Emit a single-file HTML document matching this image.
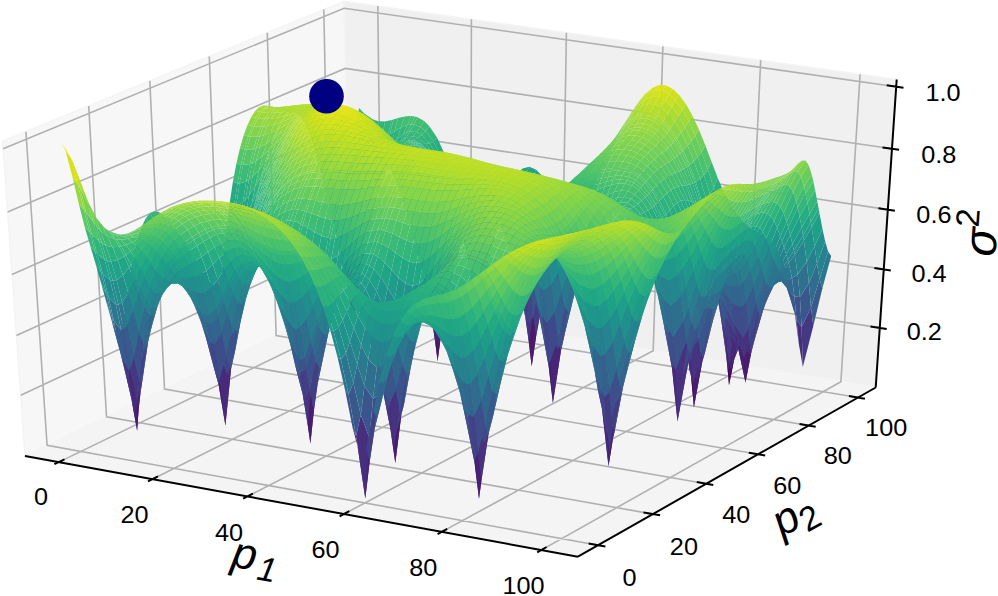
<!DOCTYPE html>
<html><head><meta charset="utf-8"><style>html,body{margin:0;padding:0;background:#fff;overflow:hidden}svg{display:block}</style></head>
<body><svg width="998" height="596" viewBox="0 0 998 596" font-family="'Liberation Sans', sans-serif">
<rect width="998" height="596" fill="#fff"/>
<path d="M25,455.9L349.2,300.5L344,1.3L2.5,141.3Z" fill="#f7f7f7" stroke="#f4f4f4" stroke-width="1.5"/>
<path d="M349.2,300.5L875.7,387.5L896.7,79.5L344,1.3Z" fill="#f0f0f0" stroke="#f4f4f4" stroke-width="1.5"/>
<path d="M25,455.9L577.9,556.7L875.7,387.5L349.2,300.5Z" fill="#f4f4f4" stroke="#f4f4f4" stroke-width="1.5"/>
<path d="M58.8,462.1L381.5,305.8L377.8,6M598.2,545.2L47.1,445.4L25.9,131.8M152.3,479.2L470.7,320.6L471.4,19.3M653,514.1L106.5,416.9L88.7,106M247.3,496.5L561.3,335.5L566.4,32.7M706.3,483.8L164.5,389.1L149.8,80.9M343.8,514.1L653.2,350.7L662.9,46.4M758.2,454.3L221,362L209.3,56.5M441.7,531.9L746.3,366.1L760.7,60.3M808.7,425.5L276.1,335.5L267.3,32.7M541.2,550.1L840.9,381.7L860.1,74.3M858,397.5L329.9,309.7L323.8,9.6M20.7,395.2L348.2,242.5L879.8,327.9M16.4,335.4L347.2,185.5L883.8,269.3M12,274.4L346.2,127.5L887.8,209.6M7.6,212.1L345.2,68.4L892,148.8M3.1,148.7L344.1,8.2L896.3,86.7" fill="none" stroke="#b0b0b0" stroke-width="1.6"/>
<path d="M25,455.9L577.9,556.7M577.9,556.7L875.7,387.5M875.7,387.5L896.7,79.5M54.4,464.2L64.5,459.3M605.4,546.5L588.6,543.4M148,481.3L158,476.3M660.1,515.3L643.5,512.4M243.1,498.6L252.9,493.6M713.3,485L696.8,482.1M339.6,516.3L349.3,511.1M765.2,455.5L748.8,452.7M437.6,534.1L447.2,528.9M815.7,426.7L799.5,424M537.2,552.3L546.6,547M864.9,398.7L848.9,396M886.7,329L870.5,326.4M890.8,270.4L874.4,267.9M894.9,210.7L878.4,208.2M899.1,149.8L882.5,147.4M903.5,87.7L886.7,85.3" fill="none" stroke="#000" stroke-width="2" stroke-linecap="butt"/>
<text transform="translate(41,505.25) scale(1.08,1)" text-anchor="middle" font-size="23.4">0</text>
<text transform="translate(134.6,522.85) scale(1.08,1)" text-anchor="middle" font-size="23.4">20</text>
<text transform="translate(229,540.75) scale(1.08,1)" text-anchor="middle" font-size="23.4">40</text>
<text transform="translate(325.5,557.95) scale(1.08,1)" text-anchor="middle" font-size="23.4">60</text>
<text transform="translate(423.2,576.05) scale(1.08,1)" text-anchor="middle" font-size="23.4">80</text>
<text transform="translate(523.6,594.25) scale(1.08,1)" text-anchor="middle" font-size="23.4">100</text>
<text transform="translate(629.4,585.85) scale(1.08,1)" text-anchor="middle" font-size="23.4">0</text>
<text transform="translate(683.9,554.65) scale(1.08,1)" text-anchor="middle" font-size="23.4">20</text>
<text transform="translate(736.2,523.35) scale(1.08,1)" text-anchor="middle" font-size="23.4">40</text>
<text transform="translate(787.2,493.75) scale(1.08,1)" text-anchor="middle" font-size="23.4">60</text>
<text transform="translate(837.7,464.15) scale(1.08,1)" text-anchor="middle" font-size="23.4">80</text>
<text transform="translate(886.2,436.25) scale(1.08,1)" text-anchor="middle" font-size="23.4">100</text>
<text transform="translate(943.1,101.15) scale(1.08,1)" text-anchor="middle" font-size="23.4">1.0</text>
<text transform="translate(938.8,162.85) scale(1.08,1)" text-anchor="middle" font-size="23.4">0.8</text>
<text transform="translate(933.9,222.75) scale(1.08,1)" text-anchor="middle" font-size="23.4">0.6</text>
<text transform="translate(929,281.95) scale(1.08,1)" text-anchor="middle" font-size="23.4">0.4</text>
<text transform="translate(924.2,340.25) scale(1.08,1)" text-anchor="middle" font-size="23.4">0.2</text>
<text transform="translate(253,570.5) rotate(10.35)" text-anchor="middle" font-size="44" font-style="italic">p<tspan font-size="34" dx="3" dy="8">1</tspan></text>
<text transform="translate(801,527) rotate(-29.1)" text-anchor="middle" font-size="44" font-style="italic">p<tspan font-size="34" font-style="normal" dy="8">2</tspan></text>
<text transform="translate(997,234) rotate(-85.9)" text-anchor="middle" font-size="47" font-style="italic">σ<tspan font-size="33" font-style="normal" dy="-19">2</tspan></text>
<g>
<path fill="#471063" d="M350.5 306l2.9 21.3 2-34.4-2.6-5.9z"/>
<path fill="#470d60" d="M348.2 294.5l2.7 7.2 2.5 25.6-2.9-21.3z"/>
<path fill="#481467" d="M353.4 327.3l3.1-28 2.4-15.4-3.5 9z"/>
<path fill="#471164" d="M350.9 301.7l3.4-11.1 2.2 8.7-3.1 28z"/>
<path fill="#463480" d="M352.8 287l2.6 5.9 2.4-33.8-2.6-2.9z"/>
<path fill="#46337f" d="M343.1 257.9l7.4 48.1 2.3-19-7.2-36.2z"/>
<path fill="#46307e" d="M341 255.2l7.2 39.3 2.3 11.5-7.4-48.1z"/>
<path fill="#453581" d="M355.4 292.9l3.5-9 2.4-28.4-3.5 3.6z"/>
<path fill="#481d6f" d="M472.5 279.7l3.1 5.2 3.5 43.6-3-21.5zM475.6 284.9l3.3-4.5 3.6 26-3.4 22.1z"/>
<path fill="#46327e" d="M343.7 258.1l2.6 2.8 4.6 40.8-2.7-7.2z"/>
<path fill="#453882" d="M356.5 299.3l5.7-42.4 2.5-6.3-5.8 33.3z"/>
<path fill="#453781" d="M354.3 290.6l5.7-36.1 2.2 2.4-5.7 42.4z"/>
<path fill="#463480" d="M346.3 260.9l3.6-3.5 4.4 33.2-3.4 11.1z"/>
<path fill="#404688" d="M345.6 250.8l7.2 36.2 2.4-30.8-6.9-22.9z"/>
<path fill="#3c508b" d="M355.2 256.2l2.6 2.9 1.6-20.2-2.6-2.3z"/>
<path fill="#3e4989" d="M358.9 283.9l5.8-33.3 2.7-16-6.1 20.9z"/>
<path fill="#3c508b" d="M357.8 259.1l3.5-3.6 1.7-18.8-3.6 2.2zM340.9 245.1l2.2 12.8 2.5-7.1-2.2-11.6z"/>
<path fill="#404688" d="M336.8 236.4l6.9 21.7 4.5 36.4-7.2-39.3z"/>
<path fill="#443a83" d="M466.1 252.1l6.4 27.6 3.6 27.3-6.3-45.1z"/>
<path fill="#3c4f8a" d="M338.8 243.1l2.2 12.1 2.1 2.7-2.2-12.8z"/>
<path fill="#375b8d" d="M348.3 233.3l6.9 22.9 1.6-19.6-6.8-17.4zM343.4 239.2l2.2 11.6 2.7-17.5-2.2-8.9z"/>
<path fill="#355f8d" d="M356.8 236.6l2.6 2.3 1.1-11.5-2.6-2z"/>
<path fill="#443b84" d="M478.9 280.4l6.6-25 3.6 9.1-6.6 41.9z"/>
<path fill="#3e4989" d="M349.9 257.4l6-19.9 4.1 17-5.7 36.1z"/>
<path fill="#355f8d" d="M359.4 238.9l3.6-2.2 1-10.9-3.5 1.6z"/>
<path fill="#365c8d" d="M361.3 255.5l6.1-20.9 1.8-13.1-6.2 15.2z"/>
<path fill="#31678e" d="M350 219.2l6.8 17.4 1.1-11.2-6.9-15zM346.1 224.4l2.2 8.9 1.7-14.1-2.1-7.3z"/>
<path fill="#33628d" d="M336 218.9l4.9 26.2 2.5-5.9-4.8-24.5z"/>
<path fill="#375b8d" d="M334.6 227.8l2.2 8.6 4.2 18.8-2.2-12.1z"/>
<path fill="#33628d" d="M333.9 218l4.9 25.1 2.1 2-4.9-26.2z"/>
<path fill="#30698e" d="M338.6 214.7l4.8 24.5 2.7-14.8-4.7-20.3z"/>
<path fill="#3f4889" d="M468.8 247.6l3.2 2.7 3.6 34.6-3.1-5.2z"/>
<path fill="#31678e" d="M363 236.7l6.2-15.2 1.1-8.3-6.3 12.6z"/>
<path fill="#440154" d="M549.1 346l3.3-11.7 1.1 3.4-3.4 16.9z"/>
<path fill="#3f4889" d="M472 250.3l3.3-1.4 3.6 31.5-3.3 4.5z"/>
<path fill="#2d718e" d="M347.9 211.9l2.1 7.3 1-8.8-2.1-6.4z"/>
<path fill="#355f8d" d="M362.2 256.9l5.9-34 2.6-3.8-6 31.5z"/>
<path fill="#2c738e" d="M341.4 204.1l4.7 20.3 1.8-12.5-4.7-17.2z"/>
<path fill="#2b748e" d="M357.9 225.4l2.6 2 3.9-38.2-2.6-1.4z"/>
<path fill="#375b8d" d="M339.3 225.2l2.6 1.8 4.4 33.9-2.6-2.8z"/>
<path fill="#355e8d" d="M360 254.5l6-32.4 2.1.8-5.9 34z"/>
<path fill="#31668e" d="M364.7 250.6l6-31.5 2.8-9.6-6.1 25.1z"/>
<path fill="#2b748e" d="M360.5 227.4l3.5-1.6 4-36.9-3.6.3z"/>
<path fill="#365c8d" d="M341.9 227l3.6-1.4 4.4 31.8-3.6 3.5z"/>
<path fill="#470e61" d="M543.7 314.6l5.4 31.4 1 8.6-5.2-38.7z"/>
<path fill="#3a548c" d="M462.4 231.8l6.4 15.8 3.7 32.1-6.4-27.6z"/>
<path fill="#306a8e" d="M329.8 208l4.8 19.8 4.2 15.3-4.9-25.1z"/>
<path fill="#297a8e" d="M351 210.4l6.9 15 3.9-37.6-6.8-9.5z"/>
<path fill="#355e8d" d="M459.6 221.3l6.5 30.8 3.7 9.8-6.4-37z"/>
<path fill="#3a538b" d="M485.5 255.4l1.9-8.2 3.7 6.8-2 10.5z"/>
<path fill="#297a8e" d="M343.2 194.7l4.7 17.2 1-7.9-4.6-15.6z"/>
<path fill="#32648e" d="M332.4 212l6.9 13.2 4.4 32.9-6.9-21.7z"/>
<path fill="#481769" d="M550.1 354.6l3.4-16.9 4.8-34.3-3.2 3.1z"/>
<path fill="#2d708e" d="M367.4 234.6l6.1-25.1 1.8-8.6-6.1 20.6z"/>
<path fill="#3a548c" d="M475.3 248.9l6.6-12.7 3.6 19.2-6.6 25z"/>
<path fill="#26818e" d="M348.9 204l2.1 6.4 4-32.1-2-4.1z"/>
<path fill="#29798e" d="M364 225.8l6.3-12.6 4.1-30.4-6.4 6.1z"/>
<path fill="#471365" d="M547.5 325l3.2-4.6 1.7 13.9-3.3 11.7z"/>
<path fill="#440256" d="M435.7 345.8l1.9 15.3 1.2-17.3-1.9-6z"/>
<path fill="#482071" d="M544.9 315.9l5.2 38.7 5-48.1-5.6-14.9z"/>
<path fill="#31668e" d="M355.9 237.5l6.1-24.5 4 9.1-6 32.4z"/>
<path fill="#2a778e" d="M369.2 221.5l6.1-20.6 1.1-5.8-6.1 18.1z"/>
<path fill="#32658e" d="M345.5 225.6l6.2-10.9 4.2 22.8-6 19.9z"/>
<path fill="#481c6e" d="M542 306.3l5.5 18.7 1.6 21-5.4-31.4z"/>
<path fill="#23888e" d="M344.3 188.4l4.6 15.6 4.1-29.8-4.6-10.6z"/>
<path fill="#2e6f8e" d="M330.3 206.2l2.1 5.8 4.4 24.4-2.2-8.6z"/>
<path fill="#481c6e" d="M552.4 334.3l4.5-24.1 1.1.7-4.5 26.8z"/>
<path fill="#2c728e" d="M368.1 222.9l1.7-8.5 2.6-3.4-1.7 8.1z"/>
<path fill="#2a778e" d="M370.7 219.1l1.7-8.1 2.8-8.4-1.7 6.9z"/>
<path fill="#33628d" d="M487.4 247.2l4.7-18.7 3.7 2.9-4.7 22.6z"/>
<path fill="#460b5e" d="M433.1 327.4l1.9 3.5 2.6 30.2-1.9-15.3z"/>
<path fill="#2f6b8e" d="M455.9 210l6.5 21.8 3.7 20.3-6.5-30.8z"/>
<path fill="#471063" d="M437.6 361.1l4.5-34.2 1.3-3.9-4.6 20.8z"/>
<path fill="#218f8d" d="M361.8 187.8l2.6 1.4 3.5-26.9-2.7-1.3z"/>
<path fill="#2c728e" d="M366 222.1l1.7-8.3 2.1.6-1.7 8.5z"/>
<path fill="#34618d" d="M481.9 236.2l1.9-5.1 3.6 16.1-1.9 8.2z"/>
<path fill="#472a7a" d="M553.5 337.7l4.5-26.8 4.6-20.6-4.3 13.1z"/>
<path fill="#218f8d" d="M364.4 189.2l3.6-.3 3.5-26.3-3.6-.3z"/>
<path fill="#20928c" d="M355 178.3l6.8 9.5 3.4-26.8-6.7-7z"/>
<path fill="#25848e" d="M370.3 213.2l6.1-18.1 4.3-22.9-6.3 10.6z"/>
<path fill="#277e8e" d="M373.5 209.5l1.7-6.9 1.9-7.6-1.8 5.9z"/>
<path fill="#29798e" d="M325.6 191.9l4.7 14.3 4.3 21.6-4.8-19.8z"/>
<path fill="#482576" d="M550.7 320.4l4.4-16.2 1.8 6-4.5 24.1z"/>
<path fill="#1f978b" d="M353 174.2l2 4.1 3.5-24.3-2-3z"/>
<path fill="#26828e" d="M375.3 200.9l1.8-5.9 1.1-5.2-1.8 5.3z"/>
<path fill="#31688e" d="M465.1 221.7l3.2 2 3.7 26.6-3.2-2.7z"/>
<path fill="#20928c" d="M368 188.9l6.4-6.1 3.5-23.3-6.4 3.1z"/>
<path fill="#297a8e" d="M453.1 194.2l6.5 27.1 3.8 3.6-6.5-30z"/>
<path fill="#481769" d="M435 330.9l4.6-13.7 2.5 9.7-4.5 34.2z"/>
<path fill="#31678e" d="M468.3 223.7l3.4-.3 3.6 25.5-3.3 1.4z"/>
<path fill="#1e9c89" d="M348.4 163.6l4.6 10.6 3.5-23.2-4.6-7.8z"/>
<path fill="#2a778e" d="M362 213l1.7-6.8 4 7.6-1.7 8.3z"/>
<path fill="#472c7a" d="M545.1 302.3l3.2-1.4 2.4 19.5-3.2 4.6z"/>
<path fill="#2e6e8e" d="M458.6 211.6l6.5 10.1 3.7 25.9-6.4-15.8z"/>
<path fill="#26828e" d="M372.4 211l4.3-17.6 2.9-6.3-4.4 15.5z"/>
<path fill="#277f8e" d="M369.8 214.4l4.3-18.4 2.6-2.6-4.3 17.6z"/>
<path fill="#482576" d="M436.9 337.8l1.9 6 3.7-45.1-1.9-1.8z"/>
<path fill="#2a768e" d="M351.7 214.7l6.2-16.5 4.1 14.8-6.1 24.5z"/>
<path fill="#443b84" d="M537.7 275.3l6 39.3 1.2 1.3-6-40.9z"/>
<path fill="#46327e" d="M539.4 291.3l5.7 11 2.4 22.7-5.5-18.7z"/>
<path fill="#218e8d" d="M376.4 195.1l1.8-5.3 4.3-20.9-1.8 3.3z"/>
<path fill="#482677" d="M429 298.2l6.7 47.6 1.2-8-6.6-41.8z"/>
<path fill="#2f6c8e" d="M483.8 231.1l4.7-12.7 3.6 10.1-4.7 18.7z"/>
<path fill="#24878e" d="M375.2 202.6l4.4-15.5 1.9-5.7-4.4 13.6z"/>
<path fill="#414287" d="M555.1 306.5l3.2-3.1 4.2-36-3.2.8z"/>
<path fill="#297a8e" d="M334.5 195.7l2.6 1.3 4.8 30-2.6-1.8z"/>
<path fill="#277e8e" d="M367.7 213.8l4.3-18 2.1.2-4.3 18.4z"/>
<path fill="#414487" d="M538.9 275l6 40.9 4.6-24.3-6.1-29.9z"/>
<path fill="#2e6d8e" d="M471.7 223.4l6.5-6.4 3.7 19.2-6.6 12.7z"/>
<path fill="#228b8d" d="M377.1 195l4.4-13.6 1.2-4-4.5 12.4z"/>
<path fill="#297a8e" d="M337.1 197l3.7-.3 4.7 28.9-3.6 1.4z"/>
<path fill="#3f4788" d="M549.5 291.6l5.6 14.9 4.2-38.3-5.7-8.4z"/>
<path fill="#20a386" d="M365.2 161l2.7 1.3 3.5-22.8-2.6-1.2z"/>
<path fill="#48186a" d="M528.8 341.7l2.9 24.5 4.5-46.1-3.1-4.6z"/>
<path fill="#1f988b" d="M374.4 182.8l6.3-10.6 3.6-19-6.4 6.3z"/>
<path fill="#21a685" d="M358.5 154l6.7 7 3.6-22.7-6.7-5.5z"/>
<path fill="#1fa287" d="M367.9 162.3l3.6.3 3.6-22.4-3.7-.7z"/>
<path fill="#277f8e" d="M327.7 187l6.8 8.7 4.8 29.5-6.9-13.2z"/>
<path fill="#423f85" d="M535.9 273.4l6.1 32.9 1.7 8.3-6-39.3z"/>
<path fill="#472c7a" d="M438.8 343.8l4.6-20.8 3.7-30.5-4.6 6.2z"/>
<path fill="#23a983" d="M356.5 151l2 3 3.6-21.2-2.1-2.3z"/>
<path fill="#26818e" d="M449.4 188.5l6.5 21.5 3.7 11.3-6.5-27.1z"/>
<path fill="#453581" d="M548.3 300.9l4.2-8.5 2.6 11.8-4.4 16.2z"/>
<path fill="#472c7a" d="M426.5 293.2l6.6 34.2 2.6 18.4-6.7-47.6z"/>
<path fill="#481b6d" d="M531.7 366.2l4.5-30.5 4.2-22.4-4.2 6.8z"/>
<path fill="#26ad81" d="M351.9 143.2l4.6 7.8 3.5-20.5-4.5-6z"/>
<path fill="#20a486" d="M371.5 162.6l6.4-3.1 3.6-20.4-6.4 1.1z"/>
<path fill="#48186a" d="M525.7 318.8l3.1 5.9 2.9 41.5-2.9-24.5z"/>
<path fill="#297b8e" d="M452.1 196.5l6.5 15.1 3.8 20.2-6.5-21.8z"/>
<path fill="#1f948c" d="M378.2 189.8l4.5-12.4 4.3-16.7-4.5 8.2z"/>
<path fill="#3e4a89" d="M558.3 303.4l4.3-13.1 4.2-29.2-4.3 6.3z"/>
<path fill="#25858e" d="M325.6 183.1l2.1 3.9 4.7 25-2.1-5.8z"/>
<path fill="#2a778e" d="M492.1 228.5l6.7-22.2 3.7-.3-6.7 25.4z"/>
<path fill="#26828e" d="M363.7 206.2l4.4-15.4 3.9 5-4.3 18z"/>
<path fill="#277f8e" d="M340.8 196.7l6.3-5.9 4.6 23.9-6.2 10.9z"/>
<path fill="#472a7a" d="M431.2 308.1l1.9 2.1 1.9 20.7-1.9-3.5z"/>
<path fill="#1f9e89" d="M380.7 172.2l1.8-3.3 3.6-17.8-1.8 2.1z"/>
<path fill="#2c738e" d="M478.2 217l1.9-2.9 3.7 17-1.9 5.1z"/>
<path fill="#443983" d="M430.3 296l6.6 41.8 3.7-40.9-6.6-21.1z"/>
<path fill="#481b6d" d="M528.8 324.7l4.2-8.4 3.2 19.4-4.5 30.5z"/>
<path fill="#424186" d="M556.9 310.2l7.2-34.4 1.1-.5-7.2 35.6z"/>
<path fill="#26828e" d="M357.9 198.2l1.8-5 4 13-1.7 6.8z"/>
<path fill="#21908d" d="M446.6 172.1l6.5 22.1 3.8.7-6.5-23.9z"/>
<path fill="#228c8d" d="M321 173.1l4.6 10 4.7 23.1-4.7-14.3z"/>
<path fill="#22a884" d="M377.9 159.5l6.4-6.3 3.6-17.5-6.4 3.4z"/>
<path fill="#3f4889" d="M558 310.9l7.2-35.6 4.5-12.2-7.1 27.2z"/>
<path fill="#2fb47c" d="M368.8 138.3l2.6 1.2 3.6-19.2-2.6-1.2z"/>
<path fill="#32b67a" d="M362.1 132.8l6.7 5.5 3.6-19.2-6.7-4.6z"/>
<path fill="#375a8c" d="M543.4 261.7l6.1 29.9 4.1-31.8-6.3-19.1z"/>
<path fill="#3e4989" d="M533.1 267.5l6.3 23.8 2.6 15-6.1-32.9z"/>
<path fill="#472f7d" d="M433.1 310.2l4.6-7.7 1.9 14.7-4.6 13.7z"/>
<path fill="#37b878" d="M360 130.5l2.1 2.3 3.6-18.3-2.1-1.8z"/>
<path fill="#2eb37c" d="M371.4 139.5l3.7.7 3.6-18.9-3.7-1z"/>
<path fill="#424086" d="M542.7 290.5l3.2-.1 2.4 10.5-3.2 1.4z"/>
<path fill="#1fa287" d="M382.5 168.9l4.5-8.2 3.7-14.9-4.6 5.3z"/>
<path fill="#414487" d="M555.1 304.2l7.1-29.4 1.9 1-7.2 34.4z"/>
<path fill="#3aba76" d="M355.5 124.5l4.5 6 3.6-17.8-4.5-4.7z"/>
<path fill="#20928c" d="M376.7 193.4l6.3-19.9 2.9-4.3-6.3 17.9z"/>
<path fill="#1f958b" d="M379.6 187.1l6.3-17.9 1.9-4-6.3 16.2z"/>
<path fill="#414487" d="M537 281.8l5.7 8.7 2.4 11.8-5.7-11z"/>
<path fill="#1f988b" d="M381.5 181.4l6.3-16.2 1.2-2.8-6.3 15z"/>
<path fill="#21908d" d="M374.1 196l6.2-20.6 2.7-1.9-6.3 19.9z"/>
<path fill="#2fb47c" d="M375.1 140.2l6.4-1.1 3.6-17.7-6.4-.1z"/>
<path fill="#287d8e" d="M488.5 218.4l6.6-16.5 3.7 4.4-6.7 22.2z"/>
<path fill="#297a8e" d="M480.1 214.1l4.7-7.8 3.7 12.1-4.7 12.7z"/>
<path fill="#25ac82" d="M384.3 153.2l1.8-2.1 3.7-16.6-1.9 1.2z"/>
<path fill="#443983" d="M442.1 326.9l6.4-40 1.3-1.6-6.4 37.7z"/>
<path fill="#46327e" d="M523.4 303l5.4 38.7 4.3-26.2-5.6-21.7z"/>
<path fill="#238a8d" d="M445.6 180.3l6.5 16.2 3.8 13.5-6.5-21.5z"/>
<path fill="#1fa088" d="M382.7 177.4l6.3-15 4.4-12.1-6.4 10.4z"/>
<path fill="#21908d" d="M372 195.8l6.2-20.3 2.1-.1-6.2 20.6z"/>
<path fill="#20928c" d="M442.8 169.8l6.6 18.7 3.7 5.7-6.5-22.1z"/>
<path fill="#404588" d="M545.9 290.4l4.2-5.3 2.4 7.3-4.2 8.5z"/>
<path fill="#443b84" d="M424.6 283.6l6.6 24.5 1.9 19.3-6.6-34.2z"/>
<path fill="#277f8e" d="M460.8 199.5l3.1 1.7 4.4 22.5-3.2-2z"/>
<path fill="#443983" d="M533.1 315.5l3.1 4.6 4-24.9-3.2-1.8z"/>
<path fill="#23898e" d="M347.1 190.8l6.3-10.3 4.5 17.7-6.2 16.5z"/>
<path fill="#277f8e" d="M463.9 201.2l3.4.5 4.4 21.7-3.4.3z"/>
<path fill="#228c8d" d="M359.7 193.2l4.4-11.9 4 9.5-4.4 15.4z"/>
<path fill="#32b67a" d="M381.5 139.1l6.4-3.4 3.7-15.7-6.5 1.4z"/>
<path fill="#28ae80" d="M386.1 151.1l4.6-5.3 3.7-14.4-4.6 3.1z"/>
<path fill="#26828e" d="M454.2 192.5l6.6 7 4.3 22.2-6.5-10.1z"/>
<path fill="#433d84" d="M439.6 317.2l6.4-33.6 2.5 3.3-6.4 40z"/>
<path fill="#32648e" d="M559.3 268.2l3.2-.8 4.2-31.6-3.2 0z"/>
<path fill="#31678e" d="M553.6 259.8l5.7 8.4 4.2-32.4-5.8-5.6z"/>
<path fill="#375b8d" d="M562.6 290.3l7.1-27.2 4-19.2-6.9 17.2z"/>
<path fill="#3e4c8a" d="M552.5 292.4l7-21.3 2.7 3.7-7.1 29.4z"/>
<path fill="#443b84" d="M536.2 320.1l4.2-6.8 4-21.8-4.2 3.7z"/>
<path fill="#24aa83" d="M387 160.7l6.4-10.4 3.7-11.4-6.4 6.9z"/>
<path fill="#46337f" d="M520.1 293.3l5.6 25.5 3.1 22.9-5.4-38.7z"/>
<path fill="#3e4989" d="M540.8 286.9l3.1.6 2 2.9-3.2.1z"/>
<path fill="#3e4a89" d="M425.5 276.8l3.5 21.4 1.3-2.2-3.5-20.7z"/>
<path fill="#3c508b" d="M440.6 296.9l1.9 1.8 3.7-36.1-1.9-1.1z"/>
<path fill="#34608d" d="M531.5 243.9l6.2 31.4 1.2-.3-6.2-32z"/>
<path fill="#35b779" d="M387.9 135.7l1.9-1.2 3.7-15.1-1.9.6z"/>
<path fill="#404688" d="M443.4 323l6.4-37.7 3.8-15-6.5 22.2z"/>
<path fill="#32648e" d="M532.7 243l6.2 32 4.5-13.3-6.3-27.9z"/>
<path fill="#1fa188" d="M440.1 154.7l6.5 17.4 3.8-1.1-6.6-18.7z"/>
<path fill="#3d4d8a" d="M535 278.3l5.8 8.6 1.9 3.6-5.7-8.7z"/>
<path fill="#3a538b" d="M530.6 262.6l6.4 19.2 2.4 9.5-6.3-23.8z"/>
<path fill="#26818e" d="M467.3 201.7l6.6-2.4 4.3 17.7-6.5 6.4z"/>
<path fill="#20928c" d="M368.1 190.8l6.2-18.2 3.9 2.9-6.2 20.3z"/>
<path fill="#414487" d="M527.5 293.8l5.6 21.7 3.9-22.1-5.7-11.9z"/>
<path fill="#31678e" d="M562.5 267.4l4.3-6.3 4.1-28.5-4.2 3.2z"/>
<path fill="#228b8d" d="M447.7 182.3l6.5 10.2 4.4 19.1-6.5-15.1z"/>
<path fill="#20928c" d="M330.5 174.8l2.6 1.1 4 21.1-2.6-1.3z"/>
<path fill="#3f4889" d="M537 293.4l3.2 1.8 3.7-7.7-3.1-.6z"/>
<path fill="#34608d" d="M529.6 244l6.3 29.4 1.8 1.9-6.2-31.4z"/>
<path fill="#3b528b" d="M442.5 298.7l4.6-6.2 3.7-32.1-4.6 2.2z"/>
<path fill="#38b977" d="M389.8 134.5l4.6-3.1 3.7-13.4-4.6 1.4z"/>
<path fill="#238a8d" d="M498.8 206.3l6.7-16.4 3.7-2.3-6.7 18.4z"/>
<path fill="#3e4c8a" d="M543.9 287.5l4.3-4 1.9 1.6-4.2 5.3z"/>
<path fill="#424186" d="M429.2 289.3l1.9 1.6 2 19.3-1.9-2.1z"/>
<path fill="#3a538b" d="M426.8 275.3l3.5 20.7 3.7-20.2-3.4-14.9z"/>
<path fill="#3d4d8a" d="M423 273.7l3.5 19.5 2.5 5-3.5-21.4z"/>
<path fill="#1f958b" d="M323.7 168.2l6.8 6.6 4 20.9-6.8-8.7z"/>
<path fill="#2eb37c" d="M390.7 145.8l6.4-6.9 3.7-11.4-6.4 3.9z"/>
<path fill="#20928c" d="M333.1 175.9l3.7.2 4 20.6-3.7.3z"/>
<path fill="#2d718e" d="M547.3 240.7l6.3 19.1 4.1-29.6-6.4-12.5z"/>
<path fill="#1f998a" d="M439 165.5l6.6 14.8 3.8 8.2-6.6-18.7z"/>
<path fill="#3d4e8a" d="M531.3 281.5l5.7 11.9 3.8-6.5-5.8-8.6z"/>
<path fill="#38598c" d="M434 275.8l6.6 21.1 3.7-35.4-6.6-12.1z"/>
<path fill="#25858e" d="M484.8 206.3l6.6-11 3.7 6.6-6.6 16.5z"/>
<path fill="#20928c" d="M353.4 180.5l1.8-3.3 4.5 16-1.8 5z"/>
<path fill="#2d708e" d="M537.1 233.8l6.3 27.9 3.9-21-6.3-21z"/>
<path fill="#3e4a89" d="M540.2 295.2l4.2-3.7 3.8-8-4.3 4z"/>
<path fill="#25848e" d="M473.9 199.3l1.9-1.4 4.3 16.2-1.9 2.9z"/>
<path fill="#443b84" d="M536.2 335.7l7.1-41.1 4.1-7.6-7 26.3z"/>
<path fill="#1f998a" d="M321.6 165.3l2.1 2.9 4 18.8-2.1-3.9z"/>
<path fill="#1fa287" d="M436.3 154.7l6.5 15.1 3.8 2.3-6.5-17.4z"/>
<path fill="#21a585" d="M387.8 165.2l6.4-12.1 1.1-2-6.3 11.3z"/>
<path fill="#20a386" d="M385.9 169.2l6.3-13.3 2-2.8-6.4 12.1z"/>
<path fill="#404588" d="M431.1 290.9l4.6-4.6 2 16.2-4.6 7.7z"/>
<path fill="#24aa83" d="M389 162.4l6.3-11.3 4.5-8.7-6.4 7.9z"/>
<path fill="#1fa187" d="M383 173.5l6.3-14.6 2.9-3-6.3 13.3z"/>
<path fill="#3dbc74" d="M394.4 131.4l6.4-3.9 3.8-11.1-6.5 1.6z"/>
<path fill="#3a538b" d="M550.1 285.1l6.9-16.5 2.5 2.5-7 21.3z"/>
<path fill="#32648e" d="M526.8 242.5l6.3 25 2.8 5.9-6.3-29.4z"/>
<path fill="#1f948c" d="M336.8 176.1l6.4-3.4 3.9 18.1-6.3 5.9z"/>
<path fill="#375a8c" d="M528.7 260.5l6.3 17.8 2 3.5-6.4-19.2z"/>
<path fill="#2ab07f" d="M393.4 150.3l6.4-7.9 3.7-8.5-6.4 5z"/>
<path fill="#3f4788" d="M437.7 302.5l6.4-25.8 1.9 6.9-6.4 33.6z"/>
<path fill="#1f9e89" d="M317 157.7l4.6 7.6 4 17.8-4.6-10z"/>
<path fill="#1fa088" d="M380.3 175.4l6.3-15.1 2.7-1.4-6.3 14.6z"/>
<path fill="#1f968b" d="M441.1 170.8l6.6 11.5 4.4 14.2-6.5-16.2z"/>
<path fill="#228c8d" d="M495.1 201.9l6.7-12.7 3.7.7-6.7 16.4z"/>
<path fill="#27ad81" d="M433.5 141.6l6.6 13.1 3.7-2.4-6.5-14.2z"/>
<path fill="#3d4d8a" d="M422.6 271.2l6.6 18.1 2 18.8-6.6-24.5z"/>
<path fill="#23888e" d="M475.8 197.9l4.6-3.9 4.4 12.3-4.7 7.8z"/>
<path fill="#440154" d="M727.8 371.3l1.2 13.9 1.8-15.5-1.6-5.6z"/>
<path fill="#228c8d" d="M459.6 195l3.1 1.6 1.2 4.6-3.1-1.7z"/>
<path fill="#35b779" d="M397.1 138.9l6.4-5 3.8-9-6.5 2.6z"/>
<path fill="#433d84" d="M533 316.3l7-29.7 3.3 8-7.1 41.1z"/>
<path fill="#1f998a" d="M364.1 181.3l6.3-14.7 3.9 6-6.2 18.2z"/>
<path fill="#228b8d" d="M462.7 196.6l3.4.7 1.2 4.4-3.4-.5z"/>
<path fill="#218f8d" d="M453 188.5l6.6 6.5 1.2 4.5-6.6-7z"/>
<path fill="#3a548c" d="M421.1 267l3.5 16.6 1.9 9.6-3.5-19.5z"/>
<path fill="#1fa188" d="M378.2 175.5l6.3-15 2.1-.2-6.3 15.1z"/>
<path fill="#3e4a89" d="M540.4 313.3l7-26.3 3.8-11.9-6.8 16.4z"/>
<path fill="#2d718e" d="M566.8 261.1l6.9-17.2 4-22-6.8 10.7z"/>
<path fill="#1f988b" d="M355.2 177.2l4.5-8.3 4.4 12.4-4.4 11.9z"/>
<path fill="#42be71" d="M400.8 127.5l6.5-2.6 3.8-9-6.5.5z"/>
<path fill="#365c8d" d="M524.9 261.4l6.4 20.1 3.7-3.2-6.3-17.8z"/>
<path fill="#21a585" d="M432.4 153.2l6.6 12.3 3.8 4.3-6.5-15.1z"/>
<path fill="#355e8d" d="M422.3 258.9l3.2 17.9 1.3-1.5-3.2-17.5z"/>
<path fill="#27ad81" d="M429.7 143.5l6.6 11.2 3.8 0-6.6-13.1z"/>
<path fill="#31668e" d="M430.6 260.9l3.4 14.9 3.7-26.4-3.4-9.6z"/>
<path fill="#355e8d" d="M447.1 292.5l6.5-22.2 3.8-21.6-6.6 11.7z"/>
<path fill="#38588c" d="M548.2 283.5l6.8-14.8 2-.1-6.9 16.5z"/>
<path fill="#277e8e" d="M541 219.7l6.3 21 4-23-6.4-14.8z"/>
<path fill="#228d8d" d="M466.1 197.3l6.6-1.7 1.2 3.7-6.6 2.4z"/>
<path fill="#1f958b" d="M446.5 179.1l6.5 9.4 1.2 4-6.5-10.2z"/>
<path fill="#31b57b" d="M399.8 142.4l3.7-3.1 3.7-7.1-3.7 1.7z"/>
<path fill="#2ab07f" d="M395.3 151.1l3.7-4.6 4.5-7.2-3.7 3.1z"/>
<path fill="#38588c" d="M521.2 266.3l6.3 27.5 3.8-12.3-6.4-20.1z"/>
<path fill="#33638d" d="M423.6 257.8l3.2 17.5 3.8-14.4-3.2-13.9z"/>
<path fill="#3aba76" d="M403.5 133.9l3.7-1.7 3.8-7.8-3.7.5z"/>
<path fill="#26ad81" d="M394.2 153.1l3.6-5 1.2-1.6-3.7 4.6z"/>
<path fill="#3b528b" d="M517.2 268.9l6.2 34.1 4.1-9.2-6.3-27.5z"/>
<path fill="#31688e" d="M524.3 240.8l6.3 21.8 2.5 4.9-6.3-25z"/>
<path fill="#34b679" d="M425.6 131.1l7.9 10.5 3.8-3.5-7.9-11.9z"/>
<path fill="#424186" d="M522.3 285.1l3.2 2.5 3.3 37.1-3.1-5.9z"/>
<path fill="#450559" d="M726.6 358.3l1.6 4.2.8 22.7-1.2-13.9z"/>
<path fill="#277f8e" d="M557.7 230.2l5.8 5.6 4.1-27.7-5.8-4z"/>
<path fill="#33638d" d="M564.1 275.8l7.1-29 1.2-1-7.2 29.5z"/>
<path fill="#31678e" d="M565.2 275.3l7.2-29.5 4.4-8.9-7.1 26.2z"/>
<path fill="#25ac82" d="M392.2 155.9l3.7-5.6 1.9-2.2-3.6 5z"/>
<path fill="#44bf70" d="M407.3 124.9l3.7-.5 3.8-8-3.7-.5z"/>
<path fill="#39558c" d="M544.4 291.5l6.8-16.4 3.8-6.4-6.8 14.8z"/>
<path fill="#277e8e" d="M563.5 235.8l3.2 0 4.1-27.4-3.2-.3z"/>
<path fill="#46085c" d="M729 385.2l5.2-25.9 1.3-4.4-4.7 14.8z"/>
<path fill="#1fa188" d="M434.5 159.8l6.6 11 4.5 9.5-6.6-14.8z"/>
<path fill="#1e9b8a" d="M343.2 172.7l6.3-6.6 3.9 14.4-6.3 10.3z"/>
<path fill="#355f8d" d="M419.8 256.8l3.2 16.9 2.5 3.1-3.2-17.9z"/>
<path fill="#20928c" d="M457.6 188.8l3.2 1.7 1.9 6.1-3.1-1.6z"/>
<path fill="#3bbb75" d="M407.2 132.2l2.8-.7 3.8-6.9-2.8-.2z"/>
<path fill="#44bf70" d="M411 124.4l2.8.2 3.8-7.4-2.8-.8z"/>
<path fill="#1fa287" d="M374.3 172.6l6.3-13.7 3.9 1.6-6.3 15z"/>
<path fill="#25ab82" d="M389.3 158.9l3.6-6.2 3-2.4-3.7 5.6z"/>
<path fill="#34b679" d="M403.5 139.3l2.7-1.6 3.8-6.2-2.8.7z"/>
<path fill="#1f988b" d="M505.5 189.9l6.6-10.6 3.8-4.1-6.7 12.4z"/>
<path fill="#1f948c" d="M451.1 182.9l6.5 5.9 2 6.2-6.6-6.5z"/>
<path fill="#21918c" d="M460.8 190.5l3.4.9 1.9 5.9-3.4-.7z"/>
<path fill="#33638d" d="M562.2 274.8l7.1-27.3 1.9-.7-7.1 29z"/>
<path fill="#218f8d" d="M472.7 195.6l1.9-1 1.2 3.3-1.9 1.4z"/>
<path fill="#21918c" d="M491.4 195.3l6.6-8.7 3.8 2.6-6.7 12.7z"/>
<path fill="#414487" d="M525.5 287.6l4.2-3.4 3.3 32.1-4.2 8.4z"/>
<path fill="#297b8e" d="M526.4 218.6l6.3 24.4 4.4-9.2-6.3-22.2z"/>
<path fill="#471365" d="M221.1 384l1.3-16 2.3-27.6-1.9 2.5z"/>
<path fill="#3fbc73" d="M420.4 126.9l5.2 4.2 3.8-4.9-5.3-5.1z"/>
<path fill="#42be71" d="M413.8 124.6l6.6 2.3 3.7-5.8-6.5-3.9z"/>
<path fill="#32b67a" d="M421.8 134.9l7.9 8.6 3.8-1.9-7.9-10.5z"/>
<path fill="#25848e" d="M551.3 217.7l6.4 12.5 4.1-26.1-6.5-8.5z"/>
<path fill="#2eb37c" d="M399 146.5l2.8-2.7 4.4-6.1-2.7 1.6z"/>
<path fill="#277f8e" d="M566.7 235.8l4.2-3.2 4.1-25.8-4.2 1.6z"/>
<path fill="#21908d" d="M480.4 194l6.6-6 4.4 7.3-6.6 11z"/>
<path fill="#2a788e" d="M525.2 219.6l6.3 24.3 1.2-.9-6.3-24.4z"/>
<path fill="#3bbb75" d="M410 131.5l6.6.6 3.8-5.2-6.6-2.3z"/>
<path fill="#28ae80" d="M425.9 144.1l6.5 9.1 3.9 1.5-6.6-11.2z"/>
<path fill="#1f9e89" d="M439.9 168.5l6.6 10.6 1.2 3.2-6.6-11.5z"/>
<path fill="#2e6d8e" d="M444.3 261.5l1.9 1.1 3.8-28.2-2-.9z"/>
<path fill="#26828e" d="M530.8 211.6l6.3 22.2 3.9-14.1-6.4-17.9z"/>
<path fill="#2ab07f" d="M397.8 148.1l2.8-3 1.2-1.3-2.8 2.7z"/>
<path fill="#2c718e" d="M569.7 263.1l7.1-26.2 3.9-13.2-7 20.2z"/>
<path fill="#24aa83" d="M386.6 160.3l3.7-6.4 2.6-1.2-3.6 6.2z"/>
<path fill="#470d60" d="M728.2 362.5l4.5-7.7 1.5 4.5-5.2 25.9z"/>
<path fill="#3aba76" d="M416.6 132.1l5.2 2.8 3.8-3.8-5.2-4.2z"/>
<path fill="#1f9a8a" d="M444.5 174.5l6.6 8.4 1.9 5.6-6.5-9.4z"/>
<path fill="#20928c" d="M464.2 191.4l6.6-.7 1.9 4.9-6.6 1.7z"/>
<path fill="#37b878" d="M406.2 137.7l6.6-1.4 3.8-4.2-6.6-.6z"/>
<path fill="#2a788e" d="M523.3 220.6l6.3 23.4 1.9-.1-6.3-24.3z"/>
<path fill="#2f6b8e" d="M522.3 240l6.4 20.5 1.9 2.1-6.3-21.8z"/>
<path fill="#29af7f" d="M395.9 150.3l2.7-3.3 2-1.9-2.8 3z"/>
<path fill="#3a548c" d="M435.7 286.3l6.5-19.2 1.9 9.6-6.4 25.8z"/>
<path fill="#2e6e8e" d="M446.2 262.6l4.6-2.2 3.8-26.5-4.6.5z"/>
<path fill="#20928c" d="M474.6 194.6l4.7-3.2 1.1 2.6-4.6 3.9z"/>
<path fill="#2c718e" d="M437.7 249.4l6.6 12.1 3.7-28-6.5-7.8z"/>
<path fill="#2d708e" d="M427.4 247l3.2 13.9 3.7-21.1-3.2-9.8z"/>
<path fill="#39558c" d="M513.8 263.7l6.3 29.6 3.3 9.7-6.2-34.1z"/>
<path fill="#1f978b" d="M501.8 189.2l6.6-8 3.7-1.9-6.6 10.6z"/>
<path fill="#355f8d" d="M419.1 257.7l3.5 13.5 2 12.4-3.5-16.6z"/>
<path fill="#24aa83" d="M427.9 150.6l6.6 9.2 4.5 5.7-6.6-12.3z"/>
<path fill="#32658e" d="M559.5 271.1l7-23.7 2.8.1-7.1 27.3z"/>
<path fill="#31b57b" d="M418 137.8l7.9 6.3 3.8-.6-7.9-8.6z"/>
<path fill="#481b6d" d="M215.3 348l5.8 36 1.7-41.1-4.9-12.8z"/>
<path fill="#3d4e8a" d="M516.6 271.6l5.7 13.5 3.4 33.7-5.6-25.5z"/>
<path fill="#28ae80" d="M392.9 152.7l2.8-3.7 2.9-2-2.7 3.3z"/>
<path fill="#32b67a" d="M401.8 143.8l6.5-3.6 4.5-3.9-6.6 1.4z"/>
<path fill="#37b878" d="M412.8 136.3l5.2 1.5 3.8-2.9-5.2-2.8z"/>
<path fill="#24aa83" d="M384.5 160.5l3.7-6.4 2.1-.2-3.7 6.4z"/>
<path fill="#1fa188" d="M349.5 166.1l1.9-2.3 3.8 13.4-1.8 3.3z"/>
<path fill="#20928c" d="M470.8 190.7l1.9-.7 1.9 4.6-1.9 1z"/>
<path fill="#32648e" d="M417.9 251.8l3.2 15.2 1.9 6.7-3.2-16.9z"/>
<path fill="#20a486" d="M326.2 156.3l2.6 1 4.3 18.6-2.6-1.1z"/>
<path fill="#22a785" d="M319.4 151.1l6.8 5.2 4.3 18.5-6.8-6.6z"/>
<path fill="#218e8d" d="M544.9 202.9l6.4 14.8 4-22.1-6.5-10.2z"/>
<path fill="#228c8d" d="M534.6 201.8l6.4 17.9 3.9-16.8-6.4-13.4z"/>
<path fill="#1fa188" d="M438 165.2l6.5 9.3 2 4.6-6.6-10.6z"/>
<path fill="#1fa287" d="M359.7 168.9l6.4-10.7 4.3 8.4-6.3 14.7z"/>
<path fill="#29798e" d="M520.4 221.1l6.4 21.4 2.8 1.5-6.3-23.4z"/>
<path fill="#21a685" d="M433.3 158.3l6.6 10.2 1.2 2.3-6.6-11z"/>
<path fill="#20a486" d="M328.8 157.3l3.7.4 4.3 18.4-3.7-.2z"/>
<path fill="#2fb47c" d="M400.6 145.1l6.5-4 1.2-.9-6.5 3.6z"/>
<path fill="#355f8d" d="M448.5 286.9l6.6-30.8 1.3-.8-6.6 30z"/>
<path fill="#24aa83" d="M317.3 149l2.1 2.1 4.3 17.1-2.1-2.9z"/>
<path fill="#1f9f88" d="M512.1 179.3l2.4-2.4 3.8-4.7-2.4 3z"/>
<path fill="#2e6d8e" d="M518.6 240.3l6.3 21.1 3.8-.9-6.4-20.5z"/>
<path fill="#28ae80" d="M390.3 153.9l2.7-3.9 2.7-1-2.8 3.7z"/>
<path fill="#1f978b" d="M454.7 182.2l3.2 1.8 2.9 6.5-3.2-1.7z"/>
<path fill="#25848e" d="M570.9 232.6l6.8-10.7 4.1-21.8-6.8 6.7z"/>
<path fill="#22a785" d="M370.4 166.6l6.3-11.5 3.9 3.8-6.3 13.7z"/>
<path fill="#33638d" d="M449.8 285.3l6.6-30 3.8-8.1-6.6 23.1z"/>
<path fill="#2a788e" d="M434.3 239.8l3.4 9.6 3.8-23.7-3.5-6.4z"/>
<path fill="#2fb47c" d="M398.6 147l6.5-4.8 2-1.1-6.5 4z"/>
<path fill="#2cb17e" d="M421.4 143.9l6.5 6.7 4.5 2.6-6.5-9.1z"/>
<path fill="#1f9a8a" d="M448.2 176.7l6.5 5.5 2.9 6.6-6.5-5.9z"/>
<path fill="#1f978b" d="M457.9 184l3.4 1.2 2.9 6.2-3.4-.9z"/>
<path fill="#34b679" d="M408.3 140.2l5.2-.1 4.5-2.3-5.2-1.5z"/>
<path fill="#1f948c" d="M472.7 190l4.6-2.1 2 3.5-4.7 3.2z"/>
<path fill="#27ad81" d="M312.7 143.2l4.6 5.8 4.3 16.3-4.6-7.6z"/>
<path fill="#481b6d" d="M214.3 333.4l1.9-.8 6.2 35.4-1.3 16z"/>
<path fill="#32b67a" d="M413.5 140.1l7.9 3.8 4.5.2-7.9-6.3z"/>
<path fill="#1f968b" d="M479.3 191.4l6.6-5 1.1 1.6-6.6 6z"/>
<path fill="#31688e" d="M557 268.6l7-21.1 2.5-.1-7 23.7z"/>
<path fill="#25ac82" d="M380.6 158.9l3.7-6 3.9 1.2-3.7 6.4z"/>
<path fill="#1f998a" d="M498 186.6l6.7-5 3.7-.4-6.6 8z"/>
<path fill="#2c728e" d="M450.8 260.4l6.6-11.7 3.8-20.8-6.6 6z"/>
<path fill="#277f8e" d="M573.7 243.9l7-20.2 4-16.3-7 14.5z"/>
<path fill="#1f978b" d="M487 188l6.7-4.7 4.3 3.3-6.6 8.7z"/>
<path fill="#21a685" d="M332.5 157.7l6.4-1.6 4.3 16.6-6.4 3.4z"/>
<path fill="#1fa088" d="M441.6 169.4l6.6 7.3 2.9 6.2-6.6-8.4z"/>
<path fill="#34608d" d="M446 283.6l6.6-29.2 2.5 1.7-6.6 30.8z"/>
<path fill="#355e8d" d="M425.2 256.7l1.9 1.1 4 33.1-1.9-1.6z"/>
<path fill="#1f978b" d="M461.3 185.2l6.6.6 2.9 4.9-6.6.7z"/>
<path fill="#2eb37c" d="M395.7 149l6.5-5.6 2.9-1.2-6.5 4.8z"/>
<path fill="#22a884" d="M431.4 156.2l6.6 9 1.9 3.3-6.6-10.2z"/>
<path fill="#27ad81" d="M426.8 149.8l6.5 8.5 1.2 1.5-6.6-9.2z"/>
<path fill="#21a585" d="M351.4 163.8l4.5-5.7 3.8 10.8-4.5 8.3z"/>
<path fill="#1e9d89" d="M508.4 181.2l2.3-1.6 3.8-2.7-2.4 2.4z"/>
<path fill="#28ae80" d="M388.2 154.1l2.7-3.9 2.1-.2-2.7 3.9z"/>
<path fill="#297b8e" d="M517.9 221l6.4 19.8 2.5 1.7-6.4-21.4z"/>
<path fill="#34b679" d="M407.1 141.1l5.2-.6 1.2-.4-5.2.1z"/>
<path fill="#1fa187" d="M514.5 176.9l4.3-2.6 3.8-5.9-4.3 3.8z"/>
<path fill="#2e6d8e" d="M514.8 242.3l6.4 24 3.7-4.9-6.3-21.1z"/>
<path fill="#21908d" d="M524.4 195.6l6.4 16 3.8-9.8-6.4-13.2z"/>
<path fill="#1f978b" d="M538.5 189.5l6.4 13.4 3.9-17.5-6.5-9.3z"/>
<path fill="#482475" d="M723.1 323.8l4.7 47.5 1.4-7.2-4.9-42.2z"/>
<path fill="#2a778e" d="M416.9 226.2l6.7 31.6 3.8-10.8-6.7-27.1z"/>
<path fill="#2c738e" d="M415.6 226.8l6.7 32.1 1.3-1.1-6.7-31.6z"/>
<path fill="#228b8d" d="M520 201l6.4 17.6 4.4-7-6.4-16z"/>
<path fill="#482677" d="M729.2 364.1l1.6 5.6 6.4-51.7-1.8-1.8z"/>
<path fill="#355f8d" d="M427.1 257.8l4.7-1.6 3.9 30.1-4.6 4.6z"/>
<path fill="#277f8e" d="M431.1 230l3.2 9.8 3.7-20.5-3.1-6.8z"/>
<path fill="#1f988b" d="M467.9 185.8l1.9-.3 2.9 4.5-1.9.7z"/>
<path fill="#34b679" d="M405.1 142.2l5.2-1.1 2-.6-5.2.6z"/>
<path fill="#2eb37c" d="M420.2 143.8l6.6 6 1.1.8-6.5-6.7z"/>
<path fill="#21a585" d="M435 161.3l6.6 8.1 2.9 5.1-6.5-9.3z"/>
<path fill="#32b67a" d="M412.3 140.5l7.9 3.3 1.2.1-7.9-3.8z"/>
<path fill="#1f978b" d="M528.2 188.6l6.4 13.2 3.9-12.3-6.5-9.7z"/>
<path fill="#2e6f8e" d="M453.6 270.3l6.6-23.1 3.8-13.4-6.6 14.9z"/>
<path fill="#482374" d="M209.4 323.4l4.9 10 6.8 50.6-5.8-36z"/>
<path fill="#306a8e" d="M555 268.7l7-20.2 2-1-7 21.1z"/>
<path fill="#2eb37c" d="M393 150l6.5-6 2.7-.6-6.5 5.6z"/>
<path fill="#1fa088" d="M510.7 179.6l4.3-1.2 3.8-4.1-4.3 2.6z"/>
<path fill="#23898e" d="M518.8 202l6.4 17.6 1.2-1-6.4-17.6z"/>
<path fill="#2f6c8e" d="M415.9 244.6l3.2 13.1 2 9.3-3.2-15.2z"/>
<path fill="#29af7f" d="M424.8 148.7l6.6 7.5 1.9 2.1-6.5-8.5z"/>
<path fill="#1f988b" d="M477.3 187.9l6.7-3.6 1.9 2.1-6.6 5z"/>
<path fill="#3a538b" d="M529.7 284.2l6.8-16.8 3.5 19.2-7 29.7z"/>
<path fill="#32658e" d="M418.6 245.5l6.6 11.2 4 32.6-6.6-18.1z"/>
<path fill="#26818e" d="M448 233.5l2 .9 3.5-19.9-2-.8z"/>
<path fill="#277f8e" d="M420.7 219.9l6.7 27.1 3.7-17-6.6-20.8z"/>
<path fill="#287c8e" d="M515.9 221.1l6.4 18.9 2 .8-6.4-19.8z"/>
<path fill="#1e9d89" d="M504.7 181.6l2.3-.7 3.7-1.3-2.3 1.6z"/>
<path fill="#1f998a" d="M469.8 185.5l4.7-1 2.8 3.4-4.6 2.1z"/>
<path fill="#25838e" d="M441.5 225.7l6.5 7.8 3.5-19.8-6.5-5.6z"/>
<path fill="#2ab07f" d="M384.3 152.9l2.8-3.6 3.8.9-2.7 3.9z"/>
<path fill="#23898e" d="M516.9 203.2l6.4 17.4 1.9-1-6.4-17.6z"/>
<path fill="#2b758e" d="M413 225.6l6.8 31.2 2.5 2.1-6.7-32.1z"/>
<path fill="#34b679" d="M410.3 141.1l7.9 2.4 2 .3-7.9-3.3z"/>
<path fill="#20a486" d="M518.8 174.3l6.6.2 3.8-7.8-6.6 1.7z"/>
<path fill="#1e9d89" d="M452.1 178.9l3.2 1.9 2.6 3.2-3.2-1.8z"/>
<path fill="#2f6c8e" d="M510.8 242.9l6.4 26 4-2.6-6.4-24z"/>
<path fill="#472a7a" d="M730.8 369.7l4.7-14.8 5.8-38.6-4.1 1.7z"/>
<path fill="#31688e" d="M551.2 275.1l7-22.3 3.8-4.3-7 20.2z"/>
<path fill="#482677" d="M721.4 321l5.2 37.3 1.2 13-4.7-47.5z"/>
<path fill="#26818e" d="M450 234.4l4.6-.5 3.5-19.2-4.6-.2z"/>
<path fill="#2fb47c" d="M418.2 143.5l6.6 5.2 2 1.1-6.6-6z"/>
<path fill="#34b679" d="M402.2 143.4l5.2-1.7 2.9-.6-5.2 1.1z"/>
<path fill="#1fa088" d="M445.6 173.4l6.5 5.5 2.6 3.3-6.5-5.5z"/>
<path fill="#33638d" d="M547.4 287l7-28.3 3.8-5.9-7 22.3z"/>
<path fill="#1e9c89" d="M455.3 180.8l3.4 1.6 2.6 2.8-3.4-1.2z"/>
<path fill="#1f9f88" d="M532 179.8l6.5 9.7 3.8-13.4-6.5-6.6z"/>
<path fill="#24aa83" d="M338.9 156.1l6.5-4 4.1 14-6.3 6.6z"/>
<path fill="#25ac82" d="M428.4 153.6l6.6 7.7 3 3.9-6.6-9z"/>
<path fill="#355e8d" d="M543.3 294.6l7.1-33.2 4-2.7-7 28.3z"/>
<path fill="#32658e" d="M444.1 276.7l6.6-26 1.9 3.7-6.6 29.2z"/>
<path fill="#1fa188" d="M515 178.4l6.6 2.4 3.8-6.3-6.6-.2z"/>
<path fill="#1e9b8a" d="M485.9 186.4l6.6-3.8 1.2.7-6.7 4.7z"/>
<path fill="#2fb47c" d="M390.9 150.2l6.5-6.1 2.1-.1-6.5 6z"/>
<path fill="#1f9e89" d="M521.6 180.8l6.6 7.8 3.8-8.8-6.6-5.3z"/>
<path fill="#1e9c89" d="M493.7 183.3l6.6-2 4.4.3-6.7 5z"/>
<path fill="#1f9f88" d="M507 180.9l4.3.2 3.7-2.7-4.3 1.2z"/>
<path fill="#29af7f" d="M376.7 155.1l3.7-5 3.9 2.8-3.7 6z"/>
<path fill="#23888e" d="M438 219.3l3.5 6.4 3.5-17.6-3.5-4.6z"/>
<path fill="#482576" d="M734.2 359.3l8.1-20.5 1.3-5.3-8.1 21.4z"/>
<path fill="#1f998a" d="M517.9 185.6l6.5 10 3.8-7-6.6-7.8z"/>
<path fill="#20a486" d="M439 166.5l6.6 6.9 2.6 3.3-6.6-7.3z"/>
<path fill="#1e9c89" d="M458.7 182.4l6.6 1.4 2.6 2-6.6-.6z"/>
<path fill="#20a386" d="M525.4 174.5l6.6 5.3 3.8-10.3-6.6-2.8z"/>
<path fill="#482374" d="M732.7 354.8l7.6-9.9 2-6.1-8.1 20.5z"/>
<path fill="#23898e" d="M514 204.4l6.4 16.7 2.9-.5-6.4-17.4z"/>
<path fill="#27ad81" d="M366.1 158.2l6.4-8.7 4.2 5.6-6.3 11.5z"/>
<path fill="#33638d" d="M510.1 251.4l6.5 20.2 3.5 21.7-6.3-29.6z"/>
<path fill="#482576" d="M725.1 332.2l1.7 3.3 1.4 27-1.6-4.2z"/>
<path fill="#2cb17e" d="M421.8 147.2l6.6 6.4 3 2.6-6.6-7.5z"/>
<path fill="#1f9e89" d="M511.3 181.1l6.6 4.5 3.7-4.8-6.6-2.4z"/>
<path fill="#35b779" d="M407.4 141.7l7.9 1.3 2.9.5-7.9-2.4z"/>
<path fill="#218f8d" d="M577.7 221.9l7-14.5 4-17.6-6.9 10.3z"/>
<path fill="#1e9c89" d="M465.3 183.8l1.9 0 2.6 1.7-1.9.3z"/>
<path fill="#277e8e" d="M512.1 221.9l6.5 18.4 3.7-.3-6.4-18.9z"/>
<path fill="#35b779" d="M399.5 144l5.2-2.1 2.7-.2-5.2 1.7z"/>
<path fill="#26ad81" d="M355.9 158.1l6.4-7.7 3.8 7.8-6.4 10.7z"/>
<path fill="#1e9c89" d="M474.5 184.5l6.6-1.9 2.9 1.7-6.7 3.6z"/>
<path fill="#1f968b" d="M513.4 189.4l6.6 11.6 4.4-5.4-6.5-10z"/>
<path fill="#481c6e" d="M737.6 345.8l7.9 36.6 4-28.1-9.2-9.4z"/>
<path fill="#482576" d="M726.8 335.5l3.9 2.7 2 16.6-4.5 7.7z"/>
<path fill="#24aa83" d="M432.4 159l6.6 7.5 2.6 2.9-6.6-8.1z"/>
<path fill="#1e9d89" d="M484 184.3l6.6-2.6 1.9.9-6.6 3.8z"/>
<path fill="#32b67a" d="M415.3 143l6.5 4.2 3 1.5-6.6-5.2z"/>
<path fill="#228c8d" d="M434.9 212.5l3.1 6.8 3.5-15.8-3.1-4.9z"/>
<path fill="#238a8d" d="M424.5 209.2l6.6 20.8 3.8-17.5-6.7-15.3z"/>
<path fill="#25838e" d="M454.6 233.9l6.6-6 3.5-16.1-6.6 2.9z"/>
<path fill="#1fa088" d="M450 177.9l3.2 2.2 2.1.7-3.2-1.9z"/>
<path fill="#472f7d" d="M222.4 368l4.9-45.1 2.9-11.7-5.5 29.2z"/>
<path fill="#1f9f88" d="M500.3 181.3l2.3.1 4.4-.5-2.3.7zM453.2 180.1l3.4 1.8 2.1.5-3.4-1.6z"/>
<path fill="#2a788e" d="M411.1 222.7l6.8 29.1 1.9 5-6.8-31.2z"/>
<path fill="#27ad81" d="M345.4 152.1l1.8-1.4 4.2 13.1-1.9 2.3z"/>
<path fill="#1fa287" d="M443.5 172.2l6.5 5.7 2.1 1-6.5-5.5z"/>
<path fill="#287d8e" d="M457.4 248.7l6.6-14.9 3.8-14.5-6.6 8.6z"/>
<path fill="#1e9d89" d="M467.2 183.8l4.7-.3 2.6 1-4.7 1z"/>
<path fill="#31b57b" d="M387.1 149.3l6.4-5.7 3.9.5-6.5 6.1z"/>
<path fill="#277f8e" d="M572.4 245.8l7.1-25 4.4-7.2-7.1 23.3z"/>
<path fill="#1f958b" d="M512.3 190.1l6.5 11.9 1.2-1-6.6-11.6z"/>
<path fill="#2d708e" d="M415.1 236.4l3.5 9.1 4 25.7-3.5-13.5z"/>
<path fill="#238a8d" d="M511.4 205.2l6.5 15.8 2.5.1-6.4-16.7z"/>
<path fill="#1f9e89" d="M456.6 181.9l6.6 2 2.1-.1-6.6-1.4z"/>
<path fill="#287c8e" d="M571.2 246.8l7.1-24.9 1.2-1.1-7.1 25z"/>
<path fill="#1f9f88" d="M492.5 182.6l6.6-1.4 1.2.1-6.6 2zM502.6 181.4l4.3 1.7 4.4-2-4.3-.2z"/>
<path fill="#2e6f8e" d="M507.4 240l6.4 23.7 3.4 5.2-6.4-26z"/>
<path fill="#2eb37c" d="M380.4 150.1l2.7-3.1 4 2.3-2.8 3.6z"/>
<path fill="#31688e" d="M431.8 256.2l6.5-10.5 3.9 21.4-6.5 19.2z"/>
<path fill="#29af7f" d="M425.8 152l6.6 7 2.6 2.3-6.6-7.7z"/>
<path fill="#1e9d89" d="M506.9 183.1l6.5 6.3 4.5-3.8-6.6-4.5z"/>
<path fill="#25858e" d="M576.8 236.9l7.1-23.3 3.9-9.8-7.1 19.9z"/>
<path fill="#218f8d" d="M451.5 213.7l2 .8 4-16.5-1.9-.6z"/>
<path fill="#21918c" d="M445 208.1l6.5 5.6 4.1-16.3-6.6-4.1z"/>
<path fill="#34618d" d="M540 286.6l7.1-29.6 3.3 4.4-7.1 33.2z"/>
<path fill="#22a785" d="M436.9 165.3l6.6 6.9 2.1 1.2-6.6-6.9z"/>
<path fill="#35b779" d="M397.4 144.1l5.2-2.2 2.1 0-5.2 2.1z"/>
<path fill="#481d6f" d="M745.5 382.4l5.8-30.2 3.2-12.1-5 14.2z"/>
<path fill="#37b878" d="M404.7 141.9l7.9.7 2.7.4-7.9-1.3z"/>
<path fill="#1f958b" d="M510.3 191.2l6.6 12 1.9-1.2-6.5-11.9z"/>
<path fill="#1f9e89" d="M463.2 183.9l1.9.2 2.1-.3-1.9 0z"/>
<path fill="#20938c" d="M441.5 203.5l3.5 4.6 4-14.8-3.4-3.2z"/>
<path fill="#287c8e" d="M569.3 247.5l7.1-24.2 1.9-1.4-7.1 24.9z"/>
<path fill="#32b67a" d="M315.1 137.4l6.8 4.1 4.3 14.8-6.8-5.2z"/>
<path fill="#443a83" d="M724.3 321.9l4.9 42.2 6.2-47.9-6-18.9z"/>
<path fill="#218f8d" d="M453.5 214.5l4.6.2 4.1-16.1-4.7-.6z"/>
<path fill="#2fb47c" d="M321.9 141.5l2.7.9 4.2 14.9-2.6-1z"/>
<path fill="#35b779" d="M313.1 135.7l2 1.7 4.3 13.7-2.1-2.1z"/>
<path fill="#482878" d="M730.7 338.2l6.9 7.6 2.7-.9-7.6 9.9z"/>
<path fill="#277e8e" d="M508.4 223.3l6.4 19 3.8-2-6.5-18.4z"/>
<path fill="#2fb47c" d="M419.2 146.3l6.6 5.7 2.6 1.6-6.6-6.4z"/>
<path fill="#472e7c" d="M796.6 320.1l5 6.9 1.2 40-4.1-24.1z"/>
<path fill="#2f6c8e" d="M442.2 267.1l6.5-22 2 5.6-6.6 26z"/>
<path fill="#1f9f88" d="M449.4 182.6l3.4 2.4 3.8-3.1-3.4-1.8z"/>
<path fill="#1fa188" d="M446.2 179.9l3.2 2.7 3.8-2.5-3.2-2.2z"/>
<path fill="#1f9f88" d="M481.1 182.6l6.6-1.3 2.9.4-6.6 2.6z"/>
<path fill="#481f70" d="M735.6 336.6l8.7 21.9 1.2 23.9-7.9-36.6z"/>
<path fill="#35b779" d="M412.6 142.6l6.6 3.7 2.6.9-6.5-4.2z"/>
<path fill="#25ac82" d="M430.3 158l6.6 7.3 2.1 1.2-6.6-7.5z"/>
<path fill="#1f9f88" d="M471.9 183.5l6.6-.9 2.6 0-6.6 1.9z"/>
<path fill="#1fa088" d="M490.6 181.7l6.6-.4 1.9-.1-6.6 1.4z"/>
<path fill="#2fb47c" d="M324.6 142.4l3.6.6 4.3 14.7-3.7-.4z"/>
<path fill="#1f978b" d="M438.4 198.6l3.1 4.9 4.1-13.4-3.2-3.5z"/>
<path fill="#1fa088" d="M499.1 181.2l2.3.4 1.2-.2-2.3-.1z"/>
<path fill="#1f948c" d="M428.2 197.2l6.7 15.3 3.5-13.9-6.6-11.5z"/>
<path fill="#3aba76" d="M308.5 131.3l4.6 4.4 4.2 13.3-4.6-5.8z"/>
<path fill="#433e85" d="M222.8 342.9l1.9-2.5 2.5-41.7-2 .7z"/>
<path fill="#1f9e89" d="M465.1 184.1l4.7.1 2.1-.7-4.7.3zM452.8 185l6.6 3 3.8-4.1-6.6-2z"/>
<path fill="#228b8d" d="M509.4 205.9l6.5 15.2 2-.1-6.5-15.8z"/>
<path fill="#2cb17e" d="M347.2 150.7l4.6-3.7 4.1 11.1-4.5 5.7z"/>
<path fill="#20a386" d="M439.6 173.2l6.6 6.7 3.8-2-6.5-5.7z"/>
<path fill="#1e9c89" d="M505.7 183.5l6.6 6.6 1.1-.7-6.5-6.3z"/>
<path fill="#481c6e" d="M744.3 358.5l5.1-15.6 1.9 9.3-5.8 30.2z"/>
<path fill="#1f9f88" d="M501.4 181.6l4.3 1.9 1.2-.4-4.3-1.7z"/>
<path fill="#1e9c89" d="M445.6 190.1l3.4 3.2 3.8-8.3-3.4-2.4z"/>
<path fill="#1f958b" d="M507.5 192.5l6.5 11.9 2.9-1.2-6.6-12z"/>
<path fill="#1f9a8a" d="M449 193.3l6.6 4.1 3.8-9.4-6.6-3z"/>
<path fill="#1e9d89" d="M459.4 188l1.9.5 3.8-4.4-1.9-.2z"/>
<path fill="#2fb47c" d="M372.5 149.5l3.6-3.8 4.3 4.4-3.7 5z"/>
<path fill="#414287" d="M217.9 330.1l4.9 12.8 2.4-43.5-4.6-5.9z"/>
<path fill="#472c7a" d="M740.3 344.9l9.2 9.4 2.6-18.3-9.8 2.8z"/>
<path fill="#287c8e" d="M566.5 247.4l7.1-22.7 2.8-1.4-7.1 24.2z"/>
<path fill="#1f9e89" d="M442.4 186.6l3.2 3.5 3.8-7.5-3.2-2.7z"/>
<path fill="#38b977" d="M402.6 141.9l7.9.5 2.1.2-7.9-.7z"/>
<path fill="#1f988b" d="M455.6 197.4l1.9.6 3.8-9.5-1.9-.5z"/>
<path fill="#21908d" d="M580.7 223.7l7.1-19.9 3.9-12.3-7 15.9z"/>
<path fill="#2cb17e" d="M423.7 151.2l6.6 6.8 2.1 1-6.6-7z"/>
<path fill="#1e9c89" d="M503.8 184.1l6.5 7.1 2-1.1-6.6-6.6z"/>
<path fill="#22a884" d="M433 165.6l6.6 7.6 3.9-1-6.6-6.9z"/>
<path fill="#1fa188" d="M497.2 181.3l2.3.6 1.9-.3-2.3-.4z"/>
<path fill="#21918c" d="M458.1 214.7l6.6-2.9 4.1-14.3-6.6 1.1z"/>
<path fill="#38b977" d="M393.5 143.6l5.2-2.1 3.9.4-5.2 2.2z"/>
<path fill="#46337f" d="M216.2 332.6l5.9-18.7 5.2 9-4.9 45.1z"/>
<path fill="#287d8e" d="M409.1 218.3l6.8 26.3 2 7.2-6.8-29.1z"/>
<path fill="#1e9d89" d="M461.3 188.5l4.7.5 3.8-4.8-4.7-.1z"/>
<path fill="#31b57b" d="M328.2 143l6.5-.6 4.2 13.7-6.4 1.6z"/>
<path fill="#1f988b" d="M457.5 198l4.7.6 3.8-9.6-4.7-.5z"/>
<path fill="#443983" d="M735.5 354.9l8.1-21.4 5.4-27.5-7.7 10.3z"/>
<path fill="#35b779" d="M383.1 147l6.5-4.7 3.9 1.3-6.4 5.7z"/>
<path fill="#1fa088" d="M499.5 181.9l4.3 2.2 1.9-.6-4.3-1.9z"/>
<path fill="#23898e" d="M461.2 227.9l6.6-8.6 3.5-12.2-6.6 4.7z"/>
<path fill="#1e9c89" d="M431.8 187.1l6.6 11.5 4-12-6.6-8.5z"/>
<path fill="#1f9f88" d="M469.8 184.2l6.6-.5 2.1-1.1-6.6.9z"/>
<path fill="#1fa187" d="M435.8 178.1l6.6 8.5 3.8-6.7-6.6-6.7z"/>
<path fill="#32b67a" d="M417.1 145.8l6.6 5.4 2.1.8-6.6-5.7z"/>
<path fill="#32648e" d="M518.9 256.6l3.2 1.4 3.4 29.6-3.2-2.5z"/>
<path fill="#37b878" d="M410.5 142.4l6.6 3.4 2.1.5-6.6-3.7z"/>
<path fill="#1fa188" d="M487.7 181.3l6.6.5 2.9-.5-6.6.4z"/>
<path fill="#29798e" d="M411.9 227l3.2 9.4 4 21.3-3.2-13.1z"/>
<path fill="#228b8d" d="M505.6 207.4l6.5 14.5 3.8-.8-6.5-15.2z"/>
<path fill="#20928c" d="M414 196.7l6.7 23.2 3.8-10.7-6.7-19.2z"/>
<path fill="#1fa188" d="M478.5 182.6l6.6-.6 2.6-.7-6.6 1.3z"/>
<path fill="#31b57b" d="M362.3 150.4l6.5-6.4 3.7 5.5-6.4 8.7z"/>
<path fill="#277f8e" d="M504.3 224l6.5 18.9 4-.6-6.4-19z"/>
<path fill="#29798e" d="M456.4 255.3l6.6-22.2 3.8-4.3-6.6 18.4z"/>
<path fill="#1f958b" d="M504.9 193.8l6.5 11.4 2.6-.8-6.5-11.9z"/>
<path fill="#218e8d" d="M410.1 200.4l6.8 25.8 3.8-6.3-6.7-23.2z"/>
<path fill="#27ad81" d="M426.4 157.9l6.6 7.7 3.9-.3-6.6-7.3z"/>
<path fill="#277f8e" d="M460.2 247.2l6.6-18.4 3.8-7.9-6.6 12.9z"/>
<path fill="#1e9d89" d="M500.9 185.3l6.6 7.2 2.8-1.3-6.5-7.1z"/>
<path fill="#453882" d="M719.3 308.2l5.8 24 1.5 26.1-5.2-37.3z"/>
<path fill="#287d8e" d="M564 247.5l7-21.6 2.6-1.2-7.1 22.7z"/>
<path fill="#1f9e89" d="M466 189l6.6-.4 3.8-4.9-6.6.5z"/>
<path fill="#1f988b" d="M417.8 190l6.7 19.2 3.7-12-6.6-15.1z"/>
<path fill="#2a778e" d="M455.1 256.1l6.6-22.7 1.3-.3-6.6 22.2z"/>
<path fill="#32658e" d="M522.1 258l4.2-1.8 3.4 28-4.2 3.4z"/>
<path fill="#1fa188" d="M494.3 181.8l2.3.8 2.9-.7-2.3-.6z"/>
<path fill="#35b779" d="M376.1 145.7l2.8-2.3 4.2 3.6-2.7 3.1z"/>
<path fill="#1f998a" d="M462.2 198.6l6.6-1.1 3.8-8.9-6.6.4z"/>
<path fill="#306a8e" d="M513.1 249l5.8 7.6 3.4 28.5-5.7-13.5z"/>
<path fill="#1fa088" d="M496.6 182.6l4.3 2.7 2.9-1.2-4.3-2.2z"/>
<path fill="#22a884" d="M429.2 168.9l6.6 9.2 3.8-4.9-6.6-7.6z"/>
<path fill="#3aba76" d="M398.7 141.5l7.9.6 3.9.3-7.9-.5z"/>
<path fill="#228c8d" d="M408.8 200.7l6.8 26.1 1.3-.6-6.8-25.8z"/>
<path fill="#453581" d="M742.3 338.8l9.8-2.8 1.6-9.8-10.1 7.3z"/>
<path fill="#2eb37c" d="M419.8 151l6.6 6.9 3.9.1-6.6-6.8z"/>
<path fill="#1fa188" d="M476.4 183.7l6.6-.3 2.1-1.4-6.6.6z"/>
<path fill="#1f9f88" d="M421.6 182.1l6.6 15.1 3.6-10.1-6.7-11.9z"/>
<path fill="#1f958b" d="M502.8 194.8l6.6 11.1 2-.7-6.5-11.4z"/>
<path fill="#32b67a" d="M351.8 147l6.5-5 4 8.4-6.4 7.7z"/>
<path fill="#1fa187" d="M485.1 182l6.6.9 2.6-1.1-6.6-.5z"/>
<path fill="#20a486" d="M425.1 175.2l6.7 11.9 4-9-6.6-9.2z"/>
<path fill="#35b779" d="M334.7 142.4l6.5-2.2 4.2 11.9-6.5 4z"/>
<path fill="#20938c" d="M464.7 211.8l6.6-4.7 4.1-11.5-6.6 1.9z"/>
<path fill="#1e9b8a" d="M584.7 207.4l7-15.9 4-14.1-7 12.4z"/>
<path fill="#24878e" d="M464 233.8l6.6-12.9 3.8-9.4-6.6 7.8z"/>
<path fill="#2a768e" d="M503.7 233.1l6.4 18.3 3.7 12.3-6.4-23.7z"/>
<path fill="#287d8e" d="M562 248.5l7-21.4 2-1.2-7 21.6z"/>
<path fill="#34b679" d="M413.2 145.5l6.6 5.5 3.9.2-6.6-5.4z"/>
<path fill="#46327e" d="M749.5 354.3l5-14.2 2.5-13.5-4.9 9.4z"/>
<path fill="#1e9d89" d="M498.3 186.6l6.6 7.2 2.6-1.3-6.6-7.2z"/>
<path fill="#38b977" d="M406.6 142.1l6.6 3.4 3.9.3-6.6-3.4z"/>
<path fill="#3bbb75" d="M389.6 142.3l5.3-1.5 3.8.7-5.2 2.1z"/>
<path fill="#453882" d="M801.6 327l9.4-19.6 2.3 18.7-10.5 40.9z"/>
<path fill="#228b8d" d="M501.8 209.3l6.6 14 3.7-1.4-6.5-14.5z"/>
<path fill="#29798e" d="M452.6 254.4l6.6-22.3 2.5 1.3-6.6 22.7z"/>
<path fill="#1fa187" d="M491.7 182.9l2.3 1 2.6-1.3-2.3-.8z"/>
<path fill="#1f9f88" d="M472.6 188.6l6.6-.6 3.8-4.6-6.6.3z"/>
<path fill="#27ad81" d="M422.6 160l6.6 8.9 3.8-3.3-6.6-7.7z"/>
<path fill="#228d8d" d="M406.3 199.9l6.7 25.7 2.6 1.2-6.8-26.1z"/>
<path fill="#1fa088" d="M494 183.9l4.3 2.7 2.6-1.3-4.3-2.7z"/>
<path fill="#1e9b8a" d="M468.8 197.5l6.6-1.9 3.8-7.6-6.6.6z"/>
<path fill="#1fa187" d="M483 183.4l6.6 1 2.1-1.5-6.6-.9z"/>
<path fill="#1f958b" d="M499 197.3l6.6 10.1 3.8-1.5-6.6-11.1z"/>
<path fill="#26818e" d="M500.9 222.9l6.5 17.1 3.4 2.9-6.5-18.9z"/>
<path fill="#3bbb75" d="M378.9 143.4l6.5-3.2 4.2 2.1-6.5 4.7z"/>
<path fill="#38b977" d="M368.8 144l3.7-2.6 3.6 4.3-3.6 3.8z"/>
<path fill="#287c8e" d="M558.2 252.8l7.1-22.7 3.7-3-7 21.4z"/>
<path fill="#1e9c89" d="M496.2 187.9l6.6 6.9 2.1-1-6.6-7.2z"/>
<path fill="#21908d" d="M467.8 219.3l6.6-7.8 3.5-8.5-6.6 4.1z"/>
<path fill="#453581" d="M729 322.9l6.6 13.7 2 9.2-6.9-7.6z"/>
<path fill="#38b977" d="M341.2 140.2l1.9-.8 4.1 11.3-1.8 1.4z"/>
<path fill="#2f6c8e" d="M536.5 267.4l7-21.3 3.6 10.9-7.1 29.6z"/>
<path fill="#3e4c8a" d="M224.7 340.4l5.5-29.2 3.1-27.4-6.1 14.9z"/>
<path fill="#1fa188" d="M489.6 184.4l2.4.9 2-1.4-2.3-1z"/>
<path fill="#1fa088" d="M492 185.3l4.2 2.6 2.1-1.3-4.3-2.7z"/>
<path fill="#2fb47c" d="M416 152.1l6.6 7.9 3.8-2.1-6.6-6.9z"/>
<path fill="#25ac82" d="M418.5 164.1l6.6 11.1 4.1-6.3-6.6-8.9z"/>
<path fill="#3dbc74" d="M394.9 140.8l7.9 1.3 3.8 0-7.9-.6z"/>
<path fill="#1fa088" d="M479.2 188l6.6.5 3.8-4.1-6.6-1z"/>
<path fill="#1f978b" d="M471.3 207.1l6.6-4.1 4.1-8.5-6.6 1.1z"/>
<path fill="#2b748e" d="M506.5 236.3l6.6 12.7 3.5 22.6-6.5-20.2z"/>
<path fill="#404588" d="M790.8 300.3l5.8 19.8 2.1 22.8-4.8-36.1z"/>
<path fill="#297a8e" d="M554.4 258.7l7.1-25.4 3.8-3.2-7.1 22.7z"/>
<path fill="#228c8d" d="M497.8 211.2l6.5 12.8 4.1-.7-6.6-14z"/>
<path fill="#2a788e" d="M438.3 245.7l6.6-14.6 3.8 14-6.5 22z"/>
<path fill="#23a983" d="M414.9 168.6l6.7 13.5 3.5-6.9-6.6-11.1z"/>
<path fill="#37b878" d="M409.4 146l6.6 6.1 3.8-1.1-6.6-5.5z"/>
<path fill="#4cc26c" d="M308.8 125.6l2.1 1.4 4.2 10.4-2-1.7z"/>
<path fill="#1e9c89" d="M492.4 191.2l6.6 6.1 3.8-2.5-6.6-6.9z"/>
<path fill="#1e9d89" d="M475.4 195.6l6.6-1.1 3.8-6-6.6-.5z"/>
<path fill="#287c8e" d="M450.7 250.7l6.6-20.9 1.9 2.3-6.6 22.3z"/>
<path fill="#48c16e" d="M310.9 127l6.8 3.3 4.2 11.2-6.8-4.1z"/>
<path fill="#21908d" d="M404.3 198l6.8 24.7 1.9 2.9-6.7-25.7z"/>
<path fill="#1fa088" d="M485.8 188.5l2.4.6 3.8-3.8-2.4-.9z"/>
<path fill="#3bbb75" d="M402.8 142.1l6.6 3.9 3.8-.5-6.6-3.4z"/>
<path fill="#50c46a" d="M304.3 122.1l4.5 3.5 4.3 10.1-4.6-4.4z"/>
<path fill="#297a8e" d="M421.2 229.7l1.9 1 4 27.1-1.9-1.1z"/>
<path fill="#3a538b" d="M735.4 316.2l1.8 1.8 5-35.2-1.8-1.5z"/>
<path fill="#433d84" d="M725.2 316.7l3.8 6.2 1.7 15.3-3.9-2.7z"/>
<path fill="#1f9f88" d="M488.2 189.1l4.2 2.1 3.8-3.3-4.2-2.6z"/>
<path fill="#3dbc74" d="M372.5 141.4l2.8-1.6 3.6 3.6-2.8 2.3z"/>
<path fill="#2e6d8e" d="M526.3 256.2l6.8-9.6 3.4 20.8-6.8 16.8z"/>
<path fill="#1f948c" d="M495.3 200.3l6.5 9 3.8-1.9-6.6-10.1z"/>
<path fill="#3bbb75" d="M343.1 139.4l4.6-2.1 4.1 9.7-4.6 3.7z"/>
<path fill="#21a585" d="M411.1 173.5l6.7 16.5 3.8-7.9-6.7-13.5z"/>
<path fill="#46c06f" d="M317.7 130.3l2.6.7 4.3 11.4-2.7-.9z"/>
<path fill="#24878e" d="M405.1 206.5l6.8 20.5 4 17.6-6.8-26.3z"/>
<path fill="#3dbc74" d="M358.3 142l6.5-4 4 6-6.5 6.4z"/>
<path fill="#23888e" d="M466.8 228.8l2.3-5.1 3.8-6.4-2.3 3.6z"/>
<path fill="#471063" d="M220.3 387.2l2.5 15.7 1.7-39.5-1.9-2.3z"/>
<path fill="#3a538b" d="M737.2 318l4.1-1.7 5-32.8-4.1-.7z"/>
<path fill="#218e8d" d="M470.6 220.9l2.3-3.6 3.8-7.9-2.3 2.1z"/>
<path fill="#40bd72" d="M385.4 140.2l5.3-.6 4.2 1.2-5.3 1.5z"/>
<path fill="#44bf70" d="M320.3 131l3.7.7 4.2 11.3-3.6-.6z"/>
<path fill="#423f85" d="M752.1 336l4.9-9.4 1.4-8.1-4.7 7.7z"/>
<path fill="#1fa187" d="M407.3 177.6l6.7 19.1 3.8-6.7-6.7-16.5z"/>
<path fill="#297b8e" d="M423.1 230.7l4.7-.1 4 25.6-4.7 1.6z"/>
<path fill="#424086" d="M723.5 313.2l1.7 3.5 1.6 18.8-1.7-3.3z"/>
<path fill="#1e9d89" d="M482 194.5l2.4.1 3.8-5.5-2.4-.6z"/>
<path fill="#2eb37c" d="M411.8 154.6l6.7 9.5 4.1-4.1-6.6-7.9z"/>
<path fill="#277f8e" d="M414.6 221.7l6.6 8 4 27-6.6-11.2z"/>
<path fill="#463480" d="M734.2 325l9.2 12.8.9 20.7-8.7-21.9z"/>
<path fill="#20938c" d="M474.4 211.5l2.3-2.1 3.6-7.3-2.4.9z"/>
<path fill="#3b518b" d="M718 284.7l5.1 39.1 1.2-1.9-5.2-38.2z"/>
<path fill="#25858e" d="M463 233.1l2.3-6.1 3.8-3.3-2.3 5.1z"/>
<path fill="#1f998a" d="M477.9 203l2.4-.9 4.1-7.5-2.4-.1z"/>
<path fill="#3f4889" d="M743.6 333.5l10.1-7.3 5.5-29.9-10.2 9.7z"/>
<path fill="#1f988b" d="M583.9 213.6l7.2-20.7 3.8-7.7-7.1 18.6z"/>
<path fill="#1e9d89" d="M484.4 194.6l4.3 1.1 3.7-4.5-4.2-2.1z"/>
<path fill="#29798e" d="M550.4 261.4l7.1-26.9 4-1.2-7.1 25.4z"/>
<path fill="#1f9a8a" d="M488.7 195.7l6.6 4.6 3.7-3-6.6-6.1z"/>
<path fill="#20938c" d="M579.5 220.8l7.1-21.7 4.5-6.2-7.2 20.7z"/>
<path fill="#46337f" d="M743.4 337.8l4.8-9.4 1.2 14.5-5.1 15.6z"/>
<path fill="#46c06f" d="M324 131.7l6.6-.1 4.1 10.8-6.5.6z"/>
<path fill="#3d4d8a" d="M227.3 322.9l2.1-14.7 3-10-2.2 13z"/>
<path fill="#1fa088" d="M403.4 179.7l6.7 20.7 3.9-3.7-6.7-19.1z"/>
<path fill="#1f998a" d="M480.3 202.1l4.3-.6 4.1-5.8-4.3-1.1z"/>
<path fill="#20928c" d="M578.3 221.9l7.1-21.6 1.2-1.2-7.1 21.7z"/>
<path fill="#40bd72" d="M390.7 139.6l7.9 2.6 4.2-.1-7.9-1.3z"/>
<path fill="#1f948c" d="M491.2 203.9l6.6 7.3 4-1.9-6.5-9z"/>
<path fill="#42be71" d="M375.3 139.8l6.5-1.8 3.6 2.2-6.5 3.2z"/>
<path fill="#37b878" d="M405.2 147.2l6.6 7.4 4.2-2.5-6.6-6.1z"/>
<path fill="#1fa088" d="M587.8 203.8l7.1-18.6 3.9-9.7-7.1 16z"/>
<path fill="#375b8d" d="M729.4 297.3l6 18.9 5-34.9-6.3-11.2z"/>
<path fill="#228d8d" d="M494.3 211.9l6.6 11 3.4 1.1-6.5-12.8z"/>
<path fill="#25858e" d="M497.1 219.5l6.6 13.6 3.7 6.9-6.5-17.1z"/>
<path fill="#25848e" d="M461.7 233.4l2.3-6.3 1.3-.1-2.3 6.1z"/>
<path fill="#3b528b" d="M716.2 283.9l5.2 37.1 1.7 2.8-5.1-39.1z"/>
<path fill="#2cb17e" d="M408.3 157.3l6.6 11.3 3.6-4.5-6.7-9.5z"/>
<path fill="#1f958b" d="M476.7 209.4l4.3-2.5 3.6-5.4-4.3.6z"/>
<path fill="#20928c" d="M402.3 195.1l6.8 23.2 2 4.4-6.8-24.7z"/>
<path fill="#3f4788" d="M208.9 302.8l2.1.9 5.2 28.9-1.9.8z"/>
<path fill="#21918c" d="M472.9 217.3l4.3-4.9 3.8-5.5-4.3 2.5z"/>
<path fill="#3dbc74" d="M398.6 142.2l6.6 5 4.2-1.2-6.6-3.9z"/>
<path fill="#1f988b" d="M484.6 201.5l6.6 2.4 4.1-3.6-6.6-4.6z"/>
<path fill="#21918c" d="M576.4 223.3l7.1-21.3 1.9-1.7-7.1 21.6z"/>
<path fill="#27808e" d="M448.7 245.1l6.6-18.9 2 3.6-6.6 20.9z"/>
<path fill="#42be71" d="M347.7 137.3l6.5-2.9 4.1 7.6-6.5 5z"/>
<path fill="#375a8c" d="M719.1 283.7l5.2 38.2 5.1-24.6-5.6-26.8z"/>
<path fill="#44bf70" d="M364.8 138l3.7-1.5 4 4.9-3.7 2.6z"/>
<path fill="#25858e" d="M411.1 215.3l3.5 6.4 4 23.8-3.5-9.1z"/>
<path fill="#218e8d" d="M469.1 223.7l4.3-7.3 3.8-4-4.3 4.9z"/>
<path fill="#1fa088" d="M402.1 179.8l6.7 20.9 1.3-.3-6.7-20.7z"/>
<path fill="#38588c" d="M741.3 316.3l7.7-10.3 4.7-25.9-7.4 3.4z"/>
<path fill="#3e4a89" d="M204.2 295.6l4.7 7.2 5.4 30.6-4.9-10z"/>
<path fill="#2ab07f" d="M404.4 160.1l6.7 13.4 3.8-4.9-6.6-11.3z"/>
<path fill="#1f968b" d="M481 206.9l6.7-.1 3.5-2.9-6.6-2.4z"/>
<path fill="#22a884" d="M591.7 191.5l7.1-16 3.9-11.3-7 13.2z"/>
<path fill="#4ac16d" d="M330.6 131.6l6.5-1.1 4.1 9.7-6.5 2.2z"/>
<path fill="#27808e" d="M427.8 230.6l6.6-5.6 3.9 20.7-6.5 10.5z"/>
<path fill="#21918c" d="M573.6 224.7l7.1-20.7 2.8-2-7.1 21.3z"/>
<path fill="#3d4d8a" d="M222.1 313.9l2.3-9.6 5 3.9-2.1 14.7z"/>
<path fill="#24868e" d="M459.2 232.1l2.3-6.2 2.5 1.2-2.3 6.3z"/>
<path fill="#26828e" d="M500 223.7l6.5 12.6 3.6 15.1-6.4-18.3z"/>
<path fill="#46c06f" d="M381.8 138l5.2.4 3.7 1.2-5.3.6z"/>
<path fill="#423f85" d="M751.3 352.2l8.7-37.5 2.8-3.5-8.3 28.9z"/>
<path fill="#20938c" d="M487.7 206.8l6.6 5.1 3.5-.7-6.6-7.3z"/>
<path fill="#5ac864" d="M307.4 122.9l2.1 1.3 1.4 2.8-2.1-1.4z"/>
<path fill="#5cc863" d="M302.9 119.6l4.5 3.3 1.4 2.7-4.5-3.5z"/>
<path fill="#481b6d" d="M222.8 402.9l3.2-35.2 2.7-16.7-4.2 12.4z"/>
<path fill="#37b878" d="M401.6 148.4l6.7 8.9 3.5-2.7-6.6-7.4z"/>
<path fill="#56c667" d="M309.5 124.2l6.8 3 1.4 3.1-6.8-3.3z"/>
<path fill="#48c16e" d="M368.5 136.5l2.8-.8 4 4.1-2.8 1.6z"/>
<path fill="#297b8e" d="M547.1 257l7-25 3.4 2.5-7.1 26.9z"/>
<path fill="#3d4d8a" d="M717.5 294.4l6 18.8 1.6 19-5.8-24z"/>
<path fill="#228c8d" d="M465.3 227l4.3-9 3.8-1.6-4.3 7.3z"/>
<path fill="#54c568" d="M316.3 127.2l2.6.7 1.4 3.1-2.6-.7z"/>
<path fill="#1fa188" d="M399.5 179l6.8 20.9 2.5.8-6.7-20.9z"/>
<path fill="#414487" d="M727.6 311.4l6.6 13.6 1.4 11.6-6.6-13.7z"/>
<path fill="#1f948c" d="M477.2 212.4l6.7-3.3 3.8-2.3-6.7.1z"/>
<path fill="#44bf70" d="M387 138.4l8 3.9 3.6-.1-7.9-2.6z"/>
<path fill="#28ae80" d="M400.6 162.3l6.7 15.3 3.8-4.1-6.7-13.4z"/>
<path fill="#482173" d="M548.7 366.6l4.2 36.5 4.9-53.7-4.6-10z"/>
<path fill="#3fbc73" d="M395 142.3l6.6 6.1 3.6-1.2-6.6-5z"/>
<path fill="#228c8d" d="M407.9 208.5l3.2 6.8 4 21.1-3.2-9.4z"/>
<path fill="#54c568" d="M318.9 127.9l3.7.6 1.4 3.2-3.7-.7z"/>
<path fill="#471063" d="M691 375.7l2.9 31.6 2.7-25.2-3.5-14.9z"/>
<path fill="#4cc26c" d="M337.1 130.5l1.9-.4 4.1 9.3-1.9.8z"/>
<path fill="#21918c" d="M571 225.9l7.1-20.3 2.6-1.6-7.1 20.7z"/>
<path fill="#31668e" d="M220.6 293.5l4.6 5.9 2.8-36.8-4.6-3.6z"/>
<path fill="#21908d" d="M490.5 211.4l6.6 8.1 3.8 3.4-6.6-11z"/>
<path fill="#32658e" d="M225.2 299.4l2-.7 2.8-36.3-2 .2z"/>
<path fill="#3f4788" d="M754.5 340.1l8.3-28.9 2-5.8-7.8 21.2z"/>
<path fill="#3b518b" d="M753.7 326.2l4.7-7.7 5.4-26-4.6 3.8z"/>
<path fill="#4ac16d" d="M354.2 134.4l6.5-2.1 4.1 5.7-6.5 4z"/>
<path fill="#481b6d" d="M213.9 348.7l1.9 2.1 7 52.1-2.5-15.7z"/>
<path fill="#481c6e" d="M545.6 349.6l4.6 12.3 2.7 41.2-4.2-36.5z"/>
<path fill="#424086" d="M749.4 342.9l8.4-32.4 2.2 4.2-8.7 37.5z"/>
<path fill="#3d4e8a" d="M211 303.7l6.4-5.3 4.7 15.5-5.9 18.7z"/>
<path fill="#4ac16d" d="M371.3 135.7l6.5-.3 4 2.6-6.5 1.8z"/>
<path fill="#228c8d" d="M464 227.1l4.3-9.3 1.3.2-4.3 9z"/>
<path fill="#37b878" d="M397.7 149.7l6.7 10.4 3.9-2.8-6.7-8.9z"/>
<path fill="#365d8d" d="M230.2 311.2l2.2-13 3.2-23.1-2.3 8.7z"/>
<path fill="#23888e" d="M457.3 229.8l2.3-6.1 1.9 2.2-2.3 6.2z"/>
<path fill="#1f948c" d="M483.9 209.1l6.6 2.3 3.8.5-6.6-5.1z"/>
<path fill="#38598c" d="M713.8 277.9l5.5 30.3 2.1 12.8-5.2-37.1z"/>
<path fill="#471063" d="M689.4 369.4l3.6 14.5.9 23.4-2.9-31.6z"/>
<path fill="#54c568" d="M322.6 128.5l6.6 0 1.4 3.1-6.6.1z"/>
<path fill="#50c46a" d="M339 130.1l4.6-1.1 4.1 8.3-4.6 2.1z"/>
<path fill="#21908d" d="M569 227.1l7.1-20.2 2-1.3-7.1 20.3z"/>
<path fill="#20928c" d="M473.4 216.4l6.7-6.4 3.8-.9-6.7 3.3z"/>
<path fill="#65cb5e" d="M300.1 115.7l4.6 2.9 2.7 4.3-4.5-3.3z"/>
<path fill="#63cb5f" d="M304.7 118.6l2 1.1 2.8 4.5-2.1-1.3z"/>
<path fill="#3c508b" d="M794.4 296.4l5.5.5 1.7 30.1-5-6.9z"/>
<path fill="#1fa287" d="M397.6 177.7l6.7 20.3 2 1.9-6.8-20.9z"/>
<path fill="#27ad81" d="M396.7 163.2l6.7 16.5 3.9-2.1-6.7-15.3z"/>
<path fill="#1f9a8a" d="M398.4 187.1l6.7 19.4 4 11.8-6.8-23.2z"/>
<path fill="#60ca60" d="M306.7 119.7l6.8 2.5 2.8 5-6.8-3z"/>
<path fill="#3d4e8a" d="M757 326.6l7.8-21.2 1.3-4-7.7 17.1z"/>
<path fill="#4cc26c" d="M377.8 135.4l5.3 1.5 3.9 1.5-5.2-.4z"/>
<path fill="#3d4e8a" d="M723.8 304.4l3.8 7 1.4 11.5-3.8-6.2z"/>
<path fill="#228c8d" d="M493.4 214.3l6.6 9.4 3.7 9.4-6.6-13.6z"/>
<path fill="#287d8e" d="M515.4 233.8l3.2.8 3.5 23.4-3.2-1.4z"/>
<path fill="#40bd72" d="M391.1 142.3l6.6 7.4 3.9-1.3-6.6-6.1z"/>
<path fill="#5ec962" d="M313.5 122.2l2.7.6 2.7 5.1-2.6-.7z"/>
<path fill="#287c8e" d="M533.1 246.6l6.9-14.1 3.5 13.6-7 21.3z"/>
<path fill="#2f6c8e" d="M723.8 270.5l5.6 26.8 4.7-27.2-6-17.4z"/>
<path fill="#355e8d" d="M784.9 281.9l5.9 18.4 3.1 6.5-5.4-27.1z"/>
<path fill="#228d8d" d="M461.5 225.9l4.3-9.5 2.5 1.4-4.3 9.3z"/>
<path fill="#27808e" d="M509.5 229.3l5.9 4.5 3.5 22.8-5.8-7.6z"/>
<path fill="#50c46a" d="M360.7 132.3l3.8-.6 4 4.8-3.7 1.5z"/>
<path fill="#23888e" d="M444.9 231.1l6.6-14.2 3.8 9.3-6.6 18.9z"/>
<path fill="#48c16e" d="M383.1 136.9l8 5.4 3.9 0-8-3.9z"/>
<path fill="#34608d" d="M749 306l10.2-9.7 4.5-20.3-10 4.1z"/>
<path fill="#21908d" d="M565.3 230.1l7-20.7 3.8-2.5-7.1 20.2z"/>
<path fill="#58c765" d="M329.2 128.5l6.5-.9 1.4 2.9-6.5 1.1z"/>
<path fill="#5ec962" d="M316.2 122.8l3.7.5 2.7 5.2-3.7-.6z"/>
<path fill="#472c7a" d="M212 341.1l8.3 46.1 2.3-26.1-7.6-27.6z"/>
<path fill="#37b878" d="M393.9 150.5l6.7 11.8 3.8-2.2-6.7-10.4z"/>
<path fill="#277e8e" d="M518.6 234.6l4.2-.9 3.5 22.5-4.2 1.8z"/>
<path fill="#38588c" d="M788 289.3l6.4 7.1 2.2 23.7-5.8-19.8z"/>
<path fill="#54c568" d="M343.6 129l6.6-1.4 4 6.8-6.5 2.9z"/>
<path fill="#3b528b" d="M722.1 300.8l1.7 3.6 1.4 12.3-1.7-3.5z"/>
<path fill="#228c8d" d="M455.3 226.2l2.4-5.6 1.9 3.1-2.3 6.1z"/>
<path fill="#28ae80" d="M395.3 163.1l6.8 16.7 1.3-.1-6.7-16.5z"/>
<path fill="#365d8d" d="M229.4 308.2l3-18.1 3-8.9-3 17z"/>
<path fill="#2f6b8e" d="M227.2 298.7l6.1-14.9 3.1-29.7-6.4 8.3z"/>
<path fill="#52c569" d="M364.5 131.7l2.8-.1 4 4.1-2.8.8z"/>
<path fill="#20938c" d="M469.6 218l6.7-8.7 3.8.7-6.7 6.4z"/>
<path fill="#1f968b" d="M401.1 193l6.8 15.5 4 18.5-6.8-20.5z"/>
<path fill="#482374" d="M215.8 350.8l4.4-6.7 5.8 23.6-3.2 35.2z"/>
<path fill="#482979" d="M552.9 403.1l8-52 4.5-20.2-7.6 18.5z"/>
<path fill="#1f958b" d="M480.1 210l6.6-.5 3.8 1.9-6.6-2.3z"/>
<path fill="#21a585" d="M395.6 175.7l6.7 19.4 2 2.9-6.7-20.3z"/>
<path fill="#20938c" d="M486.7 209.5l6.7 4.8 3.7 5.2-6.6-8.1z"/>
<path fill="#23898e" d="M434.4 225l6.6-9 3.9 15.1-6.6 14.6z"/>
<path fill="#24868e" d="M502.9 221.6l6.6 7.7 3.6 19.7-6.6-12.7z"/>
<path fill="#5ec962" d="M319.9 123.3l6.5 0 2.8 5.2-6.6 0z"/>
<path fill="#26828e" d="M543.5 246.1l7-20.2 3.6 6.1-7 25z"/>
<path fill="#2d708e" d="M740.4 281.3l1.8 1.5 4.8-29.1-1.7-1.3z"/>
<path fill="#5ac864" d="M335.7 127.6l1.9-.3 1.4 2.8-1.9.4z"/>
<path fill="#6ece58" d="M298.1 113.6l4.6 2.6 2 2.4-4.6-2.9z"/>
<path fill="#6ccd5a" d="M302.7 116.2l2 .9 2 2.6-2-1.1z"/>
<path fill="#2d708e" d="M742.2 282.8l4.1.7 4.8-28-4.1-1.8z"/>
<path fill="#482576" d="M550.2 361.9l7.6-22.1 3.1 11.3-8 52z"/>
<path fill="#218f8d" d="M561.5 233.3l7.1-21.7 3.7-2.2-7 20.7z"/>
<path fill="#481c6e" d="M693.9 407.3l9.1-49.6 2-5.4-8.4 29.8z"/>
<path fill="#21908d" d="M459.6 223.7l4.3-9.2 1.9 1.9-4.3 9.5z"/>
<path fill="#54c568" d="M367.3 131.6l6.6 1.1 3.9 2.7-6.5.3z"/>
<path fill="#24aa83" d="M591.1 192.9l7.2-18.7 3.8-6.5-7.2 17.5z"/>
<path fill="#375b8d" d="M224.4 304.3l3.2-13 4.8-1.2-3 18.1z"/>
<path fill="#69cd5b" d="M304.7 117.1l6.8 2.2 2 2.9-6.8-2.5z"/>
<path fill="#463480" d="M222.6 361.1l1.9 2.3 2-29.9-1.9-.6z"/>
<path fill="#28ae80" d="M594.9 185.2l7.2-17.5 3.9-8-7.2 15.8z"/>
<path fill="#29af7f" d="M392.8 162.4l6.7 16.6 2.6.8-6.8-16.7z"/>
<path fill="#42be71" d="M387.2 141.9l6.7 8.6 3.8-.8-6.6-7.4z"/>
<path fill="#375a8c" d="M758.4 318.5l7.7-17.1 4.8-14.7-7.1 5.8z"/>
<path fill="#2b748e" d="M734.1 270.1l6.3 11.2 4.9-28.9-6.5-7.6z"/>
<path fill="#5cc863" d="M337.6 127.3l4.6-.8 1.4 2.5-4.6 1.1z"/>
<path fill="#21a585" d="M586.6 199.1l7.3-19.2 4.4-5.7-7.2 18.7z"/>
<path fill="#67cc5c" d="M311.5 119.3l2.6.5 2.1 3-2.7-.6z"/>
<path fill="#37b878" d="M389.9 150.5l6.8 12.7 3.9-.9-6.7-11.8z"/>
<path fill="#38598c" d="M217.4 298.4l2.5-4.3 4.5 10.2-2.3 9.6z"/>
<path fill="#1f948c" d="M468.3 217.8l6.7-9.3 1.3.8-6.7 8.7z"/>
<path fill="#481c6e" d="M693 383.9l8.3-28.5 1.7 2.3-9.1 49.6z"/>
<path fill="#5ac864" d="M350.2 127.6l6.5-.6 4 5.3-6.5 2.1z"/>
<path fill="#38588c" d="M799.9 296.9l9-13.5 2.1 24-9.4 19.6z"/>
<path fill="#31b57b" d="M598.8 175.5l7.2-15.8 3.9-9.2-7.2 13.7z"/>
<path fill="#54c568" d="M373.9 132.7l5.3 2.5 3.9 1.7-5.3-1.5z"/>
<path fill="#2d708e" d="M746.3 283.5l7.4-3.4 4.6-23.7-7.2-.9z"/>
<path fill="#3e4a89" d="M748.2 328.4l8-25.2 1.6 7.3-8.4 32.4z"/>
<path fill="#60ca60" d="M326.4 123.3l6.6-.5 2.7 4.8-6.5.9z"/>
<path fill="#4ec36b" d="M379.2 135.2l8 6.7 3.9.4-8-5.4z"/>
<path fill="#375b8d" d="M811 307.4l8.5-28.2 2.9 9-9.1 37.9z"/>
<path fill="#482576" d="M689.6 362.8l1.4 12.9 2.1-8.5-1.5-10.6z"/>
<path fill="#3d4d8a" d="M731.7 303l9.6 4.6 2.1 30.2-9.2-12.8z"/>
<path fill="#67cc5c" d="M314.1 119.8l3.8.3 2 3.2-3.7-.5z"/>
<path fill="#20a386" d="M585.4 200.3l7.3-19.1 1.2-1.3-7.3 19.2z"/>
<path fill="#32658e" d="M759.2 296.3l4.6-3.8 4.3-17-4.4.5z"/>
<path fill="#26828e" d="M522.8 233.7l6.8-5.6 3.5 18.5-6.8 9.6z"/>
<path fill="#218e8d" d="M496.2 213.7l6.7 7.9 3.6 14.7-6.5-12.6z"/>
<path fill="#365c8d" d="M716 284.3l6.1 16.5 1.4 12.4-6-18.8z"/>
<path fill="#75d054" d="M296 112l4.6 2.4 2.1 1.8-4.6-2.6z"/>
<path fill="#482979" d="M693.1 367.2l3.5 14.9 3.4-29.1-3.8-7.5z"/>
<path fill="#73d056" d="M300.6 114.4l2 .8 2.1 1.9-2-.9z"/>
<path fill="#306a8e" d="M232.4 298.2l3-17 3.4-18.9-3.2 12.8z"/>
<path fill="#20a386" d="M583.5 202l7.3-19 1.9-1.8-7.3 19.1z"/>
<path fill="#33638d" d="M781.5 281.6l6.5 7.7 2.8 11-5.9-18.4z"/>
<path fill="#218f8d" d="M557.5 234.5l7.1-21.9 4-1-7.1 21.7z"/>
<path fill="#20928c" d="M417.2 207.6l1.9 1 4 22.1-1.9-1z"/>
<path fill="#2cb17e" d="M390.8 161.3l6.8 16.4 1.9 1.3-6.7-16.6z"/>
<path fill="#32648e" d="M711.7 270l5.8 24.4 1.8 13.8-5.5-30.3z"/>
<path fill="#1f988b" d="M476.3 209.3l6.6-3.1 3.8 3.3-6.6.5z"/>
<path fill="#63cb5f" d="M333 122.8l1.9-.2 2.7 4.7-1.9.3z"/>
<path fill="#20928c" d="M457.7 220.6l4.3-8.7 1.9 2.6-4.3 9.2z"/>
<path fill="#60ca60" d="M342.2 126.5l6.6-1 1.4 2.1-6.6 1.4z"/>
<path fill="#482576" d="M688 359l1.4 10.4 1.6 6.3-1.4-12.9z"/>
<path fill="#70cf57" d="M302.6 115.2l6.8 1.8 2.1 2.3-6.8-2.2z"/>
<path fill="#5cc863" d="M356.7 127l3.8.2 4 4.5-3.8.6z"/>
<path fill="#69cd5b" d="M317.9 120.1l6.5 0 2 3.2-6.5 0z"/>
<path fill="#38b977" d="M388.6 150.2l6.7 12.9 1.4.1-6.8-12.7z"/>
<path fill="#443983" d="M224.5 363.4l4.2-12.4 2.1-24.7-4.3 7.2z"/>
<path fill="#1f948c" d="M410.5 201.3l6.7 6.3 4 22.1-6.6-8z"/>
<path fill="#1f968b" d="M465.8 216.4l6.7-9.8 2.5 1.9-6.7 9.3z"/>
<path fill="#20928c" d="M419.1 208.6l4.7.8 4 21.2-4.7.1z"/>
<path fill="#3d4e8a" d="M741.3 307.6l4.6-5.4 2.3 26.2-4.8 9.4z"/>
<path fill="#24aa83" d="M391.6 170l6.8 17.1 3.9 8-6.7-19.4z"/>
<path fill="#2c718e" d="M712.5 252.4l5.5 32.3 1.1-1-5.5-32z"/>
<path fill="#2b758e" d="M713.6 251.7l5.5 32 4.7-13.2-5.7-26.2z"/>
<path fill="#1fa287" d="M580.7 204l7.2-18.7 2.9-2.3-7.3 19z"/>
<path fill="#463480" d="M206.4 325.5l7.5 23.2 6.4 38.5-8.3-46.1z"/>
<path fill="#46c06f" d="M383.2 141l6.7 9.5 4 0-6.7-8.6z"/>
<path fill="#20928c" d="M451.5 216.9l2.3-4.5 3.9 8.2-2.4 5.6z"/>
<path fill="#6ece58" d="M309.4 117l2.7.3 2 2.5-2.6-.5z"/>
<path fill="#39558c" d="M724.9 292.9l6.8 10.1 2.5 22-6.6-13.6z"/>
<path fill="#1f948c" d="M489.6 208l6.6 5.7 3.8 10-6.6-9.4z"/>
<path fill="#5ec962" d="M360.5 127.2l2.8.4 4 4-2.8.1z"/>
<path fill="#65cb5e" d="M334.9 122.6l4.6-.5 2.7 4.4-4.6.8z"/>
<path fill="#277e8e" d="M728.1 252.7l6 17.4 4.7-25.3-6.4-11.4z"/>
<path fill="#424086" d="M215 333.5l7.6 27.6 2-28.2-7-14.1z"/>
<path fill="#2e6f8e" d="M778.7 269.1l6.2 12.8 3.6-2.2-5.9-18.9z"/>
<path fill="#2c728e" d="M753.7 280.1l10-4.1 4.3-17.4-9.7-2.2z"/>
<path fill="#2c738e" d="M233.3 283.8l2.3-8.7 3.2-26.6-2.4 5.6z"/>
<path fill="#31688e" d="M763.8 292.5l7.1-5.8 4-9.8-6.8-1.4z"/>
<path fill="#1f988b" d="M482.9 206.2l6.7 1.8 3.8 6.3-6.7-4.8z"/>
<path fill="#1f998a" d="M407.1 196.5l3.4 4.8 4.1 20.4-3.5-6.4z"/>
<path fill="#70cf57" d="M312.1 117.3l3.7.2 2.1 2.6-3.8-.3z"/>
<path fill="#20a486" d="M394.4 177.3l6.7 15.7 4 13.5-6.7-19.4z"/>
<path fill="#5cc863" d="M363.3 127.6l6.6 2.3 4 2.8-6.6-1.1z"/>
<path fill="#2c728e" d="M710.7 252.2l5.5 31.7 1.8.8-5.5-32.3z"/>
<path fill="#3bbb75" d="M386 149.3l6.8 13.1 2.5.7-6.7-12.9z"/>
<path fill="#2eb37c" d="M388.8 159.8l6.8 15.9 2 2-6.8-16.4z"/>
<path fill="#6ccd5a" d="M324.4 120.1l6.6-.4 2 3.1-6.6.5z"/>
<path fill="#63cb5f" d="M348.8 125.5l6.5-.2 1.4 1.7-6.5.6z"/>
<path fill="#1fa187" d="M578.1 205.6l7.2-18.4 2.6-1.9-7.2 18.7z"/>
<path fill="#54c568" d="M375.2 133.2l8 7.8 4 .9-8-6.7z"/>
<path fill="#7ad151" d="M291.9 110.4l4.6 2 4.1 2-4.6-2.4z"/>
<path fill="#2e6d8e" d="M774.9 276.9l6.6 4.7 3.4.3-6.2-12.8z"/>
<path fill="#277e8e" d="M718.1 244.3l5.7 26.2 4.3-17.8-6-19.4z"/>
<path fill="#5ac864" d="M369.9 129.9l5.3 3.3 4 2-5.3-2.5z"/>
<path fill="#77d153" d="M296.5 112.4l2.1.6 4 2.2-2-.8z"/>
<path fill="#34618d" d="M219.9 294.1l3.4-6.5 4.3 3.7-3.2 13z"/>
<path fill="#1e9b8a" d="M475 208.5l6.6-3.7 1.3 1.4-6.6 3.1z"/>
<path fill="#20938c" d="M423.8 209.4l6.7-2.4 3.9 18-6.6 5.6z"/>
<path fill="#228d8d" d="M508.2 223.4l5.9 3.8 1.3 6.6-5.9-4.5z"/>
<path fill="#463480" d="M691.6 356.6l1.5 10.6 3.1-21.7-1.6-6.5z"/>
<path fill="#67cc5c" d="M339.5 122.1l6.6-.2 2.7 3.6-6.6 1z"/>
<path fill="#1f988b" d="M463.9 214.5l6.7-9.9 1.9 2-6.7 9.8z"/>
<path fill="#21918c" d="M554.1 232l7.1-20.4 3.4 1-7.1 21.9z"/>
<path fill="#70cf57" d="M315.8 117.5l6.5-.2 2.1 2.8-6.5 0z"/>
<path fill="#228b8d" d="M514.1 227.2l3.2.7 1.3 6.7-3.2-.8z"/>
<path fill="#33628d" d="M203.9 281.5l2.1 2.2 5 20-2.1-.9z"/>
<path fill="#26828e" d="M223.4 259l4.6 3.6 2.9-31-4.5-2.6z"/>
<path fill="#2c738e" d="M763.7 276l4.4-.5 4.1-14.1-4.2-2.8z"/>
<path fill="#1f9e89" d="M403.8 191.4l3.3 5.1 4 18.8-3.2-6.8z"/>
<path fill="#4ac16d" d="M381.9 140.5l6.7 9.7 1.3.3-6.7-9.5z"/>
<path fill="#6ece58" d="M331 119.7l1.8-.1 2.1 3-1.9.2z"/>
<path fill="#26818e" d="M228 262.6l2-.2 3-30.9-2.1.1z"/>
<path fill="#77d153" d="M298.6 113l6.7 1 4.1 3-6.8-1.8z"/>
<path fill="#1f948c" d="M441 216l6.6-9.7 3.9 10.6-6.6 14.2z"/>
<path fill="#2c718e" d="M768.1 275.5l6.8 1.4 3.8-7.8-6.5-7.7z"/>
<path fill="#21918c" d="M501.6 216.9l6.6 6.5 1.3 5.9-6.6-7.7z"/>
<path fill="#355e8d" d="M721.1 286.3l3.8 6.6 2.7 18.5-3.8-7z"/>
<path fill="#46307e" d="M696.6 382.1l8.4-29.8 2.9-15.1-7.9 15.8z"/>
<path fill="#65cb5e" d="M355.3 125.3l3.8.4 1.4 1.5-3.8-.2z"/>
<path fill="#1fa187" d="M576.1 206.9l7.2-18.3 2-1.4-7.2 18.4z"/>
<path fill="#306a8e" d="M770.9 286.7l7.1-4.4 3.5-.7-6.6-4.7z"/>
<path fill="#31668e" d="M199.2 274.2l4.7 7.3 5 21.3-4.7-7.2z"/>
<path fill="#228c8d" d="M540 232.5l6.9-14.8 3.6 8.2-7 20.2zM517.3 227.9l4.3-.7 1.2 6.5-4.2.9z"/>
<path fill="#3f4889" d="M224.6 332.9l1.9.6.7-8.8-1.9-.2z"/>
<path fill="#34618d" d="M764.8 305.4l7.9-19 1.1-.9-7.7 15.9z"/>
<path fill="#33638d" d="M206 283.7l6.8 3.1 4.6 11.6-6.4 5.3z"/>
<path fill="#32658e" d="M766.1 301.4l7.7-15.9 4.2-3.2-7.1 4.4z"/>
<path fill="#355f8d" d="M762.8 311.2l8-23.9 1.9-.9-7.9 19z"/>
<path fill="#3dbc74" d="M384.1 148.3l6.7 13 2 1.1-6.8-13.1z"/>
<path fill="#65cb5e" d="M359.1 125.7l2.8.6 1.4 1.3-2.8-.4z"/>
<path fill="#77d153" d="M305.3 114l2.7 0 4.1 3.3-2.7-.3z"/>
<path fill="#6ece58" d="M332.8 119.6l4.7-.3 2 2.8-4.6.5z"/>
<path fill="#1f988b" d="M453.8 212.4l4.3-7.2 3.9 6.7-4.3 8.7z"/>
<path fill="#1f968b" d="M495 210.3l6.6 6.6 1.3 4.7-6.7-7.9z"/>
<path fill="#6ccd5a" d="M346.1 121.9l6.6.4 2.6 3-6.5.2z"/>
<path fill="#3f4788" d="M541.3 314.4l7.4 52.2 4.5-27.2-7.6-36.5z"/>
<path fill="#58c765" d="M373.9 132.4l8 8.1 1.3.5-8-7.8z"/>
<path fill="#33638d" d="M719.3 283.1l1.8 3.2 2.7 18.1-1.7-3.6z"/>
<path fill="#29798e" d="M772.2 261.4l6.5 7.7 3.9-8.3-6.2-12.4z"/>
<path fill="#73d056" d="M322.3 117.3l6.6-.4 2.1 2.8-6.6.4z"/>
<path fill="#25858e" d="M745.3 252.4l1.7 1.3 4.7-24.5-1.8-1.3z"/>
<path fill="#228c8d" d="M529.6 228.1l6.8-8.8 3.6 13.2-6.9 14.1z"/>
<path fill="#306a8e" d="M778 282.3l7-2.1 3 9.1-6.5-7.7z"/>
<path fill="#65cb5e" d="M361.9 126.3l6.7 2.6 1.3 1-6.6-2.3z"/>
<path fill="#1e9c89" d="M481.6 204.8l6.7 1 1.3 2.2-6.7-1.8z"/>
<path fill="#4cc26c" d="M379.3 139.4l6.7 9.9 2.6.9-6.7-9.7z"/>
<path fill="#25848e" d="M747 253.7l4.1 1.8 4.6-23.8-4-2.5z"/>
<path fill="#2b758e" d="M708.1 249.4l5.7 28.5 2.4 6-5.5-31.7z"/>
<path fill="#1e9d89" d="M472.5 206.6l6.6-4.7 2.5 2.9-6.6 3.7z"/>
<path fill="#1fa187" d="M572.3 209.4l7.2-18.4 3.8-2.4-7.2 18.3z"/>
<path fill="#77d153" d="M308 114l3.7-.1 4.1 3.6-3.7-.2z"/>
<path fill="#355e8d" d="M760 314.7l8.2-28.1 2.6.7-8 23.9z"/>
<path fill="#60ca60" d="M368.6 128.9l5.3 3.5 1.3.8-5.3-3.3z"/>
<path fill="#1e9b8a" d="M462 211.9l6.6-9.7 2 2.4-6.7 9.9z"/>
<path fill="#472e7c" d="M686.8 343.8l3.9 6.1 2.3 34-3.6-14.5z"/>
<path fill="#1f9a8a" d="M488.3 205.8l6.7 4.5 1.2 3.4-6.6-5.7z"/>
<path fill="#423f85" d="M226 367.7l5-40.5 3-8.6-5.3 32.4z"/>
<path fill="#23888e" d="M738.8 244.8l6.5 7.6 4.6-24.5-6.6-5.9z"/>
<path fill="#3e4c8a" d="M553.2 339.4l4.6 10 4.4-40.6-4.7-4.8z"/>
<path fill="#25838e" d="M751.1 255.5l7.2.9 4.5-20.8-7.1-3.9z"/>
<path fill="#3d4e8a" d="M217.6 318.8l7 14.1.7-8.4-6.9-10.9z"/>
<path fill="#31688e" d="M785 280.2l7-1.9 2.4 18.1-6.4-7.1z"/>
<path fill="#238a8d" d="M722.1 233.3l6 19.4 4.3-19.3-6.2-13.7z"/>
<path fill="#34b679" d="M384.8 155.6l6.8 14.4 4 5.7-6.8-15.9z"/>
<path fill="#81d34d" d="M287.9 110.2l4.6 1.7 4 .5-4.6-2z"/>
<path fill="#433e85" d="M696.2 345.5l3.8 7.5 1.8-13.2-3.9-5.8z"/>
<path fill="#21a585" d="M397.1 179.4l6.7 12 4.1 17.1-6.8-15.5z"/>
<path fill="#2e6e8e" d="M710 263.4l6 20.9 1.5 10.1-5.8-24.4z"/>
<path fill="#6ccd5a" d="M352.7 122.3l3.7.8 2.7 2.6-3.8-.4z"/>
<path fill="#3fbc73" d="M602.1 167.7l7-15.4 3.8-7-6.9 14.4z"/>
<path fill="#70cf57" d="M337.5 119.3l6.6.1 2 2.5-6.6.2z"/>
<path fill="#287c8e" d="M235.6 275.1l3.2-12.8 3.4-22.7-3.4 8.9z"/>
<path fill="#25848e" d="M230 262.4l6.4-8.3 3.1-27.5-6.5 4.9z"/>
<path fill="#75d054" d="M328.9 116.9l1.9-.1 2 2.8-1.8.1z"/>
<path fill="#32658e" d="M212.8 286.8l2.7-.1 4.4 7.4-2.5 4.3z"/>
<path fill="#404588" d="M538 308.9l7.6 40.7 3.1 17-7.4-52.2z"/>
<path fill="#48c16e" d="M606 159.7l6.9-14.4 3.9-7.8-6.9 13z"/>
<path fill="#37b878" d="M598.3 174.2l7-16 3.8-5.9-7 15.4z"/>
<path fill="#7fd34e" d="M292.5 111.9l2 .4 4.1.7-2.1-.6z"/>
<path fill="#40bd72" d="M382.1 147l6.7 12.8 2 1.5-6.7-13z"/>
<path fill="#26828e" d="M758.3 256.4l9.7 2.2 4.2-15.6-9.4-7.4z"/>
<path fill="#277f8e" d="M768 258.6l4.2 2.8 4.2-13-4.2-5.4z"/>
<path fill="#3e4c8a" d="M226.5 333.5l4.3-7.2.8-8.1-4.4 6.5z"/>
<path fill="#6ccd5a" d="M356.4 123.1l2.9.8 2.6 2.4-2.8-.6z"/>
<path fill="#7ad151" d="M311.7 113.9l6.5-.7 4.1 4.1-6.5.2z"/>
<path fill="#2c718e" d="M232.4 290.1l5.5-26.5 3.1-8.6-5.6 26.2z"/>
<path fill="#5ac864" d="M371.3 130.9l8 8.5 2.6 1.1-8-8.1z"/>
<path fill="#218f8d" d="M521.6 227.2l6.7-4.6 1.3 5.5-6.8 5.6z"/>
<path fill="#1f998a" d="M430.5 207l6.6-5 3.9 14-6.6 9z"/>
<path fill="#2db27d" d="M387.6 162.9l6.8 14.4 4 9.8-6.8-17.1z"/>
<path fill="#218f8d" d="M732.4 233.4l6.4 11.4 4.5-22.8-6.5-7.9z"/>
<path fill="#77d153" d="M330.8 116.8l4.6-.1 2.1 2.6-4.7.3z"/>
<path fill="#30698e" d="M792 278.3l5.7-3.9 2.2 22.5-5.5-.5z"/>
<path fill="#2e6e8e" d="M227.6 291.3l5.7-20.3 4.6-7.4-5.5 26.5z"/>
<path fill="#69cd5b" d="M359.3 123.9l6.6 3.2 2.7 1.8-6.7-2.6z"/>
<path fill="#50c46a" d="M377.3 138.4l6.8 9.9 1.9 1-6.7-9.9z"/>
<path fill="#31b57b" d="M593.9 179.9l7-16 4.4-5.7-7 16z"/>
<path fill="#7fd34e" d="M294.5 112.3l6.8.3 4 1.4-6.7-1z"/>
<path fill="#1f948c" d="M550.5 225.9l7-17.3 3.7 3-7.1 20.4z"/>
<path fill="#1fa188" d="M568.6 211.6l7.2-18.4 3.7-2.2-7.2 18.4z"/>
<path fill="#65cb5e" d="M365.9 127.1l5.4 3.8 2.6 1.5-5.3-3.5z"/>
<path fill="#306a8e" d="M713.1 269.4l6.2 13.7 2.8 17.7-6.1-16.5z"/>
<path fill="#1fa088" d="M479.1 201.9l6.7-.5 2.5 4.4-6.7-1z"/>
<path fill="#73d056" d="M344.1 119.4l6.6.8 2 2.1-6.6-.4z"/>
<path fill="#414487" d="M694.6 339l1.6 6.5 1.7-11.5-1.7-5.2z"/>
<path fill="#1fa088" d="M470.6 204.6l6.7-5.1 1.8 2.4-6.6 4.7z"/>
<path fill="#1f948c" d="M505.8 213.3l5.9 2.7 2.4 11.2-5.9-3.8z"/>
<path fill="#1e9c89" d="M447.6 206.3l2.4-3.2 3.8 9.3-2.3 4.5z"/>
<path fill="#365c8d" d="M745.9 302.2l7.6-16 2.7 17-8 25.2z"/>
<path fill="#1f978b" d="M499.2 208.7l6.6 4.6 2.4 10.1-6.6-6.5z"/>
<path fill="#2eb37c" d="M592.7 181.2l7-16 1.2-1.3-7 16z"/>
<path fill="#34618d" d="M757.8 310.5l8.2-27.7 2.2 3.8-8.2 28.1z"/>
<path fill="#31688e" d="M215.5 286.7l3.6-.9 4.2 1.8-3.4 6.5z"/>
<path fill="#20938c" d="M511.7 216l3.3.6 2.3 11.3-3.2-.7z"/>
<path fill="#81d34d" d="M301.3 112.6l2.6-.3 4.1 1.7-2.7 0z"/>
<path fill="#3c508b" d="M557.8 349.4l7.6-18.5 4.3-30.9-7.5 8.8z"/>
<path fill="#453882" d="M685.2 338.5l1.6 5.3 2.6 25.6-1.4-10.4z"/>
<path fill="#3b518b" d="M204.1 305.3l7.9 35.8 3-7.6-7.6-29.8z"/>
<path fill="#1e9c89" d="M492.5 204.2l6.7 4.5 2.4 8.2-6.6-6.6z"/>
<path fill="#77d153" d="M335.4 116.7l6.6.4 2.1 2.3-6.6-.1z"/>
<path fill="#7fd34e" d="M318.2 113.2l6.6-.5 4.1 4.2-6.6.4z"/>
<path fill="#1f9f88" d="M485.8 201.4l6.7 2.8 2.5 6.1-6.7-4.5z"/>
<path fill="#2eb37c" d="M590.8 183l6.9-15.9 2-1.9-7 16z"/>
<path fill="#73d056" d="M350.7 120.2l3.8 1 1.9 1.9-3.7-.8z"/>
<path fill="#414287" d="M684.4 321.2l5.2 41.6 2-6.2-5.4-38.6z"/>
<path fill="#463480" d="M690.7 349.9l7.6-10 3 15.5-8.3 28.5z"/>
<path fill="#414287" d="M700 353l7.9-15.8 1.6-9-7.7 11.6z"/>
<path fill="#5ec962" d="M369.3 129.7l8 8.7 2 1-8-8.5z"/>
<path fill="#86d549" d="M283.9 110.4l4.5 1.3 4.1.2-4.6-1.7z"/>
<path fill="#2f6c8e" d="M808.9 283.4l8.1-19.9 2.5 15.7-8.5 28.2z"/>
<path fill="#39568c" d="M207.4 303.7l7.6 29.8 2.6-14.7-7.3-20.5z"/>
<path fill="#414287" d="M220.2 344.1l5.6-23.6 5.2 6.7-5 40.5z"/>
<path fill="#54c568" d="M375.3 137.1l6.8 9.9 2 1.3-6.8-9.9z"/>
<path fill="#287c8e" d="M235.4 281.2l5.6-26.2 3.6-14.8-5.8 22.1z"/>
<path fill="#73d056" d="M354.5 121.2l2.8 1 2 1.7-2.9-.8z"/>
<path fill="#1f948c" d="M515 216.6l4.2-.4 2.4 11-4.3.7z"/>
<path fill="#81d34d" d="M303.9 112.3l3.7-.6 4.1 2.2-3.7.1z"/>
<path fill="#297b8e" d="M705.8 245.2l5.9 24.8 2.1 7.9-5.7-28.5z"/>
<path fill="#1fa088" d="M458.1 205.2l6.7-8.3 3.8 5.3-6.6 9.7z"/>
<path fill="#84d44b" d="M288.4 111.7l2.1.3 4 .3-2-.4z"/>
<path fill="#2e6e8e" d="M223.3 287.6l6.1-11.9 3.9-4.7-5.7 20.3zM773.8 285.5l7.5-12.3 3.7 7-7 2.1z"/>
<path fill="#6ece58" d="M357.3 122.2l6.7 3.5 1.9 1.4-6.6-3.2z"/>
<path fill="#48c16e" d="M378.1 143.7l6.7 11.9 4 4.2-6.7-12.8z"/>
<path fill="#238a8d" d="M236.4 254.1l2.4-5.6 3.2-25.6-2.5 3.7z"/>
<path fill="#1f978b" d="M726.2 219.7l6.2 13.7 4.4-19.3-6.4-9.8z"/>
<path fill="#404588" d="M542.3 317l4.7 5.8 3.2 39.1-4.6-12.3z"/>
<path fill="#2db27d" d="M587.9 185.3l7-15.5 2.8-2.7-6.9 15.9z"/>
<path fill="#69cd5b" d="M364 125.7l5.3 4 2 1.2-5.4-3.8z"/>
<path fill="#3c4f8a" d="M228.7 351l5.3-32.4 2.5-15-5.7 22.7z"/>
<path fill="#375a8c" d="M225.3 324.5l1.9.2 3.1-28.8-1.9 1.1z"/>
<path fill="#424186" d="M682.6 320.8l5.4 38.2 1.6 3.8-5.2-41.6z"/>
<path fill="#2ab07f" d="M390.3 167l6.8 12.4 4 13.6-6.7-15.7z"/>
<path fill="#1fa188" d="M564.6 212.6l7.2-18 4-1.4-7.2 18.4z"/>
<path fill="#365c8d" d="M218.4 313.6l6.9 10.9 3.1-27.5-6.6-1.6z"/>
<path fill="#7fd34e" d="M324.8 112.7l1.9-.1 4.1 4.2-1.9.1z"/>
<path fill="#21918c" d="M712.2 220.5l5.9 23.8 4-11-6.1-19.6z"/>
<path fill="#7ad151" d="M342 117.1l6.6 1.2 2.1 1.9-6.6-.8z"/>
<path fill="#228c8d" d="M707.9 224.9l5.7 26.8 4.5-7.4-5.9-23.8z"/>
<path fill="#1fa287" d="M468.6 202.2l6.7-5.3 2 2.6-6.7 5.1z"/>
<path fill="#365d8d" d="M210.3 298.3l7.3 20.5.8-5.2-7.2-17.4z"/>
<path fill="#86d549" d="M290.5 112l6.7-.3 4.1.9-6.8-.3z"/>
<path fill="#3e4a89" d="M686.2 318l5.4 38.6 3-17.6-5.7-29.8z"/>
<path fill="#20a386" d="M477.3 199.5l6.7-1.3 1.8 3.2-6.7.5z"/>
<path fill="#81d34d" d="M326.7 112.6l4.7 0 4 4.1-4.6.1z"/>
<path fill="#1fa188" d="M450 203.1l4.3-5.4 3.8 7.5-4.3 7.2z"/>
<path fill="#86d549" d="M307.6 111.7l6.5-1.2 4.1 2.7-6.5.7z"/>
<path fill="#63cb5f" d="M367.3 128.4l8 8.7 2 1.3-8-8.7z"/>
<path fill="#7ad151" d="M348.6 118.3l3.8 1.1 2.1 1.8-3.8-1z"/>
<path fill="#1f988b" d="M716 213.7l6.1 19.6 4.1-13.6-6.2-15.4z"/>
<path fill="#2cb17e" d="M585.3 187.2l7-15.3 2.6-2.1-7 15.5z"/>
<path fill="#3fbc73" d="M380.8 150.3l6.8 12.6 4 7.1-6.8-14.4z"/>
<path fill="#238a8d" d="M706.7 225.4l5.8 27 1.1-.7-5.7-26.8z"/>
<path fill="#20a486" d="M413.2 189.7l1.9 1 4 17.9-1.9-1z"/>
<path fill="#1f958b" d="M528.3 222.6l6.8-7.4 1.3 4.1-6.8 8.8z"/>
<path fill="#365d8d" d="M545.6 302.9l7.6 36.5 4.3-35.4-7.8-22.1z"/>
<path fill="#77d153" d="M352.4 119.4l2.9 1.1 2 1.7-2.8-1z"/>
<path fill="#21a685" d="M406.5 184.2l6.7 5.5 4 17.9-6.7-6.3z"/>
<path fill="#32658e" d="M728.9 286.4l9.8.4 2.6 20.8-9.6-4.6z"/>
<path fill="#31688e" d="M721.9 279.8l7 6.6 2.8 16.6-6.8-10.1z"/>
<path fill="#1f978b" d="M536.4 219.3l6.8-9.8 3.7 8.2-6.9 14.8z"/>
<path fill="#1f968b" d="M519.2 216.2l6.8-3 2.3 9.4-6.7 4.6z"/>
<path fill="#20a386" d="M415.1 190.7l4.7 1.5 4 17.2-4.7-.8z"/>
<path fill="#1fa188" d="M437.1 202l6.6-5.9 3.9 10.2-6.6 9.7z"/>
<path fill="#1f988b" d="M226.4 229l4.5 2.6 3.2-26.2-4.5-2z"/>
<path fill="#75d054" d="M355.3 120.5l6.6 3.7 2.1 1.5-6.7-3.5z"/>
<path fill="#33638d" d="M211.2 296.2l7.2 17.4 3.4-18.2-6.7-6.5z"/>
<path fill="#6ece58" d="M361.9 124.2l5.4 4.2 2 1.3-5.3-4z"/>
<path fill="#2d718e" d="M797.7 274.4l9-12.5 2.2 21.5-9 13.5z"/>
<path fill="#86d549" d="M297.2 111.7l2.7-.5 4 1.1-2.6.3z"/>
<path fill="#2e6e8e" d="M219.1 285.8l6.4-2.9 3.9-7.2-6.1 11.9z"/>
<path fill="#365d8d" d="M227.2 324.7l4.4-6.5 3.1-28.1-4.4 5.8z"/>
<path fill="#1f988b" d="M230.9 231.6l2.1-.1 3.2-26.1-2.1 0z"/>
<path fill="#31678e" d="M756.2 303.2l8.1-25.3 1.7 4.9-8.2 27.7z"/>
<path fill="#89d548" d="M279.8 110l4.5 1.2 4.1.5-4.5-1.3z"/>
<path fill="#2e6d8e" d="M208.5 281l2.7 3.4 4.3 2.3-2.7.1z"/>
<path fill="#81d34d" d="M331.4 112.6l6.6.6 4 3.9-6.6-.4z"/>
<path fill="#24aa83" d="M403 180.4l3.5 3.8 4 17.1-3.4-4.8z"/>
<path fill="#2ab07f" d="M583.3 188.6l6.9-15.1 2.1-1.6-7 15.3z"/>
<path fill="#20a386" d="M484 198.2l6.6 1.7 1.9 4.3-6.7-2.8z"/>
<path fill="#2f6c8e" d="M211.2 284.4l3.9 4.5 4-3.1-3.6.9z"/>
<path fill="#5ac864" d="M371.3 134.3l6.8 9.4 4 3.3-6.8-9.9z"/>
<path fill="#228b8d" d="M704.9 225.5l5.8 26.7 1.8.2-5.8-27z"/>
<path fill="#2d718e" d="M772.7 286.4l7.6-14.7 1 1.5-7.5 12.3z"/>
<path fill="#2d708e" d="M201.4 271.1l7.1 9.9 4.3 5.8-6.8-3.1z"/>
<path fill="#1e9b8a" d="M546.9 217.7l6.9-13.2 3.7 4.1-7 17.3z"/>
<path fill="#3e4989" d="M208.4 317.2l2 1.6 5.4 32-1.9-2.1z"/>
<path fill="#3b528b" d="M697.9 334l3.9 5.8 4.8-31.2-4-3.7z"/>
<path fill="#89d548" d="M284.3 111.2l2.1.2 4.1.6-2.1-.3z"/>
<path fill="#2a788e" d="M706.9 252.9l6.2 16.5 2.9 14.9-6-20.9z"/>
<path fill="#1fa187" d="M561.2 211.6l7.1-16.7 3.5-.3-7.2 18zM490.6 199.9l6.7 3.3 1.9 5.5-6.7-4.5z"/>
<path fill="#3e4989" d="M547 322.8l7.5-10.1 3.3 27.1-7.6 22.1z"/>
<path fill="#1f9f88" d="M497.3 203.2l6.7 3.5 1.8 6.6-6.6-4.6z"/>
<path fill="#2f6b8e" d="M215.1 288.9l6.7 6.5 3.7-12.5-6.4 2.9z"/>
<path fill="#3b518b" d="M560.9 351.1l7.5-39.1 4.3-10.7-7.3 29.6z"/>
<path fill="#21908d" d="M238.8 248.5l3.4-8.9 3.3-22.8-3.5 6.1z"/>
<path fill="#89d548" d="M299.9 111.2l3.6-.8 4.1 1.3-3.7.6z"/>
<path fill="#2e6e8e" d="M718 274.5l3.9 5.3 3 13.1-3.8-6.6z"/>
<path fill="#89d548" d="M314.1 110.5l6.6-.9 4.1 3.1-6.6.5z"/>
<path fill="#1fa188" d="M720 204.3l6.2 15.4 4.2-15.4-6.4-12z"/>
<path fill="#27ad81" d="M399.8 176.3l3.2 4.1 4.1 16.1-3.3-5.1z"/>
<path fill="#39568c" d="M198.7 296.3l7.7 29.2 5.6 15.6-7.9-35.8z"/>
<path fill="#20a486" d="M419.8 192.2l6.7-.1 4 14.9-6.7 2.4z"/>
<path fill="#2c728e" d="M199.2 267.6l2.2 3.5 4.6 12.6-2.1-2.2z"/>
<path fill="#1e9d89" d="M504 206.7l5.9 2.2 1.8 7.1-5.9-2.7z"/>
<path fill="#63cb5f" d="M612.9 145.3l7.2-13.7 3.8-6.8-7.1 12.7z"/>
<path fill="#21a685" d="M475.3 196.9l6.7-1.9 2 3.2-6.7 1.3z"/>
<path fill="#84d44b" d="M338 113.2l6.6 1.6 4 3.5-6.6-1.2z"/>
<path fill="#3a548c" d="M688.9 309.2l5.7 29.8 1.6-10.2-5.8-25.5z"/>
<path fill="#3aba76" d="M383.6 155.1l6.7 11.9 4.1 10.3-6.8-14.4z"/>
<path fill="#5ac864" d="M609.1 152.3l7.1-14.3 3.9-6.4-7.2 13.7z"/>
<path fill="#26818e" d="M704 241.4l6 22 1.7 6.6-5.9-24.8z"/>
<path fill="#238a8d" d="M238.8 262.3l5.8-22.1 3.5-17.6-5.9 17z"/>
<path fill="#39568c" d="M696.2 328.8l1.7 5.2 4.7-29.1-1.8-3.1z"/>
<path fill="#2ab07f" d="M579.5 191l7-14.8 3.7-2.7-6.9 15.1z"/>
<path fill="#2a788e" d="M819.5 279.2l8.6-27.7 3.1 4.6-8.8 32.1z"/>
<path fill="#375b8d" d="M230.8 326.3l5.7-22.7.9-5.7-5.8 20.3z"/>
<path fill="#1e9d89" d="M509.9 208.9l3.3.5 1.8 7.2-3.3-.6z"/>
<path fill="#31678e" d="M738.7 286.8l4.6-4.3 2.6 19.7-4.6 5.4z"/>
<path fill="#8bd646" d="M286.4 111.4l6.7-.6 4.1.9-6.7.3z"/>
<path fill="#2c718e" d="M770.8 287.3l7.8-18.1 1.7 2.5-7.6 14.7z"/>
<path fill="#3e4a89" d="M210.4 318.8l4.6-1.2 5.2 26.5-4.4 6.7z"/>
<path fill="#2c718e" d="M716.3 271.8l1.7 2.7 3.1 11.8-1.8-3.2z"/>
<path fill="#69cd5b" d="M363.3 125.7l8 8.6 4 2.8-8-8.7z"/>
<path fill="#1f9a8a" d="M233 231.5l6.5-4.9 3.3-24.2-6.6 3z"/>
<path fill="#52c569" d="M605.3 158.2l7.1-14.4 3.8-5.8-7.1 14.3z"/>
<path fill="#2b758e" d="M781.3 273.2l7.4-10.2 3.3 15.3-7 1.9z"/>
<path fill="#22a785" d="M464.8 196.9l6.7-5.2 3.8 5.2-6.7 5.3z"/>
<path fill="#2f6b8e" d="M207.2 286.4l4 9.8 3.9-7.3-3.9-4.5z"/>
<path fill="#8bd646" d="M320.7 109.6l1.9-.1 4.1 3.1-1.9.1z"/>
<path fill="#81d34d" d="M344.6 114.8l3.8 1.4 4 3.2-3.8-1.1z"/>
<path fill="#52c569" d="M374.1 139.7l6.7 10.6 4 5.3-6.7-11.9z"/>
<path fill="#3c4f8a" d="M557.8 339.8l7.3-32.4 3.3 4.6-7.5 39.1z"/>
<path fill="#2a778e" d="M194.4 258.9l4.8 8.7 4.7 13.9-4.7-7.3z"/>
<path fill="#1e9c89" d="M710.2 212.9l2 7.6 3.8-6.8-2-6.6z"/>
<path fill="#1fa187" d="M714 207.1l2 6.6 4-9.4-2.1-5.6z"/>
<path fill="#7fd34e" d="M348.4 116.2l2.8 1.3 4.1 3-2.9-1.1z"/>
<path fill="#2f6c8e" d="M221.8 295.4l6.6 1.6 3.4-19.5-6.3 5.4z"/>
<path fill="#228d8d" d="M702.2 224.4l5.9 25 2.6 2.8-5.8-26.7z"/>
<path fill="#1e9d89" d="M513.2 209.4l4.2-.1 1.8 6.9-4.2.4z"/>
<path fill="#8ed645" d="M303.5 110.4l6.6-1.7 4 1.8-6.5 1.2z"/>
<path fill="#39558c" d="M701.8 339.8l7.7-11.6 4.5-24.4-7.4 4.8z"/>
<path fill="#2eb37c" d="M393 167l6.8 9.3 4 15.1-6.7-12z"/>
<path fill="#75d054" d="M357.9 121.4l5.4 4.3 4 2.7-5.4-4.2z"/>
<path fill="#482475" d="M672.1 368.7l5.4 52.7 5.2-46.3-6.5-19.3z"/>
<path fill="#7cd250" d="M351.2 117.5l6.7 3.9 4 2.8-6.6-3.7z"/>
<path fill="#21a585" d="M443.7 196.1l2.4-2.1 3.9 9.1-2.4 3.2z"/>
<path fill="#30698e" d="M206.1 287.2l4.2 11.1.9-2.1-4-9.8z"/>
<path fill="#4ac16d" d="M600.9 163.9l7.1-14.2 4.4-5.9-7.1 14.4z"/>
<path fill="#22a785" d="M454.3 197.7l6.7-6.5 3.8 5.7-6.7 8.3z"/>
<path fill="#8ed645" d="M322.6 109.5l4.7 0 4.1 3.1-4.7 0z"/>
<path fill="#22a785" d="M482 195l6.7.8 1.9 4.1-6.6-1.7z"/>
<path fill="#8ed645" d="M293.1 110.8l2.7-.6 4.1 1-2.7.5z"/>
<path fill="#1e9c89" d="M526 213.2l6.8-5 2.3 7-6.8 7.4z"/>
<path fill="#90d743" d="M275.7 108.8l4.5 1.1 4.1 1.3-4.5-1.2z"/>
<path fill="#31688e" d="M203.1 289.1l4.3 14.6 2.9-5.4-4.2-11.1z"/>
<path fill="#3e4c8a" d="M679.3 312.8l5.9 25.7 2.8 20.5-5.4-38.2z"/>
<path fill="#3a538b" d="M201.4 303.1l7 14.1 5.5 31.5-7.5-23.2z"/>
<path fill="#22a884" d="M717.9 198.7l2.1 5.6 4-12-2.1-4.6z"/>
<path fill="#29af7f" d="M575.8 193.2l6.9-14.6 3.8-2.4-7 14.8z"/>
<path fill="#1f9a8a" d="M705.9 216.8l2 8.1 4.3-4.4-2-7.6z"/>
<path fill="#46c06f" d="M599.7 165.2l7.1-14 1.2-1.5-7.1 14.2z"/>
<path fill="#22a785" d="M426.5 192.1l6.7-2 3.9 11.9-6.6 5z"/>
<path fill="#2d708e" d="M204.3 279.7l2.9 6.7 4-2-2.7-3.4z"/>
<path fill="#8ed645" d="M280.2 109.9l2.1.1 4.1 1.4-2.1-.2z"/>
<path fill="#2a778e" d="M709.9 260.2l6.4 11.6 3 11.3-6.2-13.7z"/>
<path fill="#20a486" d="M557.5 208.6l7.1-14.4 3.7.7-7.1 16.7z"/>
<path fill="#21a685" d="M488.7 195.8l6.7 2.3 1.9 5.1-6.7-3.3z"/>
<path fill="#44bf70" d="M597.7 167.1l7.1-13.7 2-2.2-7.1 14z"/>
<path fill="#90d743" d="M295.8 110.2l3.7-1 4 1.2-3.6.8z"/>
<path fill="#1f9e89" d="M535.1 215.2l6.9-8.4 1.2 2.7-6.8 9.8z"/>
<path fill="#2b748e" d="M768.2 286.6l8-21.5 2.4 4.1-7.8 18.1z"/>
<path fill="#8ed645" d="M327.3 109.5l6.6.7 4.1 3-6.6-.6z"/>
<path fill="#2e6e8e" d="M228.4 297l1.9-1.1 3.3-20.6-1.8 2.2z"/>
<path fill="#38598c" d="M534.5 291.7l7.8 25.3 3.3 32.6-7.6-40.7z"/>
<path fill="#63cb5f" d="M367.3 131l6.8 8.7 4 4-6.8-9.4z"/>
<path fill="#20a486" d="M495.4 198.1l6.7 2.7 1.9 5.9-6.7-3.5z"/>
<path fill="#1f9f88" d="M517.4 209.3l6.8-2 1.8 5.9-6.8 3z"/>
<path fill="#1f9e89" d="M239.5 226.6l2.5-3.7 3.4-22.9-2.6 2.4z"/>
<path fill="#4cc26c" d="M376.8 144.4l6.8 10.7 4 7.8-6.8-12.6z"/>
<path fill="#2f6c8e" d="M557.5 304l4.7 4.8 4.3-33.3-4.8-2.8z"/>
<path fill="#93d741" d="M310.1 108.7l6.5-1.2 4.1 2.1-6.6.9z"/>
<path fill="#2b758e" d="M225.5 282.9l6.3-5.4 3.7-13.4-6.1 11.6z"/>
<path fill="#31678e" d="M199.8 288.7l4.3 16.6 3.3-1.6-4.3-14.6z"/>
<path fill="#1f998a" d="M704.8 217.2l1.9 8.2 1.2-.5-2-8.1z"/>
<path fill="#23a983" d="M446.1 194l4.3-3.5 3.9 7.2-4.3 5.4z"/>
<path fill="#90d743" d="M282.3 110l6.8-.5 4 1.3-6.7.6z"/>
<path fill="#42be71" d="M594.9 169.8l7-13.4 2.9-3-7.1 13.7z"/>
<path fill="#20a386" d="M502.1 200.8l6 1.8 1.8 6.3-5.9-2.2z"/>
<path fill="#25ab82" d="M471.5 191.7l6.7-2.4 3.8 5.7-6.7 1.9z"/>
<path fill="#23a983" d="M710 194.2l4 12.9 3.9-8.4-4.1-11.3z"/>
<path fill="#3bbb75" d="M386.3 157l6.7 10 4.1 12.4-6.8-12.4z"/>
<path fill="#287c8e" d="M229.4 275.7l6.1-11.6 3.8-10.2-6 17.1z"/>
<path fill="#26818e" d="M233.3 271l6-17.1 4.5-11.3-5.9 21z"/>
<path fill="#2d718e" d="M203.2 279.7l2.9 7.5 1.1-.8-2.9-6.7z"/>
<path fill="#33628d" d="M690.4 303.3l5.8 25.5 4.6-27-6.2-16.7z"/>
<path fill="#8ed645" d="M333.9 110.2l6.7 1.7 4 2.9-6.6-1.6z"/>
<path fill="#20a486" d="M706.2 198.8l4 14.1 3.8-5.8-4-12.9z"/>
<path fill="#28ae80" d="M713.8 187.4l4.1 11.3 4-11-4.1-9.8z"/>
<path fill="#21908d" d="M699.9 222.4l5.9 22.8 2.3 4.2-5.9-25z"/>
<path fill="#3c4f8a" d="M703 357.7l11.8-49.3 1.9-2.9-11.7 46.8z"/>
<path fill="#33638d" d="M565.4 330.9l7.3-29.6 4.1-19.9-7.1 18.6z"/>
<path fill="#20a386" d="M508.1 202.6l3.2.5 1.9 6.3-3.3-.5z"/>
<path fill="#1fa187" d="M543.2 209.5l6.9-9.3 3.7 4.3-6.9 13.2z"/>
<path fill="#29af7f" d="M571.8 194.6l6.9-13.9 4-2.1-6.9 14.6z"/>
<path fill="#297b8e" d="M788.7 263l6-8.1 3 19.5-5.7 3.9z"/>
<path fill="#24878e" d="M237.9 263.6l5.9-21 3-9-5.8 21.4z"/>
<path fill="#73d056" d="M359.3 122.9l8 8.1 4 3.3-8-8.6z"/>
<path fill="#1f998a" d="M702.9 217.5l2 8 1.8-.1-1.9-8.2z"/>
<path fill="#25ab82" d="M229.6 203.4l4.5 2 3.4-22.1-4.6-1.6z"/>
<path fill="#95d840" d="M299.5 109.2l6.5-1.9 4.1 1.4-6.6 1.7zM316.6 107.5l1.9-.2 4.1 2.2-1.9.1z"/>
<path fill="#2a778e" d="M196.9 263.6l7.4 16.1 4.2 1.3-7.1-9.9z"/>
<path fill="#30698e" d="M231.6 318.2l5.8-20.3 3.3-22.5-6 14.7z"/>
<path fill="#3e4a89" d="M683.9 326.2l3.9 5.2 2.9 18.5-3.9-6.1z"/>
<path fill="#40bd72" d="M592.3 171.9l7-13.1 2.6-2.4-7 13.4z"/>
<path fill="#8bd646" d="M340.6 111.9l3.7 1.5 4.1 2.8-3.8-1.4z"/>
<path fill="#2f6b8e" d="M535 280l6.3 34.4 4.3-11.5-6.3-29.7z"/>
<path fill="#2d718e" d="M753.5 286.2l7.9-19.6 2.9 11.3-8.1 25.3z"/>
<path fill="#46075a" d="M134.7 413.1l2.1-9 1.8 5.7-1.5 20.9z"/>
<path fill="#482173" d="M218.6 384.8l6.8 40.8 2.3-50.4-5.6-11.9z"/>
<path fill="#93d741" d="M289.1 109.5l2.6-.6 4.1 1.3-2.7.6z"/>
<path fill="#25ab82" d="M234.1 205.4l2.1 0 3.3-21.9-2-.2z"/>
<path fill="#23888e" d="M700.7 235l6.2 17.9 3.1 10.5-6-22z"/>
<path fill="#3d4e8a" d="M701.3 355.4l11.6-45.9 1.9-1.1-11.8 49.3z"/>
<path fill="#1f9a8a" d="M242.2 239.6l5.9-17 3.5-18.4-6.1 12.6z"/>
<path fill="#8bd646" d="M344.3 113.4l2.9 1.3 4 2.8-2.8-1.3z"/>
<path fill="#20a386" d="M511.3 203.1l4.3 0 1.8 6.2-4.2.1z"/>
<path fill="#2d718e" d="M200.1 279.6l3 9.5 3-1.9-2.9-7.5z"/>
<path fill="#7fd34e" d="M353.9 118.7l5.4 4.2 4 2.8-5.4-4.3z"/>
<path fill="#98d83e" d="M271.6 107l4.5 1.1 4.1 1.8-4.5-1.1z"/>
<path fill="#86d549" d="M347.2 114.7l6.7 4 4 2.7-6.7-3.9z"/>
<path fill="#2e6e8e" d="M562.2 308.8l7.5-8.8 4.2-29.3-7.4 4.8z"/>
<path fill="#482979" d="M668.8 351.2l6.5 19.9 2.2 50.3-5.4-52.7z"/>
<path fill="#2d708e" d="M743.3 282.5l7.5-11.7 2.7 15.4-7.6 16z"/>
<path fill="#2c718e" d="M230.3 295.9l4.4-5.8 3.3-21.7-4.4 6.9z"/>
<path fill="#287c8e" d="M780.3 271.7l7.5-12 .9 3.3-7.4 10.2z"/>
<path fill="#25ac82" d="M433.2 190.1l6.6-3 3.9 9-6.6 5.9z"/>
<path fill="#98d83e" d="M318.5 107.3l4.7-.1 4.1 2.3-4.7 0z"/>
<path fill="#1fa187" d="M242 222.9l3.5-6.1 3.4-21-3.5 4.2z"/>
<path fill="#39558c" d="M705 352.3l11.7-46.8 2.6-6.1-11.4 37.8z"/>
<path fill="#26ad81" d="M461 191.2l6.7-4.3 3.8 4.8-6.7 5.2z"/>
<path fill="#2b748e" d="M718.4 273.7l7.1 3.7 3.4 9-7-6.6z"/>
<path fill="#5ec962" d="M370.1 135.2l6.7 9.2 4 5.9-6.7-10.6z"/>
<path fill="#1fa287" d="M701.9 202l4 14.8 4.3-3.9-4-14.1z"/>
<path fill="#26ad81" d="M478.2 189.3l6.7-.3 3.8 6.8-6.7-.8z"/>
<path fill="#3fbc73" d="M590.2 173.5l7.1-12.8 2-1.9-7 13.1z"/>
<path fill="#2b748e" d="M549.7 281.9l7.8 22.1 4.2-31.3-7.9-13.6z"/>
<path fill="#95d840" d="M276.1 108.1l2.1.2 4.1 1.7-2.1-.1z"/>
<path fill="#472d7b" d="M677.5 421.4l12.2-66.7 4-10.1-11 30.5z"/>
<path fill="#3c4f8a" d="M682.2 322.5l1.7 3.7 2.9 17.6-1.6-5.3z"/>
<path fill="#39568c" d="M215 317.6l6.1-10.8 4.7 13.7-5.6 23.6z"/>
<path fill="#2a778e" d="M714.4 269.7l4 4 3.5 6.1-3.9-5.3z"/>
<path fill="#1fa287" d="M532.8 208.2l6.8-5.8 2.4 4.4-6.9 8.4zM524.2 207.3l6.7-3.6 1.9 4.5-6.8 5z"/>
<path fill="#98d83e" d="M291.7 108.9l3.7-.9 4.1 1.2-3.7 1z"/>
<path fill="#470e61" d="M137.1 430.7l1.5-20.9 1.9-17.1-2.4 5.1z"/>
<path fill="#26828e" d="M703.6 246.2l6.3 14 3.2 9.2-6.2-16.5z"/>
<path fill="#30698e" d="M702.6 304.9l4 3.7 4.4-21-4-3.2z"/>
<path fill="#22a884" d="M553.8 204.5l7.1-11.4 3.7 1.1-7.1 14.4z"/>
<path fill="#21908d" d="M241 255l5.8-21.4 3.7-12.9-5.9 19.5z"/>
<path fill="#2a788e" d="M766 282.8l8-22.5 2.2 4.8-8 21.5z"/>
<path fill="#3e4c8a" d="M687.8 331.4l7.4-2.6 3.1 11.1-7.6 10z"/>
<path fill="#277f8e" d="M806.7 261.9l7.9-15.6 2.4 17.2-8.1 19.9z"/>
<path fill="#81d34d" d="M620.1 131.6l7.1-12.4 3.8-6.2-7.1 11.8z"/>
<path fill="#4cc26c" d="M379.5 147.3l6.8 9.7 4 10-6.7-11.9z"/>
<path fill="#1f9a8a" d="M700.2 216.8l2 7.6 2.7 1.1-2-8z"/>
<path fill="#26ad81" d="M236.2 205.4l6.6-3 3.4-20.8-6.7 1.9z"/>
<path fill="#297b8e" d="M231.8 277.5l1.8-2.2 3.7-14.7-1.8 3.5z"/>
<path fill="#2f6c8e" d="M700.8 301.8l1.8 3.1 4.4-20.5-1.8-2.3z"/>
<path fill="#297a8e" d="M712.6 267.4l1.8 2.3 3.6 4.8-1.7-2.7z"/>
<path fill="#98d83e" d="M323.2 107.2l6.7.7 4 2.3-6.6-.7z"/>
<path fill="#306a8e" d="M531.7 277.4l6.3 31.5 3.3 5.5-6.3-34.4z"/>
<path fill="#75d054" d="M616.2 138l7.2-12.7 3.8-6.1-7.1 12.4z"/>
<path fill="#29af7f" d="M568.3 194.9l6.9-12.8 3.5-1.4-6.9 13.9z"/>
<path fill="#277e8e" d="M194.7 258.9l2.2 4.7 4.5 7.5-2.2-3.5z"/>
<path fill="#9bd93c" d="M306 107.3l6.6-1.3 4 1.5-6.5 1.2z"/>
<path fill="#2b748e" d="M539.3 273.2l6.3 29.7 4.1-21-6.5-22z"/>
<path fill="#27ad81" d="M450.4 190.5l6.7-4.5 3.9 5.2-6.7 6.5z"/>
<path fill="#20a486" d="M515.6 203.1l6.7-1.1 1.9 5.3-6.8 2z"/>
<path fill="#2c738e" d="M725.5 277.4l10-3.1 3.2 12.5-9.8-.4z"/>
<path fill="#2eb37c" d="M409.2 175.2l1.9 1.2 4 14.3-1.9-1z"/>
<path fill="#26828e" d="M817 263.5l8.2-21.9 2.9 9.9-8.6 27.7z"/>
<path fill="#98d83e" d="M278.2 108.3l6.7-.3 4.2 1.5-6.8.5z"/>
<path fill="#26ad81" d="M484.9 189l6.7 1 3.8 8.1-6.7-2.3z"/>
<path fill="#1fa287" d="M700.8 202.4l4 14.8 1.1-.4-4-14.8z"/>
<path fill="#31b57b" d="M402.4 170.2l6.8 5 4 14.5-6.7-5.5z"/>
<path fill="#3dbc74" d="M586.5 176.2l7-12.4 3.8-3.1-7.1 12.8z"/>
<path fill="#2db27d" d="M411.1 176.4l4.8 2.1 3.9 13.7-4.7-1.5z"/>
<path fill="#20938c" d="M698 220.6l6 20.8 1.8 3.8-5.9-22.8z"/>
<path fill="#482173" d="M213.7 367.1l5.7 12.7 6 45.8-6.8-40.8z"/>
<path fill="#33628d" d="M231 327.2l5.4-31.7 3-6.8-5.4 29.9z"/>
<path fill="#6ece58" d="M612.4 143.8l7.1-12.5 3.9-6-7.2 12.7z"/>
<path fill="#365d8d" d="M707.9 337.2l11.4-37.8 1.4-4-11.2 32.8z"/>
<path fill="#6ece58" d="M363.3 127.4l6.8 7.8 4 4.5-6.8-8.7z"/>
<path fill="#297a8e" d="M195.8 262.2l7.4 17.5 1.1 0-7.4-16.1z"/>
<path fill="#35b779" d="M399 166.9l3.4 3.3 4.1 14-3.5-3.8z"/>
<path fill="#306a8e" d="M706.6 308.6l7.4-4.8 4.3-17.3-7.3 1.1z"/>
<path fill="#2c728e" d="M196.7 278.1l3.1 10.6 3.3.4-3-9.5z"/>
<path fill="#28ae80" d="M439.8 187.1l2.4-1 3.9 7.9-2.4 2.1z"/>
<path fill="#27808e" d="M778.6 269.2l7.7-14.6 1.5 5.1-7.5 12z"/>
<path fill="#2e6d8e" d="M194.4 280.9l4.3 15.4 5.4 9-4.3-16.6z"/>
<path fill="#21a685" d="M542 206.8l6.9-7.9 1.2 1.3-6.9 9.3z"/>
<path fill="#9bd93c" d="M295.4 108l6.5-1.8 4.1 1.1-6.5 1.9z"/>
<path fill="#98d83e" d="M329.9 107.9l6.6 1.7 4.1 2.3-6.7-1.7z"/>
<path fill="#25ac82" d="M491.6 190l6.8 1.5 3.7 9.3-6.7-2.7z"/>
<path fill="#3aba76" d="M395.7 163.5l3.3 3.4 4 13.5-3.2-4.1z"/>
<path fill="#1fa287" d="M698.9 202.9l4 14.6 1.9-.3-4-14.8z"/>
<path fill="#38b977" d="M707.7 169.6l6.1 17.8 4-9.5-6.3-16.1z"/>
<path fill="#2db27d" d="M415.9 178.5l6.6 1.6 4 12-6.7.1z"/>
<path fill="#31b57b" d="M703.9 175.2l6.1 19 3.8-6.8-6.1-17.8z"/>
<path fill="#9dd93b" d="M312.6 106l1.9-.2 4 1.5-1.9.2z"/>
<path fill="#65cb5e" d="M608 149.7l7.1-12 4.4-6.4-7.1 12.5z"/>
<path fill="#31668e" d="M678.7 287.4l5.7 33.8 1.8-3.2-5.6-32.8z"/>
<path fill="#27808e" d="M706.2 257l6.4 10.4 3.7 4.4-6.4-11.6z"/>
<path fill="#9bd93c" d="M284.9 108l2.7-.4 4.1 1.3-2.6.6z"/>
<path fill="#30698e" d="M680.6 285.2l5.6 32.8 2.7-8.8-5.8-29.4z"/>
<path fill="#25848e" d="M235.5 264.1l1.8-3.5 3.7-11.2-1.7 4.5z"/>
<path fill="#2ab07f" d="M467.7 186.9l6.7-2.4 3.8 4.8-6.7 2.4z"/>
<path fill="#7fd34e" d="M355.2 120l8.1 7.4 4 3.6-8-8.1z"/>
<path fill="#25838e" d="M189.7 248.5l5 10.4 4.5 8.7-4.8-8.7z"/>
<path fill="#5cc863" d="M372.8 138.4l6.7 8.9 4.1 7.8-6.8-10.7z"/>
<path fill="#28ae80" d="M242.8 202.4l2.6-2.4 3.4-20-2.6 1.6z"/>
<path fill="#95d840" d="M336.5 109.6l3.8 1.4 4 2.4-3.7-1.5z"/>
<path fill="#60ca60" d="M606.8 151.2l7.1-11.9 1.2-1.6-7.1 12z"/>
<path fill="#25ab82" d="M498.4 191.5l5.9 1.3 3.8 9.8-6-1.8z"/>
<path fill="#2c728e" d="M694.6 285.1l6.2 16.7 4.4-19.7-6.4-12.2z"/>
<path fill="#31678e" d="M194 282.1l7.4 21 5 22.4-7.7-29.2z"/>
<path fill="#a0da39" d="M267 105.5l4.6 1.1 4.5 1.5-4.5-1.1z"/>
<path fill="#93d741" d="M340.3 111l2.9 1.4 4 2.3-2.9-1.3z"/>
<path fill="#306a8e" d="M234 318.6l5.4-29.9 2.8-10.3-5.7 25.2z"/>
<path fill="#3bbb75" d="M582.7 178.6l7-11.9 3.8-2.9-7 12.4z"/>
<path fill="#424186" d="M676.2 355.8l6.5 19.3 4.7-30.3-6.9-7.9z"/>
<path fill="#a0da39" d="M314.5 105.8l4.7-.2 4 1.6-4.7.1z"/>
<path fill="#2cb17e" d="M700.1 179l6.1 19.8 3.8-4.6-6.1-19z"/>
<path fill="#3a548c" d="M698.3 339.9l11.1-31.5 3.5 1.1-11.6 45.9z"/>
<path fill="#1e9b8a" d="M244.6 240.2l5.9-19.5 3.6-14.5-6 16.4z"/>
<path fill="#42be71" d="M389 155.9l6.7 7.6 4.1 12.8-6.8-9.3z"/>
<path fill="#32658e" d="M676.9 288l5.7 32.8 1.8.4-5.7-33.8z"/>
<path fill="#89d548" d="M349.9 116.2l5.3 3.8 4.1 2.9-5.4-4.2z"/>
<path fill="#1e9d89" d="M697.8 215.4l2.1 7 2.3 2-2-7.6z"/>
<path fill="#90d743" d="M343.2 112.4l6.7 3.8 4 2.5-6.7-4z"/>
<path fill="#2e6e8e" d="M683.1 279.8l5.8 29.4 1.5-5.9-5.9-27z"/>
<path fill="#33628d" d="M225.8 320.5l5.6-24 5-1-5.4 31.7z"/>
<path fill="#5cc863" d="M604.8 153.4l7.1-11.6 2-2.5-7.1 11.9z"/>
<path fill="#3aba76" d="M232.9 181.7l4.6 1.6 3.5-18.5-4.6-1.4z"/>
<path fill="#2ab07f" d="M564.6 194.2l6.8-11 3.8-1.1-6.9 12.8zM442.2 186.1l4.3-1.9 3.9 6.3-4.3 3.5z"/>
<path fill="#287c8e" d="M192.5 258.6l7.6 21 3.1.1-7.4-17.5z"/>
<path fill="#22a785" d="M522.3 202l6.8-2.3 1.8 4-6.7 3.6z"/>
<path fill="#472a7a" d="M225.4 425.6l5.7-57 3.7-16.3-7.1 22.9z"/>
<path fill="#9dd93b" d="M287.6 107.6l3.7-.8 4.1 1.2-3.7.9z"/>
<path fill="#297a8e" d="M711 272.8l4 3.4 3.4-2.5-4-4z"/>
<path fill="#34608d" d="M554.5 312.7l7.1-20.9 3.5 15.6-7.3 32.4z"/>
<path fill="#9dd93b" d="M271.6 106.6l2 .3 4.6 1.4-2.1-.2z"/>
<path fill="#2b758e" d="M707 284.4l4 3.2 4-11.4-4-3.4z"/>
<path fill="#22a785" d="M530.9 203.7l6.9-4.2 1.8 2.9-6.8 5.8z"/>
<path fill="#27808e" d="M233.6 275.3l4.4-6.9 3.6-16.5-4.3 8.7z"/>
<path fill="#25ab82" d="M504.3 192.8l3.3.5 3.7 9.8-3.2-.5z"/>
<path fill="#228c8d" d="M239.3 253.9l1.7-4.5 4.5-12.2-1.7 5.4z"/>
<path fill="#2a788e" d="M715 276.2l7.2 1.5 3.3-.3-7.1-3.7z"/>
<path fill="#481a6c" d="M126 375.7l8.7 37.4 2.4 17.6-9.5-53.1z"/>
<path fill="#2a778e" d="M735.5 274.3l4.6-4.5 3.2 12.7-4.6 4.3z"/>
<path fill="#46327e" d="M675.3 371.1l10.9-29.2 3.5 12.8-12.2 66.7z"/>
<path fill="#2eb37c" d="M422.5 180.1l6.7.2 4 9.8-6.7 2z"/>
<path fill="#2a778e" d="M705.2 282.1l1.8 2.3 4-11.6-1.8-2.1z"/>
<path fill="#287d8e" d="M764.3 277.9l8.1-22 1.6 4.4-8 22.5z"/>
<path fill="#287c8e" d="M709.2 270.7l1.8 2.1 3.4-3.1-1.8-2.3z"/>
<path fill="#3aba76" d="M237.5 183.3l2 .2 3.5-18.5-2-.2z"/>
<path fill="#23a983" d="M245.5 216.8l6.1-12.6 3.6-17.7-6.3 9.3z"/>
<path fill="#25848e" d="M794.7 254.9l9.2-14.2 2.8 21.2-9 12.5z"/>
<path fill="#20a386" d="M696.2 202.9l4 13.9 2.7.7-4-14.6z"/>
<path fill="#5ac864" d="M601.9 156.4l7.1-11.1 2.9-3.5-7.1 11.6z"/>
<path fill="#25ac82" d="M550.1 200.2l7.1-8 3.7.9-7.1 11.4z"/>
<path fill="#a2da37" d="M301.9 106.2l6.6-1.3 4.1 1.1-6.6 1.3z"/>
<path fill="#365c8d" d="M676 303.4l6.2 19.1 3 16-5.9-25.7z"/>
<path fill="#31678e" d="M709.5 328.2l11.2-32.8 4-11.9-10.7 20.3z"/>
<path fill="#2b758e" d="M711 287.6l7.3-1.1 3.9-8.8-7.2-1.5z"/>
<path fill="#2db27d" d="M457.1 186l6.7-3.2 3.9 4.1-6.7 4.3z"/>
<path fill="#a0da39" d="M319.2 105.6l6.6.6 4.1 1.7-6.7-.7z"/>
<path fill="#23a983" d="M539.6 202.4l6.8-5.5 2.5 2-6.9 7.9z"/>
<path fill="#25ab82" d="M507.6 193.3l4.2.5 3.8 9.3-4.3 0z"/>
<path fill="#481f70" d="M127.6 377.6l9.5 53.1 1-32.9-8.2-28.8z"/>
<path fill="#6ece58" d="M366 130.5l6.8 7.9 4 6-6.7-9.2z"/>
<path fill="#2cb17e" d="M245.4 200l3.5-4.2 3.5-18.7-3.6 2.9z"/>
<path fill="#25838e" d="M193.5 257.2l2.3 5 1.1 1.4-2.2-4.7z"/>
<path fill="#a0da39" d="M273.6 106.9l6.8 0 4.5 1.1-6.7.3z"/>
<path fill="#21908d" d="M697.3 230.8l6.3 15.4 3.3 6.7-6.2-17.9z"/>
<path fill="#297b8e" d="M234.7 290.1l6-14.7 3.4-20-6.1 13z"/>
<path fill="#25858e" d="M787.8 259.7l6.1-9.1.8 4.3-6 8.1z"/>
<path fill="#20938c" d="M243.8 242.6l1.7-5.4 3-9.1-1.7 5.5z"/>
<path fill="#50c46a" d="M382.2 147.8l6.8 8.1 4 11.1-6.7-10z"/>
<path fill="#2eb37c" d="M474.4 184.5l6.7-.7 3.8 5.2-6.7.3z"/>
<path fill="#2ab07f" d="M695.8 182.1l6.1 19.9 4.3-3.2-6.1-19.8z"/>
<path fill="#2d718e" d="M236.5 303.6l5.7-25.2.9-4.1-5.7 23.6z"/>
<path fill="#1f988b" d="M694.5 217.2l6.2 17.8 3.3 6.4-6-20.8z"/>
<path fill="#3aba76" d="M578.7 180.7l7-11.2 4-2.8-7 11.9z"/>
<path fill="#26828e" d="M543.2 259.9l6.5 22 4.1-22.8-6.6-15.1z"/>
<path fill="#56c667" d="M599.3 158.8l7.1-10.7 2.6-2.8-7.1 11.1z"/>
<path fill="#2b758e" d="M684.5 276.3l5.9 27 4.2-18.2-6.1-20.4z"/>
<path fill="#a2da37" d="M291.3 106.8l6.6-1.4 4 .8-6.5 1.8z"/>
<path fill="#3bbb75" d="M239.5 183.5l6.7-1.9 3.6-17.6-6.8 1z"/>
<path fill="#26828e" d="M702.7 260.3l6.5 10.4 3.4-3.3-6.4-10.4z"/>
<path fill="#414487" d="M668.8 343.9l3.3 24.8 4.1-12.9-3.5-18z"/>
<path fill="#23898e" d="M699.8 244.1l6.4 12.9 3.7 3.2-6.3-14z"/>
<path fill="#2a788e" d="M569.7 300l7.1-18.6 4.1-22.4-7 11.7z"/>
<path fill="#287d8e" d="M698.8 269.9l6.4 12.2 4-11.4-6.5-10.4z"/>
<path fill="#25848e" d="M776.2 265.1l7.8-17.6 2.3 7.1-7.7 14.6z"/>
<path fill="#a5db36" d="M308.5 104.9l1.9-.2 4.1 1.1-1.9.2z"/>
<path fill="#1f9f88" d="M695.9 214l2.1 6.6 1.9 1.8-2.1-7z"/>
<path fill="#a0da39" d="M325.8 106.2l6.7 1.6 4 1.8-6.6-1.7z"/>
<path fill="#472a7a" d="M219.4 379.8l7-23.2 4.7 12-5.7 57z"/>
<path fill="#25838e" d="M561.7 272.7l4.8 2.8 4.2-27.3-4.8-1.7z"/>
<path fill="#7cd250" d="M359.3 123.8l6.7 6.7 4.1 4.7-6.8-7.8z"/>
<path fill="#25ac82" d="M511.8 193.8l6.8.2 3.7 8-6.7 1.1z"/>
<path fill="#a2da37" d="M280.4 106.9l2.7-.2 4.5.9-2.7.4z"/>
<path fill="#54c568" d="M597.3 160.7l7-10.4 2.1-2.2-7.1 10.7z"/>
<path fill="#2fb47c" d="M446.5 184.2l6.7-2.6 3.9 4.4-6.7 4.5z"/>
<path fill="#31b57b" d="M429.2 180.3l6.7-.4 3.9 7.2-6.6 3z"/>
<path fill="#238a8d" d="M237.3 260.6l4.3-8.7 3.7-13.1-4.3 10.6z"/>
<path fill="#a5db36" d="M263.3 105.4l4.6 1 3.7.2-4.6-1.1z"/>
<path fill="#2a778e" d="M191.3 270.8l3.1 10.1 5.4 7.8-3.1-10.6z"/>
<path fill="#38588c" d="M680.5 320.8l3.9 6.7 3.4 3.9-3.9-5.2z"/>
<path fill="#297a8e" d="M722.2 277.7l10.2-6.7 3.1 3.3-10 3.1z"/>
<path fill="#2db27d" d="M560.9 193.1l6.8-8.7 3.7-1.2-6.8 11z"/>
<path fill="#29af7f" d="M694.7 182.8l6.1 19.6 1.1-.4-6.1-19.9z"/>
<path fill="#25ab82" d="M529.1 199.7l6.8-2.5 1.9 2.3-6.9 4.2z"/>
<path fill="#1e9b8a" d="M246.8 233.6l1.7-5.5 3.7-12.6-1.7 5.2z"/>
<path fill="#21a585" d="M693.7 202.4l4.1 13 2.4 1.4-4-13.9z"/>
<path fill="#a0da39" d="M332.5 107.8l3.8 1.3 4 1.9-3.8-1.4z"/>
<path fill="#30698e" d="M673.4 285.4l5.9 27.4 3.3 8-5.7-32.8z"/>
<path fill="#a8db34" d="M310.4 104.7l4.7-.2 4.1 1.1-4.7.2z"/>
<path fill="#2eb37c" d="M481.1 183.8l6.7.3 3.8 5.9-6.7-1z"/>
<path fill="#39558c" d="M684.4 327.5l7.2 2.2 3.6-.9-7.4 2.6z"/>
<path fill="#22a785" d="M248.1 222.6l6-16.4 3.7-15.2-6.2 13.2z"/>
<path fill="#5ec962" d="M375.5 139.9l6.7 7.9 4.1 9.2-6.8-9.7z"/>
<path fill="#31678e" d="M539 286.8l4.7 3.5 3.3 32.5-4.7-5.8z"/>
<path fill="#27808e" d="M189 254.9l7.7 23.2 3.4 1.5-7.6-21z"/>
<path fill="#9dd93b" d="M336.3 109.1l2.8 1.2 4.1 2.1-2.9-1.4z"/>
<path fill="#a5db36" d="M267.9 106.4l2.1.4 3.6.1-2-.3z"/>
<path fill="#89d548" d="M351.2 117.3l8.1 6.5 4 3.6-8.1-7.4z"/>
<path fill="#23898e" d="M188.6 246.4l4.9 10.8 1.2 1.7-5-10.4z"/>
<path fill="#23888e" d="M553.8 259.1l7.9 13.6 4.2-26.2-8-8.3z"/>
<path fill="#27ad81" d="M548.9 198.9l7-6.8 1.3.1-7.1 8z"/>
<path fill="#a5db36" d="M283.1 106.7l3.7-.4 4.5.5-3.7.8z"/>
<path fill="#31668e" d="M203.3 294l2 1.8 5.1 23-2-1.6z"/>
<path fill="#a0da39" d="M627.2 119.2l8.6-12.9 3.8-5.7-8.6 12.4z"/>
<path fill="#98d83e" d="M339.1 110.3l6.7 3.5 4.1 2.4-6.7-3.8z"/>
<path fill="#54c568" d="M236.4 163.4l4.6 1.4 3.6-15.5-4.6-1.2z"/>
<path fill="#52c569" d="M701.5 152.1l6.2 17.5 3.8-7.8-6.2-16.5z"/>
<path fill="#3fbc73" d="M246.2 181.6l2.6-1.6 3.6-17-2.6 1z"/>
<path fill="#93d741" d="M345.8 113.8l5.4 3.5 4 2.7-5.3-3.8z"/>
<path fill="#2c738e" d="M528 267.2l6.5 24.5 3.5 17.2-6.3-31.5z"/>
<path fill="#24868e" d="M190.2 252.9l2.3 5.7 3.3 3.6-2.3-5z"/>
<path fill="#26ad81" d="M537.8 199.5l6.8-3.8 1.8 1.2-6.8 5.5z"/>
<path fill="#3aba76" d="M575.2 182.1l7-10.2 3.5-2.4-7 11.2z"/>
<path fill="#32b67a" d="M463.8 182.8l6.7-1.8 3.9 3.5-6.7 2.4z"/>
<path fill="#3c4f8a" d="M672.7 337.8l3.5 18 4.3-18.9-3.8-10.6z"/>
<path fill="#277f8e" d="M750.8 270.8l7.6-15.4 3 11.2-7.9 19.6z"/>
<path fill="#52c569" d="M593.5 163.8l7-9.9 3.8-3.6-7 10.4z"/>
<path fill="#2ab07f" d="M692.8 183.6l6.1 19.3 1.9-.5-6.1-19.6z"/>
<path fill="#3f4889" d="M682.7 375.1l11-30.5 4.2-17.8-10.5 18z"/>
<path fill="#31668e" d="M205.3 295.8l4.7 1.7 5 20.1-4.6 1.2z"/>
<path fill="#3b528b" d="M680.5 336.9l6.9 7.9 4.2-15.1-7.2-2.2z"/>
<path fill="#365c8d" d="M678.8 316.8l1.7 4 3.4 5.4-1.7-3.7z"/>
<path fill="#2c738e" d="M714 303.8l10.7-20.3 4-9.1-10.4 12.1z"/>
<path fill="#a8db34" d="M297.9 105.4l6.5-1 4.1.5-6.6 1.3z"/>
<path fill="#4ac16d" d="M697.7 157.2l6.2 18 3.8-5.6-6.2-17.5z"/>
<path fill="#95d840" d="M623.4 125.3l8.6-12.9 3.8-6.1-8.6 12.9z"/>
<path fill="#52c569" d="M241 164.8l2 .2 3.6-15.4-2-.3z"/>
<path fill="#27808e" d="M688.5 264.7l6.1 20.4 4.2-15.2-6.3-15.9z"/>
<path fill="#2d718e" d="M568.4 312l7.3-31.2 4.3-6.8-7.3 27.3z"/>
<path fill="#34b679" d="M435.9 179.9l2.4-.3 3.9 6.5-2.4 1z"/>
<path fill="#25858e" d="M566.5 275.5l7.4-4.8 4.2-25.5-7.4 3z"/>
<path fill="#482173" d="M136.8 404.1l2.5-22.6 1.6 2.2-2.3 26.1z"/>
<path fill="#20938c" d="M241 249.4l4.3-10.6 4.4-13.7-4.2 12.1z"/>
<path fill="#a5db36" d="M270 106.8l6.8.4 3.6-.3-6.8 0z"/>
<path fill="#2eb37c" d="M487.8 184.1l6.8 1 3.8 6.4-6.8-1.5z"/>
<path fill="#a8db34" d="M315.1 104.5l6.6.6 4.1 1.1-6.6-.6z"/>
<path fill="#27ad81" d="M518.6 194l6.7 0 3.8 5.7-6.8 2.3z"/>
<path fill="#238a8d" d="M786.3 254.6l6.1-10.7 1.5 6.7-6.1 9.1z"/>
<path fill="#297b8e" d="M237.4 297.9l5.7-23.6 3.5-17.2-5.9 18.3z"/>
<path fill="#482576" d="M138.6 409.8l2.3-26.1 2.3-8.6-2.7 17.6z"/>
<path fill="#8bd646" d="M619.5 131.3l8.6-12.5 3.9-6.4-8.6 12.9z"/>
<path fill="#34b679" d="M248.9 195.8l6.3-9.3 3.6-16.1-6.4 6.7z"/>
<path fill="#6ece58" d="M368.7 132.5l6.8 7.4 4 7.4-6.7-8.9z"/>
<path fill="#238a8d" d="M696.4 246.8l6.3 13.5 3.5-3.3-6.4-12.9z"/>
<path fill="#277f8e" d="M740.1 269.8l7.4-10.3 3.3 11.3-7.5 11.7z"/>
<path fill="#297a8e" d="M718.3 286.5l10.4-12.1 3.7-3.4-10.2 6.7z"/>
<path fill="#a8db34" d="M286.8 106.3l6.6-.9 4.5 0-6.6 1.4z"/>
<path fill="#25838e" d="M528.6 252.5l6.4 27.5 4.3-6.8-6.5-25z"/>
<path fill="#29af7f" d="M546.4 196.9l7-4.7 2.5-.1-7 6.8z"/>
<path fill="#22a785" d="M691.8 201.8l4.1 12.2 1.9 1.4-4.1-13z"/>
<path fill="#2f6c8e" d="M196.3 283.2l7 10.8 5.1 23.2-7-14.1z"/>
<path fill="#42be71" d="M248.8 180l3.6-2.9 3.6-16.1-3.6 2z"/>
<path fill="#44bf70" d="M693.9 161.3l6.2 17.7 3.8-3.8-6.2-18z"/>
<path fill="#a8db34" d="M259.3 107l4.6 1.1 4-1.7-4.6-1z"/>
<path fill="#21a585" d="M250.5 220.7l1.7-5.2 3.7-13.8-1.8 4.5z"/>
<path fill="#23888e" d="M532.8 248.2l6.5 25 3.9-13.3-6.5-20.3z"/>
<path fill="#38588c" d="M676.7 326.3l3.8 10.6 3.9-9.4-3.9-6.7z"/>
<path fill="#81d34d" d="M615.1 137.7l8.5-11.6 4.5-7.3-8.6 12.5z"/>
<path fill="#306a8e" d="M543.7 290.3l7.5-5.2 3.3 27.6-7.5 10.1z"/>
<path fill="#54c568" d="M243 165l6.8-1 3.6-14.8-6.8.4z"/>
<path fill="#aadc32" d="M304.4 104.4l1.9-.2 4.1.5-1.9.2z"/>
<path fill="#1fa287" d="M692.4 211.5l2.1 5.7 3.5 3.4-2.1-6.6z"/>
<path fill="#24878e" d="M692.5 254l6.3 15.9 3.9-9.6-6.3-13.5z"/>
<path fill="#42be71" d="M405.1 163.6l2 1.3 4 11.5-1.9-1.2z"/>
<path fill="#35b779" d="M438.3 179.6l4.3-.5 3.9 5.1-4.3 1.9z"/>
<path fill="#365d8d" d="M695.2 328.8l10.7-20.7 3.5.3-11.1 31.5z"/>
<path fill="#35b779" d="M453.2 181.6l6.8-1.8 3.8 3-6.7 3.2z"/>
<path fill="#50c46a" d="M589.7 166.7l7.1-9.4 3.7-3.4-7 9.9z"/>
<path fill="#30698e" d="M221.1 306.8l6-14.3 4.3 4-5.6 24z"/>
<path fill="#a8db34" d="M276.8 107.2l2.6-.1 3.7-.4-2.7.2z"/>
<path fill="#2eb37c" d="M494.6 185.1l6 1.1 3.7 6.6-5.9-1.3z"/>
<path fill="#46c06f" d="M398.4 158.6l6.7 5 4.1 11.6-6.8-5z"/>
<path fill="#2ab07f" d="M690 184.5l6.2 18.4 2.7 0-6.1-19.3z"/>
<path fill="#40bd72" d="M407.1 164.9l4.7 2.7 4.1 10.9-4.8-2.1z"/>
<path fill="#25848e" d="M761.4 266.6l7.9-19.7 3.1 9-8.1 22z"/>
<path fill="#1e9b8a" d="M245.5 237.2l4.2-12.1 3.1-9.3-4.3 12.3z"/>
<path fill="#a8db34" d="M321.7 105.1l6.7 1.4 4.1 1.3-6.7-1.6z"/>
<path fill="#1f948c" d="M693.5 229.7l6.3 14.4 3.8 2.1-6.3-15.4z"/>
<path fill="#2eb37c" d="M557.2 192.2l6.7-6.1 3.8-1.7-6.8 8.7z"/>
<path fill="#238a8d" d="M238 268.4l6.1-13 3.6-16.7-6.1 13.2z"/>
<path fill="#a8db34" d="M263.9 108.1l2 .3 4.1-1.6-2.1-.4z"/>
<path fill="#7ad151" d="M613.9 139.3l8.5-11.3 1.2-1.9-8.5 11.6z"/>
<path fill="#3aba76" d="M571.4 183.2l7-8.7 3.8-2.6-7 10.2z"/>
<path fill="#2a778e" d="M189.7 269.8l4.3 12.3 4.7 14.2-4.3-15.4z"/>
<path fill="#4cc26c" d="M394.9 155.7l3.5 2.9 4 11.6-3.4-3.3z"/>
<path fill="#28ae80" d="M535.9 197.2l6.8-2.2 1.9.7-6.8 3.8z"/>
<path fill="#21908d" d="M814.6 246.3l7.9-17.3 2.7 12.6-8.2 21.9z"/>
<path fill="#35b779" d="M470.5 181l6.8-.7 3.8 3.5-6.7.7z"/>
<path fill="#7cd250" d="M362 125.9l6.7 6.6 4.1 5.9-6.8-7.9z"/>
<path fill="#3f4889" d="M665.2 332.4l3.6 18.8 3.3 17.5-3.3-24.8z"/>
<path fill="#20928c" d="M547.2 244l6.6 15.1 4.1-20.9-6.7-10z"/>
<path fill="#414287" d="M210.5 344.6l8.1 40.2 3.5-21.5-7.7-27.9z"/>
<path fill="#29798e" d="M572.7 301.3l7.3-27.3 4-13.1-7.2 20.5z"/>
<path fill="#1e9d89" d="M691 215.1l6.3 15.7 3.4 4.2-6.2-17.8z"/>
<path fill="#6ccd5a" d="M240 148.1l4.6 1.2 3.7-12.8-4.6-1.2z"/>
<path fill="#228d8d" d="M185.2 241.1l5 11.8 3.3 4.3-4.9-10.8z"/>
<path fill="#3fbc73" d="M411.8 167.6l6.8 2.9 3.9 9.6-6.6-1.6z"/>
<path fill="#77d153" d="M611.9 141.8l8.5-10.9 2-2.9-8.5 11.3z"/>
<path fill="#2d708e" d="M565.1 307.4l7.3-28.8 3.3 2.2-7.3 31.2z"/>
<path fill="#52c569" d="M391.7 152.7l3.2 3 4.1 11.2-3.3-3.4z"/>
<path fill="#addc30" d="M306.3 104.2l4.7-.1 4.1.4-4.7.2z"/>
<path fill="#2eb37c" d="M500.6 186.2l3.2.6 3.8 6.5-3.3-.5z"/>
<path fill="#a8db34" d="M279.4 107.1l3.8-.2 3.6-.6-3.7.4z"/>
<path fill="#404688" d="M222.1 363.3l5.6 11.9 2.8-38-5.4-4.2z"/>
<path fill="#238a8d" d="M774 260.3l8-19 2 6.2-7.8 17.6z"/>
<path fill="#a8db34" d="M328.4 106.5l3.8 1.1 4.1 1.5-3.8-1.3z"/>
<path fill="#2c718e" d="M531 270.5l8 16.3 3.3 30.2-7.8-25.3z"/>
<path fill="#27808e" d="M732.4 271l4.6-5.5 3.1 4.3-4.6 4.5z"/>
<path fill="#2eb37c" d="M251.6 204.2l6.2-13.2 3.6-14.7-6.2 10.2z"/>
<path fill="#29af7f" d="M525.3 194l6.8.2 3.8 3-6.8 2.5z"/>
<path fill="#69cd5b" d="M244.6 149.3l2 .3 3.7-12.8-2-.3z"/>
<path fill="#306a8e" d="M210 297.5l6.5-2.7 4.6 12-6.1 10.8z"/>
<path fill="#a8db34" d="M265.9 108.4l6.8.6 4.1-1.8-6.8-.4z"/>
<path fill="#73d056" d="M609 145.3l8.5-10.4 2.9-4-8.5 10.9z"/>
<path fill="#58c765" d="M249.8 164l2.6-1 3.6-14.5-2.6.7z"/>
<path fill="#a5db36" d="M332.2 107.6l2.9 1.1 4 1.6-2.8-1.2z"/>
<path fill="#89d548" d="M355.2 120.3l6.8 5.6 4 4.6-6.7-6.7z"/>
<path fill="#5ac864" d="M384.9 146.2l6.8 6.5 4 10.8-6.7-7.6z"/>
<path fill="#42be71" d="M689.6 165.1l6.2 17 4.3-3.1-6.2-17.7z"/>
<path fill="#20928c" d="M536.7 239.6l6.5 20.3 4-15.9-6.5-15.2z"/>
<path fill="#2eb37c" d="M503.8 186.8l4.3.8 3.7 6.2-4.2-.5z"/>
<path fill="#2ab07f" d="M544.6 195.7l6.9-3 1.9-.5-7 4.7z"/>
<path fill="#a5db36" d="M255.3 110.7l4.6 1.1 4-3.7-4.6-1.1z"/>
<path fill="#3dbc74" d="M418.6 170.5l6.7 2.2 3.9 7.6-6.7-.2z"/>
<path fill="#355e8d" d="M675 320.8l1.7 5.5 3.8-5.5-1.7-4z"/>
<path fill="#20a386" d="M248.5 228.1l4.3-12.3 3.7-12-4.3 11.7z"/>
<path fill="#addc30" d="M293.4 105.4l6.6-.7 4.4-.3-6.5 1z"/>
<path fill="#3a538b" d="M667.3 333.9l1.5 10 3.9-6.1-1.6-8.2z"/>
<path fill="#38598c" d="M671.1 329.6l1.6 8.2 4-11.5-1.7-5.5z"/>
<path fill="#a2da37" d="M335.1 108.7l6.7 3 4 2.1-6.7-3.5z"/>
<path fill="#4ec36b" d="M585.7 169.5l7-8.6 4.1-3.6-7.1 9.4z"/>
<path fill="#31668e" d="M672.5 298.5l6.3 18.3 3.4 5.7-6.2-19.1z"/>
<path fill="#38b977" d="M442.6 179.1l6.7-.6 3.9 3.1-6.7 2.6z"/>
<path fill="#25838e" d="M525.2 251.2l6.5 26.2 3.3 2.6-6.4-27.5z"/>
<path fill="#93d741" d="M347.1 114.7l8.1 5.6 4.1 3.5-8.1-6.5z"/>
<path fill="#453581" d="M138.1 397.8l2.4-5.1 2.2-39.2-2.6 1z"/>
<path fill="#9dd93b" d="M341.8 111.7l5.3 3 4.1 2.6-5.4-3.5z"/>
<path fill="#228b8d" d="M186.7 248.7l2.3 6.2 3.5 3.7-2.3-5.7z"/>
<path fill="#2fb47c" d="M555.9 192.1l6.7-5.2 1.3-.8-6.7 6.1z"/>
<path fill="#6ece58" d="M606.4 148.1l8.5-9.8 2.6-3.4-8.5 10.4z"/>
<path fill="#2cb17e" d="M687.5 185.1l6.2 17.3 2.5.5-6.2-18.4z"/>
<path fill="#21918c" d="M793.9 250.6l9.1-15 .9 5.1-9.2 14.2z"/>
<path fill="#a5db36" d="M259.9 111.8l2 .4 4-3.8-2-.3z"/>
<path fill="#7fd34e" d="M243.7 135.3l4.6 1.2 3.8-10.5-4.6-1.1z"/>
<path fill="#addc30" d="M311 104.1l6.7.4 4 .6-6.6-.6z"/>
<path fill="#6ccd5a" d="M246.6 149.6l6.8-.4 3.7-12.4-6.8 0z"/>
<path fill="#37b878" d="M477.3 180.3l6.7.1 3.8 3.7-6.7-.3z"/>
<path fill="#a8db34" d="M272.7 109l2.7.1 4-2-2.6.1z"/>
<path fill="#20928c" d="M803.9 240.7l7.7-13.7 3 19.3-7.9 15.6z"/>
<path fill="#29af7f" d="M254.1 206.2l1.8-4.5 3.7-14.4-1.8 3.7z"/>
<path fill="#482979" d="M128.1 369.8l2.5-2 6.2 36.3-2.1 9z"/>
<path fill="#aadc32" d="M283.2 106.9l6.5-.6 3.7-.9-6.6.9z"/>
<path fill="#38b977" d="M460 179.8l6.7-1 3.8 2.2-6.7 1.8z"/>
<path fill="#23a983" d="M688.2 200.6l4.2 10.9 3.5 2.5-4.1-12.2z"/>
<path fill="#3aba76" d="M567.7 184.4l6.9-6.9 3.8-3-7 8.7z"/>
<path fill="#65cb5e" d="M378.1 139.6l6.8 6.6 4.1 9.7-6.8-8.1z"/>
<path fill="#4ac16d" d="M252.4 177.1l6.4-6.7 3.7-14.3-6.5 4.9z"/>
<path fill="#25858e" d="M183.6 247.9l7.7 22.9 5.4 7.3-7.7-23.2z"/>
<path fill="#9dd93b" d="M251.4 116.7l4.5 1.1 4-6-4.6-1.1z"/>
<path fill="#5ac864" d="M252.4 163l3.6-2 3.7-13.8-3.7 1.3z"/>
<path fill="#2eb37c" d="M508.1 187.6l6.7 1.3 3.8 5.1-6.8-.2z"/>
<path fill="#2a778e" d="M236.4 295.5l3.2-14.8 3.1-6.6-3.3 14.6z"/>
<path fill="#7fd34e" d="M248.3 136.5l2 .3 3.8-10.4-2-.4z"/>
<path fill="#70cf57" d="M695.2 135.8l6.3 16.3 3.8-6.8-6.3-15.5z"/>
<path fill="#90d743" d="M247.5 124.9l4.6 1.1 3.8-8.2-4.5-1.1z"/>
<path fill="#40bd72" d="M688.4 166l6.3 16.8 1.1-.7-6.2-17z"/>
<path fill="#69cd5b" d="M604.3 150.3l8.5-9.6 2.1-2.4-8.5 9.8z"/>
<path fill="#2d708e" d="M669.9 280.9l6.1 22.5 3.3 9.4-5.9-27.4z"/>
<path fill="#b0dd2f" d="M300 104.7l1.9-.2 4.4-.3-1.9.2z"/>
<path fill="#375a8c" d="M687.4 344.8l10.5-18 4.1-13.1-10.4 16z"/>
<path fill="#3dbc74" d="M425.3 172.7l6.7 1.5 3.9 5.7-6.7.4z"/>
<path fill="#414287" d="M206 337.9l7.7 29.2 4.9 17.7-8.1-40.2z"/>
<path fill="#1f958b" d="M690.1 231.9l6.3 14.9 3.4-2.7-6.3-14.4z"/>
<path fill="#25838e" d="M677.2 254.5l5.9 25.3 1.4-3.5-6-24.2z"/>
<path fill="#26828e" d="M674.7 258.1l5.9 27.1 2.5-5.4-5.9-25.3z"/>
<path fill="#a5db36" d="M261.9 112.2l6.8.7 4-3.9-6.8-.6z"/>
<path fill="#2cb17e" d="M542.7 195l6.9-1.3 1.9-1-6.9 3z"/>
<path fill="#228c8d" d="M573.9 270.7l7-11.7 4.2-21.1-7 7.3z"/>
<path fill="#9dd93b" d="M255.9 117.8l2.1.4 3.9-6-2-.4z"/>
<path fill="#2cb17e" d="M532.1 194.2l6.8.8 3.8 0-6.8 2.2z"/>
<path fill="#1f958b" d="M241.6 251.9l6.1-13.2 3.7-14.1-6.1 14.2z"/>
<path fill="#aadc32" d="M275.4 109.1l3.7-.1 4.1-2.1-3.8.2z"/>
<path fill="#b8de29" d="M635.8 106.3l5-6.2 3.9-5.5-5.1 6z"/>
<path fill="#2fb47c" d="M553.4 192.2l6.7-3.3 2.5-2-6.7 5.2z"/>
<path fill="#1f998a" d="M557.9 238.2l8 8.3 4.2-21.4-8.2-4.8z"/>
<path fill="#90d743" d="M252.1 126l2 .4 3.9-8.2-2.1-.4z"/>
<path fill="#67cc5c" d="M691.4 141.1l6.3 16.1 3.8-5.1-6.3-16.3z"/>
<path fill="#1f968b" d="M565.9 246.5l4.8 1.7 4.2-22.3-4.8-.8z"/>
<path fill="#34608d" d="M691.6 329.7l10.4-16 3.9-5.6-10.7 20.7z"/>
<path fill="#b0dd2f" d="M317.7 104.5l6.6 1.1 4.1.9-6.7-1.4z"/>
<path fill="#23888e" d="M678.5 252.1l6 24.2 4-11.6-6.1-20.2z"/>
<path fill="#27808e" d="M672.8 259.9l5.9 27.5 1.9-2.2-5.9-27.1z"/>
<path fill="#4cc26c" d="M582.2 171.9l7-7.9 3.5-3.1-7 8.6z"/>
<path fill="#23898e" d="M240.7 275.4l5.9-18.3 3.6-16.9-6.1 15.2z"/>
<path fill="#287d8e" d="M239.4 288.7l3.3-14.6 2.8-9-3.3 13.3z"/>
<path fill="#6ece58" d="M253.4 149.2l2.6-.7 3.8-12-2.7.3z"/>
<path fill="#20928c" d="M784 247.5l6.3-12.6 2.1 9-6.1 10.7z"/>
<path fill="#73d056" d="M371.4 133.1l6.7 6.5 4.1 8.2-6.7-7.9z"/>
<path fill="#40bd72" d="M686.5 167.3l6.3 16.3 1.9-.8-6.3-16.8z"/>
<path fill="#26ad81" d="M252.2 215.5l4.3-11.7 3.8-12.6-4.4 10.5z"/>
<path fill="#81d34d" d="M250.3 136.8l6.8 0 3.8-10.1-6.8-.3z"/>
<path fill="#21a585" d="M688.9 209.9l2.1 5.2 3.5 2.1-2.1-5.7z"/>
<path fill="#38b977" d="M484 180.4l6.8.7 3.8 4-6.8-1z"/>
<path fill="#1e9b8a" d="M540.7 228.8l6.5 15.2 4-15.8-6.6-10.5z"/>
<path fill="#addc30" d="M632 112.4l5-6 3.8-6.3-5 6.2z"/>
<path fill="#b2dd2d" d="M301.9 104.5l4.7-.1 4.4-.3-4.7.1z"/>
<path fill="#2b748e" d="M231.4 296.5l3.3-12 4.9-3.8-3.2 14.8z"/>
<path fill="#2c718e" d="M716.7 305.5l5.1-17.1 2.6-4.5-5.1 15.5z"/>
<path fill="#67cc5c" d="M600.5 153.9l8.5-9 3.8-4.2-8.5 9.6z"/>
<path fill="#2db27d" d="M685.5 185.3l6.3 16.5 1.9.6-6.2-17.3z"/>
<path fill="#2a788e" d="M189.1 267.7l7.2 15.5 5.1 19.9-7.4-21z"/>
<path fill="#3fbc73" d="M432 174.2l2.4.5 3.9 4.9-2.4.3z"/>
<path fill="#2eb37c" d="M514.8 188.9l6.8 1.8 3.7 3.3-6.7 0z"/>
<path fill="#26818e" d="M186.7 261.2l3 8.6 4.7 11.1-3.1-10.1z"/>
<path fill="#2e6f8e" d="M714.8 308.4l5.2-17.6 1.8-2.4-5.1 17.1z"/>
<path fill="#3bbb75" d="M449.3 178.5l6.8-.4 3.9 1.7-6.8 1.8z"/>
<path fill="#9dd93b" d="M258 118.2l6.8.6 3.9-5.9-6.8-.7z"/>
<path fill="#a5db36" d="M268.7 112.9l2.7 0 4-3.8-2.7-.1z"/>
<path fill="#2b748e" d="M719.3 299.4l5.1-15.5 1.3-2.8-5 14.3z"/>
<path fill="#218f8d" d="M682.4 244.5l6.1 20.2 4-10.7-6.2-16.9z"/>
<path fill="#20938c" d="M686.3 237.1l6.2 16.9 3.9-7.2-6.3-14.9z"/>
<path fill="#42be71" d="M255.2 186.5l6.2-10.2 3.7-13.8-6.3 7.9z"/>
<path fill="#26828e" d="M728.7 274.4l4.7-7.6 3.6-1.3-4.6 5.5z"/>
<path fill="#1f9f88" d="M551.2 228.2l6.7 10 4-17.9-6.7-6z"/>
<path fill="#a2da37" d="M628.1 118.8l5-5.7 3.9-6.7-5 6z"/>
<path fill="#90d743" d="M254.1 126.4l6.8.3 3.9-7.9-6.8-.6z"/>
<path fill="#addc30" d="M324.3 105.6l3.8 1 4.1 1-3.8-1.1z"/>
<path fill="#b0dd2f" d="M289.7 106.3l6.6-.6 3.7-1-6.6.7z"/>
<path fill="#1fa188" d="M687.1 215l6.4 14.7 3.8 1.1-6.3-15.7z"/>
<path fill="#433e85" d="M129.9 369l8.2 28.8 2-43.3-7.4-14.5z"/>
<path fill="#277f8e" d="M670.9 261l6 27 1.8-.6-5.9-27.5z"/>
<path fill="#38b977" d="M563.9 186.1l6.9-4.8 3.8-3.8-6.9 6.9z"/>
<path fill="#63cb5f" d="M687.6 145.7l6.3 15.6 3.8-4.1-6.3-16.1z"/>
<path fill="#3bbb75" d="M466.7 178.8l6.7-.4 3.9 1.9-6.8.7z"/>
<path fill="#2fb47c" d="M551.5 192.7l6.7-1.9 1.9-1.9-6.7 3.3z"/>
<path fill="#24878e" d="M576.8 281.4l7.2-20.5 4-16.1-7.1 14.2z"/>
<path fill="#3d4d8a" d="M227.7 375.2l7.1-22.9 3.2-27.3-7.5 12.2z"/>
<path fill="#addc30" d="M279.1 109l6.6-.5 4-2.2-6.5.6z"/>
<path fill="#7fd34e" d="M364.6 127l6.8 6.1 4.1 6.8-6.8-7.4z"/>
<path fill="#70cf57" d="M256 148.5l3.7-1.3 3.8-11.6-3.7.9z"/>
<path fill="#20928c" d="M181.6 236.1l5.1 12.6 3.5 4.2-5-11.8z"/>
<path fill="#26828e" d="M242.2 278.4l3.3-13.3.9-3.5-3.3 12.7z"/>
<path fill="#95d840" d="M623.6 126.1l5-5.2 4.5-7.8-5 5.7z"/>
<path fill="#29798e" d="M720.7 295.4l5-14.3 3.9-8.3-4.9 10.7z"/>
<path fill="#2e6e8e" d="M712.9 309.5l5.2-17.1 1.9-1.6-5.2 17.6z"/>
<path fill="#addc30" d="M328.1 106.6l2.9.8 4.1 1.3-2.9-1.1z"/>
<path fill="#21908d" d="M772.4 255.9l7.9-19.5 1.7 4.9-8 19z"/>
<path fill="#3fbc73" d="M434.4 174.7l4.3.8 3.9 3.6-4.3.5z"/>
<path fill="#81d34d" d="M257.1 136.8l2.7-.3 3.8-9.9-2.7.1z"/>
<path fill="#a8db34" d="M271.4 112.9l3.7-.1 4-3.8-3.7.1z"/>
<path fill="#2db27d" d="M538.9 195l6.9 1.9 3.8-3.2-6.9 1.3z"/>
<path fill="#38b977" d="M490.8 181.1l5.9 1 3.9 4.1-6-1.1z"/>
<path fill="#40bd72" d="M683.7 169l6.3 15.5 2.8-.9-6.3-16.3z"/>
<path fill="#60ca60" d="M256 161l6.5-4.9 3.7-12.3-6.5 3.4z"/>
<path fill="#3aba76" d="M257.8 191l1.8-3.7 3.7-14-1.9 3z"/>
<path fill="#8ed645" d="M622.4 128l5-5.1 1.2-2-5 5.2z"/>
<path fill="#9dd93b" d="M264.8 118.8l2.7 0 3.9-5.9-2.7 0z"/>
<path fill="#1f988b" d="M570.7 248.2l7.4-3 4.2-21.3-7.4 2z"/>
<path fill="#433e85" d="M124.9 363.3l2.7 14.3 2.3-8.6-2.7-12.4z"/>
<path fill="#3a548c" d="M214.4 335.4l7.7 27.9 3-30.3-7.1-14.6z"/>
<path fill="#b2dd2d" d="M306.6 104.4l6.6.2 4.5-.1-6.7-.4z"/>
<path fill="#48c16e" d="M578.4 174.5l7-6.7 3.8-3.8-7 7.9z"/>
<path fill="#277f8e" d="M724.7 283.5l4.9-10.7 3.8-6-4.7 7.6z"/>
<path fill="#aadc32" d="M331 107.4l6.7 2.5 4.1 1.8-6.7-3z"/>
<path fill="#2eb37c" d="M521.6 190.7l6.7 2.5 3.8 1-6.8-.2z"/>
<path fill="#1fa088" d="M245.3 238.8l6.1-14.2 4.4-14.5-6.1 15z"/>
<path fill="#63cb5f" d="M596.8 157.3l8.4-8.4 3.8-4-8.5 9z"/>
<path fill="#8bd646" d="M357.9 121.6l6.7 5.4 4.1 5.5-6.7-6.6zM620.4 130.9l5-4.9 2-3.1-5 5.1z"/>
<path fill="#2fb47c" d="M549.6 193.7l6.7-.4 1.9-2.5-6.7 1.9z"/>
<path fill="#93d741" d="M260.9 126.7l2.7-.1 3.9-7.8-2.7 0z"/>
<path fill="#463480" d="M120.5 353.2l7.6 16.6 6.6 43.3-8.7-37.4z"/>
<path fill="#30698e" d="M668.9 298.7l6.1 22.1 3.8-4-6.3-18.3z"/>
<path fill="#443b84" d="M123.2 362.1l2.8 13.6 1.6 1.9-2.7-14.3z"/>
<path fill="#24878e" d="M737 265.5l7.5-11 3 5-7.4 10.3z"/>
<path fill="#b2dd2d" d="M296.3 105.7l2-.1 3.6-1.1-1.9.2z"/>
<path fill="#38b977" d="M562.6 186.9l6.9-4 1.3-1.6-6.9 4.8z"/>
<path fill="#1f968b" d="M792.4 243.9l9.3-16.2 1.3 7.9-9.1 15z"/>
<path fill="#a5db36" d="M337.7 109.9l5.4 2.5 4 2.3-5.3-3z"/>
<path fill="#20a486" d="M544.6 217.7l6.6 10.5 4-13.9-6.7-6.6z"/>
<path fill="#95d840" d="M351.1 116.9l6.8 4.7 4.1 4.3-6.8-5.6z"/>
<path fill="#38b977" d="M496.7 182.1l3.3.8 3.8 3.9-3.2-.6z"/>
<path fill="#86d549" d="M617.5 134.9l5-4.6 2.9-4.3-5 4.9z"/>
<path fill="#433e85" d="M140.5 392.7l2.7-17.6 2.9-28.5-3.4 6.9z"/>
<path fill="#84d44b" d="M259.8 136.5l3.7-.9 3.8-9.5-3.7.5z"/>
<path fill="#32b67a" d="M255.9 201.7l4.4-10.5 3.7-12.8-4.4 8.9z"/>
<path fill="#38588c" d="M663.7 323.9l1.5 8.5 3.6 11.5-1.5-10z"/>
<path fill="#a0da39" d="M343.1 112.4l8 4.5 4.1 3.4-8.1-5.6z"/>
<path fill="#25ac82" d="M684.7 200.1l4.2 9.8 3.5 1.6-4.2-10.9z"/>
<path fill="#238a8d" d="M747.5 259.5l7.6-13.2 3.3 9.1-7.6 15.4z"/>
<path fill="#a0da39" d="M267.5 118.8l3.7-.2 3.9-5.8-3.7.1z"/>
<path fill="#5cc863" d="M683.2 150.6l6.4 14.5 4.3-3.8-6.3-15.6z"/>
<path fill="#3d4e8a" d="M666.4 326.2l6.9 11 2 33.9-6.5-19.9z"/>
<path fill="#1f998a" d="M526.4 228.4l6.4 19.8 3.9-8.6-6.4-16.8z"/>
<path fill="#3fbc73" d="M456.1 178.1l6.7-.2 3.9.9-6.7 1z"/>
<path fill="#40bd72" d="M438.7 175.5l6.7 1 3.9 2-6.7.6z"/>
<path fill="#1f9f88" d="M530.3 222.8l6.4 16.8 4-10.8-6.5-13.1z"/>
<path fill="#2c718e" d="M216.5 294.8l6.3-5.7 4.3 3.4-6 14.3z"/>
<path fill="#3dbc74" d="M473.4 178.4l6.8.2 3.8 1.8-6.7-.1z"/>
<path fill="#2eb37c" d="M528.3 193.2l6.8 3.7 3.8-1.9-6.8-.8z"/>
<path fill="#2fb47c" d="M681.9 185.7l6.3 14.9 3.6 1.2-6.3-16.5z"/>
<path fill="#93d741" d="M263.6 126.6l3.7-.5 3.9-7.5-3.7.2z"/>
<path fill="#aadc32" d="M275.1 112.8l6.6-.5 4-3.8-6.6.5z"/>
<path fill="#37b878" d="M560.1 188.9l6.9-2.4 2.5-3.6-6.9 4z"/>
<path fill="#2db27d" d="M545.8 196.9l6.6 2.6 3.9-6.2-6.7.4z"/>
<path fill="#2b758e" d="M551.2 285.1l7-13.1 3.4 19.8-7.1 20.9z"/>
<path fill="#37b878" d="M500 182.9l4.3 1 3.8 3.7-4.3-.8z"/>
<path fill="#b2dd2d" d="M298.3 105.6l4.7-.2 3.6-1-4.7.1z"/>
<path fill="#b0dd2f" d="M285.7 108.5l6.6-.5 4-2.3-6.6.6z"/>
<path fill="#7fd34e" d="M614.9 138.3l5-4.4 2.6-3.6-5 4.6z"/>
<path fill="#2a788e" d="M561.6 291.8l7.2-22.4 3.6 9.2-7.3 28.8z"/>
<path fill="#b5de2b" d="M313.2 104.6l6.7.8 4.4.2-6.6-1.1z"/>
<path fill="#58c765" d="M258.8 170.4l6.3-7.9 3.8-12.3-6.4 5.9z"/>
<path fill="#23898e" d="M521.5 244.9l6.5 22.3 3.7 10.2-6.5-26.2z"/>
<path fill="#2e6f8e" d="M709.4 308.4l5.1-14.7 3.6-1.3-5.2 17.1z"/>
<path fill="#23898e" d="M243.1 274.3l3.3-12.7 3.6-15-3.4 10.5z"/>
<path fill="#8ed645" d="M688.8 121.7l6.4 14.1 3.8-6-6.4-13.7z"/>
<path fill="#26818e" d="M667.3 260.8l6.1 24.6 3.5 2.6-6-27z"/>
<path fill="#40bd72" d="M681.1 170.3l6.4 14.8 2.5-.6-6.3-15.5z"/>
<path fill="#20a486" d="M534.2 215.7l6.5 13.1 3.9-11.1-6.5-9.4z"/>
<path fill="#77d153" d="M259.7 147.2l6.5-3.4 3.8-10.5-6.5 2.3z"/>
<path fill="#46c06f" d="M574.6 177.5l6.9-5.3 3.9-4.4-7 6.7z"/>
<path fill="#22a884" d="M249.7 225.1l6.1-15 3.1-9.4-6.1 15.1z"/>
<path fill="#3a548c" d="M689.7 354.7l5.3-24.3 3.9-5.8-5.2 20z"/>
<path fill="#2cb17e" d="M535.1 196.9l6.8 5 3.9-5-6.9-1.9z"/>
<path fill="#5ec962" d="M592.7 160.9l8.4-7.7 4.1-4.3-8.4 8.4z"/>
<path fill="#31678e" d="M665.2 301.2l5.9 28.4 3.9-8.8-6.1-22.1z"/>
<path fill="#23a983" d="M555.2 214.3l6.7 6 4-14.6-6.7-3z"/>
<path fill="#218f8d" d="M758.4 255.4l7.8-16.9 3.1 8.4-7.9 19.7z"/>
<path fill="#34b679" d="M558.2 190.8l6.8-1.1 2-3.2-6.9 2.4z"/>
<path fill="#1fa187" d="M683.7 216.9l6.4 15 3.4-2.2-6.4-14.7z"/>
<path fill="#25ac82" d="M548.5 207.7l6.7 6.6 4-11.6-6.8-3.2z"/>
<path fill="#2a768e" d="M227.1 292.5l3.5-7.9 4.1-.1-3.3 12z"/>
<path fill="#1f968b" d="M522.2 231.3l6.4 21.2 4.2-4.3-6.4-19.8z"/>
<path fill="#c8e020" d="M640.8 100.1l7.7-6.8 3.8-5.3-7.6 6.6z"/>
<path fill="#21918c" d="M181.3 241.8l2.3 6.1 5.4 7-2.3-6.2z"/>
<path fill="#7cd250" d="M612.8 140.7l5-4.1 2.1-2.7-5 4.4z"/>
<path fill="#29af7f" d="M541.9 201.9l6.6 5.8 3.9-8.2-6.6-2.6z"/>
<path fill="#5ac864" d="M682 151.7l6.4 14.3 1.2-.9-6.4-14.5zM400.7 153.5l2 1.5 4.4 9.9-2-1.3z"/>
<path fill="#22a884" d="M685 210.1l2.1 4.9 3.9.1-2.1-5.2z"/>
<path fill="#56c667" d="M402.7 155l4.7 3.2 4.4 9.4-4.7-2.7z"/>
<path fill="#25ab82" d="M538.1 208.3l6.5 9.4 3.9-10-6.6-5.8z"/>
<path fill="#48186a" d="M307.6 424.1l2.8 19.3 2.9-50.7-2.4-3.2z"/>
<path fill="#22a785" d="M561.9 220.3l8.2 4.8 4-17.2-8.2-2.2z"/>
<path fill="#5ec962" d="M393.9 148.4l6.8 5.1 4.4 10.1-6.7-5z"/>
<path fill="#37b878" d="M504.3 183.9l6.7 2.3 3.8 2.7-6.7-1.3z"/>
<path fill="#1f968b" d="M244.1 255.4l6.1-15.2 3.7-15.4-6.2 13.9z"/>
<path fill="#26828e" d="M524.4 252.8l6.6 17.7 3.5 21.2-6.5-24.5z"/>
<path fill="#52c569" d="M407.4 158.2l6.8 4.2 4.4 8.1-6.8-2.9z"/>
<path fill="#31b57b" d="M556.3 193.3l6.8.2 1.9-3.8-6.8 1.1z"/>
<path fill="#a2da37" d="M271.2 118.6l6.6-.9 3.9-5.4-6.6.5z"/>
<path fill="#86d549" d="M685 127.2l6.4 13.9 3.8-5.3-6.4-14.1z"/>
<path fill="#2db27d" d="M552.4 199.5l6.8 3.2 3.9-9.2-6.8-.2z"/>
<path fill="#4ec36b" d="M261.4 176.3l1.9-3 3.7-13.1-1.9 2.3z"/>
<path fill="#65cb5e" d="M390.4 145.6l3.5 2.8 4.5 10.2-3.5-2.9z"/>
<path fill="#453781" d="M130.6 367.8l3.2-9.9 5.5 23.6-2.5 22.6z"/>
<path fill="#b2dd2d" d="M319.9 105.4l3.8.6 4.4.6-3.8-1zM292.3 108l1.9-.2 4.1-2.2-2 .1z"/>
<path fill="#89d548" d="M263.5 135.6l6.5-2.3 3.9-8.6-6.6 1.4z"/>
<path fill="#40bd72" d="M445.4 176.5l6.8.9 3.9.7-6.8.4z"/>
<path fill="#c0df25" d="M637 106.4l7.6-6.6 3.9-6.5-7.7 6.8z"/>
<path fill="#4ec36b" d="M414.2 162.4l6.7 3.8 4.4 6.5-6.7-2.2z"/>
<path fill="#69cd5b" d="M387.2 142.9l3.2 2.7 4.5 10.1-3.2-3z"/>
<path fill="#3fbc73" d="M480.2 178.6l6.7.6 3.9 1.9-6.8-.7z"/>
<path fill="#5ac864" d="M680.1 153.6l6.4 13.7 1.9-1.3-6.4-14.3z"/>
<path fill="#3f4788" d="M208.6 339.4l5.5 5.6 5.3 34.8-5.7-12.7z"/>
<path fill="#b5de2b" d="M303 105.4l6.6 0 3.6-.8-6.6-.2z"/>
<path fill="#98d83e" d="M267.3 126.1l6.6-1.4 3.9-7-6.6.9z"/>
<path fill="#40bd72" d="M462.8 177.9l6.8.1 3.8.4-6.7.4z"/>
<path fill="#2a768e" d="M666.4 277.7l6.1 20.8 3.5 4.9-6.1-22.5z"/>
<path fill="#77d153" d="M609 144.9l5-3.8 3.8-4.5-5 4.1z"/>
<path fill="#21a685" d="M570.1 225.1l4.8.8 4.1-17.9-4.9-.1z"/>
<path fill="#b2dd2d" d="M633.1 113.1l7.6-6.2 3.9-7.1-7.6 6.6z"/>
<path fill="#42be71" d="M570.8 181.3l6.9-3.6 3.8-5.5-6.9 5.3z"/>
<path fill="#35b779" d="M511 186.2l6.8 3.3 3.8 1.2-6.8-1.8z"/>
<path fill="#44bf70" d="M259.6 187.3l4.4-8.9 3.7-12.5-4.4 7.4z"/>
<path fill="#b2dd2d" d="M323.7 106l2.8.6 4.5.8-2.9-.8z"/>
<path fill="#70cf57" d="M380.4 137.3l6.8 5.6 4.5 9.8-6.8-6.5z"/>
<path fill="#29af7f" d="M531.2 200.2l6.9 8.1 3.8-6.4-6.8-5z"/>
<path fill="#addc30" d="M281.7 112.3l6.6-.8 4-3.5-6.6.5z"/>
<path fill="#40bd72" d="M679.1 171.3l6.4 14 2-.2-6.4-14.8z"/>
<path fill="#29af7f" d="M252.8 215.8l6.1-15.1 3.8-11.5-6.2 14.6z"/>
<path fill="#25848e" d="M185 258l4.1 9.7 4.9 14.4-4.3-12.3z"/>
<path fill="#26828e" d="M239.6 280.7l2.5-9.9 3.1-6.6-2.5 9.9z"/>
<path fill="#32658e" d="M661.5 301.4l5.8 32.5 3.8-4.3-5.9-28.4z"/>
<path fill="#4ac16d" d="M420.9 166.2l6.7 3.4 4.4 4.6-6.7-1.5z"/>
<path fill="#5cc863" d="M589.2 164l8.4-6.9 3.5-3.9-8.4 7.7z"/>
<path fill="#7fd34e" d="M681.2 132.6l6.4 13.1 3.8-4.6-6.4-13.9z"/>
<path fill="#a5db36" d="M628.6 120.9l7.6-5.6 4.5-8.4-7.6 6.2z"/>
<path fill="#355e8d" d="M693.7 344.6l5.2-20 4-12.2-5 14.4z"/>
<path fill="#2a778e" d="M200.5 280.4l4.8 4 4.7 13.1-4.7-1.7z"/>
<path fill="#6ccd5a" d="M262.5 156.1l6.4-5.9 3.8-10.8-6.5 4.4z"/>
<path fill="#2cb17e" d="M559.2 202.7l6.7 3 4-11.7-6.8-.5z"/>
<path fill="#29798e" d="M198.5 278.2l2 2.2 4.8 15.4-2-1.8z"/>
<path fill="#1fa088" d="M680 220.8l6.3 16.3 3.8-5.2-6.4-15z"/>
<path fill="#375a8c" d="M207.1 330.5l3.4 14.1 3.9-9.2-3.2-11.6z"/>
<path fill="#b5de2b" d="M294.2 107.8l4.7-.4 4.1-2-4.7.2z"/>
<path fill="#1e9d89" d="M578.1 245.2l7-7.3 4.1-18.8-6.9 4.8z"/>
<path fill="#9dd93b" d="M627.4 122.9l7.6-5.5 1.2-2.1-7.6 5.6z"/>
<path fill="#1f998a" d="M782 241.3l6.3-13.9 2 7.5-6.3 12.6z"/>
<path fill="#32b67a" d="M517.8 189.5l6.7 4.5 3.8-.8-6.7-2.5z"/>
<path fill="#2eb37c" d="M524.5 194l6.7 6.2 3.9-3.3-6.8-3.7z"/>
<path fill="#98d83e" d="M625.4 126l7.6-5.2 2-3.4-7.6 5.5z"/>
<path fill="#3fbc73" d="M569.5 182.9l6.9-3 1.3-2.2-6.9 3.6z"/>
<path fill="#b2dd2d" d="M326.5 106.6l6.7 1.8 4.5 1.5-6.7-2.5z"/>
<path fill="#218e8d" d="M179.1 240.9l7.6 20.3 4.6 9.6-7.7-22.9z"/>
<path fill="#7cd250" d="M373.7 131.7l6.7 5.6 4.5 8.9-6.8-6.6z"/>
<path fill="#4ac16d" d="M427.6 169.6l2.4 1.1 4.4 4-2.4-.5z"/>
<path fill="#481769" d="M303 395.6l2.5 3.4 4.9 44.4-2.8-19.3z"/>
<path fill="#58c765" d="M677.2 156l6.5 13 2.8-1.7-6.4-13.7z"/>
<path fill="#1f968b" d="M580.9 259l7.1-14.2 4.1-16.5-7 9.6z"/>
<path fill="#24878e" d="M242.7 274.1l2.5-9.9 2.8-8.4-2.5 9.3z"/>
<path fill="#3fbc73" d="M486.9 179.2l6 1.1 3.8 1.8-5.9-1z"/>
<path fill="#277f8e" d="M234.7 284.5l2.6-8.1 4.8-5.6-2.5 9.9z"/>
<path fill="#3bbb75" d="M567 186.5l6.8-1.7 2.6-4.9-6.9 3z"/>
<path fill="#26ad81" d="M527.4 204.4l6.8 11.3 3.9-7.4-6.9-8.1z"/>
<path fill="#27ad81" d="M680.7 200.8l4.3 9.3 3.9-.2-4.2-9.8z"/>
<path fill="#34b679" d="M563.1 193.5l6.8.5 2-5-6.9.7z"/>
<path fill="#93d741" d="M622.5 130.3l7.5-4.8 3-4.7-7.6 5.2z"/>
<path fill="#228b8d" d="M733.4 266.8l7.6-13.1 3.5.8-7.5 11z"/>
<path fill="#37b878" d="M565 189.7l6.9-.7 1.9-4.2-6.8 1.7z"/>
<path fill="#31b57b" d="M678.2 186.4l6.5 13.7 3.5.5-6.3-14.9z"/>
<path fill="#2a768e" d="M205.3 284.4l6.7 3.2 4.5 7.2-6.5 2.7z"/>
<path fill="#42be71" d="M452.2 177.4l6.7.7 3.9-.2-6.7.2z"/>
<path fill="#73d056" d="M605.2 148.9l4.9-3.6 3.9-4.2-5 3.8z"/>
<path fill="#48c16e" d="M430 170.7l4.4 2 4.3 2.8-4.3-.8z"/>
<path fill="#1e9d89" d="M676.1 226.1l6.3 18.4 3.9-7.4-6.3-16.3z"/>
<path fill="#b8de29" d="M309.6 105.4l6.6.3 3.7-.3-6.7-.8z"/>
<path fill="#1e9d89" d="M803 235.6l7.8-13.5.8 4.9-7.7 13.7z"/>
<path fill="#a8db34" d="M277.8 117.7l6.6-1.4 3.9-4.8-6.6.8z"/>
<path fill="#63cb5f" d="M265.1 162.5l1.9-2.3 3.7-11.8-1.8 1.8z"/>
<path fill="#1f978b" d="M518.8 230.6l6.4 20.6 3.4 1.3-6.4-21.2z"/>
<path fill="#b0dd2f" d="M288.3 111.5l1.9-.3 4-3.4-1.9.2z"/>
<path fill="#2d708e" d="M705.9 308.1l4.9-12.3 3.7-2.1-5.1 14.7z"/>
<path fill="#3d4e8a" d="M127.2 356.6l2.7 12.4 2.8-29-2.4-7.7z"/>
<path fill="#86d549" d="M366.9 126.3l6.8 5.4 4.4 7.9-6.7-6.5z"/>
<path fill="#b0dd2f" d="M333.2 108.4l5.4 1.8 4.5 2.2-5.4-2.5z"/>
<path fill="#77d153" d="M676.7 138.5l6.5 12.1 4.4-4.9-6.4-13.1z"/>
<path fill="#42be71" d="M469.6 178l6.7.3 3.9.3-6.8-.2z"/>
<path fill="#3a538b" d="M673.3 337.2l10.4-16.3 2.5 21-10.9 29.2z"/>
<path fill="#1f968b" d="M769.3 246.9l7.9-18.9 3.1 8.4-7.9 19.5z"/>
<path fill="#7fd34e" d="M266.2 143.8l6.5-4.4 3.8-9.2-6.5 3.1z"/>
<path fill="#8bd646" d="M619.9 133.9l7.5-4.5 2.6-3.9-7.5 4.8z"/>
<path fill="#58c765" d="M585.4 167.8l8.3-6 3.9-4.7-8.4 6.9z"/>
<path fill="#23a983" d="M681.6 212l2.1 4.9 3.4-1.9-2.1-4.9zM523.5 208.8l6.8 14 3.9-7.1-6.8-11.3z"/>
<path fill="#277e8e" d="M191.5 268.4l7 9.8 4.8 15.8-7-10.8z"/>
<path fill="#3fbc73" d="M492.9 180.3l3.3.8 3.8 1.8-3.3-.8z"/>
<path fill="#2cb17e" d="M565.9 205.7l8.2 2.2 4-13.9-8.2 0z"/>
<path fill="#1f998a" d="M672.3 231.5l6.2 20.6 3.9-7.6-6.3-18.4z"/>
<path fill="#228c8d" d="M245.5 265.1l2.5-9.3.9-3.2-2.5 9z"/>
<path fill="#1f988b" d="M176.2 229.3l5.1 12.5 5.4 6.9-5.1-12.6z"/>
<path fill="#22a785" d="M574.9 225.9l7.4-2 4.1-17.6-7.4 1.7z"/>
<path fill="#481f70" d="M310.4 443.4l3.5-32.8 3.6-26-4.2 8.1z"/>
<path fill="#aadc32" d="M682.3 110l6.5 11.7 3.8-5.6-6.4-11.5z"/>
<path fill="#35b779" d="M256.5 203.8l6.2-14.6 3.8-11.4-6.2 13.4z"/>
<path fill="#1f9f88" d="M811.6 227l7.8-14.1 3.1 16.1-7.9 17.3z"/>
<path fill="#90d743" d="M360.1 121.5l6.8 4.8 4.5 6.8-6.8-6.1z"/>
<path fill="#33628d" d="M211.2 323.8l3.2 11.6 3.6-17-3.1-7.3z"/>
<path fill="#aadc32" d="M338.6 110.2l8.1 3.4 4.4 3.3-8-4.5z"/>
<path fill="#1f958b" d="M246.6 257.1l3.4-10.5 3.7-15.3-3.5 8.9z"/>
<path fill="#33638d" d="M225.1 333l5.4 4.2 3.1-29-5.3-.3z"/>
<path fill="#46c06f" d="M434.4 172.7l6.7 2.6 4.3 1.2-6.7-1z"/>
<path fill="#b8de29" d="M298.9 107.4l6.7-.5 4-1.5-6.6 0z"/>
<path fill="#9dd93b" d="M273.9 124.7l6.5-2.2 4-6.2-6.6 1.4z"/>
<path fill="#56c667" d="M263.3 173.3l4.4-7.4 3.8-11.7-4.5 6z"/>
<path fill="#1fa187" d="M247.7 238.7l6.2-13.9 3.7-13.7-6.2 13.5z"/>
<path fill="#1f968b" d="M671 233.2l6.2 21.3 1.3-2.4-6.2-20.6z"/>
<path fill="#42be71" d="M675.4 172.8l6.5 12.9 3.6-.4-6.4-14z"/>
<path fill="#90d743" d="M270 133.3l6.5-3.1 3.9-7.7-6.5 2.2z"/>
<path fill="#86d549" d="M617.8 136.6l7.5-4.3 2.1-2.9-7.5 4.5z"/>
<path fill="#9bd93c" d="M353.4 117.2l6.7 4.3 4.5 5.5-6.7-5.4z"/>
<path fill="#a2da37" d="M346.7 113.6l6.7 3.6 4.5 4.4-6.8-4.7z"/>
<path fill="#58c765" d="M674.7 158l6.4 12.3 2.6-1.3-6.5-13z"/>
<path fill="#3dbc74" d="M496.2 181.1l4.2 1.3 3.9 1.5-4.3-1z"/>
<path fill="#b2dd2d" d="M290.2 111.2l4.7-.8 4-3-4.7.4z"/>
<path fill="#73d056" d="M675.5 139.9l6.5 11.8 1.2-1.1-6.5-12.1z"/>
<path fill="#b8de29" d="M316.2 105.7l3.8.3 3.7 0-3.8-.6z"/>
<path fill="#38588c" d="M686.2 341.9l5.2-19.8 3.6 8.3-5.3 24.3z"/>
<path fill="#25838e" d="M663.7 259.2l6.2 21.7 3.5 4.5-6.1-24.6z"/>
<path fill="#29798e" d="M222.8 289.1l3.6-3.5 4.2-1-3.5 7.9z"/>
<path fill="#1f948c" d="M668.5 236.1l6.2 22 2.5-3.6-6.2-21.3z"/>
<path fill="#d8e219" d="M648.5 93.3l6.9-3 3.8-5.2-6.9 2.9z"/>
<path fill="#2eb37c" d="M520.7 196l6.7 8.4 3.8-4.2-6.7-6.2z"/>
<path fill="#a0da39" d="M678.5 115.8l6.5 11.4 3.8-5.5-6.5-11.7z"/>
<path fill="#30698e" d="M697.9 326.8l5-14.4 4.1-10.6-5 11.9z"/>
<path fill="#365d8d" d="M662.6 313.7l3.8 12.5 2.4 25-3.6-18.8z"/>
<path fill="#6ccd5a" d="M601.1 153.2l4.9-3.3 4.1-4.6-4.9 3.6z"/>
<path fill="#23888e" d="M575.7 280.8l7.3-24.5 4.3-4.6-7.3 22.3z"/>
<path fill="#21a685" d="M519.7 212.4l6.7 16 3.9-5.6-6.8-14z"/>
<path fill="#aadc32" d="M284.4 116.3l1.9-.5 3.9-4.6-1.9.3z"/>
<path fill="#52c569" d="M581.5 172.2l8.4-4.7 3.8-5.7-8.3 6z"/>
<path fill="#228d8d" d="M580 274l7.3-22.3 3.9-8.9-7.2 18.1z"/>
<path fill="#1f9f88" d="M790.3 234.9l9.3-18.1 2.1 10.9-9.3 16.2z"/>
<path fill="#75d054" d="M268.9 150.2l1.8-1.8 3.9-10.4-1.9 1.4z"/>
<path fill="#44bf70" d="M458.9 178.1l6.8.5 3.9-.6-6.8-.1z"/>
<path fill="#3a538b" d="M231.1 368.6l5.2-36.7 4-8.9-5.5 29.3z"/>
<path fill="#31688e" d="M218 318.4l7.1 14.6 3.2-25.1-6.8-5.8z"/>
<path fill="#70cf57" d="M673.6 142.2l6.5 11.4 1.9-1.9-6.5-11.8z"/>
<path fill="#3bbb75" d="M500.4 182.4l6.8 2.9 3.8.9-6.7-2.3z"/>
<path fill="#81d34d" d="M614 141.1l7.5-4 3.8-4.8-7.5 4.3z"/>
<path fill="#42be71" d="M476.3 178.3l6.8.7 3.8.2-6.7-.6z"/>
<path fill="#35b779" d="M569.9 194l8.2 0 2.1-5.8-8.3.8z"/>
<path fill="#228c8d" d="M182 251l3 7 4.7 11.8-3-8.6z"/>
<path fill="#2e6f8e" d="M702 313.7l5-11.9 3.8-6-4.9 12.3z"/>
<path fill="#46c06f" d="M441.1 175.3l6.8 2.1 4.3 0-6.8-.9z"/>
<path fill="#277e8e" d="M230.6 284.6l2.6-5.6 4.1-2.6-2.6 8.1z"/>
<path fill="#375b8d" d="M202.7 326l3.3 11.9 4.5 6.7-3.4-14.1z"/>
<path fill="#b8de29" d="M320 106l2.9.4 3.6.2-2.8-.6z"/>
<path fill="#3d4d8a" d="M214.1 345l7.4-11.9 4.9 23.5-7 23.2z"/>
<path fill="#2cb17e" d="M574.1 207.9l4.9.1 4-14.4-4.9.4z"/>
<path fill="#238a8d" d="M729.6 272.8l7.7-16.4 3.7-2.7-7.6 13.1z"/>
<path fill="#cde11d" d="M644.6 99.8l7-3 3.8-6.5-6.9 3z"/>
<path fill="#2a788e" d="M212 287.6l6.6 1.7 4.2-.2-6.3 5.7z"/>
<path fill="#20938c" d="M666.7 237.7l6.1 22.2 1.9-1.8-6.2-22z"/>
<path fill="#98d83e" d="M674.7 121.8l6.5 10.8 3.8-5.4-6.5-11.4z"/>
<path fill="#34b679" d="M514 189.7l6.7 6.3 3.8-2-6.7-4.5z"/>
<path fill="#22a884" d="M677.8 215.7l2.2 5.1 3.7-3.9-2.1-4.9z"/>
<path fill="#20928c" d="M246.4 261.6l2.5-9 3.7-13.7-2.6 7.7z"/>
<path fill="#3aba76" d="M507.2 185.3l6.8 4.4 3.8-.2-6.8-3.3z"/>
<path fill="#28ae80" d="M677.3 202.7l4.3 9.3 3.4-1.9-4.3-9.3z"/>
<path fill="#3bbb75" d="M571.9 189l8.3-.8 1.9-5.1-8.3 1.7z"/>
<path fill="#4cc26c" d="M577.7 177.7l8.3-3.3 3.9-6.9-8.4 4.7z"/>
<path fill="#c0df25" d="M640.7 106.9l7-2.8 3.9-7.3-7 3z"/>
<path fill="#44bf70" d="M260.3 191.2l6.2-13.4 3.7-11.2-6.2 11.8z"/>
<path fill="#56c667" d="M672.6 159.5l6.5 11.8 2-1-6.4-12.3z"/>
<path fill="#a2da37" d="M280.4 122.5l1.9-.7 4-6-1.9.5z"/>
<path fill="#481d6f" d="M305.5 399l4.1-8.4 4.3 20-3.5 32.8z"/>
<path fill="#86d549" d="M272.7 139.4l1.9-1.4 3.8-8.8-1.9 1z"/>
<path fill="#69cd5b" d="M267 160.2l4.5-6 3.8-10.5-4.6 4.7z"/>
<path fill="#b2dd2d" d="M636.2 115.3l6.9-2.5 4.6-8.7-7 2.8z"/>
<path fill="#3f4889" d="M118 344.3l2.5 8.9 5.5 22.5-2.8-13.6z"/>
<path fill="#bade28" d="M305.6 106.9l6.6-.3 4-.9-6.6-.3z"/>
<path fill="#20928c" d="M744.5 254.5l7.5-12.8 3.1 4.6-7.6 13.2z"/>
<path fill="#40bd72" d="M573.8 184.8l8.3-1.7 2.6-5.9-8.3 2.7z"/>
<path fill="#3f4788" d="M140.9 383.7l4.6-38.5 2.6-3.4-4.9 33.3z"/>
<path fill="#a8db34" d="M635 117.4l6.9-2.4 1.2-2.2-6.9 2.5z"/>
<path fill="#297a8e" d="M662.8 276.6l6.1 22.1 3.6-.2-6.1-20.8z"/>
<path fill="#46c06f" d="M576.4 179.9l8.3-2.7 1.3-2.8-8.3 3.3z"/>
<path fill="#addc30" d="M286.3 115.8l4.6-1.2 4-4.2-4.7.8z"/>
<path fill="#26828e" d="M535.5 260.9l4.8 2.5 3.4 26.9-4.7-3.5z"/>
<path fill="#6ece58" d="M670.7 145.4l6.5 10.6 2.9-2.4-6.5-11.4z"/>
<path fill="#95d840" d="M276.5 130.2l1.9-1 3.9-7.4-1.9.7z"/>
<path fill="#67cc5c" d="M597.6 157.1l4.9-2.9 3.5-4.3-4.9 3.3z"/>
<path fill="#a5db36" d="M633 120.8l6.9-2.3 2-3.5-6.9 2.4z"/>
<path fill="#b8de29" d="M322.9 106.4l6.7 1.1 3.6.9-6.7-1.8z"/>
<path fill="#34b679" d="M674.3 187.9l6.4 12.9 4-.7-6.5-13.7z"/>
<path fill="#b5de2b" d="M294.9 110.4l6.6-1 4.1-2.5-6.7.5z"/>
<path fill="#24878e" d="M725.7 281.1l7.8-20.2 3.8-4.5-7.7 16.4z"/>
<path fill="#c0df25" d="M675.8 100.7l6.5 9.3 3.9-5.4-6.6-9.1z"/>
<path fill="#7cd250" d="M610.1 145.3l7.5-3.6 3.9-4.6-7.5 4z"/>
<path fill="#9dd93b" d="M630 125.5l7-2.1 2.9-4.9-6.9 2.3z"/>
<path fill="#8ed645" d="M670.2 128.7l6.5 9.8 4.5-5.9-6.5-10.8z"/>
<path fill="#20938c" d="M664.8 238.9l6.1 22.1 1.9-1.1-6.1-22.2z"/>
<path fill="#46c06f" d="M447.9 177.4l6.7 1.6 4.3-.9-6.7-.7z"/>
<path fill="#2cb17e" d="M516.8 198.4l6.7 10.4 3.9-4.4-6.7-8.4z"/>
<path fill="#44bf70" d="M483.1 179l6 1 3.8.3-6-1.1z"/>
<path fill="#25ac82" d="M251.4 224.6l6.2-13.5 4.4-14.5-6.2 13.5z"/>
<path fill="#3b528b" d="M118.8 334.5l6.1 28.8 2.3-6.7-5.9-26.5z"/>
<path fill="#44bf70" d="M465.7 178.6l6.7.6 3.9-.9-6.7-.3z"/>
<path fill="#404588" d="M139.3 381.5l4.6-37.2 1.6.9-4.6 38.5z"/>
<path fill="#25848e" d="M724.4 283.9l7.8-21.3 1.3-1.7-7.8 20.2z"/>
<path fill="#21a585" d="M515.4 214.4l6.8 16.9 4.2-2.9-6.7-16z"/>
<path fill="#39568c" d="M201.3 322.7l7.3 16.7 5.1 27.7-7.7-29.2z"/>
<path fill="#21a685" d="M674 220.4l2.1 5.7 3.9-5.3-2.2-5.1z"/>
<path fill="#306a8e" d="M657.7 294.7l6 29.2 3.6 10-5.8-32.5z"/>
<path fill="#1f968b" d="M584 260.9l7.2-18.1 4-11.5-7.2 13.5z"/>
<path fill="#95d840" d="M627.4 129.4l6.9-1.9 2.7-4.1-7 2.1z"/>
<path fill="#44bf70" d="M671.8 174.5l6.4 11.9 3.7-.7-6.5-12.9z"/>
<path fill="#2e6e8e" d="M214.9 311.1l3.1 7.3 3.5-16.3-2.9-3.4z"/>
<path fill="#25ab82" d="M582.3 223.9l6.9-4.8 4.1-16-6.9 3.2z"/>
<path fill="#26828e" d="M721.8 288.4l7.9-22.8 2.5-3-7.8 21.3z"/>
<path fill="#1f9f88" d="M780.3 236.4l6.3-14.5 1.7 5.5-6.3 13.9z"/>
<path fill="#7cd250" d="M270.7 148.4l4.6-4.7 3.9-9.3-4.6 3.6z"/>
<path fill="#dde318" d="M655.4 90.3l6.9.3 3.8-5.2-6.9-.3z"/>
<path fill="#24878e" d="M184.4 255.8l7.1 12.6 4.8 14.8-7.2-15.5z"/>
<path fill="#a5db36" d="M282.3 121.8l4.7-1.9 3.9-5.3-4.6 1.2z"/>
<path fill="#24878e" d="M572.4 278.6l7.3-23.3 3.3 1-7.3 24.5z"/>
<path fill="#89d548" d="M669 130.4l6.5 9.5 1.2-1.4-6.5-9.8z"/>
<path fill="#b8de29" d="M671.9 106.8l6.6 9 3.8-5.8-6.5-9.3z"/>
<path fill="#5cc863" d="M410.6 157.2l6.8 4.9 3.5 4.1-6.7-3.8z"/>
<path fill="#37b878" d="M578.1 194l4.9-.4 2-6.2-4.8.8z"/>
<path fill="#b5de2b" d="M329.6 107.5l5.3 1.2 3.7 1.5-5.4-1.8z"/>
<path fill="#63cb5f" d="M403.8 152.2l6.8 5 3.6 5.2-6.8-4.2z"/>
<path fill="#3b518b" d="M117.2 334l6 28.1 1.7 1.2-6.1-28.8z"/>
<path fill="#1f998a" d="M176.8 235.3l2.3 5.6 4.5 7-2.3-6.1z"/>
<path fill="#20a386" d="M585.1 237.9l7-9.6 4.1-15.5-7 6.3z"/>
<path fill="#56c667" d="M417.4 162.1l6.7 4.7 3.5 2.8-6.7-3.4z"/>
<path fill="#63cb5f" d="M593.7 161.8l5-2.5 3.8-5.1-4.9 2.9z"/>
<path fill="#1fa187" d="M250.2 240.2l3.5-8.9 3.7-14.4-3.5 7.9z"/>
<path fill="#69cd5b" d="M399 148.5l4.8 3.7 3.6 6-4.7-3.2z"/>
<path fill="#6ccd5a" d="M668.1 147.9l6.6 10.1 2.5-2-6.5-10.6z"/>
<path fill="#bade28" d="M312.2 106.6l3.8 0 4-.6-3.8-.3z"/>
<path fill="#2eb37c" d="M579 208l7.4-1.7 4-14.3-7.4 1.6z"/>
<path fill="#52c569" d="M424.1 166.8l2.4 1.5 3.5 2.4-2.4-1.1z"/>
<path fill="#42be71" d="M489.1 180l3.2.8 3.9.3-3.3-.8z"/>
<path fill="#3a538b" d="M226.4 356.6l5.5-29.5 4.4 4.8-5.2 36.7z"/>
<path fill="#20a386" d="M801.7 227.7l7.8-13.6 1.3 8-7.8 13.5z"/>
<path fill="#31668e" d="M202.7 314.4l4.4 16.1 4.1-6.7-4.3-13.8z"/>
<path fill="#90d743" d="M625.3 132.3l6.9-1.9 2.1-2.9-6.9 1.9z"/>
<path fill="#6ece58" d="M397.1 146.9l1.9 1.6 3.7 6.5-2-1.5z"/>
<path fill="#56c667" d="M264 178.4l6.2-11.8 3.9-10.7-6.4 10z"/>
<path fill="#2f6c8e" d="M206.9 310l4.3 13.8 3.7-12.7-4.2-9.4z"/>
<path fill="#56c667" d="M668.9 161.9l6.5 10.9 3.7-1.5-6.5-11.8z"/>
<path fill="#50c46a" d="M426.5 168.3l4.4 2.7 3.5 1.7-4.4-2z"/>
<path fill="#86d549" d="M667 133.1l6.6 9.1 1.9-2.3-6.5-9.5z"/>
<path fill="#26828e" d="M720 290.8l7.9-23.3 1.8-1.9-7.9 22.8z"/>
<path fill="#8ed645" d="M274.6 138l4.6-3.6 3.9-7.9-4.7 2.7z"/>
<path fill="#27ad81" d="M673.6 206l4.2 9.7 3.8-3.7-4.3-9.3z"/>
<path fill="#9bd93c" d="M278.4 129.2l4.7-2.7 3.9-6.6-4.7 1.9z"/>
<path fill="#297b8e" d="M218.6 289.3l3.8.6 4-4.3-3.6 3.5z"/>
<path fill="#73d056" d="M390.3 141.6l6.8 5.3 3.6 6.6-6.8-5.1z"/>
<path fill="#31688e" d="M230.5 337.2l7.5-12.2 3.2-25.8-7.6 9z"/>
<path fill="#277e8e" d="M226.4 285.6l2.8-2.8 4-3.8-2.6 5.6z"/>
<path fill="#1e9b8a" d="M515 226.6l6.5 18.3 3.7 6.3-6.4-20.6z"/>
<path fill="#d2e21b" d="M651.6 96.8l6.8.2 3.9-6.4-6.9-.3z"/>
<path fill="#d0e11c" d="M669.1 94.2l6.7 6.5 3.8-5.2-6.7-6.5z"/>
<path fill="#addc30" d="M668.1 113.4l6.6 8.4 3.8-6-6.6-9z"/>
<path fill="#1f988b" d="M755.1 246.3l7.7-14.8 3.4 7-7.8 16.9z"/>
<path fill="#75d054" d="M606 149.9l7.5-3.3 4.1-4.9-7.5 3.6z"/>
<path fill="#23888e" d="M527.4 249.9l8.1 11 3.5 25.9-8-16.3z"/>
<path fill="#20938c" d="M517.7 235.2l6.7 17.6 3.6 14.4-6.5-22.3z"/>
<path fill="#4cc26c" d="M430.9 171l6.7 3.7 3.5.6-6.7-2.6z"/>
<path fill="#20a386" d="M670.2 225.4l2.1 6.1 3.8-5.4-2.1-5.7z"/>
<path fill="#3dbc74" d="M580.2 188.2l4.8-.8 2-5.4-4.9 1.1z"/>
<path fill="#46c06f" d="M454.6 179l6.8 1.1 4.3-1.5-6.8-.5z"/>
<path fill="#7ad151" d="M386.8 138.8l3.5 2.8 3.6 6.8-3.5-2.8z"/>
<path fill="#25838e" d="M540.3 263.4l7.4-2.8 3.5 24.5-7.5 5.2z"/>
<path fill="#42be71" d="M492.3 180.8l4.3 1.5 3.8.1-4.2-1.3z"/>
<path fill="#dae319" d="M662.3 90.6l6.8 3.6 3.8-5.2-6.8-3.6z"/>
<path fill="#c5e021" d="M647.7 104.1l6.9.2 3.8-7.3-6.8-.2z"/>
<path fill="#35b779" d="M510.1 190.9l6.7 7.5 3.9-2.4-6.7-6.3z"/>
<path fill="#b2dd2d" d="M334.9 108.7l8.1 2.5 3.7 2.4-8.1-3.4zM290.9 114.6l6.6-1.9 4-3.3-6.6 1z"/>
<path fill="#375b8d" d="M140.1 354.5l2.6-1 2.6-33.3-2.6-.4z"/>
<path fill="#7fd34e" d="M383.5 136.2l3.3 2.6 3.6 6.8-3.2-2.7z"/>
<path fill="#bade28" d="M316 106.6l2.9 0 4-.2-2.9-.4z"/>
<path fill="#b8de29" d="M643.1 112.8l6.9.2 4.6-8.7-6.9-.2z"/>
<path fill="#46c06f" d="M472.4 179.2l6.8.6 3.9-.8-6.8-.7z"/>
<path fill="#5ac864" d="M589.9 167.5l4.9-2.1 3.9-6.1-5 2.5z"/>
<path fill="#8bd646" d="M621.5 137.1l6.9-1.7 3.8-5-6.9 1.9z"/>
<path fill="#addc30" d="M641.9 115l6.9.2 1.2-2.2-6.9-.2z"/>
<path fill="#2ab07f" d="M513 200.7l6.7 11.7 3.8-3.6-6.7-10.4z"/>
<path fill="#81d34d" d="M664.1 136.8l6.6 8.6 2.9-3.2-6.6-9.1z"/>
<path fill="#2fb47c" d="M255.8 210.1l6.2-13.5 3.1-9.2-6.2 13.3z"/>
<path fill="#a8db34" d="M639.9 118.5l6.9.2 2-3.5-6.9-.2z"/>
<path fill="#a0da39" d="M663.5 121.1l6.7 7.6 4.5-6.9-6.6-8.4z"/>
<path fill="#26818e" d="M718.1 292.4l7.9-23.2 1.9-1.7-7.9 23.3z"/>
<path fill="#bade28" d="M301.5 109.4l6.7-1.1 4-1.7-6.6.3z"/>
<path fill="#1e9d89" d="M250 246.6l2.6-7.7 3.7-14.2-2.6 6.6z"/>
<path fill="#46c06f" d="M582.1 183.1l4.9-1.1 2.6-6.2-4.9 1.4z"/>
<path fill="#86d549" d="M376.8 131l6.7 5.2 3.7 6.7-6.8-5.6z"/>
<path fill="#69cd5b" d="M666.1 149.8l6.5 9.7 2.1-1.5-6.6-10.1z"/>
<path fill="#40bd72" d="M496.6 182.3l6.8 3.4 3.8-.4-6.8-2.9z"/>
<path fill="#20938c" d="M661.1 240.1l6.2 20.7 3.6.2-6.1-22.1z"/>
<path fill="#4ac16d" d="M437.6 174.7l6.8 3 3.5-.3-6.8-2.1z"/>
<path fill="#c8e020" d="M665.2 100.5l6.7 6.3 3.9-6.1-6.7-6.5z"/>
<path fill="#1fa187" d="M668.9 227l2.1 6.2 1.3-1.7-2.1-6.1z"/>
<path fill="#2c728e" d="M210.7 301.7l4.2 9.4 3.7-12.4-4-4.9z"/>
<path fill="#a2da37" d="M637 123.4l6.8.2 3-4.9-6.9-.2z"/>
<path fill="#3bbb75" d="M503.4 185.7l6.7 5.2 3.9-1.2-6.8-4.4z"/>
<path fill="#52c569" d="M586 174.4l4.9-1.6 3.9-7.4-4.9 2.1z"/>
<path fill="#4cc26c" d="M584.7 177.2l4.9-1.4 1.3-3-4.9 1.6z"/>
<path fill="#34b679" d="M670.8 190l6.5 12.7 3.4-1.9-6.4-12.9z"/>
<path fill="#d0e11c" d="M658.4 97l6.8 3.5 3.9-6.3-6.8-3.6z"/>
<path fill="#b0dd2f" d="M343 111.2l6.7 2.8 3.7 3.2-6.7-3.6z"/>
<path fill="#31678e" d="M660.9 307.5l1.7 6.2 2.6 18.7-1.5-8.5z"/>
<path fill="#90d743" d="M370 126.1l6.8 4.9 3.6 6.3-6.7-5.6z"/>
<path fill="#9bd93c" d="M662.3 123l6.7 7.4 1.2-1.7-6.7-7.6z"/>
<path fill="#67cc5c" d="M267.7 165.9l6.4-10 3.8-10-6.4 8.3z"/>
<path fill="#2a778e" d="M218.6 298.7l2.9 3.4 3.8-12-2.9-.2z"/>
<path fill="#23888e" d="M660.1 257.5l6.3 20.2 3.5 3.2-6.2-21.7z"/>
<path fill="#2a788e" d="M214.6 293.8l4 4.9 3.8-8.8-3.8-.6z"/>
<path fill="#bade28" d="M661.3 107.5l6.8 5.9 3.8-6.6-6.7-6.3z"/>
<path fill="#70cf57" d="M602.5 154.2l7.5-3.1 3.5-4.5-7.5 3.3z"/>
<path fill="#297b8e" d="M659.1 276.5l6.1 24.7 3.7-2.5-6.1-22.1z"/>
<path fill="#9bd93c" d="M634.3 127.5l6.9.1 2.6-4-6.8-.2z"/>
<path fill="#33628d" d="M234.8 352.3l5.5-29.3 3.6-17.6-5.9 19.6z"/>
<path fill="#c5e021" d="M654.6 104.3l6.7 3.2 3.9-7-6.8-3.5z"/>
<path fill="#98d83e" d="M363.2 121.5l6.8 4.6 3.7 5.6-6.8-5.4z"/>
<path fill="#a8db34" d="M349.7 114l6.8 3.5 3.6 4-6.7-4.3z"/>
<path fill="#287c8e" d="M222.4 289.9l2.9.2 3.9-7.3-2.8 2.8z"/>
<path fill="#25ac82" d="M669.8 210.1l4.2 10.3 3.8-4.7-4.2-9.7z"/>
<path fill="#297b8e" d="M207.7 285.4l6.9 8.4 4-4.5-6.6-1.7z"/>
<path fill="#95d840" d="M660.3 126.1l6.7 7 2-2.7-6.7-7.4z"/>
<path fill="#3a538b" d="M143.2 375.1l4.9-33.3 3.5-14.8-5.5 19.6z"/>
<path fill="#a2da37" d="M356.5 117.5l6.7 4 3.7 4.8-6.8-4.8z"/>
<path fill="#3aba76" d="M583 193.6l7.4-1.6 2.1-6.3-7.5 1.7z"/>
<path fill="#355f8d" d="M132.7 340l7.4 14.5 2.6-34.7-7.3-9.9z"/>
<path fill="#bddf26" d="M318.9 106.6l6.6.3 4.1.6-6.7-1.1z"/>
<path fill="#1fa088" d="M666.4 229.6l2.1 6.5 2.5-2.9-2.1-6.2z"/>
<path fill="#b5de2b" d="M650 113l6.8 2.8 4.5-8.3-6.7-3.2z"/>
<path fill="#2b758e" d="M221.5 302.1l6.8 5.8 3.5-18.6-6.5.8z"/>
<path fill="#7cd250" d="M661.5 139.9l6.6 8 2.6-2.5-6.6-8.6z"/>
<path fill="#b0dd2f" d="M656.8 115.8l6.7 5.3 4.6-7.7-6.8-5.9z"/>
<path fill="#48c16e" d="M444.4 177.7l6.7 2.3 3.5-1-6.7-1.6z"/>
<path fill="#21a685" d="M512 214.1l6.8 16.5 3.4.7-6.8-16.9z"/>
<path fill="#84d44b" d="M617.6 141.7l7-1.7 3.8-4.6-6.9 1.7z"/>
<path fill="#46c06f" d="M461.4 180.1l6.7.7 4.3-1.6-6.7-.6z"/>
<path fill="#1f968b" d="M174.5 233.8l7.5 17.2 4.7 10.2-7.6-20.3z"/>
<path fill="#aadc32" d="M287 119.9l6.6-2.8 3.9-4.4-6.6 1.9z"/>
<path fill="#355e8d" d="M121.3 330.1l5.9 26.5 3.1-24.3-5.6-19.1z"/>
<path fill="#addc30" d="M648.8 115.2l6.8 2.7 1.2-2.1-6.8-2.8z"/>
<path fill="#277f8e" d="M200.8 277.3l6.9 8.1 4.3 2.2-6.7-3.2z"/>
<path fill="#46c06f" d="M479.2 179.8l6 1 3.9-.8-6-1z"/>
<path fill="#44bf70" d="M667.8 176.6l6.5 11.3 3.9-1.5-6.4-11.9z"/>
<path fill="#24868e" d="M558.2 272l7.1-16 3.5 13.4-7.2 22.4z"/>
<path fill="#a8db34" d="M646.8 118.7l6.8 2.6 2-3.4-6.8-2.7z"/>
<path fill="#95d840" d="M632.2 130.4l6.9.1 2.1-2.9-6.9-.1z"/>
<path fill="#1fa188" d="M588 244.8l7.2-13.5 4-12.5-7.1 9.5z"/>
<path fill="#a5db36" d="M655.6 117.9l6.7 5.1 1.2-1.9-6.7-5.3z"/>
<path fill="#21908d" d="M242.1 270.8l5.9-19.3 3.1-7-5.9 19.7z"/>
<path fill="#3bbb75" d="M258.9 200.7l6.2-13.3 3.8-10.9-6.2 12.7z"/>
<path fill="#90d743" d="M657.4 130.3l6.7 6.5 2.9-3.7-6.7-7z"/>
<path fill="#56c667" d="M665.2 164.3l6.6 10.2 3.6-1.7-6.5-10.9z"/>
<path fill="#a2da37" d="M653.6 121.3l6.7 4.8 2-3.1-6.7-5.1z"/>
<path fill="#a0da39" d="M643.8 123.6l6.8 2.3 3-4.6-6.8-2.6z"/>
<path fill="#228b8d" d="M237.3 276.4l6-16.2 4.7-8.7-5.9 19.3z"/>
<path fill="#67cc5c" d="M662.3 153l6.6 8.9 3.7-2.4-6.5-9.7z"/>
<path fill="#bddf26" d="M308.2 108.3l3.7-.5 4.1-1.2-3.8 0z"/>
<path fill="#25ac82" d="M253.9 224.8l3.5-7.9 3.7-13.1-3.5 7.3z"/>
<path fill="#27808e" d="M714.5 293.7l7.8-21.5 3.7-3-7.9 23.2z"/>
<path fill="#7ad151" d="M271.5 154.2l6.4-8.3 3.9-8.9-6.5 6.7z"/>
<path fill="#365d8d" d="M142.7 353.5l3.4-6.9 2.8-28.8-3.6 2.4z"/>
<path fill="#1fa088" d="M171.7 223.7l5.1 11.6 4.5 6.5-5.1-12.5z"/>
<path fill="#40bd72" d="M585 187.4l7.5-1.7 1.9-5.4-7.4 1.7z"/>
<path fill="#69cd5b" d="M598.7 159.3l7.4-2.8 3.9-5.4-7.5 3.1z"/>
<path fill="#463480" d="M299.8 376.7l7.8 47.4 3.3-34.6-7.3-27.4z"/>
<path fill="#32b67a" d="M586.4 206.3l6.9-3.2 4-13.4-6.9 2.3z"/>
<path fill="#1f9f88" d="M766.2 238.5l7.9-17.5 3.1 7-7.9 18.9zM664.6 231.2l2.1 6.5 1.8-1.6-2.1-6.5z"/>
<path fill="#26828e" d="M195.9 271.2l4.9 6.1 4.5 7.1-4.8-4z"/>
<path fill="#9bd93c" d="M650.6 125.9l6.8 4.4 2.9-4.2-6.7-4.8z"/>
<path fill="#1f948c" d="M245.2 264.2l5.9-19.7 2.9-7.6-6 18.9z"/>
<path fill="#7ad151" d="M659.4 142.1l6.7 7.7 2-1.9-6.6-8z"/>
<path fill="#31678e" d="M198.3 311.8l4.4 14.2 4.4 4.5-4.4-16.1z"/>
<path fill="#1f968b" d="M741 253.7l7.6-13.8 3.4 1.8-7.5 12.8z"/>
<path fill="#a2da37" d="M283.1 126.5l6.5-3.9 4-5.5-6.6 2.8z"/>
<path fill="#8ed645" d="M628.4 135.4l6.9 0 3.8-4.9-6.9-.1z"/>
<path fill="#21908d" d="M180.3 247.9l4.1 7.9 4.7 11.9-4.1-9.7z"/>
<path fill="#9bd93c" d="M641.2 127.6l6.8 2.1 2.6-3.8-6.8-2.3z"/>
<path fill="#46c06f" d="M485.2 180.8l3.3.9 3.8-.9-3.2-.8z"/>
<path fill="#24aa83" d="M666 214.4l4.2 11 3.8-5-4.2-10.3z"/>
<path fill="#35b779" d="M506.2 192.4l6.8 8.3 3.8-2.3-6.7-7.5z"/>
<path fill="#b8de29" d="M297.5 112.7l6.6-1.9 4.1-2.5-6.7 1.1z"/>
<path fill="#8bd646" d="M654.8 133.8l6.7 6.1 2.6-3.1-6.7-6.5z"/>
<path fill="#bddf26" d="M325.5 106.9l5.4.6 4 1.2-5.3-1.2z"/>
<path fill="#46c06f" d="M451.1 180l6.8 1.4 3.5-1.3-6.8-1.1z"/>
<path fill="#89d548" d="M275.3 143.7l6.5-6.7 3.9-7.8-6.5 5.2z"/>
<path fill="#4ac16d" d="M587 182l7.4-1.7 2.6-6.5-7.4 2z"/>
<path fill="#29af7f" d="M589.2 219.1l7-6.3 4-13.7-6.9 4z"/>
<path fill="#2ab07f" d="M508.7 202.2l6.7 12.2 4.3-2-6.7-11.7z"/>
<path fill="#32b67a" d="M667.1 193.1l6.5 12.9 3.7-3.3-6.5-12.7z"/>
<path fill="#7fd34e" d="M613.5 146.6l6.9-1.6 4.2-5-7 1.7z"/>
<path fill="#98d83e" d="M279.2 134.4l6.5-5.2 3.9-6.6-6.5 3.9z"/>
<path fill="#2a768e" d="M228.3 307.9l5.3.3 3.4-21.7-5.2 2.8z"/>
<path fill="#60ca60" d="M594.8 165.4l7.5-2.4 3.8-6.5-7.4 2.8z"/>
<path fill="#25858e" d="M193.9 268.5l2 2.7 4.6 9.2-2-2.2z"/>
<path fill="#95d840" d="M648 129.7l6.8 4.1 2.6-3.5-6.8-4.4z"/>
<path fill="#24878e" d="M233.2 279l6.2-11.7 3.9-7.1-6 16.2z"/>
<path fill="#24aa83" d="M810.8 222.1l7.8-13.7.8 4.5-7.8 14.1z"/>
<path fill="#44bf70" d="M488.5 181.7l4.2 1.4 3.9-.8-4.3-1.5z"/>
<path fill="#1f988b" d="M248 255.8l6-18.9 1-2.7-6.1 18.4z"/>
<path fill="#95d840" d="M639.1 130.5l6.8 2 2.1-2.8-6.8-2.1z"/>
<path fill="#46c06f" d="M468.1 180.8l6.8.7 4.3-1.7-6.8-.6z"/>
<path fill="#bddf26" d="M311.9 107.8l2.9-.3 4.1-.9-2.9 0z"/>
<path fill="#22a785" d="M788.3 227.4l9.4-19.6 1.9 9-9.3 18.1z"/>
<path fill="#50c46a" d="M589.6 175.8l7.4-2 1.4-3-7.5 2z"/>
<path fill="#58c765" d="M590.9 172.8l7.5-2 3.9-7.8-7.5 2.4z"/>
<path fill="#297a8e" d="M203.6 286.9l7.1 14.8 3.9-7.9-6.9-8.4z"/>
<path fill="#4ac16d" d="M262.7 189.2l6.2-12.7 3.8-10.5-6.2 11.8z"/>
<path fill="#1f9f88" d="M662.7 232.5l2.1 6.4 1.9-1.2-2.1-6.5z"/>
<path fill="#22a884" d="M253.7 231.3l2.6-6.6 3.7-13.6-2.6 5.8zM664.7 215.8l4.2 11.2 1.3-1.6-4.2-11z"/>
<path fill="#86d549" d="M652.7 136.4l6.7 5.7 2.1-2.2-6.7-6.1z"/>
<path fill="#56c667" d="M422.5 166l4.4 3.4 4 1.6-4.4-2.7z"/>
<path fill="#52c569" d="M426.9 169.4l6.8 4.6 3.9.7-6.7-3.7z"/>
<path fill="#3dbc74" d="M499.5 186.7l6.7 5.7 3.9-1.5-6.7-5.2z"/>
<path fill="#5ac864" d="M420.1 164l2.4 2 4 2.3-2.4-1.5z"/>
<path fill="#42be71" d="M492.7 183.1l6.8 3.6 3.9-1-6.8-3.4z"/>
<path fill="#277f8e" d="M225.3 290.1l6.5-.8 3.7-12.9-6.3 6.4z"/>
<path fill="#90d743" d="M645.9 132.5l6.8 3.9 2.1-2.6-6.8-4.1z"/>
<path fill="#77d153" d="M655.6 145.9l6.7 7.1 3.8-3.2-6.7-7.7z"/>
<path fill="#89d548" d="M624.6 140l6.8 0 3.9-4.6-6.9 0z"/>
<path fill="#4ec36b" d="M433.7 174l6.7 3.9 4-.2-6.8-3z"/>
<path fill="#60ca60" d="M413.4 158.3l6.7 5.7 4 2.8-6.7-4.7z"/>
<path fill="#25848e" d="M229.2 282.8l6.3-6.4 3.9-9.1-6.2 11.7z"/>
<path fill="#1f958b" d="M657.4 240.1l6.3 19.1 3.6 1.6-6.2-20.7z"/>
<path fill="#bade28" d="M330.9 107.5l8 1.5 4.1 2.2-8.1-2.5z"/>
<path fill="#20938c" d="M520.7 237.2l6.7 12.7 3.6 20.6-6.6-17.7z"/>
<path fill="#8ed645" d="M635.3 135.4l6.8 1.8 3.8-4.7-6.8-2z"/>
<path fill="#44bf70" d="M664.3 179l6.5 11 3.5-2.1-6.5-11.3z"/>
<path fill="#77d153" d="M610 151.1l6.9-1.5 3.5-4.6-6.9 1.6z"/>
<path fill="#3fbc73" d="M590.4 192l6.9-2.3 2.1-5.9-6.9 1.9z"/>
<path fill="#31678e" d="M130.3 332.3l2.4 7.7 2.7-30.1-2.3-5z"/>
<path fill="#46c06f" d="M457.9 181.4l6.7.9 3.5-1.5-6.7-.7z"/>
<path fill="#67cc5c" d="M658.5 156l6.7 8.3 3.7-2.4-6.6-8.9zM406.6 152.5l6.8 5.8 4 3.8-6.8-4.9z"/>
<path fill="#22a785" d="M662.2 218.3l4.2 11.3 2.5-2.6-4.2-11.2z"/>
<path fill="#228d8d" d="M568.8 269.4l7.2-19.8 3.7 5.7-7.3 23.3z"/>
<path fill="#46337f" d="M295.6 367l7.4 28.6 4.6 28.5-7.8-47.4z"/>
<path fill="#287d8e" d="M655.5 275.1l6 26.3 3.7-.2-6.1-24.7z"/>
<path fill="#2a778e" d="M199.5 289.9l7.4 20.1 3.8-8.3-7.1-14.8z"/>
<path fill="#27808e" d="M710.8 295.8l7.8-20.1 3.7-3.5-7.8 21.5z"/>
<path fill="#56c667" d="M661.2 167.1l6.6 9.5 4-2.1-6.6-10.2z"/>
<path fill="#4ac16d" d="M440.4 177.9l6.8 2.8 3.9-.7-6.7-2.3z"/>
<path fill="#b2dd2d" d="M293.6 117.1l6.5-2.9 4-3.4-6.6 1.9z"/>
<path fill="#1f9e89" d="M248.9 252.6l6.1-18.4 3.7-11.7-6.1 16.4z"/>
<path fill="#238a8d" d="M186.8 258.6l7.1 9.9 4.6 9.7-7-9.8z"/>
<path fill="#31b57b" d="M257.6 211.1l3.5-7.3 4.5-14.2-3.6 7z"/>
<path fill="#21a685" d="M777.2 228l6.4-14.8 3 8.7-6.3 14.5z"/>
<path fill="#c0df25" d="M314.8 107.5l6.7-.6 4 0-6.6-.3z"/>
<path fill="#25ab82" d="M592.1 228.3l7.1-9.5 4-12.3-7 6.3z"/>
<path fill="#46c06f" d="M474.9 181.5l6 .9 4.3-1.6-6-1z"/>
<path fill="#bddf26" d="M304.1 110.8l3.8-1 4-2-3.7.5z"/>
<path fill="#70cf57" d="M399.8 146.6l6.8 5.9 4 4.7-6.8-5z"/>
<path fill="#84d44b" d="M648.9 140.7l6.7 5.2 3.8-3.8-6.7-5.7z"/>
<path fill="#32658e" d="M198.1 314.6l3.2 8.1 4.7 15.2-3.3-11.9z"/>
<path fill="#31b57b" d="M663.3 196.7l6.5 13.4 3.8-4.1-6.5-12.9z"/>
<path fill="#5ac864" d="M266.5 177.8l6.2-11.8 3.9-10-6.4 10.6z"/>
<path fill="#8bd646" d="M642.1 137.2l6.8 3.5 3.8-4.3-6.8-3.9z"/>
<path fill="#375a8c" d="M112.3 323l5.7 21.3 5.2 17.8-6-28.1z"/>
<path fill="#1f968b" d="M177.4 242.2l2.9 5.7 4.7 10.1-3-7z"/>
<path fill="#46c06f" d="M592.5 185.7l6.9-1.9 1.9-5.3-6.9 1.8z"/>
<path fill="#7ad151" d="M395 142.5l4.8 4.1 4 5.6-4.8-3.7z"/>
<path fill="#b8de29" d="M338.9 109l6.7 1.9 4.1 3.1-6.7-2.8z"/>
<path fill="#70cf57" d="M606.1 156.5l6.9-1.4 3.9-5.5-6.9 1.5z"/>
<path fill="#81d34d" d="M620.4 145l6.9-.1 4.1-4.9-6.8 0z"/>
<path fill="#228b8d" d="M656.5 256.5l6.3 20.1 3.6 1.1-6.3-20.2zM547.7 260.6l7-8.1 3.5 19.5-7 13.1z"/>
<path fill="#3b518b" d="M133.8 357.9l5.2-25.5 4.9 11.9-4.6 37.2z"/>
<path fill="#21a685" d="M660.4 219.9l4.2 11.3 1.8-1.6-4.2-11.3z"/>
<path fill="#7fd34e" d="M393 140.8l2 1.7 4 6-1.9-1.6z"/>
<path fill="#2c728e" d="M698.9 324.6l8.1-29.3 3.8-6.8-7.9 23.9z"/>
<path fill="#89d548" d="M631.4 140l6.9 1.5 3.8-4.3-6.8-1.8z"/>
<path fill="#1f9f88" d="M659 234l2.1 6.1 3.7-1.2-2.1-6.4z"/>
<path fill="#35b779" d="M502 193.6l6.7 8.6 4.3-1.5-6.8-8.3z"/>
<path fill="#48c16e" d="M447.2 180.7l6.8 1.7 3.9-1-6.8-1.4z"/>
<path fill="#23a983" d="M508.2 211.6l6.8 15 3.8 4-6.8-16.5z"/>
<path fill="#1fa088" d="M172.2 228.9l2.3 4.9 4.6 7.1-2.3-5.6z"/>
<path fill="#38b977" d="M593.3 203.1l6.9-4 4.1-12-7 2.6z"/>
<path fill="#46c06f" d="M480.9 182.4l3.3.7 4.3-1.4-3.3-.9z"/>
<path fill="#84d44b" d="M386.2 135.2l6.8 5.6 4.1 6.1-6.8-5.3z"/>
<path fill="#4ec36b" d="M594.4 180.3l6.9-1.8 2.6-6.3-6.9 1.6z"/>
<path fill="#73d056" d="M651.8 149.5l6.7 6.5 3.8-3-6.7-7.1z"/>
<path fill="#2e6f8e" d="M695 330.4l8.2-32.4 3.8-2.7-8.1 29.3z"/>
<path fill="#1f988b" d="M737.3 256.4l7.7-15.6 3.6-.9-7.6 13.8z"/>
<path fill="#26ad81" d="M799.6 216.8l7.8-14.1 2.1 11.4-7.8 13.6z"/>
<path fill="#1f9f88" d="M752 241.7l7.7-13.9 3.1 3.7-7.7 14.8z"/>
<path fill="#48c16e" d="M464.6 182.3l6.8.6 3.5-1.4-6.8-.7z"/>
<path fill="#c0df25" d="M307.9 109.8l2.9-.8 4-1.5-2.9.3z"/>
<path fill="#2cb17e" d="M505.3 202.2l6.7 11.9 3.4.3-6.7-12.2z"/>
<path fill="#67cc5c" d="M602.3 163l6.9-1.4 3.8-6.5-6.9 1.4z"/>
<path fill="#addc30" d="M289.6 122.6l6.5-4.1 4-4.3-6.5 2.9z"/>
<path fill="#6ccd5a" d="M270.2 166.6l6.4-10.6 3.8-9.4-6.3 9.3z"/>
<path fill="#b5de2b" d="M345.6 110.9l6.8 2.6 4.1 4-6.8-3.5z"/>
<path fill="#2b758e" d="M195.2 292.1l7.5 22.3 4.2-4.4-7.4-20.1z"/>
<path fill="#277e8e" d="M707 301.8l7.7-20.6 3.9-5.5-7.8 20.1z"/>
<path fill="#8bd646" d="M382.7 132.4l3.5 2.8 4.1 6.4-3.5-2.8z"/>
<path fill="#2cb17e" d="M257.4 216.9l2.6-5.8 3.8-12.7-2.7 5.4z"/>
<path fill="#56c667" d="M597 173.8l6.9-1.6 1.4-2.9-6.9 1.5z"/>
<path fill="#1fa287" d="M511.2 220l6.5 15.2 3.8 9.7-6.5-18.3z"/>
<path fill="#29798e" d="M702.9 312.4l7.9-23.9 3.9-7.3-7.7 20.6z"/>
<path fill="#5cc863" d="M598.4 170.8l6.9-1.5 3.9-7.7-6.9 1.4z"/>
<path fill="#90d743" d="M379.5 129.9l3.2 2.5 4.1 6.4-3.3-2.6z"/>
<path fill="#42be71" d="M660.5 182.1l6.6 11 3.7-3.1-6.5-11z"/>
<path fill="#46c06f" d="M484.2 183.1l4.3 1.3 4.2-1.3-4.2-1.4z"/>
<path fill="#86d549" d="M638.3 141.5l6.8 3.2 3.8-4-6.8-3.5z"/>
<path fill="#31678e" d="M683.7 320.9l5-14 2.7 15.2-5.2 19.8z"/>
<path fill="#26828e" d="M196.5 274.5l7.1 12.4 4.1-1.5-6.9-8.1z"/>
<path fill="#7fd34e" d="M645.1 144.7l6.7 4.8 3.8-3.6-6.7-5.2z"/>
<path fill="#2eb37c" d="M659.5 200.6l6.5 13.8 3.8-4.3-6.5-13.4z"/>
<path fill="#c2df23" d="M321.5 106.9l5.3-.2 4.1.8-5.4-.6z"/>
<path fill="#21a685" d="M658.5 221.3l4.2 11.2 1.9-1.3-4.2-11.3z"/>
<path fill="#98d83e" d="M372.7 125l6.8 4.9 4 6.3-6.7-5.2z"/>
<path fill="#3fbc73" d="M262 196.6l3.6-7 3.1-9.1-3.6 6.9z"/>
<path fill="#b0dd2f" d="M352.4 113.5l6.7 3.2 4.1 4.8-6.7-4z"/>
<path fill="#65cb5e" d="M654.5 159.4l6.7 7.7 4-2.8-6.7-8.3z"/>
<path fill="#7cd250" d="M616.9 149.6l6.9-.2 3.5-4.5-6.9.1z"/>
<path fill="#a0da39" d="M365.9 120.6l6.8 4.4 4.1 6-6.8-4.9z"/>
<path fill="#a8db34" d="M359.1 116.7l6.8 3.9 4.1 5.5-6.8-4.6z"/>
<path fill="#3dbc74" d="M495.2 187.9l6.8 5.7 4.2-1.2-6.7-5.7z"/>
<path fill="#1f9e89" d="M587.3 251.7l7.2-17.2 3.9-6.2-7.2 14.5z"/>
<path fill="#54c568" d="M657.7 169.8l6.6 9.2 3.5-2.4-6.6-9.5z"/>
<path fill="#42be71" d="M488.5 184.4l6.7 3.5 4.3-1.2-6.8-3.6z"/>
<path fill="#7cd250" d="M274.1 155.9l6.3-9.3 3.9-8.6-6.4 7.9z"/>
<path fill="#bade28" d="M300.1 114.2l3.8-1.7 4-2.7-3.8 1z"/>
<path fill="#81d34d" d="M627.3 144.9l6.9 1.3 4.1-4.7-6.9-1.5z"/>
<path fill="#22a785" d="M252.6 238.9l6.1-16.4 3.8-12.2-6.2 14.4z"/>
<path fill="#a5db36" d="M285.7 129.2l6.5-5.3 3.9-5.4-6.5 4.1z"/>
<path fill="#48c16e" d="M454 182.4l6.7 1 3.9-1.1-6.7-.9z"/>
<path fill="#44bf70" d="M597.3 189.7l7-2.6 2-5.4-6.9 2.1z"/>
<path fill="#2fb47c" d="M596.2 212.8l7-6.3 4-11.5-7 4.1z"/>
<path fill="#2b758e" d="M654.8 284.2l6.1 23.3 2.8 16.4-6-29.2z"/>
<path fill="#20a386" d="M591.2 242.8l7.2-14.5 3.9-8.3-7.1 11.3z"/>
<path fill="#297b8e" d="M233.6 308.2l7.6-9 3.5-21.5-7.7 8.8z"/>
<path fill="#25838e" d="M231.8 289.3l5.2-2.8 3.6-15.8-5.1 5.7z"/>
<path fill="#29af7f" d="M809.5 214.1l7.7-12.9 1.4 7.2-7.8 13.7z"/>
<path fill="#8bd646" d="M277.9 145.9l6.4-7.9 3.9-7.6-6.4 6.6z"/>
<path fill="#34618d" d="M205.1 321.9l5.4 3.1 3.6 20-5.5-5.6z"/>
<path fill="#9bd93c" d="M281.8 137l6.4-6.6 4-6.5-6.5 5.3z"/>
<path fill="#48c16e" d="M471.4 182.9l6 .6 3.5-1.1-6-.9z"/>
<path fill="#2cb17e" d="M658.2 201.9l6.5 13.9 1.3-1.4-6.5-13.8z"/>
<path fill="#20928c" d="M179.8 247.5l7 11.1 4.7 9.8-7.1-12.6z"/>
<path fill="#52c569" d="M429.7 172.9l6.8 4.4 3.9.6-6.7-3.9z"/>
<path fill="#58c765" d="M423 167.6l6.7 5.3 4 1.1-6.8-4.6z"/>
<path fill="#75d054" d="M613 155.1l6.9-.3 3.9-5.4-6.9.2z"/>
<path fill="#2f6c8e" d="M663.6 299.2l7.1 6.7 2.6 31.3-6.9-11z"/>
<path fill="#c2df23" d="M310.8 109l6.6-1.5 4.1-.6-6.7.6z"/>
<path fill="#70cf57" d="M647.8 153.3l6.7 6.1 4-3.4-6.7-6.5z"/>
<path fill="#4ec36b" d="M265.1 187.4l3.6-6.9 3.8-10.6-3.6 6.6z"/>
<path fill="#1f9a8a" d="M583 256.3l7.3-18.6 4.2-3.2-7.2 17.2z"/>
<path fill="#4cc26c" d="M599.4 183.8l6.9-2.1 1.9-4.8-6.9 1.6z"/>
<path fill="#7fd34e" d="M634.2 146.2l6.8 2.8 4.1-4.3-6.8-3.2z"/>
<path fill="#5ec962" d="M418.6 163.7l4.4 3.9 3.9 1.8-4.4-3.4z"/>
<path fill="#4cc26c" d="M436.5 177.3l6.8 3.3 3.9.1-6.8-2.8z"/>
<path fill="#1f988b" d="M653.8 239.8l6.3 17.7 3.6 1.7-6.3-19.1z"/>
<path fill="#2b748e" d="M238 325l5.9-19.6 3.5-19.7-6.2 13.5z"/>
<path fill="#1f978b" d="M733.5 260.9l7.8-17.6 3.7-2.5-7.7 15.6z"/>
<path fill="#c2df23" d="M326.8 106.7l8 .5 4.1 1.8-8-1.5z"/>
<path fill="#31678e" d="M146.1 346.6l5.5-19.6 3.4-18.7-6.1 9.5z"/>
<path fill="#7ad151" d="M641 149l6.8 4.3 4-3.8-6.7-4.8z"/>
<path fill="#63cb5f" d="M416.2 161.5l2.4 2.2 3.9 2.3-2.4-2z"/>
<path fill="#3fbc73" d="M656.8 185.7l6.5 11 3.8-3.6-6.6-11z"/>
<path fill="#7cd250" d="M623.8 149.4l6.8 1 3.6-4.2-6.9-1.3z"/>
<path fill="#21a685" d="M167.2 218.5l5 10.4 4.6 6.4-5.1-11.6z"/>
<path fill="#21a585" d="M654.7 223.3l4.3 10.7 3.7-1.5-4.2-11.2z"/>
<path fill="#2ab07f" d="M655.7 204.3l6.5 14 2.5-2.5-6.5-13.9z"/>
<path fill="#6ccd5a" d="M609.2 161.6l6.9-.6 3.8-6.2-6.9.3z"/>
<path fill="#54c568" d="M601.3 178.5l6.9-1.6 2.6-5.8-6.9 1.1z"/>
<path fill="#2d718e" d="M124.7 313.2l5.6 19.1 2.8-27.4-5.2-13.4z"/>
<path fill="#bddf26" d="M303.9 112.5l2.8-1.1 4.1-2.4-2.9.8z"/>
<path fill="#3aba76" d="M261.1 203.8l2.7-5.4 4.5-13.9-2.7 5.1z"/>
<path fill="#3f4788" d="M310.9 389.5l2.4 3.2 3.3-43.6-2.4-1.5z"/>
<path fill="#25ab82" d="M595.2 231.3l7.1-11.3 4-9.3-7.1 8.1z"/>
<path fill="#48c16e" d="M477.4 183.5l3.3.6 3.5-1-3.3-.7z"/>
<path fill="#23898e" d="M191.4 266.7l5.1 7.8 4.3 2.8-4.9-6.1z"/>
<path fill="#1fa088" d="M655.3 234.5l2.1 5.6 3.7 0-2.1-6.1z"/>
<path fill="#27ad81" d="M786.6 221.9l9.5-20.5 1.6 6.4-9.4 19.6z"/>
<path fill="#63cb5f" d="M651 162.5l6.7 7.3 3.5-2.7-6.7-7.7z"/>
<path fill="#37b878" d="M498.5 193.9l6.8 8.3 3.4 0-6.7-8.6z"/>
<path fill="#1f9f88" d="M170 227.7l7.4 14.5 4.6 8.8-7.5-17.2z"/>
<path fill="#48c16e" d="M460.7 183.4l6.8.5 3.9-1-6.8-.6z"/>
<path fill="#39568c" d="M121.1 330.1l2.6-.5 6.9 38.2-2.5 2z"/>
<path fill="#5ac864" d="M603.9 172.2l6.9-1.1 1.4-2.8-6.9 1z"/>
<path fill="#69cd5b" d="M409.4 155l6.8 6.5 3.9 2.5-6.7-5.7z"/>
<path fill="#60ca60" d="M605.3 169.3l6.9-1 3.9-7.3-6.9.6z"/>
<path fill="#b5de2b" d="M296.1 118.5l3.8-2.2 4-3.8-3.8 1.7z"/>
<path fill="#52c569" d="M653.9 173.2l6.6 8.9 3.8-3.1-6.6-9.2z"/>
<path fill="#4ac16d" d="M443.3 180.6l6.8 2 3.9-.2-6.8-1.7z"/>
<path fill="#2e6f8e" d="M194 304.4l4.1 10.2 4.6 11.4-4.4-14.2z"/>
<path fill="#33628d" d="M221.5 333.1l5.9-19.5 4.5 13.5-5.5 29.5z"/>
<path fill="#21a685" d="M762.8 231.5l7.7-15.6 3.6 5.1-7.9 17.5z"/>
<path fill="#1fa088" d="M514 223.8l6.7 13.4 3.7 15.6-6.7-17.6z"/>
<path fill="#228d8d" d="M652.9 255.7l6.2 20.8 3.7.1-6.3-20.1z"/>
<path fill="#3dbc74" d="M600.2 199.1l7-4.1 4-10.2-6.9 2.3z"/>
<path fill="#5cc863" d="M268.9 176.5l3.6-6.6 3.8-10.1-3.6 6.2z"/>
<path fill="#2a768e" d="M190.9 291.7l7.4 20.1 4.4 2.6-7.5-22.3z"/>
<path fill="#46c06f" d="M480.7 184.1l4.3 1.2 3.5-.9-4.3-1.3z"/>
<path fill="#1f968b" d="M732.2 262.6l7.8-18.3 1.3-1-7.8 17.6z"/>
<path fill="#2ab07f" d="M256.3 224.7l6.2-14.4 3.8-12.1-6.3 12.9z"/>
<path fill="#7ad151" d="M630.6 150.4l6.9 2.5 3.5-3.9-6.8-2.8z"/>
<path fill="#75d054" d="M619.9 154.8l6.9.7 3.8-5.1-6.8-1z"/>
<path fill="#2ab07f" d="M653.9 205.9l6.5 14 1.8-1.6-6.5-14z"/>
<path fill="#75d054" d="M402.6 148.4l6.8 6.6 4 3.3-6.8-5.8z"/>
<path fill="#228c8d" d="M235.5 276.4l5.1-5.7 3.8-11.9-5 8.5z"/>
<path fill="#6ece58" d="M644.3 156.9l6.7 5.6 3.5-3.1-6.7-6.1z"/>
<path fill="#26828e" d="M651.6 270l6.1 24.7 3.8 6.7-6-26.3z"/>
<path fill="#25838e" d="M192.2 274.5l7.3 15.4 4.1-3-7.1-12.4z"/>
<path fill="#c2df23" d="M334.8 107.2l6.8 1 4 2.7-6.7-1.9z"/>
<path fill="#2eb37c" d="M501.4 200.7l6.8 10.9 3.8 2.5-6.7-11.9z"/>
<path fill="#30698e" d="M198 311.1l7.1 10.8 3.5 17.5-7.3-16.7z"/>
<path fill="#228d8d" d="M189.4 263.7l2 3 4.5 4.5-2-2.7z"/>
<path fill="#3fbc73" d="M491.8 188.5l6.7 5.4 3.5-.3-6.8-5.7z"/>
<path fill="#44bf70" d="M485 185.3l6.8 3.2 3.4-.6-6.7-3.5z"/>
<path fill="#c8e020" d="M317.4 107.5l5.3-.9 4.1.1-5.3.2z"/>
<path fill="#75d054" d="M637.5 152.9l6.8 4 3.5-3.6-6.8-4.3z"/>
<path fill="#375b8d" d="M113.8 320.9l7.3 9.2 7 39.7-7.6-16.6z"/>
<path fill="#3dbc74" d="M653 189.6l6.5 11 3.8-3.9-6.5-11z"/>
<path fill="#2db27d" d="M599.2 218.8l7.1-8.1 3.9-9.6-7 5.4z"/>
<path fill="#2d718e" d="M691.4 322.1l8-29 3.8 4.9-8.2 32.4z"/>
<path fill="#b0dd2f" d="M292.2 123.9l3.7-2.9 4-4.7-3.8 2.2z"/>
<path fill="#4ac16d" d="M450.1 182.6l6.7 1 3.9-.2-6.7-1z"/>
<path fill="#48c16e" d="M604.3 187.1l6.9-2.3 2-4.7-6.9 1.6z"/>
<path fill="#1f958b" d="M729.7 265.6l7.9-19.2 2.4-2.1-7.8 18.3z"/>
<path fill="#423f85" d="M313.9 410.6l5.7-42.3 3.9-12.4-6 28.7z"/>
<path fill="#4ac16d" d="M265.6 189.6l2.7-5.1 3.1-8.9-2.7 4.9z"/>
<path fill="#6ece58" d="M272.7 166l3.6-6.2 3.9-9.4-3.6 5.6z"/>
<path fill="#48c16e" d="M467.5 183.9l6 .4 3.9-.8-6-.6z"/>
<path fill="#1f998a" d="M175.8 240.9l4 6.6 4.6 8.3-4.1-7.9z"/>
<path fill="#7fd34e" d="M395.8 141.9l6.8 6.5 4 4.1-6.8-5.9z"/>
<path fill="#3e4989" d="M313.3 392.7l4.2-8.1 3.3-38.6-4.2 3.1z"/>
<path fill="#20928c" d="M239.4 267.3l5-8.5 3.9-9.4-5 10.8z"/>
<path fill="#6ece58" d="M616.1 161l6.8.4 3.9-5.9-6.9-.7z"/>
<path fill="#2c738e" d="M659.7 291.2l3.9 8 2.8 27-3.8-12.5z"/>
<path fill="#5ec962" d="M647.2 166.3l6.7 6.9 3.8-3.4-6.7-7.3z"/>
<path fill="#29af7f" d="M652 207.5l6.5 13.8 1.9-1.4-6.5-14z"/>
<path fill="#bade28" d="M299.9 116.3l2.8-1.7 4-3.2-2.8 1.1z"/>
<path fill="#c2df23" d="M306.7 111.4l6.7-2.6 4-1.3-6.6 1.5z"/>
<path fill="#1f988b" d="M243.3 260.2l5-10.8 4.6-10.5-4.9 12.6z"/>
<path fill="#2b748e" d="M142.7 319.8l2.6.4 3-26.6-2.7-1.3z"/>
<path fill="#50c46a" d="M606.3 181.7l6.9-1.6 1.9-4.3-6.9 1.1z"/>
<path fill="#1e9b8a" d="M579.7 255.3l7.2-18.1 3.4.5-7.3 18.6z"/>
<path fill="#1fa287" d="M748.6 239.9l7.6-13.7 3.5 1.6-7.7 13.9z"/>
<path fill="#4ec36b" d="M650.1 177.1l6.7 8.6 3.7-3.6-6.6-8.9z"/>
<path fill="#75d054" d="M626.8 155.5l6.8 2.1 3.9-4.7-6.9-2.5z"/>
<path fill="#32658e" d="M210.5 325l7.6-8.4 3.4 16.5-7.4 11.9z"/>
<path fill="#65cb5e" d="M612.2 168.3l6.8-.2 3.9-6.7-6.8-.4z"/>
<path fill="#58c765" d="M608.2 176.9l6.9-1.1 2.6-5.2-6.9.5z"/>
<path fill="#c0df25" d="M341.6 108.2l6.7 1.8 4.1 3.5-6.8-2.6z"/>
<path fill="#1f9e89" d="M248 251.5l4.9-12.6 3.1-7.3-4.9 12.9z"/>
<path fill="#89d548" d="M391 137.5l4.8 4.4 4 4.7-4.8-4.1z"/>
<path fill="#7fd34e" d="M276.6 156l3.6-5.6 3.9-8.8-3.7 5z"/>
<path fill="#5cc863" d="M610.8 171.1l6.9-.5 1.3-2.5-6.8.2z"/>
<path fill="#a5db36" d="M288.2 130.4l3.7-3.6 4-5.8-3.7 2.9z"/>
<path fill="#27ad81" d="M504.4 207.2l6.8 12.8 3.8 6.6-6.8-15z"/>
<path fill="#3bbb75" d="M651.7 190.9l6.5 11 1.3-1.3-6.5-11z"/>
<path fill="#2e6f8e" d="M670.7 305.9l10.3-9.3 2.7 24.3-10.4 16.3z"/>
<path fill="#1f948c" d="M727.9 267.5l7.8-19.6 1.9-1.5-7.9 19.2z"/>
<path fill="#21a685" d="M651 224.5l4.3 10 3.7-.5-4.3-10.7z"/>
<path fill="#69cd5b" d="M640.4 161.1l6.8 5.2 3.8-3.8-6.7-5.6z"/>
<path fill="#8ed645" d="M389 135.7l2 1.8 4 5-2-1.7z"/>
<path fill="#70cf57" d="M633.6 157.6l6.8 3.5 3.9-4.2-6.8-4z"/>
<path fill="#38b977" d="M603.2 206.5l7-5.4 4-9.2-7 3.1z"/>
<path fill="#2a788e" d="M135.4 309.9l7.3 9.9 2.9-27.5-7.2-8.2z"/>
<path fill="#4ac16d" d="M473.5 184.3l3.3.5 3.9-.7-3.3-.6z"/>
<path fill="#58c765" d="M268.7 180.5l2.7-4.9 3.8-10.3-2.7 4.6z"/>
<path fill="#8ed645" d="M280.4 146.6l3.7-5 3.9-7.9-3.7 4.3z"/>
<path fill="#20928c" d="M182.4 253.4l7 10.3 4.5 4.8-7.1-9.9z"/>
<path fill="#9bd93c" d="M284.3 138l3.7-4.3 3.9-6.9-3.7 3.6z"/>
<path fill="#1fa287" d="M251.1 244.5l4.9-12.9 2.9-7.3-4.9 12.6z"/>
<path fill="#27ad81" d="M774.1 221l6.3-14.1 3.2 6.3-6.4 14.8z"/>
<path fill="#56c667" d="M425.8 171.1l6.8 4.7 3.9 1.5-6.8-4.4z"/>
<path fill="#38b977" d="M260 211.1l6.3-12.9 3.8-11.6-6.3 11.8z"/>
<path fill="#375b8d" d="M123.7 329.6l3.5-4.3 6.6 32.6-3.2 9.9z"/>
<path fill="#2b748e" d="M145.3 320.2l3.6-2.4 3.1-24-3.7-.2z"/>
<path fill="#95d840" d="M382.2 129.9l6.8 5.8 4 5.1-6.8-5.6z"/>
<path fill="#433d84" d="M299.7 370.6l2.4 2 3.4 26.4-2.5-3.4z"/>
<path fill="#bddf26" d="M348.3 110l6.7 2.6 4.1 4.1-6.7-3.2z"/>
<path fill="#52c569" d="M432.6 175.8l6.7 3.5 4 1.3-6.8-3.3z"/>
<path fill="#6ece58" d="M622.9 161.4l6.9 1.5 3.8-5.3-6.8-2.1z"/>
<path fill="#4ac16d" d="M456.8 183.6l6.8.4 3.9-.1-6.8-.5z"/>
<path fill="#1f9a8a" d="M650.1 239.3l6.4 17.2 3.6 1-6.3-17.7z"/>
<path fill="#5ec962" d="M419 165.2l6.8 5.9 3.9 1.8-6.7-5.3z"/>
<path fill="#22a785" d="M167.7 223.5l2.3 4.2 4.5 6.1-2.3-4.9z"/>
<path fill="#cae11f" d="M322.7 106.6l8.1-.7 4 1.3-8-.5z"/>
<path fill="#3aba76" d="M649.2 193.5l6.5 10.8 2.5-2.4-6.5-11z"/>
<path fill="#1fa187" d="M651.6 234.5l2.2 5.3 3.6.3-2.1-5.6z"/>
<path fill="#21a685" d="M254 236.9l4.9-12.6 1-2.5-4.9 12.4z"/>
<path fill="#1f968b" d="M565.3 256l7.1-15.4 3.6 9-7.2 19.8z"/>
<path fill="#9dd93b" d="M378.7 127.1l3.5 2.8 4 5.3-3.5-2.8z"/>
<path fill="#b5de2b" d="M295.9 121l2.8-2.1 4-4.3-2.8 1.7z"/>
<path fill="#3aba76" d="M494.7 193.1l6.7 7.6 3.9 1.5-6.8-8.3z"/>
<path fill="#48c16e" d="M476.8 184.8l4.3.9 3.9-.4-4.3-1.2z"/>
<path fill="#1f9f88" d="M172.9 236l2.9 4.9 4.5 7-2.9-5.7z"/>
<path fill="#5ac864" d="M643.4 170.5l6.7 6.6 3.8-3.9-6.7-6.9z"/>
<path fill="#20938c" d="M726 269.2l7.8-19.7 1.9-1.6-7.8 19.6z"/>
<path fill="#29af7f" d="M648.2 210.3l6.5 13 3.8-2-6.5-13.8z"/>
<path fill="#b8de29" d="M355 112.6l6.8 3.3 4.1 4.7-6.8-3.9z"/>
<path fill="#a2da37" d="M375.4 124.7l3.3 2.4 4 5.3-3.2-2.5z"/>
<path fill="#44bf70" d="M607.2 195l7-3.1 3.9-8.5-6.9 1.4z"/>
<path fill="#1f988b" d="M532 239.3l4.8 1.9 3.5 22.2-4.8-2.5z"/>
<path fill="#423f85" d="M309.6 390.6l6-29.4 4 7.1-5.7 42.3z"/>
<path fill="#67cc5c" d="M414.6 161.1l4.4 4.1 4 2.4-4.4-3.9z"/>
<path fill="#4cc26c" d="M646.3 181.2l6.7 8.4 3.8-3.9-6.7-8.6z"/>
<path fill="#2d708e" d="M236.3 331.9l5.6-27.9 4.2-6.1-5.8 25.1z"/>
<path fill="#a8db34" d="M368.6 120l6.8 4.7 4.1 5.2-6.8-4.9z"/>
<path fill="#b2dd2d" d="M361.8 115.9l6.8 4.1 4.1 5-6.8-4.4z"/>
<path fill="#25848e" d="M187.9 275.7l7.3 16.4 4.3-2.2-7.3-15.4z"/>
<path fill="#238a8d" d="M237 286.5l7.7-8.8 3.6-17.1-7.7 10.1z"/>
<path fill="#3b518b" d="M303.6 362.1l7.3 27.4 3.3-41.9-7.1-14.2z"/>
<path fill="#4ec36b" d="M439.3 179.3l6.8 2.2 4 1.1-6.8-2z"/>
<path fill="#65cb5e" d="M619 168.1l6.9.8 3.9-6-6.9-1.5z"/>
<path fill="#69cd5b" d="M272.5 169.9l2.7-4.6 3.9-9.8-2.8 4.3zM629.8 162.9l6.8 3 3.8-4.8-6.8-3.5z"/>
<path fill="#6ccd5a" d="M412.2 158.7l2.4 2.4 4 2.6-2.4-2.2z"/>
<path fill="#65cb5e" d="M636.6 165.9l6.8 4.6 3.8-4.2-6.8-5.2z"/>
<path fill="#1f968b" d="M554.7 252.5l7.1-11 3.5 14.5-7.1 16z"/>
<path fill="#4ec36b" d="M611.2 184.8l6.9-1.4 2-4-6.9.7z"/>
<path fill="#46c06f" d="M481.1 185.7l6.8 2.7 3.9.1-6.8-3.2z"/>
<path fill="#c2df23" d="M302.7 114.6l6.6-3.5 4.1-2.3-6.7 2.6z"/>
<path fill="#5ec962" d="M617.7 170.6l6.9.6 1.3-2.3-6.9-.8z"/>
<path fill="#32b67a" d="M797.7 207.8l7.8-14.6 1.9 9.5-7.8 14.1z"/>
<path fill="#54c568" d="M613.2 180.1l6.9-.7 1.9-3.7-6.9.1z"/>
<path fill="#5ac864" d="M615.1 175.8l6.9-.1 2.6-4.5-6.9-.6z"/>
<path fill="#228d8d" d="M187.2 265.6l5 8.9 4.3 0-5.1-7.8z"/>
<path fill="#cae11f" d="M313.4 108.8l5.3-1.6 4-.6-5.3.9z"/>
<path fill="#25ab82" d="M255 234.2l4.9-12.4 3.8-10.7-5 11.4z"/>
<path fill="#38b977" d="M647.3 195.4l6.6 10.5 1.8-1.6-6.5-10.8z"/>
<path fill="#1e9d89" d="M523.8 231.5l8.2 7.8 3.5 21.6-8.1-11z"/>
<path fill="#2d718e" d="M194.9 305.5l3.1 5.6 3.3 11.6-3.2-8.1z"/>
<path fill="#21908d" d="M649.2 254l6.3 21.1 3.6 1.4-6.2-20.8z"/>
<path fill="#42be71" d="M487.9 188.4l6.8 4.7 3.8.8-6.7-5.4z"/>
<path fill="#297a8e" d="M657.9 287l1.8 4.2 2.9 22.5-1.7-6.2z"/>
<path fill="#287d8e" d="M133.1 304.9l2.3 5 3-25.8-2.2-3.7z"/>
<path fill="#32648e" d="M111.5 315.7l2.3 5.2 6.7 32.3-2.5-8.9z"/>
<path fill="#addc30" d="M291.9 126.8l2.8-2.6 4-5.3-2.8 2.1z"/>
<path fill="#7ad151" d="M276.3 159.8l2.8-4.3 3.9-9.1-2.8 4z"/>
<path fill="#48c16e" d="M645 182.7l6.7 8.2 1.3-1.3-6.7-8.4z"/>
<path fill="#73d056" d="M405.4 151.7l6.8 7 4 2.8-6.8-6.5z"/>
<path fill="#4cc26c" d="M463.6 184l6 .2 3.9.1-6-.4z"/>
<path fill="#423f85" d="M302.1 372.6l4.2-4.2 3.3 22.2-4.1 8.4z"/>
<path fill="#4ac16d" d="M263.8 198.4l6.3-11.8 4.5-13-6.3 10.9z"/>
<path fill="#25ab82" d="M507.4 211.8l6.6 12 3.7 11.4-6.5-15.2z"/>
<path fill="#63cb5f" d="M625.9 168.9l6.9 2.3 3.8-5.3-6.8-3z"/>
<path fill="#56c667" d="M639.6 175.2l6.7 6 3.8-4.1-6.7-6.6z"/>
<path fill="#20928c" d="M722.3 272.2l7.8-19.6 3.7-3.1-7.8 19.7z"/>
<path fill="#4ec36b" d="M446.1 181.5l6.8 1 3.9 1.1-6.7-1z"/>
<path fill="#35b779" d="M807.4 202.7l7.8-12.3 2 10.8-7.7 12.9z"/>
<path fill="#2a788e" d="M240.3 323l5.8-25.1 3.8-12-6 19.5z"/>
<path fill="#37b878" d="M645.4 197.2l6.6 10.3 1.9-1.6-6.6-10.5z"/>
<path fill="#a2da37" d="M288 133.7l2.8-3.1 3.9-6.4-2.8 2.6z"/>
<path fill="#89d548" d="M280.2 150.4l2.8-4 3.9-8.4-2.8 3.6z"/>
<path fill="#cae11f" d="M330.8 105.9l6.7.3 4.1 2-6.8-1z"/>
<path fill="#297a8e" d="M186.7 289.4l7.3 15 4.3 7.4-7.4-20.1z"/>
<path fill="#1f998a" d="M536.8 241.2l7.4-1.3 3.5 20.7-7.4 2.8z"/>
<path fill="#5ec962" d="M632.8 171.2l6.8 4 3.8-4.7-6.8-4.6z"/>
<path fill="#1f9a8a" d="M175.3 243.1l7.1 10.3 4.4 5.2-7-11.1z"/>
<path fill="#26ad81" d="M162.8 214.3l4.9 9.2 4.5 5.4-5-10.4z"/>
<path fill="#98d83e" d="M284.1 141.6l2.8-3.6 3.9-7.4-2.8 3.1z"/>
<path fill="#5ec962" d="M624.6 171.2l6.8 1.9 1.4-1.9-6.9-2.3z"/>
<path fill="#2db27d" d="M602.3 220l7.1-8.1 3.9-6.9-7 5.7z"/>
<path fill="#46c06f" d="M642.5 185.6l6.7 7.9 2.5-2.6-6.7-8.2z"/>
<path fill="#27ad81" d="M598.4 228.3l7.1-10.4 3.9-6-7.1 8.1z"/>
<path fill="#25858e" d="M241.2 299.2l6.2-13.5 3.6-18.5-6.3 10.5z"/>
<path fill="#20a486" d="M745 240.8l7.6-14.5 3.6-.1-7.6 13.7z"/>
<path fill="#22a785" d="M647.3 225.2l4.3 9.3 3.7 0-4.3-10z"/>
<path fill="#34b679" d="M497.6 197.7l6.8 9.5 3.8 4.4-6.8-10.9z"/>
<path fill="#35b779" d="M606.3 210.7l7-5.7 3.9-7.3-7 3.4z"/>
<path fill="#7fd34e" d="M398.6 144.7l6.8 7 4 3.3-6.8-6.6z"/>
<path fill="#5ac864" d="M622 175.7l6.9 1.4 2.5-4-6.8-1.9z"/>
<path fill="#25ac82" d="M759.7 227.8l7.7-14.3 3.1 2.4-7.7 15.6z"/>
<path fill="#21918c" d="M185.1 262.3l2.1 3.3 4.2 1.1-2-3z"/>
<path fill="#31678e" d="M145.5 345.2l5.1-29.7 2.7-1.1-5.2 27.4z"/>
<path fill="#31b57b" d="M783.6 213.2l9.5-21.2 3 9.4-9.5 20.5z"/>
<path fill="#54c568" d="M638.3 176.9l6.7 5.8 1.3-1.5-6.7-6z"/>
<path fill="#2eb37c" d="M258.7 222.5l5-11.4 3.8-11.1-5 10.3z"/>
<path fill="#4cc26c" d="M469.6 184.2l3.3.3 3.9.3-3.3-.5z"/>
<path fill="#28ae80" d="M644.5 212.5l6.5 12 3.7-1.2-6.5-13z"/>
<path fill="#2f6c8e" d="M148.1 341.8l5.2-27.4 3.9-7.1-5.6 19.7z"/>
<path fill="#54c568" d="M620.1 179.4l6.9.8 1.9-3.1-6.9-1.4z"/>
<path fill="#3fbc73" d="M610.2 201.1l7-3.4 3.9-7.2-6.9 1.4z"/>
<path fill="#bddf26" d="M298.7 118.9l6.6-4.6 4-3.2-6.6 3.5z"/>
<path fill="#29798e" d="M148.9 317.8l6.1-9.5 3.5-17.5-6.5 3z"/>
<path fill="#5ac864" d="M631.4 173.1l6.9 3.8 1.3-1.7-6.8-4z"/>
<path fill="#50c46a" d="M618.1 183.4l6.9.1 2-3.3-6.9-.8z"/>
<path fill="#24aa83" d="M594.5 234.5l7.2-12.3 3.8-4.3-7.1 10.4z"/>
<path fill="#21a585" d="M165.5 223.6l7.4 12.4 4.5 6.2-7.4-14.5z"/>
<path fill="#48c16e" d="M614.2 191.9l6.9-1.4 3.9-7-6.9-.1z"/>
<path fill="#2d708e" d="M231.9 327.1l5.8-25 4.2 1.9-5.6 27.9z"/>
<path fill="#5ac864" d="M268.3 184.5l6.3-10.9 3.2-8.4-6.4 10.4z"/>
<path fill="#1f9f88" d="M576 249.6l7.2-16 3.7 3.6-7.2 18.1z"/>
<path fill="#44bf70" d="M640.6 187.8l6.7 7.6 1.9-1.9-6.7-7.9z"/>
<path fill="#50c46a" d="M635.7 180.2l6.8 5.4 2.5-2.9-6.7-5.8z"/>
<path fill="#56c667" d="M628.9 177.1l6.8 3.1 2.6-3.3-6.9-3.8z"/>
<path fill="#20a486" d="M517 222.3l6.8 9.2 3.6 18.4-6.7-12.7z"/>
<path fill="#2e6f8e" d="M203.3 313.9l5.4 2.1 1.8 9-5.4-3.1z"/>
<path fill="#35b779" d="M641.6 200.8l6.6 9.5 3.8-2.8-6.6-10.3z"/>
<path fill="#4ec36b" d="M452.9 182.5l6.8.3 3.9 1.2-6.8-.4z"/>
<path fill="#cae11f" d="M337.5 106.2l6.7 1.1 4.1 2.7-6.7-1.8z"/>
<path fill="#d0e11c" d="M318.7 107.2l8-1.8 4.1.5-8.1.7z"/>
<path fill="#25848e" d="M183.6 277.1l7.3 14.6 4.3.4-7.3-16.4z"/>
<path fill="#8bd646" d="M391.8 137.8l6.8 6.9 4 3.7-6.8-6.5z"/>
<path fill="#4cc26c" d="M472.9 184.5l4.3.6 3.9.6-4.3-.9z"/>
<path fill="#2a778e" d="M190.9 298.2l4 7.3 3.2 9.1-4.1-10.2z"/>
<path fill="#20a386" d="M647.9 234.3l2.2 5 3.7.5-2.2-5.3z"/>
<path fill="#1e9c89" d="M646.4 238.7l6.5 17 3.6.8-6.4-17.2z"/>
<path fill="#1f948c" d="M240.6 270.7l7.7-10.1 3.7-13.6-7.6 11.8z"/>
<path fill="#20928c" d="M718.6 275.7l7.8-19.4 3.7-3.7-7.8 19.6z"/>
<path fill="#25838e" d="M127.9 291.5l5.2 13.4 3.1-24.5-5.1-9.9z"/>
<path fill="#cae11f" d="M309.3 111.1l5.3-2.5 4.1-1.4-5.3 1.6z"/>
<path fill="#52c569" d="M627 180.2l6.8 2.6 1.9-2.6-6.8-3.1z"/>
<path fill="#5ec962" d="M421.8 168.3l6.8 4.9 4 2.6-6.8-4.7z"/>
<path fill="#42be71" d="M638.7 190l6.7 7.2 1.9-1.8-6.7-7.6z"/>
<path fill="#58c765" d="M428.6 173.2l6.8 3.6 3.9 2.5-6.7-3.5z"/>
<path fill="#31688e" d="M143.9 344.3l5.1-29.5 1.6.7-5.1 29.7z"/>
<path fill="#4ec36b" d="M633.8 182.8l6.8 5 1.9-2.2-6.8-5.4z"/>
<path fill="#69cd5b" d="M271.4 175.6l6.4-10.4 3.8-9.8-6.4 9.9z"/>
<path fill="#50c46a" d="M625 183.5l6.9 2.1 1.9-2.8-6.8-2.6z"/>
<path fill="#b8de29" d="M294.7 124.2l6.6-5.7 4-4.2-6.6 4.6z"/>
<path fill="#3fbc73" d="M490.8 191.2l6.8 6.5 3.8 3-6.7-7.6z"/>
<path fill="#98d83e" d="M386.9 133.2l4.9 4.6 4 4.1-4.8-4.4z"/>
<path fill="#67cc5c" d="M415 162.3l6.8 6 4 2.8-6.8-5.9z"/>
<path fill="#1f968b" d="M178 251.9l7.1 10.4 4.3 1.4-7-10.3z"/>
<path fill="#3e4a89" d="M292.5 351.9l7.2 18.7 3.3 25-7.4-28.6z"/>
<path fill="#218e8d" d="M182.8 266.7l5.1 9 4.3-1.2-5-8.9z"/>
<path fill="#1fa088" d="M171.3 237.2l4 5.9 4.5 4.4-4-6.6z"/>
<path fill="#2c728e" d="M196.4 305.4l6.9 8.5 1.8 8-7.1-10.8z"/>
<path fill="#23898e" d="M648.5 263l6.3 21.2 2.9 10.5-6.1-24.7z"/>
<path fill="#3bbb75" d="M262.5 210.3l5-10.3 3.8-11.1-5 9.3z"/>
<path fill="#4ac16d" d="M477.2 185.1l6.8 2.1 3.9 1.2-6.8-2.7z"/>
<path fill="#cae11f" d="M344.2 107.3l6.7 1.9 4.1 3.4-6.7-2.6z"/>
<path fill="#4ac16d" d="M631.9 185.6l6.8 4.4 1.9-2.2-6.8-5z"/>
<path fill="#56c667" d="M435.4 176.8l6.8 2.2 3.9 2.5-6.8-2.2z"/>
<path fill="#9dd93b" d="M384.9 131.4l2 1.8 4.1 4.3-2-1.8z"/>
<path fill="#4ac16d" d="M621.1 190.5l6.9.7 3.9-5.6-6.9-2.1z"/>
<path fill="#22a884" d="M590.3 237.7l7.2-13.3 4.2-2.2-7.2 12.3z"/>
<path fill="#38598c" d="M292.2 339l7.6 37.7 3.8-14.6-7.5-31.4z"/>
<path fill="#46c06f" d="M484 187.2l6.8 4 3.9 1.9-6.8-4.7z"/>
<path fill="#70cf57" d="M410.6 158l4.4 4.3 4 2.9-4.4-4.1z"/>
<path fill="#2b758e" d="M151.6 327l5.6-19.7 3.8-10.3-6 11.3z"/>
<path fill="#7ad151" d="M275.2 165.3l6.4-9.9 3.9-9.1-6.4 9.2z"/>
<path fill="#40bd72" d="M634.8 194.5l6.8 6.3 3.8-3.6-6.7-7.2z"/>
<path fill="#a5db36" d="M378.1 125.5l6.8 5.9 4.1 4.3-6.8-5.8z"/>
<path fill="#50c46a" d="M459.7 182.8l6 .1 3.9 1.3-6-.2z"/>
<path fill="#21908d" d="M714.7 281.2l7.9-20.4 3.8-4.5-7.8 19.4z"/>
<path fill="#21a585" d="M741.3 243.3l7.7-15.5 3.6-1.5-7.6 14.5z"/>
<path fill="#31b57b" d="M500.5 201.3l6.9 10.5 3.8 8.2-6.8-12.8z"/>
<path fill="#b0dd2f" d="M290.8 130.6l6.5-6.7 4-5.4-6.6 5.7z"/>
<path fill="#42be71" d="M617.2 197.7l6.9-.9 3.9-5.6-6.9-.7z"/>
<path fill="#c5e021" d="M350.9 109.2l6.8 2.9 4.1 3.8-6.8-3.3z"/>
<path fill="#1e9d89" d="M244.4 258.8l7.6-11.8 3.8-11.3-7.5 13.7z"/>
<path fill="#75d054" d="M408.2 155.5l2.4 2.5 4 3.1-2.4-2.4z"/>
<path fill="#29af7f" d="M640.7 214.2l6.6 11 3.7-.7-6.5-12z"/>
<path fill="#26ad81" d="M163.3 219.9l2.2 3.7 4.5 4.1-2.3-4.2z"/>
<path fill="#25838e" d="M651.5 270l6.4 17 3 20.5-6.1-23.3z"/>
<path fill="#46c06f" d="M628 191.2l6.8 3.3 3.9-4.5-6.8-4.4z"/>
<path fill="#34b679" d="M637.8 203.9l6.7 8.6 3.7-2.2-6.6-9.5z"/>
<path fill="#2fb47c" d="M770.5 215.9l6.3-12.8 3.6 3.8-6.3 14.1z"/>
<path fill="#addc30" d="M374.6 122.7l3.5 2.8 4.1 4.4-3.5-2.8z"/>
<path fill="#25848e" d="M243.9 305.4l6-19.5 3.7-14.8-6.2 14.6z"/>
<path fill="#89d548" d="M279.1 155.5l6.4-9.2 3.9-8.4-6.4 8.5z"/>
<path fill="#2e6e8e" d="M106.2 301.7l5.3 14 6.5 28.6-5.7-21.3z"/>
<path fill="#22a884" d="M643.6 225.6l4.3 8.7 3.7.2-4.3-9.3z"/>
<path fill="#b2dd2d" d="M371.3 120.2l3.3 2.5 4.1 4.4-3.3-2.4z"/>
<path fill="#c0df25" d="M357.7 112.1l6.8 3.6 4.1 4.3-6.8-4.1z"/>
<path fill="#297b8e" d="M688.7 306.9l7.8-23.1 2.9 9.3-8 29z"/>
<path fill="#20a486" d="M168.5 232.9l2.8 4.3 4.5 3.7-2.9-4.9z"/>
<path fill="#b8de29" d="M364.5 115.7l6.8 4.5 4.1 4.5-6.8-4.7z"/>
<path fill="#a5db36" d="M286.9 138l6.4-7.6 4-6.5-6.5 6.7z"/>
<path fill="#3bbb75" d="M613.3 205l7-2.7 3.8-5.5-6.9.9z"/>
<path fill="#d2e21b" d="M326.7 105.4l6.7-.5 4.1 1.3-6.7-.3z"/>
<path fill="#24878e" d="M145.6 292.3l2.7 1.3 3.3-20.4-2.8-2z"/>
<path fill="#54c568" d="M442.2 179l6.8 1.1 3.9 2.4-6.8-1z"/>
<path fill="#98d83e" d="M283 146.4l6.4-8.5 3.9-7.5-6.4 7.6z"/>
<path fill="#1f948c" d="M645.3 250.1l6.3 19.9 3.9 5.1-6.3-21.1z"/>
<path fill="#c8e020" d="M305.3 114.3l5.3-3.3 4-2.4-5.3 2.5z"/>
<path fill="#4ac16d" d="M266.3 198.2l5-9.3 3.9-10.8-5.1 8.5z"/>
<path fill="#1f9e89" d="M544.2 239.9l7-5.1 3.5 17.7-7 8.1z"/>
<path fill="#20928c" d="M180.7 263.5l2.1 3.2 4.4-1.1-2.1-3.3z"/>
<path fill="#228d8d" d="M710.8 288.5l8-22.8 3.8-4.9-7.9 20.4z"/>
<path fill="#7fd34e" d="M401.4 148.4l6.8 7.1 4 3.2-6.8-7z"/>
<path fill="#2a788e" d="M193.3 300.9l3.1 4.5 1.6 5.7-3.1-5.6z"/>
<path fill="#24868e" d="M148.3 293.6l3.7.2 3.4-18.8-3.8-1.8z"/>
<path fill="#38588c" d="M317.5 384.6l6-28.7 3.7-25.6-6.4 15.7z"/>
<path fill="#20a486" d="M248.3 249.4l7.5-13.7 4.6-12-7.5 15.2z"/>
<path fill="#50c46a" d="M465.7 182.9l3.3.1 3.9 1.5-3.3-.3z"/>
<path fill="#26ad81" d="M510.3 212.2l6.7 10.1 3.7 14.9-6.7-13.4z"/>
<path fill="#35b779" d="M609.4 211.9l7-4.6 3.9-5-7 2.7z"/>
<path fill="#3fbc73" d="M796.1 201.4l7.9-15 1.5 6.8-7.8 14.6z"/>
<path fill="#2c718e" d="M208.7 316l7.7-7.2 1.7 7.8-7.6 8.4z"/>
<path fill="#d2e21b" d="M314.6 108.6l8-2.8 4.1-.4-8 1.8z"/>
<path fill="#48186a" d="M386.5 409l7.3 37.3 1.5 16.6-7.5-52.3z"/>
<path fill="#238a8d" d="M138.4 284.1l7.2 8.2 3.2-21.1-7.1-7.8z"/>
<path fill="#40bd72" d="M624.1 196.8l6.9 2 3.8-4.3-6.8-3.3z"/>
<path fill="#297a8e" d="M681 296.6l4.8-9.2 2.9 19.5-5 14z"/>
<path fill="#29af7f" d="M756.2 226.2l7.7-13.6 3.5.9-7.7 14.3z"/>
<path fill="#3dbc74" d="M631 198.8l6.8 5.1 3.8-3.1-6.8-6.3z"/>
<path fill="#21a585" d="M740 244.3l7.7-15.9 1.3-.6-7.7 15.5z"/>
<path fill="#460b5e" d="M608.5 466.3l5.3-33 1-2.7-5 22z"/>
<path fill="#27808e" d="M183.8 287.3l7.1 10.9 3.1 6.2-7.3-15z"/>
<path fill="#24868e" d="M179.6 278.5l7.1 10.9 4.2 2.3-7.3-14.6z"/>
<path fill="#1f9e89" d="M171 242.3l7 9.6 4.4 1.5-7.1-10.3z"/>
<path fill="#23898e" d="M707 295.3l8-25.5 3.8-4.1-8 22.8z"/>
<path fill="#20938c" d="M244.7 277.7l6.3-10.5 3.6-16-6.3 9.4z"/>
<path fill="#25ab82" d="M252.9 238.9l7.5-15.2 3.1-7.6-7.5 15.5z"/>
<path fill="#2c718e" d="M218.1 316.6l6.1-14.4 3.2 11.4-5.9 19.5z"/>
<path fill="#21a585" d="M644.3 233.8l2.1 4.9 3.7.6-2.2-5z"/>
<path fill="#218e8d" d="M178.6 269.3l5 7.8 4.3-1.4-5.1-9z"/>
<path fill="#38598c" d="M288.1 334.8l7.5 32.2 4.2 9.7-7.6-37.7z"/>
<path fill="#2cb17e" d="M158.4 211.8l4.9 8.1 4.4 3.6-4.9-9.2z"/>
<path fill="#31688e" d="M127.2 325.3l5.8-14.5 6 21.6-5.2 25.5z"/>
<path fill="#52c569" d="M469 183l4.3.4 3.9 1.7-4.3-.6z"/>
<path fill="#8bd646" d="M394.5 141.2l6.9 7.2 4 3.3-6.8-7z"/>
<path fill="#2fb47c" d="M605.5 217.9l7.1-6.4 3.8-4.2-7 4.6z"/>
<path fill="#1f9f88" d="M642.8 237.3l6.4 16.7 3.7 1.7-6.5-17z"/>
<path fill="#54c568" d="M449 180.1l6.8.3 3.9 2.4-6.8-.3z"/>
<path fill="#23a983" d="M586.9 237.2l7.2-13.1 3.4.3-7.2 13.3z"/>
<path fill="#5cc863" d="M270.1 186.6l5.1-8.5 4.5-12.3-5.1 7.8z"/>
<path fill="#d5e21a" d="M333.4 104.9l6.7.4 4.1 2-6.7-1.1z"/>
<path fill="#29af7f" d="M256 231.6l7.5-15.5 2.9-7.1-7.5 15.3z"/>
<path fill="#24878e" d="M152 293.8l6.5-3 3.6-14.2-6.7-1.6z"/>
<path fill="#48186a" d="M393.8 446.3l6.2-33.4 1.4 1.5-6.1 48.5z"/>
<path fill="#3dbc74" d="M493.7 193.5l6.8 7.8 3.9 5.9-6.8-9.5z"/>
<path fill="#1f988b" d="M173.7 253.7l7 9.8 4.4-1.2-7.1-10.4z"/>
<path fill="#481f70" d="M387.8 410.6l7.5 52.3 2.3-34.6-7.2-27.2z"/>
<path fill="#32b67a" d="M634 206.8l6.7 7.4 3.8-1.7-6.7-8.6z"/>
<path fill="#218f8d" d="M136.2 280.4l2.2 3.7 3.3-20.7-2.3-3.1z"/>
<path fill="#287d8e" d="M189.3 295l4 5.9 1.6 4.6-4-7.3z"/>
<path fill="#c5e021" d="M301.3 118.5l5.2-3.9 4.1-3.6-5.3 3.3z"/>
<path fill="#3dbc74" d="M620.3 202.3l6.9.5 3.8-4-6.9-2z"/>
<path fill="#21a585" d="M737.6 246.4l7.7-16.5 2.4-1.5-7.7 15.9z"/>
<path fill="#27808e" d="M155 308.3l6-11.3 3.8-10.4-6.3 4.2z"/>
<path fill="#24aa83" d="M161.2 222l7.3 10.9 4.4 3.1-7.4-12.4z"/>
<path fill="#2eb37c" d="M258.9 224.3l7.5-15.3 1-2.5-7.5 15.3z"/>
<path fill="#29af7f" d="M637 215.5l6.6 10.1 3.7-.4-6.6-11z"/>
<path fill="#50c46a" d="M473.3 183.4l6.8 1.5 3.9 2.3-6.8-2.1z"/>
<path fill="#98d83e" d="M387.7 134.2l6.8 7 4.1 3.5-6.8-6.9z"/>
<path fill="#3aba76" d="M627.2 202.8l6.8 4 3.8-2.9-6.8-5.1z"/>
<path fill="#67cc5c" d="M417.8 164.6l6.8 4.8 4 3.8-6.8-4.9z"/>
<path fill="#20928c" d="M176.6 266.5l2 2.8 4.2-2.6-2.1-3.2z"/>
<path fill="#24878e" d="M703.2 298l8.1-26.9 3.7-1.3-8 25.5z"/>
<path fill="#2e6d8e" d="M139 332.4l5.3-24.9 4.7 7.3-5.1 29.5z"/>
<path fill="#1fa287" d="M561.8 241.5l7-11.4 3.6 10.5-7.1 15.4z"/>
<path fill="#48c16e" d="M805.5 193.2l7.8-12 1.9 9.2-7.8 12.3z"/>
<path fill="#63cb5f" d="M424.6 169.4l6.8 3.6 4 3.8-6.8-3.6z"/>
<path fill="#20a386" d="M167 237l4 5.3 4.3.8-4-5.9z"/>
<path fill="#6ece58" d="M274.6 173.6l5.1-7.8 3.2-8-5.1 7.4z"/>
<path fill="#34b679" d="M259.9 221.8l7.5-15.3 3.9-9.7-7.6 14.3z"/>
<path fill="#2db27d" d="M601.7 222.2l7-7.7 3.9-3-7.1 6.4z"/>
<path fill="#46c06f" d="M486.9 188.1l6.8 5.4 3.9 4.2-6.8-6.5z"/>
<path fill="#481f70" d="M395.3 462.9l6.1-48.5 2.6-10.1-6.4 24z"/>
<path fill="#d5e21a" d="M340.1 105.3l6.7 1.3 4.1 2.6-6.7-1.9z"/>
<path fill="#70cf57" d="M411 158.7l6.8 5.9 4 3.7-6.8-6z"/>
<path fill="#31678e" d="M296.1 330.7l7.5 31.4 3.5-28.7-7.2-21.1z"/>
<path fill="#24aa83" d="M639.9 225.5l4.4 8.3 3.6.5-4.3-8.7z"/>
<path fill="#4ec36b" d="M480.1 184.9l6.8 3.2 3.9 3.1-6.8-4z"/>
<path fill="#21a585" d="M572.4 240.6l7.2-13.1 3.6 6.1-7.2 16z"/>
<path fill="#20a486" d="M735.7 247.9l7.8-16.8 1.8-1.2-7.7 16.5z"/>
<path fill="#d2e21b" d="M310.6 111l7.9-3.8 4.1-1.4-8 2.8z"/>
<path fill="#3fbc73" d="M780.4 206.9l9.5-20.5 3.2 5.6-9.5 21.2z"/>
<path fill="#c0df25" d="M297.3 123.9l5.2-4.7 4-4.6-5.2 3.9z"/>
<path fill="#38b977" d="M616.4 207.3l7-.9 3.8-3.6-6.9-.5z"/>
<path fill="#56c667" d="M455.8 180.4l6-.1 3.9 2.6-6-.1z"/>
<path fill="#a5db36" d="M382.9 129.5l4.8 4.7 4.1 3.6-4.9-4.6z"/>
<path fill="#d8e219" d="M322.6 105.8l6.7-1.3 4.1.4-6.7.5z"/>
<path fill="#5ec962" d="M431.4 173l6.8 2.3 4 3.7-6.8-2.2z"/>
<path fill="#31b57b" d="M503.6 202.9l6.7 9.3 3.7 11.6-6.6-12z"/>
<path fill="#218e8d" d="M174.7 272.9l4.9 5.6 4-1.4-5-7.8z"/>
<path fill="#2a778e" d="M227.4 313.6l6-19.3 4.3 7.8-5.8 25z"/>
<path fill="#20928c" d="M148.8 271.2l2.8 2 1.2-5.7-2.8-2.2z"/>
<path fill="#21908d" d="M151.6 273.2l3.8 1.8 1.2-5.2-3.8-2.3z"/>
<path fill="#20938c" d="M131.1 270.5l5.1 9.9 3.2-20.1-4.9-8z"/>
<path fill="#7cd250" d="M277.8 165.2l5.1-7.4 3.9-9.4-5.2 7z"/>
<path fill="#7ad151" d="M406.6 154.5l4.4 4.2 4 3.6-4.4-4.3z"/>
<path fill="#aadc32" d="M380.9 127.7l2 1.8 4 3.7-2-1.8z"/>
<path fill="#21918c" d="M247.4 285.7l6.2-14.6 3.6-15.2-6.2 11.3z"/>
<path fill="#23888e" d="M176.9 279.8l6.9 7.5 2.9 2.1-7.1-10.9z"/>
<path fill="#22a785" d="M164.2 233.1l2.8 3.9 4.3.2-2.8-4.3z"/>
<path fill="#25838e" d="M182.3 286.2l7 8.8 1.6 3.2-7.1-10.9z"/>
<path fill="#3b518b" d="M298 358.8l2.4 1.7 1.7 12.1-2.4-2z"/>
<path fill="#2ab07f" d="M158.9 218.7l2.3 3.3 4.3 1.6-2.2-3.7z"/>
<path fill="#40bd72" d="M263.7 211.1l7.6-14.3 3.8-10-7.6 13.2z"/>
<path fill="#d2e21b" d="M346.8 106.6l6.8 2.4 4.1 3.1-6.8-2.9z"/>
<path fill="#1f978b" d="M169.6 258.5l7 8 4.1-3-7-9.8z"/>
<path fill="#1f9f88" d="M166.7 245.1l7 8.6 4.3-1.8-7-9.6z"/>
<path fill="#218f8d" d="M155.4 275l6.7 1.6 1.2-4-6.7-2.8z"/>
<path fill="#3c508b" d="M306.3 368.4l6.2-19.7 3.1 12.5-6 29.4z"/>
<path fill="#23898e" d="M158.5 290.8l6.3-4.2 3.9-8.8-6.6-1.2z"/>
<path fill="#b5de2b" d="M293.3 130.4l5.3-5.3 3.9-5.9-5.2 4.7z"/>
<path fill="#b2dd2d" d="M374 121.8l6.9 5.9 4 3.7-6.8-5.9z"/>
<path fill="#81d34d" d="M404.2 152l2.4 2.5 4 3.5-2.4-2.5z"/>
<path fill="#1f9f88" d="M248.3 260.6l6.3-9.4 3.8-13.6-6.4 9.4z"/>
<path fill="#32b67a" d="M630.2 209.1l6.8 6.4 3.7-1.3-6.7-7.4z"/>
<path fill="#20a486" d="M733.8 249.5l7.8-17.1 1.9-1.3-7.8 16.8z"/>
<path fill="#35b779" d="M767.4 213.5l6.2-11.6 3.2 1.2-6.3 12.8z"/>
<path fill="#1f948c" d="M141.7 263.4l7.1 7.8 1.2-5.9-7.2-7.8z"/>
<path fill="#8ed645" d="M281.6 155.4l5.2-7 3.9-8.6-5.2 6.5z"/>
<path fill="#2cb17e" d="M752.6 226.3l7.7-13.4 3.6-.3-7.7 13.6z"/>
<path fill="#20928c" d="M172.7 271.1l2 1.8 3.9-3.6-2-2.8z"/>
<path fill="#38b977" d="M623.4 206.4l6.8 2.7 3.8-2.3-6.8-4z"/>
<path fill="#306a8e" d="M314.2 347.6l2.4 1.5 3.3-35.2-2.4-.9z"/>
<path fill="#29798e" d="M153.3 314.4l1.6-6.6 4-5.5-1.7 5z"/>
<path fill="#5cc863" d="M438.2 175.3l6.8 1.1 4 3.7-6.8-1.1z"/>
<path fill="#bade28" d="M370.5 119l3.5 2.8 4.1 3.7-3.5-2.8z"/>
<path fill="#cde11d" d="M353.6 109l6.8 3.4 4.1 3.3-6.8-3.6z"/>
<path fill="#58c765" d="M461.8 180.3l3.3 0 3.9 2.7-3.3-.1z"/>
<path fill="#aadc32" d="M289.4 137.9l5.2-6 4-6.8-5.3 5.3z"/>
<path fill="#277e8e" d="M157.2 307.3l1.7-5 3.9-8.3-1.8 3z"/>
<path fill="#9dd93b" d="M285.5 146.3l5.2-6.5 3.9-7.9-5.2 6z"/>
<path fill="#c0df25" d="M367.2 116.7l3.3 2.3 4.1 3.7-3.3-2.5z"/>
<path fill="#c5e021" d="M360.4 112.4l6.8 4.3 4.1 3.5-6.8-4.5z"/>
<path fill="#22a785" d="M640.6 232.6l2.2 4.7 3.6 1.4-2.1-4.9z"/>
<path fill="#37b878" d="M612.6 211.5l6.9-2.3 3.9-2.8-7 .9z"/>
<path fill="#89d548" d="M397.3 145l6.9 7 4 3.5-6.8-7.1z"/>
<path fill="#1f958b" d="M152.8 267.5l3.8 2.3 2.4-8.8-3.9-3.1z"/>
<path fill="#228d8d" d="M172 276.3l4.9 3.5 2.7-1.3-4.9-5.6z"/>
<path fill="#20938c" d="M156.6 269.8l6.7 2.8 2.5-6.8-6.8-4.8z"/>
<path fill="#218e8d" d="M162.1 276.6l6.6 1.2 1.3-2.5-6.7-2.7z"/>
<path fill="#1f948c" d="M165.8 265.8l6.9 5.3 3.9-4.6-7-8z"/>
<path fill="#25848e" d="M660.7 276.1l7.2 4.5 2.8 25.3-7.1-6.7z"/>
<path fill="#50c46a" d="M267.5 200l7.6-13.2 3.9-9.9-7.7 12z"/>
<path fill="#1f978b" d="M150 265.3l2.8 2.2 2.3-9.6-2.7-2.5z"/>
<path fill="#2cb17e" d="M597.5 224.4l7.1-8.5 4.1-1.4-7 7.7z"/>
<path fill="#3a538b" d="M300.4 360.5l4.3-3.1 1.6 11-4.2 4.2z"/>
<path fill="#1f998a" d="M139.4 260.3l2.3 3.1 1.1-5.9-2.2-3z"/>
<path fill="#25848e" d="M161 297l1.8-3 3.9-8.5-1.9 1.1z"/>
<path fill="#21918c" d="M163.3 272.6l6.7 2.7 2.7-4.2-6.9-5.3z"/>
<path fill="#dae319" d="M329.3 104.5l6.7-.3 4.1 1.1-6.7-.4z"/>
<path fill="#21a585" d="M551.2 234.8l7-7.3 3.6 14-7.1 11z"/>
<path fill="#218f8d" d="M170 275.3l2 1 2.7-3.4-2-1.8z"/>
<path fill="#2cb17e" d="M633.2 216.2l6.7 9.3 3.7.1-6.6-10.1z"/>
<path fill="#2fb47c" d="M154.1 211.4l4.8 7.3 4.4 1.2-4.9-8.1z"/>
<path fill="#d0e11c" d="M306.5 114.6l8-4.9 4-2.5-7.9 3.8z"/>
<path fill="#25ac82" d="M583.2 233.6l7.2-12 3.7 2.5-7.2 13.1z"/>
<path fill="#23898e" d="M175.5 280.6l6.8 5.6 1.5 1.1-6.9-7.5z"/>
<path fill="#20a486" d="M162.8 240.4l3.9 4.7 4.3-2.8-4-5.3z"/>
<path fill="#58c765" d="M465.1 180.3l4.3.2 3.9 2.9-4.3-.4z"/>
<path fill="#1f9a8a" d="M642.1 245.2l6.4 17.8 3.1 7-6.3-19.9z"/>
<path fill="#26ad81" d="M156.9 223.3l7.3 9.8 4.3-.2-7.3-10.9z"/>
<path fill="#1e9d89" d="M162.7 251.5l6.9 7 4.1-4.8-7-8.6z"/>
<path fill="#2a778e" d="M150.6 315.5l1.5-7.1 2.8-.6-1.6 6.6z"/>
<path fill="#2f6b8e" d="M316.6 349.1l4.2-3.1 3.4-33.6-4.3 1.5z"/>
<path fill="#218e8d" d="M168.7 277.8l2 .6 1.3-2.1-2-1z"/>
<path fill="#20a386" d="M730.1 252.6l7.8-17.4 3.7-2.8-7.8 17.1z"/>
<path fill="#238a8d" d="M164.8 286.6l1.9-1.1 4-7.1-2-.6z"/>
<path fill="#3dbc74" d="M496.7 194.6l6.9 8.3 3.8 8.9-6.9-10.5z"/>
<path fill="#1f998a" d="M159 261l6.8 4.8 3.8-7.3-6.9-7z"/>
<path fill="#228c8d" d="M170.7 278.4l4.8 2.2 1.4-.8-4.9-3.5z"/>
<path fill="#2e6f8e" d="M307.1 333.4l7.1 14.2 3.3-34.6-6.9-8.4z"/>
<path fill="#1e9b8a" d="M142.8 257.5l7.2 7.8 2.4-9.9-7.2-8z"/>
<path fill="#1fa287" d="M638.8 234.5l6.5 15.6 3.9 3.9-6.4-16.7z"/>
<path fill="#98d83e" d="M390.5 137.9l6.8 7.1 4.1 3.4-6.9-7.2z"/>
<path fill="#277f8e" d="M191.5 290.2l6.7 3.1 5.1 20.6-6.9-8.5z"/>
<path fill="#20938c" d="M645.1 253.2l6.4 16.8 3.3 14.2-6.3-21.2z"/>
<path fill="#5ec962" d="M445 176.4l6.8.3 4 3.7-6.8-.3z"/>
<path fill="#23898e" d="M656.7 270.7l4 5.4 2.9 23.1-3.9-8z"/>
<path fill="#48186a" d="M606.6 430.6l4.8-11.1 2.4 13.8-5.3 33z"/>
<path fill="#22a785" d="M252 247l6.4-9.4 3.8-11.6-6.4 9.7z"/>
<path fill="#287c8e" d="M198.2 293.3l5.3 0 5.2 22.7-5.4-2.1z"/>
<path fill="#5ec962" d="M271.3 188.9l7.7-12 3.9-9.9-7.7 11.1z"/>
<path fill="#dae319" d="M318.5 107.2l6.7-2.1 4.1-.6-6.7 1.3z"/>
<path fill="#1e9c89" d="M155.1 257.9l3.9 3.1 3.7-9.5-3.9-4z"/>
<path fill="#25ab82" d="M528.3 221.4l4.9 1.6 3.6 18.2-4.8-1.9z"/>
<path fill="#27ad81" d="M520.1 215.7l8.2 5.7 3.7 17.9-8.2-7.8z"/>
<path fill="#22a785" d="M159.9 237l2.9 3.4 4.2-3.4-2.8-3.9z"/>
<path fill="#50c46a" d="M793.1 192l7.9-15.2 3 9.6-7.9 15z"/>
<path fill="#25848e" d="M241.9 304l6-20.2 4.2-4.9-6 19z"/>
<path fill="#238a8d" d="M699.4 293.1l8-25.1 3.9 3.1-8.1 26.9z"/>
<path fill="#26828e" d="M188.5 288.5l3 1.7 4.9 15.2-3.1-4.5z"/>
<path fill="#238a8d" d="M246.1 297.9l6-19 3.9-9-6.1 16z"/>
<path fill="#25ac82" d="M636.2 224.8l4.4 7.8 3.7 1.2-4.4-8.3z"/>
<path fill="#37b878" d="M619.5 209.2l6.9 1.6 3.8-1.7-6.8-2.7z"/>
<path fill="#1e9d89" d="M134.5 252.3l4.9 8 1.2-5.8-4.9-7.6z"/>
<path fill="#228b8d" d="M166.7 285.5l4.6-1.8 4.2-3.1-4.8-2.2z"/>
<path fill="#375a8c" d="M290.9 343.4l7.1 15.4 1.7 11.8-7.2-18.7z"/>
<path fill="#58c765" d="M469.4 180.5l6.8 1.1 3.9 3.3-6.8-1.5z"/>
<path fill="#1fa187" d="M158.8 247.5l3.9 4 4-6.4-3.9-4.7z"/>
<path fill="#34b679" d="M626.4 210.8l6.8 5.4 3.8-.7-6.8-6.4z"/>
<path fill="#1f9f88" d="M152.4 255.4l2.7 2.5 3.7-10.4-2.9-3z"/>
<path fill="#35b779" d="M608.7 214.5l7.1-3.5 3.7-1.8-6.9 2.3z"/>
<path fill="#dde318" d="M336 104.2l6.7.8 4.1 1.6-6.7-1.3z"/>
<path fill="#1f9f88" d="M140.6 254.5l2.2 3 2.4-10.1-2.2-2.9z"/>
<path fill="#a5db36" d="M383.7 131l6.8 6.9 4 3.3-6.8-7z"/>
<path fill="#cde11d" d="M302.5 119.2l8-5.8 4-3.7-8 4.9z"/>
<path fill="#25848e" d="M184.7 286.2l3.8 2.3 4.8 12.4-4-5.9z"/>
<path fill="#482374" d="M600.4 394.6l8.1 71.7 1.3-13.7-8.4-59.4z"/>
<path fill="#2cb17e" d="M154.7 220.2l2.2 3.1 4.3-1.3-2.3-3.3z"/>
<path fill="#2db27d" d="M749 227.8l7.7-13.8 3.6-1.1-7.7 13.4z"/>
<path fill="#1e9d89" d="M251 267.2l6.2-11.3 3.8-14.1-6.4 9.4z"/>
<path fill="#287c8e" d="M216.4 308.8l6.1-12.5 1.7 5.9-6.1 14.4z"/>
<path fill="#48c16e" d="M489.9 188.4l6.8 6.2 3.8 6.7-6.8-7.8z"/>
<path fill="#2a788e" d="M149 314.8l1.5-7.3 1.6.9-1.5 7.1z"/>
<path fill="#70cf57" d="M275.2 178.1l7.7-11.1 4.6-11.3-7.8 10.1z"/>
<path fill="#20a486" d="M155.9 244.5l2.9 3 4-7.1-2.9-3.4z"/>
<path fill="#2db27d" d="M513.3 208.8l6.8 6.9 3.7 15.8-6.8-9.2z"/>
<path fill="#228d8d" d="M654.9 267.8l1.8 2.9 3 20.5-1.8-4.2z"/>
<path fill="#24878e" d="M162.8 294l4.4-6.3 4.1-4-4.6 1.8z"/>
<path fill="#75d054" d="M413.8 160.3l6.8 4.6 4 4.5-6.8-4.8z"/>
<path fill="#1fa287" d="M726.4 256.3l7.8-17.9 3.7-3.2-7.8 17.4z"/>
<path fill="#238a8d" d="M171.3 283.7l6.6-.1 4.4 2.6-6.8-5.6z"/>
<path fill="#29af7f" d="M255.8 235.7l6.4-9.7 4.6-12.4-6.4 10.1z"/>
<path fill="#56c667" d="M476.2 181.6l6.9 2.5 3.8 4-6.8-3.2z"/>
<path fill="#6ece58" d="M420.6 164.9l6.8 3.5 4 4.6-6.8-3.6z"/>
<path fill="#24878e" d="M177.9 283.6l6.8 2.6 4.6 8.8-7-8.8z"/>
<path fill="#3aba76" d="M763.9 212.6l6.1-10.6 3.6-.1-6.2 11.6z"/>
<path fill="#1fa287" d="M145.2 247.4l7.2 8 3.5-10.9-7.2-8.4z"/>
<path fill="#5ec962" d="M451.8 176.7l6.1 0 3.9 3.6-6 .1z"/>
<path fill="#25ac82" d="M152.7 228l7.2 9 4.3-3.9-7.3-9.8z"/>
<path fill="#24868e" d="M667.9 280.6l10.2-5.6 2.9 21.6-10.3 9.3z"/>
<path fill="#25ab82" d="M533.2 223l7.4-.4 3.6 17.3-7.4 1.3z"/>
<path fill="#b0dd2f" d="M378.8 126.5l4.9 4.5 4 3.2-4.8-4.7z"/>
<path fill="#7cd250" d="M407 154.6l6.8 5.7 4 4.3-6.8-5.9z"/>
<path fill="#33638d" d="M285.1 326.3l7.4 25.6 3.1 15.1-7.5-32.2z"/>
<path fill="#52c569" d="M483.1 184.1l6.8 4.3 3.8 5.1-6.8-5.4z"/>
<path fill="#58c765" d="M804 186.4l7.7-11.8 1.6 6.6-7.8 12z"/>
<path fill="#2db27d" d="M594.1 224.1l7.1-8.6 3.4.4-7.1 8.5z"/>
<path fill="#dae319" d="M342.7 105l6.8 1.9 4.1 2.1-6.8-2.4z"/>
<path fill="#25838e" d="M158.9 302.3l4.2-10.7 4.1-3.9-4.4 6.3z"/>
<path fill="#1fa287" d="M135.7 246.9l4.9 7.6 2.4-10-4.9-7z"/>
<path fill="#81d34d" d="M279.7 165.8l7.8-10.1 3.2-7.4-7.8 9.5z"/>
<path fill="#c5e021" d="M298.6 125.1l7.9-6.7 4-5-8 5.8z"/>
<path fill="#b8de29" d="M376.8 124.6l2 1.9 4.1 3-2-1.8z"/>
<path fill="#20928c" d="M249.9 285.9l6.1-16 3.8-11.6-6.2 12.8z"/>
<path fill="#69cd5b" d="M427.4 168.4l6.9 2.2 3.9 4.7-6.8-2.3z"/>
<path fill="#31b57b" d="M149.8 213.5l4.9 6.7 4.2-1.5-4.8-7.3z"/>
<path fill="#2b758e" d="M115.9 304.4l2.6 0 5.2 25.2-2.6.5z"/>
<path fill="#86d549" d="M402.6 150.6l4.4 4 4 4.1-4.4-4.2z"/>
<path fill="#48c16e" d="M776.8 203.1l9.4-18.7 3.7 2-9.5 20.5z"/>
<path fill="#23a983" d="M148.7 236.1l7.2 8.4 4-7.5-7.2-9z"/>
<path fill="#32b67a" d="M260.4 223.7l6.4-10.1 3.1-7.7-6.4 10.2z"/>
<path fill="#2db27d" d="M629.5 216.3l6.7 8.5 3.7.7-6.7-9.3z"/>
<path fill="#dfe318" d="M325.2 105.1l6.7-1 4.1.1-6.7.3z"/>
<path fill="#bddf26" d="M370 118.9l6.8 5.7 4.1 3.1-6.9-5.9z"/>
<path fill="#2a788e" d="M108.7 297.6l7.2 6.8 5.2 25.7-7.3-9.2z"/>
<path fill="#dae319" d="M314.5 109.7l6.6-2.8 4.1-1.8-6.7 2.1z"/>
<path fill="#90d743" d="M282.9 157.8l7.8-9.5 3.9-8.7-7.8 8.8z"/>
<path fill="#d8e219" d="M349.5 106.9l6.8 3 4.1 2.5-6.8-3.4z"/>
<path fill="#21a685" d="M143 244.5l2.2 2.9 3.5-11.3-2.2-2.8z"/>
<path fill="#8bd646" d="M400.1 148.3l2.5 2.3 4 3.9-2.4-2.5z"/>
<path fill="#33628d" d="M319.6 368.3l6-33 4-7.9-6.1 28.5z"/>
<path fill="#25848e" d="M237.7 302.1l6-18.6 4.2.3-6 20.2z"/>
<path fill="#2db27d" d="M747.7 228.4l7.7-13.9 1.3-.5-7.7 13.8z"/>
<path fill="#bade28" d="M294.6 131.9l7.9-7.4 4-6.1-7.9 6.7z"/>
<path fill="#25ab82" d="M636.6 230.2l2.2 4.3 4 2.8-2.2-4.7z"/>
<path fill="#c5e021" d="M366.4 116.2l3.6 2.7 4 2.9-3.5-2.8z"/>
<path fill="#60ca60" d="M457.9 176.7l3.3-.1 3.9 3.7-3.3 0z"/>
<path fill="#23888e" d="M685.8 287.4l7.6-16.9 3.1 13.3-7.8 23.1z"/>
<path fill="#37b878" d="M615.8 211l6.9.7 3.7-.9-6.9-1.6zM506.5 201.3l6.8 7.5 3.7 13.5-6.7-10.1z"/>
<path fill="#2ab07f" d="M150.5 225.1l2.2 2.9 4.2-4.7-2.2-3.1z"/>
<path fill="#d0e11c" d="M356.3 109.9l6.8 4.1 4.1 2.7-6.8-4.3z"/>
<path fill="#3bbb75" d="M263.5 216.1l6.4-10.2 2.9-7-6.4 10.1z"/>
<path fill="#cae11f" d="M363.1 114l3.3 2.2 4.1 2.8-3.3-2.3z"/>
<path fill="#a0da39" d="M286.8 148.4l7.8-8.8 3.9-8-7.8 8.2z"/>
<path fill="#1fa188" d="M722.6 260.8l7.8-18.8 3.8-3.6-7.8 17.9z"/>
<path fill="#27808e" d="M203.5 293.3l7.8-5.5 5.1 21-7.7 7.2z"/>
<path fill="#b0dd2f" d="M290.7 139.8l7.8-8.2 4-7.1-7.9 7.4z"/>
<path fill="#26828e" d="M154.9 307.8l4-14.1 4.2-2.1-4.2 10.7z"/>
<path fill="#482979" d="M609.8 452.6l5-22 4.6-33.1-4.6 6.4z"/>
<path fill="#69cd5b" d="M434.3 170.6l6.8 1.2 3.9 4.6-6.8-1.1z"/>
<path fill="#95d840" d="M393.3 141.7l6.8 6.6 4.1 3.7-6.9-7z"/>
<path fill="#35b779" d="M604.6 215.9l7-4.2 4.2-.7-7.1 3.5z"/>
<path fill="#40bd72" d="M266.4 209l6.4-10.1 1-2.4-6.4 10z"/>
<path fill="#35b779" d="M622.7 211.7l6.8 4.6 3.7-.1-6.8-5.4z"/>
<path fill="#26ad81" d="M146.5 233.3l2.2 2.8 4-8.1-2.2-2.9z"/>
<path fill="#27ad81" d="M568.8 230.1l7.1-10.1 3.7 7.5-7.2 13.1z"/>
<path fill="#24aa83" d="M138.1 237.5l4.9 7 3.5-11.2-4.8-6.6z"/>
<path fill="#22a785" d="M254.6 251.2l6.4-9.4 3.8-12.8-6.4 8.6z"/>
<path fill="#48c16e" d="M267.4 206.5l6.4-10 3.9-9.3-6.4 9.6z"/>
<path fill="#2a778e" d="M118.5 304.4l3.6-2.2 5.1 23.1-3.5 4.3z"/>
<path fill="#63cb5f" d="M461.2 176.6l4.3.1 3.9 3.8-4.3-.2z"/>
<path fill="#287d8e" d="M106.4 293.9l2.3 3.7 5.1 23.3-2.3-5.2z"/>
<path fill="#297a8e" d="M299.9 312.3l7.2 21.1 3.5-28.8-7.1-13.7z"/>
<path fill="#1f948c" d="M648.3 255.6l6.6 12.2 3 19.2-6.4-17z"/>
<path fill="#2db27d" d="M745.3 229.9l7.7-14.3 2.4-1.1-7.7 13.9z"/>
<path fill="#2fb47c" d="M145.6 218.6l4.9 6.5 4.2-4.9-4.9-6.7z"/>
<path fill="#26828e" d="M224.2 302.2l6.1-15.4 3.1 7.5-6 19.3z"/>
<path fill="#2c738e" d="M284.7 309.8l7.5 29.2 3.9-8.3-7.4-26.3z"/>
<path fill="#2ab07f" d="M579.6 227.5l7.1-10.2 3.7 4.3-7.2 12z"/>
<path fill="#2c728e" d="M320.8 346l6.4-15.7 3.5-26.9-6.5 9z"/>
<path fill="#e2e418" d="M331.9 104.1l6.8.3 4 .6-6.7-.8z"/>
<path fill="#a2da37" d="M386.4 134.9l6.9 6.8 4 3.3-6.8-7.1z"/>
<path fill="#228b8d" d="M167.2 287.7l6.4-5.9 4.3 1.8-6.6.1z"/>
<path fill="#29af7f" d="M632.2 223l4.4 7.2 4 2.4-4.4-7.8z"/>
<path fill="#1f9f88" d="M718.8 265.7l7.8-20.2 3.8-3.5-7.8 18.8z"/>
<path fill="#1e9c89" d="M253.6 271.1l6.2-12.8 3.8-12.6-6.4 10.2z"/>
<path fill="#2ab07f" d="M141.7 226.7l4.8 6.6 4-8.2-4.9-6.5z"/>
<path fill="#22a785" d="M635.5 231l6.6 14.2 3.2 4.9-6.5-15.6z"/>
<path fill="#56c667" d="M271.3 196.8l6.4-9.6 3.9-9.3-6.5 8.9z"/>
<path fill="#42be71" d="M499.8 194.1l6.7 7.2 3.8 10.9-6.7-9.3z"/>
<path fill="#28ae80" d="M540.6 222.6l7-3 3.6 15.2-7 5.1z"/>
<path fill="#d8e219" d="M310.5 113.4l6.6-3.5 4-3-6.6 2.8z"/>
<path fill="#3bbb75" d="M760.3 212.9l6.1-10 3.6-.9-6.1 10.6z"/>
<path fill="#34618d" d="M315.6 361.2l6.1-28.6 3.9 2.7-6 33z"/>
<path fill="#69cd5b" d="M441.1 171.8l6.8.4 3.9 4.5-6.8-.3z"/>
<path fill="#287d8e" d="M144.3 307.5l1.6-6.5 4.6 6.5-1.5 7.3z"/>
<path fill="#28ae80" d="M558.2 227.5l7-8.1 3.6 10.7-7 11.4z"/>
<path fill="#26818e" d="M152.1 308.4l4-15.2 2.8.5-4 14.1z"/>
<path fill="#63cb5f" d="M465.5 176.7l6.8.8 3.9 4.1-6.8-1.1z"/>
<path fill="#355e8d" d="M304.7 357.4l6.3-16 1.5 7.3-6.2 19.7z"/>
<path fill="#e2e418" d="M321.1 106.9l6.7-1.6 4.1-1.2-6.7 1z"/>
<path fill="#b0dd2f" d="M379.6 128.4l6.8 6.5 4.1 3-6.8-6.9z"/>
<path fill="#2db27d" d="M743.5 231.1l7.7-14.5 1.8-1-7.7 14.3z"/>
<path fill="#65cb5e" d="M275.1 186.8l6.5-8.9 3.9-9.2-6.5 8.2z"/>
<path fill="#1fa187" d="M638.6 238.3l6.5 14.9 3.4 9.8-6.4-17.8z"/>
<path fill="#31b57b" d="M590.4 221.6l7.1-8 3.7 1.9-7.1 8.6z"/>
<path fill="#472c7a" d="M597.7 389.1l8.9 41.5 1.9 35.7-8.1-71.7z"/>
<path fill="#423f85" d="M390.4 401.1l7.2 27.2 3.4-43.4-7.1-12.7z"/>
<path fill="#287c8e" d="M288.7 304.4l7.4 26.3 3.8-18.4-7.2-20.3z"/>
<path fill="#e2e418" d="M338.7 104.4l6.7 1.4 4.1 1.1-6.8-1.9z"/>
<path fill="#46337f" d="M382.2 387.5l7.1 15.8 4.5 43-7.3-37.3z"/>
<path fill="#29af7f" d="M258.4 237.6l6.4-8.6 3.8-11.4-6.4 8.4z"/>
<path fill="#297b8e" d="M133 310.8l5.7-17.3 5.6 14-5.3 24.9z"/>
<path fill="#38b977" d="M611.6 211.7l7-.1 4.1.1-6.9-.7z"/>
<path fill="#4ec36b" d="M492.8 187.7l7 6.4 3.8 8.8-6.9-8.3z"/>
<path fill="#bade28" d="M374.7 124l4.9 4.4 4.1 2.6-4.9-4.5z"/>
<path fill="#2e6e8e" d="M323.5 355.9l6.1-28.5 3.9-17.1-6.3 20z"/>
<path fill="#21918c" d="M696.5 283.8l7.9-21.7 3 5.9-8 25.1z"/>
<path fill="#4ec36b" d="M773.6 201.9l9.3-16.7 3.3-.8-9.4 18.7z"/>
<path fill="#75d054" d="M279 176.9l6.5-8.2 3.9-9.2-6.5 7.5z"/>
<path fill="#31b57b" d="M625.4 215.3l6.8 7.7 4 1.8-6.7-8.5z"/>
<path fill="#d2e21b" d="M306.5 118.4l6.6-4.2 4-4.3-6.6 3.5z"/>
<path fill="#1e9d89" d="M715 269.8l7.9-21.7 3.7-2.6-7.8 20.2z"/>
<path fill="#60ca60" d="M472.3 177.5l6.9 1.9 3.9 4.7-6.9-2.5z"/>
<path fill="#c2df23" d="M372.7 122.3l2 1.7 4.1 2.5-2-1.9z"/>
<path fill="#37b878" d="M601.2 215.5l7.1-4.4 3.3.6-7 4.2z"/>
<path fill="#26828e" d="M101.3 283.7l5.1 10.2 5.1 21.8-5.3-14z"/>
<path fill="#81d34d" d="M409.8 155.6l6.8 4.3 4 5-6.8-4.6z"/>
<path fill="#2db27d" d="M741.6 232.4l7.7-14.7 1.9-1.1-7.7 14.5z"/>
<path fill="#6ccd5a" d="M447.9 172.2l6-.1 4 4.6-6.1 0z"/>
<path fill="#dfe318" d="M345.4 105.8l6.8 2.7 4.1 1.4-6.8-3z"/>
<path fill="#60ca60" d="M789.9 186.4l7.9-14.8 3.2 5.2-7.9 15.2z"/>
<path fill="#2c738e" d="M280.6 307.9l7.5 26.9 4.1 4.2-7.5-29.2z"/>
<path fill="#8bd646" d="M402.9 150.5l6.9 5.1 4 4.7-6.8-5.7z"/>
<path fill="#7cd250" d="M416.6 159.9l6.8 3.3 4 5.2-6.8-3.5z"/>
<path fill="#c8e020" d="M365.9 116.8l6.8 5.5 4.1 2.3-6.8-5.7z"/>
<path fill="#218e8d" d="M678.1 275l4.7-6.2 3 18.6-4.8 9.2z"/>
<path fill="#46327e" d="M389.3 403.3l6.5-12.5 4.2 22.1-6.2 33.4z"/>
<path fill="#26828e" d="M150.5 307.5l4-15.3 1.6 1-4 15.2z"/>
<path fill="#56c667" d="M486 182.7l6.8 5 3.9 6.9-6.8-6.2z"/>
<path fill="#37b878" d="M618.6 211.6l6.8 3.7 4.1 1-6.8-4.6z"/>
<path fill="#423f85" d="M397.6 428.3l6.4-24 3.6-30-6.6 10.6z"/>
<path fill="#86d549" d="M282.9 167l6.5-7.5 4.6-10.6-6.5 6.8z"/>
<path fill="#218e8d" d="M173.6 281.8l6.5-2.8 4.6 7.2-6.8-2.6z"/>
<path fill="#5ec962" d="M479.2 179.4l6.8 3.3 3.9 5.7-6.8-4.3z"/>
<path fill="#dae319" d="M352.2 108.5l6.9 3.7 4 1.8-6.8-4.1z"/>
<path fill="#d0e11c" d="M362.3 114.3l3.6 2.5 4.1 2.1-3.6-2.7z"/>
<path fill="#21a685" d="M257.2 255.9l6.4-10.2 3.8-12.4-6.4 8.5z"/>
<path fill="#93d741" d="M398.5 146.8l4.4 3.7 4.1 4.1-4.4-4z"/>
<path fill="#d5e21a" d="M359.1 112.2l3.2 2.1 4.1 1.9-3.3-2.2z"/>
<path fill="#35b779" d="M262.2 226l6.4-8.4 4.6-12.3-6.4 8.3z"/>
<path fill="#228c8d" d="M163.1 291.6l6.1-11.1 4.4 1.3-6.4 5.9z"/>
<path fill="#cae11f" d="M302.5 124.5l6.6-4.8 4-5.5-6.6 4.2z"/>
<path fill="#28ae80" d="M633.3 227.1l2.2 3.9 3.3 3.5-2.2-4.3z"/>
<path fill="#e5e419" d="M327.8 105.3l6.8-.3 4.1-.6-6.8-.3z"/>
<path fill="#2f6c8e" d="M283.6 321l7.3 22.4 1.6 8.5-7.4-25.6z"/>
<path fill="#77d153" d="M423.4 163.2l6.9 2.2 4 5.2-6.9-2.2z"/>
<path fill="#98d83e" d="M396.1 144.7l2.4 2.1 4.1 3.8-2.5-2.3z"/>
<path fill="#23898e" d="M233.4 294.3l6.1-15.3 4.2 4.5-6 18.6z"/>
<path fill="#98d83e" d="M287.5 155.7l6.5-6.8 3.2-7-6.5 6.4z"/>
<path fill="#e2e418" d="M317.1 109.9l6.7-2.2 4-2.4-6.7 1.6z"/>
<path fill="#3dbc74" d="M756.7 214l6.1-9.9 3.6-1.2-6.1 10z"/>
<path fill="#69cd5b" d="M801 176.8l7.7-11.5 3 9.3-7.7 11.8z"/>
<path fill="#c0df25" d="M298.5 131.6l6.6-5.3 4-6.6-6.6 4.8z"/>
<path fill="#6ccd5a" d="M453.9 172.1l3.3 0 4 4.5-3.3.1z"/>
<path fill="#a5db36" d="M290.7 148.3l6.5-6.4 4-8.1-6.6 5.8z"/>
<path fill="#443983" d="M601.4 393.2l8.4 59.4 5-48.7-9.2-29.6z"/>
<path fill="#a0da39" d="M389.2 138.5l6.9 6.2 4 3.6-6.8-6.6z"/>
<path fill="#b5de2b" d="M294.6 139.6l6.6-5.8 3.9-7.5-6.6 5.3z"/>
<path fill="#40bd72" d="M266.8 213.6l6.4-8.3 3.2-7.7-6.5 8.3z"/>
<path fill="#2cb17e" d="M737.9 235.2l7.7-15.2 3.7-2.3-7.7 14.7z"/>
<path fill="#1fa088" d="M641.7 242.6l6.6 13 3.2 14.4-6.4-16.8z"/>
<path fill="#218e8d" d="M180.1 279l3.7-.7 4.7 10.2-3.8-2.3z"/>
<path fill="#1f978b" d="M252.1 278.9l6.3-12.6 3.9-7.6-6.3 11.2z"/>
<path fill="#277e8e" d="M122.1 302.2l6.2-9 4.7 17.6-5.8 14.5z"/>
<path fill="#77d153" d="M430.3 165.4l6.8 1.2 4 5.2-6.8-1.2z"/>
<path fill="#1e9d89" d="M711.3 271.1l7.9-22.3 3.7-.7-7.9 21.7z"/>
<path fill="#2eb37c" d="M547.6 219.6l6.9-4.8 3.7 12.7-7 7.3z"/>
<path fill="#4cc26c" d="M269.9 205.9l6.5-8.3 2.9-6.8-6.5 8.1z"/>
<path fill="#2db27d" d="M628.9 220.6l4.4 6.5 3.3 3.1-4.4-7.2z"/>
<path fill="#23888e" d="M211.3 287.8l6.4-8.3 4.8 16.8-6.1 12.5z"/>
<path fill="#25848e" d="M317.5 313l2.4.9 3.4-29.6-2.3-.6z"/>
<path fill="#addc30" d="M382.4 132.3l6.8 6.2 4.1 3.2-6.9-6.8z"/>
<path fill="#6ece58" d="M457.2 172.1l4.4.1 3.9 4.5-4.3-.1z"/>
<path fill="#23888e" d="M222.5 296.3l6.2-13.6 1.6 4.1-6.1 15.4z"/>
<path fill="#e7e419" d="M334.6 105l6.8 1 4-.2-6.7-1.4z"/>
<path fill="#218e8d" d="M183.8 278.3l2.9-.3 4.8 12.2-3-1.7z"/>
<path fill="#52c569" d="M272.8 198.9l6.5-8.1 1-2.3-6.5 8z"/>
<path fill="#20938c" d="M247.9 283.8l6.3-13 4.2-4.5-6.3 12.6z"/>
<path fill="#52c569" d="M770 202l9.2-14.9 3.7-1.9-9.3 16.7z"/>
<path fill="#24868e" d="M310.6 304.6l6.9 8.4 3.5-29.3-6.9-5.2z"/>
<path fill="#29af7f" d="M261 241.8l6.4-8.5 3.8-11.8-6.4 7.5z"/>
<path fill="#31678e" d="M293 327.7l2.4 1.1 5 31.7-2.4-1.7z"/>
<path fill="#1f9e89" d="M256 269.9l6.3-11.2 3.9-9.8-6.4 9.4z"/>
<path fill="#3bbb75" d="M608.3 211.1l6.9-.6 3.4 1.1-7 .1z"/>
<path fill="#dde318" d="M313.1 114.2l6.7-2.8 4-3.7-6.7 2.2z"/>
<path fill="#5ac864" d="M273.8 196.5l6.5-8 3.9-9-6.5 7.7z"/>
<path fill="#23888e" d="M292.7 292l7.2 20.3 3.6-21.4-7.1-14.5z"/>
<path fill="#3fbc73" d="M755.4 214.5l6.1-9.9 1.3-.5-6.1 9.9z"/>
<path fill="#bade28" d="M375.5 126.3l6.9 6 4 2.6-6.8-6.5z"/>
<path fill="#25848e" d="M319.9 313.9l4.3-1.5 3.5-28.9-4.4.8z"/>
<path fill="#26ad81" d="M631.9 226.1l6.7 12.2 3.5 6.9-6.6-14.2z"/>
<path fill="#218e8d" d="M186.7 278l6.6-.8 4.9 16.1-6.7-3.1z"/>
<path fill="#3bbb75" d="M516.3 202.4l8.3 4.5 3.7 14.5-8.2-5.7z"/>
<path fill="#e7e419" d="M323.8 107.7l6.7-.8 4.1-1.9-6.8.3z"/>
<path fill="#34b679" d="M575.9 220l7.1-8.2 3.7 5.5-7.1 10.2z"/>
<path fill="#67cc5c" d="M277.7 187.2l6.5-7.7 3.9-8.8-6.5 7.2z"/>
<path fill="#38b977" d="M586.7 217.3l7.1-7 3.7 3.3-7.1 8z"/>
<path fill="#3bbb75" d="M597.5 213.6l7-4.3 3.8 1.8-7.1 4.4z"/>
<path fill="#e5e419" d="M341.4 106l6.8 2.2 4 .3-6.8-2.7z"/>
<path fill="#77d153" d="M437.1 166.6l6.8.5 4 5.1-6.8-.4z"/>
<path fill="#35b779" d="M622.1 213.7l6.8 6.9 3.3 2.4-6.8-7.7z"/>
<path fill="#c5e021" d="M370.7 122.3l4.8 4 4.1 2.1-4.9-4.4z"/>
<path fill="#42be71" d="M509.5 197.2l6.8 5.2 3.8 13.3-6.8-6.9z"/>
<path fill="#228d8d" d="M158.9 293.7l5.9-15.1 4.4 1.9-6.1 11.1z"/>
<path fill="#6ece58" d="M461.6 172.2l6.8.6 3.9 4.7-6.8-.8z"/>
<path fill="#2cb17e" d="M734.2 238.4l7.7-15.8 3.7-2.6-7.7 15.2z"/>
<path fill="#38b977" d="M524.6 206.9l4.9 1.4 3.7 14.7-4.9-1.6z"/>
<path fill="#31688e" d="M295.4 328.8l4.4-1.2 4.9 29.8-4.3 3.1z"/>
<path fill="#cae11f" d="M368.7 120.7l2 1.6 4 1.7-2-1.7z"/>
<path fill="#77d153" d="M281.6 177.9l6.5-7.2 3.9-8.7-6.5 6.7z"/>
<path fill="#3bbb75" d="M615.2 210.5l6.9 3.2 3.3 1.6-6.8-3.7z"/>
<path fill="#24868e" d="M145.9 301l4-14.3 4.6 5.5-4 15.3z"/>
<path fill="#30698e" d="M312.5 348.7l6.3-22.8 2.9 6.7-6.1 28.6z"/>
<path fill="#d8e219" d="M309.1 119.7l6.6-3.3 4.1-5-6.7 2.8z"/>
<path fill="#dfe318" d="M348.2 108.2l6.8 3.3 4.1.7-6.9-3.7z"/>
<path fill="#d0e11c" d="M361.8 115.7l6.9 5 4 1.6-6.8-5.5z"/>
<path fill="#3e4989" d="M380.6 369.5l7.2 41.1 2.6-9.5-7.2-36.5z"/>
<path fill="#21a585" d="M259.8 258.3l6.4-9.4 3.9-11-6.5 7.8z"/>
<path fill="#3fbc73" d="M753 215.6l6.1-10 2.4-1-6.1 9.9z"/>
<path fill="#34b679" d="M565.2 219.4l7.1-7.5 3.6 8.1-7.1 10.1z"/>
<path fill="#dae319" d="M355 111.5l3.3 1.9 4 .9-3.2-2.1z"/>
<path fill="#d8e219" d="M358.3 113.4l3.5 2.3 4.1 1.1-3.6-2.5z"/>
<path fill="#34b679" d="M264.8 229l6.4-7.5 3.9-10.9-6.5 7z"/>
<path fill="#2e6d8e" d="M286 318.3l7 9.4 5 31.1-7.1-15.4z"/>
<path fill="#4cc26c" d="M502.7 191.4l6.8 5.8 3.8 11.6-6.8-7.5z"/>
<path fill="#86d549" d="M285.5 168.7l6.5-6.7 4-8.6-6.6 6.1z"/>
<path fill="#3f4889" d="M379.2 369.2l7.3 39.8 1.3 1.6-7.2-41.1z"/>
<path fill="#218e8d" d="M303.5 290.9l7.1 13.7 3.5-26.1-7-8.9z"/>
<path fill="#20938c" d="M243.7 283.5l6.3-12 4.2-.7-6.3 13z"/>
<path fill="#69cd5b" d="M786.2 184.4l7.8-13.5 3.8.7-7.9 14.8z"/>
<path fill="#29798e" d="M277.7 302.9l7.4 23.4 3 8.5-7.5-26.9z"/>
<path fill="#cde11d" d="M305.1 126.3l6.7-3.9 3.9-6-6.6 3.3z"/>
<path fill="#1f998a" d="M657.6 257.2l7.3 3.2 3 20.2-7.2-4.5z"/>
<path fill="#98d83e" d="M289.4 159.5l6.6-6.1 4.6-9.9-6.6 5.4z"/>
<path fill="#218f8d" d="M193.3 277.2l5.2-1.6 5 17.7-5.3 0z"/>
<path fill="#6ece58" d="M468.4 172.8l6.9 1.5 3.9 5.1-6.9-1.9z"/>
<path fill="#1e9b8a" d="M653.5 253.4l4.1 3.8 3.1 18.9-4-5.4z"/>
<path fill="#38b977" d="M529.5 208.3l7.5.2 3.6 14.1-7.4.4z"/>
<path fill="#90d743" d="M405.7 151.1l6.9 3.9 4 4.9-6.8-4.3z"/>
<path fill="#98d83e" d="M398.9 146.5l6.8 4.6 4.1 4.5-6.9-5.1z"/>
<path fill="#e7e419" d="M330.5 106.9l6.8.4 4.1-1.3-6.8-1z"/>
<path fill="#7ad151" d="M443.9 167.1l6.1.1 3.9 4.9-6 .1z"/>
<path fill="#25858e" d="M279.5 294l5.2 15.8 4-5.4-5.2-14.7z"/>
<path fill="#238a8d" d="M283.5 289.7l5.2 14.7 4-12.4-5.1-12z"/>
<path fill="#453882" d="M613.8 433.3l8.1-44.5 1-1.2-8.1 43z"/>
<path fill="#52c569" d="M766.4 202.9l9.2-13.7 3.6-2.1-9.2 14.9z"/>
<path fill="#a8db34" d="M294 148.9l6.6-5.4 3.2-6.6-6.6 5z"/>
<path fill="#56c667" d="M496 185.9l6.7 5.5 3.8 9.9-6.7-7.2z"/>
<path fill="#c2df23" d="M301.2 133.8l6.6-4.5 4-6.9-6.7 3.9z"/>
<path fill="#a0da39" d="M394.5 143.2l4.4 3.3 4 4-4.4-3.7z"/>
<path fill="#b5de2b" d="M297.2 141.9l6.6-5 4-7.6-6.6 4.5z"/>
<path fill="#e5e419" d="M319.8 111.4l6.7-1.4 4-3.1-6.7.8z"/>
<path fill="#20928c" d="M169.2 280.5l6.3-7.4 4.6 5.9-6.5 2.8z"/>
<path fill="#8bd646" d="M412.6 155l6.8 2.9 4 5.3-6.8-3.3z"/>
<path fill="#2eb37c" d="M629.7 222.7l2.2 3.4 3.6 4.9-2.2-3.9z"/>
<path fill="#a5db36" d="M392 141.4l2.5 1.8 4 3.6-2.4-2.1z"/>
<path fill="#3fbc73" d="M751.2 216.6l6.1-10.2 1.8-.8-6.1 10z"/>
<path fill="#42be71" d="M268.6 217.6l6.5-7 4.7-12-6.6 6.7z"/>
<path fill="#2ab07f" d="M730.4 242l7.8-16.6 3.7-2.8-7.7 15.8z"/>
<path fill="#27808e" d="M327.2 330.3l6.3-20 3.7-20.2-6.5 13.3z"/>
<path fill="#1fa088" d="M707.4 268l7.9-21.2 3.9 2-7.9 22.3z"/>
<path fill="#1f9e89" d="M651.7 251.3l1.8 2.1 3.2 17.3-1.8-2.9z"/>
<path fill="#25ab82" d="M635.1 230.6l6.6 12 3.4 10.6-6.5-14.9z"/>
<path fill="#6ccd5a" d="M475.3 174.3l6.8 2.7 3.9 5.7-6.8-3.3z"/>
<path fill="#27ad81" d="M263.6 245.7l6.5-7.8 3.8-11.2-6.5 6.6z"/>
<path fill="#addc30" d="M385.2 135.9l6.8 5.5 4.1 3.3-6.9-6.2z"/>
<path fill="#5ec962" d="M489 180.8l7 5.1 3.8 8.2-7-6.4z"/>
<path fill="#21908d" d="M230.3 286.8l6.2-12.7 3 4.9-6.1 15.3z"/>
<path fill="#67cc5c" d="M482.1 177l6.9 3.8 3.8 6.9-6.8-5z"/>
<path fill="#24878e" d="M138.7 293.5l1.7-5 5.5 12.5-1.6 6.5z"/>
<path fill="#86d549" d="M419.4 157.9l6.8 2.1 4.1 5.4-6.9-2.2z"/>
<path fill="#40bd72" d="M604.5 209.3l7-.8 3.7 2-6.9.6z"/>
<path fill="#7ad151" d="M450 167.2l3.3 0 3.9 4.9-3.3 0z"/>
<path fill="#e7e419" d="M337.3 107.3l6.8 1.7 4.1-.8-6.8-2.2z"/>
<path fill="#b8de29" d="M378.3 130.4l6.9 5.5 4 2.6-6.8-6.2z"/>
<path fill="#1f988b" d="M682.8 268.8l7.5-12 3.1 13.7-7.6 16.9z"/>
<path fill="#218f8d" d="M156.1 293.2l5.8-16.5 2.9 1.9-5.9 15.1z"/>
<path fill="#50c46a" d="M273.2 205.3l6.6-6.7 3.1-7.5-6.5 6.5z"/>
<path fill="#23898e" d="M324.2 312.4l6.5-9 3.7-25.3-6.7 5.4z"/>
<path fill="#1f9a8a" d="M693.4 270.5l7.7-17.2 3.3 8.8-7.9 21.7z"/>
<path fill="#34b679" d="M625.2 217l4.5 5.7 3.6 4.4-4.4-6.5z"/>
<path fill="#38b977" d="M554.5 214.8l7.1-5.4 3.6 10-7 8.1z"/>
<path fill="#3fbc73" d="M749.3 217.7l6.1-10.4 1.9-.9-6.1 10.2z"/>
<path fill="#dfe318" d="M315.7 116.4l6.8-2 4-4.4-6.7 1.4z"/>
<path fill="#c2df23" d="M371.5 125l6.8 5.4 4.1 1.9-6.9-6z"/>
<path fill="#5ac864" d="M276.4 197.6l6.5-6.5 2.9-6.7-6.5 6.4z"/>
<path fill="#20938c" d="M287.6 280l5.1 12 3.7-15.6-5-9z"/>
<path fill="#e5e419" d="M344.1 109l6.8 2.8 4.1-.3-6.8-3.3z"/>
<path fill="#60ca60" d="M279.3 190.8l6.5-6.4 1-2.2-6.5 6.3z"/>
<path fill="#1fa287" d="M645 242.4l6.7 8.9 3.2 16.5-6.6-12.2z"/>
<path fill="#1f9a8a" d="M664.9 260.4l10.1-3.5 3.1 18.1-10.2 5.6z"/>
<path fill="#7cd250" d="M797.8 171.6l7.7-11 3.2 4.7-7.7 11.5z"/>
<path fill="#e7e419" d="M326.5 110l6.7 0 4.1-2.7-6.8-.4z"/>
<path fill="#86d549" d="M426.2 160l6.9 1.3 4 5.3-6.8-1.2z"/>
<path fill="#cde11d" d="M366.6 121.4l4.9 3.6 4 1.3-4.8-4z"/>
<path fill="#7cd250" d="M453.3 167.2l4.3.2 4 4.8-4.4-.1z"/>
<path fill="#32b67a" d="M267.4 233.3l6.5-6.6 3.9-11-6.6 5.8z"/>
<path fill="#1f968b" d="M296.4 276.4l7.1 14.5 3.6-21.3-6.9-9.9z"/>
<path fill="#3dbc74" d="M537 208.5l6.9-1.6 3.7 12.7-7 3z"/>
<path fill="#d2e21b" d="M364.6 120l2 1.4 4.1.9-2-1.6z"/>
<path fill="#69cd5b" d="M280.3 188.5l6.5-6.3 3.9-8.7-6.5 6z"/>
<path fill="#dfe318" d="M350.9 111.8l3.3 1.7 4.1-.1-3.3-1.9z"/>
<path fill="#29af7f" d="M726.6 245.5l7.8-17.6 3.8-2.5-7.8 16.6z"/>
<path fill="#1fa088" d="M258.4 266.3l6.5-6.5 4-7.2-6.6 6.1z"/>
<path fill="#d8e219" d="M357.7 115.6l6.9 4.4 4.1.7-6.9-5z"/>
<path fill="#25858e" d="M275.4 292.8l5.2 15.1 4.1 1.9-5.2-15.8z"/>
<path fill="#3bbb75" d="M618.4 211.1l6.8 5.9 3.7 3.6-6.8-6.9z"/>
<path fill="#dde318" d="M354.2 113.5l3.5 2.1 4.1.1-3.5-2.3z"/>
<path fill="#42be71" d="M593.8 210.3l7-3.9 3.7 2.9-7 4.3z"/>
<path fill="#40bd72" d="M611.5 208.5l6.9 2.6 3.7 2.6-6.9-3.2z"/>
<path fill="#54c568" d="M762.8 204.1l9.1-13.2 3.7-1.7-9.2 13.7z"/>
<path fill="#38588c" d="M383.2 364.6l7.2 36.5 3.5-28.9-7-24.5z"/>
<path fill="#d8e219" d="M311.8 122.4l6.7-2.5 4-5.5-6.8 2z"/>
<path fill="#443a83" d="M604.4 397.4l4.6-5 2.4 27.1-4.8 11.1z"/>
<path fill="#21a585" d="M262.3 258.7l6.6-6.1 3.9-9.2-6.6 5.5z"/>
<path fill="#77d153" d="M284.2 179.5l6.5-6 4-8.4-6.6 5.6z"/>
<path fill="#6ece58" d="M782.9 185.2l7.7-12.2 3.4-2.1-7.8 13.5z"/>
<path fill="#20928c" d="M281.4 284.6l2.1 5.1 4.1-9.7-2.1-4.2zM198.5 275.6l7.9-4.9 4.9 17.1-7.8 5.5z"/>
<path fill="#3e4989" d="M401.4 414.4l6.5-40.4 2.6-5.6-6.5 35.9z"/>
<path fill="#86d549" d="M288.1 170.7l6.6-5.6 3.9-8.2-6.6 5.1z"/>
<path fill="#1f968b" d="M175.5 273.1l3.7-2.9 4.6 8.1-3.7.7z"/>
<path fill="#3f4788" d="M400 412.9l6.5-38.9 1.4 0-6.5 40.4z"/>
<path fill="#1e9d89" d="M254.2 270.8l6.5-6.3 4.2-4.7-6.5 6.5z"/>
<path fill="#433d84" d="M611.4 419.5l7.8-35.2 2.7 4.5-8.1 44.5z"/>
<path fill="#2d708e" d="M299.8 327.6l6.5-8.7 4.7 22.5-6.3 16z"/>
<path fill="#40bd72" d="M583 211.8l7.1-5.7 3.7 4.2-7.1 7z"/>
<path fill="#cde11d" d="M307.8 129.3l6.7-3 4-6.4-6.7 2.5z"/>
<path fill="#218e8d" d="M277.3 288.5l2.2 5.5 4-4.3-2.1-5.1z"/>
<path fill="#95d840" d="M292 162l6.6-5.1 4-8.1-6.6 4.6z"/>
<path fill="#3fbc73" d="M745.6 220l6.2-10.7 3.6-2-6.1 10.4z"/>
<path fill="#21918c" d="M154.5 292.2l5.8-16.9 1.6 1.4-5.8 16.5z"/>
<path fill="#20928c" d="M217.7 279.5l6.3-9.4 4.7 12.6-6.2 13.6z"/>
<path fill="#1f968b" d="M239.5 279l6.3-10.1 4.2 2.6-6.3 12z"/>
<path fill="#7cd250" d="M457.6 167.4l6.9.5 3.9 4.9-6.8-.6z"/>
<path fill="#277f8e" d="M276.2 299.5l7.4 21.5 1.5 5.3-7.4-23.4z"/>
<path fill="#a5db36" d="M296 153.4l6.6-4.6 4.7-9.3-6.7 4z"/>
<path fill="#c0df25" d="M303.8 136.9l6.7-3.5 4-7.1-6.7 3z"/>
<path fill="#86d549" d="M433.1 161.3l6.8.7 4 5.1-6.8-.5z"/>
<path fill="#3fbc73" d="M271.2 221.5l6.6-5.8 3.9-10.5-6.6 5.4z"/>
<path fill="#404588" d="M614.8 430.6l8.1-43 4.2-16.7-7.7 26.6z"/>
<path fill="#e7e419" d="M333.2 110l6.8 1.1 4.1-2.1-6.8-1.7z"/>
<path fill="#25ac82" d="M266.2 248.9l6.6-5.5 3.9-10.3-6.6 4.8z"/>
<path fill="#b5de2b" d="M300.6 143.5l6.7-4 3.2-6.1-6.7 3.5z"/>
<path fill="#2d718e" d="M311 341.4l6.3-20 1.5 4.5-6.3 22.8z"/>
<path fill="#29798e" d="M278.9 303.3l7.1 15 4.9 25.1-7.3-22.4z"/>
<path fill="#2fb47c" d="M628.4 220.6l6.7 10 3.5 7.7-6.7-12.2z"/>
<path fill="#e2e418" d="M322.5 114.4l6.7-.6 4-3.8-6.7 0z"/>
<path fill="#1f998a" d="M285.5 275.8l2.1 4.2 3.8-12.6-2-3.3z"/>
<path fill="#228c8d" d="M110.1 280.1l2.7.6 5.7 23.7-2.6 0z"/>
<path fill="#218e8d" d="M103 274.6l7.1 5.5 5.8 24.3-7.2-6.8z"/>
<path fill="#40bd72" d="M572.3 211.9l7-6.1 3.7 6-7.1 8.2z"/>
<path fill="#238a8d" d="M128.3 293.2l6-12.1 4.4 12.4-5.7 17.3z"/>
<path fill="#54c568" d="M761.5 204.6l9.2-13.2 1.2-.5-9.1 13.2z"/>
<path fill="#297b8e" d="M325.6 335.3l6.3-24.8 4-6.1-6.3 23z"/>
<path fill="#28ae80" d="M722.9 248.1l7.8-18.4 3.7-1.8-7.8 17.6z"/>
<path fill="#1f948c" d="M228.7 282.7l6.3-11.4 1.5 2.8-6.2 12.7z"/>
<path fill="#1f988b" d="M179.2 270.2l2.7-1.9 4.8 9.7-2.9.3z"/>
<path fill="#e5e419" d="M340 111.1l6.8 2.3 4.1-1.6-6.8-2.8z"/>
<path fill="#addc30" d="M390.4 140.3l4.4 2.9 4.1 3.3-4.4-3.3z"/>
<path fill="#21918c" d="M100.8 271.9l2.2 2.7 5.7 23-2.3-3.7z"/>
<path fill="#a5db36" d="M394.8 143.2l6.9 3.9 4 4-6.8-4.6z"/>
<path fill="#b0dd2f" d="M388 138.7l2.4 1.6 4.1 2.9-2.5-1.8z"/>
<path fill="#4ec36b" d="M275.1 210.6l6.6-5.4 4.7-11.7-6.6 5.1z"/>
<path fill="#25ab82" d="M638.3 232.5l6.7 9.9 3.3 13.2-6.6-13z"/>
<path fill="#1e9b8a" d="M314.1 278.5l6.9 5.2 3.5-24.7-6.8-3.4z"/>
<path fill="#1f9e89" d="M291.4 267.4l5 9 3.8-16.7-5-6.5z"/>
<path fill="#1f978b" d="M164.8 278.6l6.2-10.6 4.5 5.1-6.3 7.4z"/>
<path fill="#a0da39" d="M401.7 147.1l6.8 3.4 4.1 4.5-6.9-3.9z"/>
<path fill="#b8de29" d="M381.1 134l6.9 4.7 4 2.7-6.8-5.5z"/>
<path fill="#2eb37c" d="M270.1 237.9l6.6-4.8 3.8-10.7-6.6 4.3z"/>
<path fill="#7cd250" d="M464.5 167.9l6.8 1.3 4 5.1-6.9-1.5z"/>
<path fill="#6ece58" d="M779.2 187.1l7.7-10.8 3.7-3.3-7.7 12.2z"/>
<path fill="#3b518b" d="M375 359.2l7.2 28.3 4.3 21.5-7.3-39.8z"/>
<path fill="#1f988b" d="M274.3 271.4l7.1 13.2 4.1-8.8-7-11z"/>
<path fill="#1f998a" d="M321 283.7l2.3.6 3.6-24.9-2.4-.4z"/>
<path fill="#dde318" d="M318.5 119.9l6.7-1.2 4-4.9-6.7.6z"/>
<path fill="#228d8d" d="M112.8 280.7l3.8-.8 5.5 22.3-3.6 2.2z"/>
<path fill="#e2e418" d="M346.8 113.4l3.3 1.4 4.1-1.3-3.3-1.7z"/>
<path fill="#c0df25" d="M374.2 129.3l6.9 4.7 4.1 1.9-6.9-5.5z"/>
<path fill="#89d548" d="M439.9 162l6.1.3 4 4.9-6.1-.1z"/>
<path fill="#1e9c89" d="M250 271.5l6.5-5.5 4.2-1.5-6.5 6.3z"/>
<path fill="#20a486" d="M704.4 262.1l7.8-19 3.1 3.7-7.9 21.2z"/>
<path fill="#48c16e" d="M600.8 206.4l7-.7 3.7 2.8-7 .8z"/>
<path fill="#3b528b" d="M614.8 403.9l4.6-6.4 4.8-37.2-4.6 2.8z"/>
<path fill="#dfe318" d="M350.1 114.8l3.6 1.7 4-.9-3.5-2.1z"/>
<path fill="#9bd93c" d="M408.5 150.5l6.9 2.7 4 4.7-6.8-2.9z"/>
<path fill="#cae11f" d="M367.4 124.6l6.8 4.7 4.1 1.1-6.8-5.4z"/>
<path fill="#1f9f88" d="M307.1 269.6l7 8.9 3.6-22.9-6.9-5.8z"/>
<path fill="#42be71" d="M543.9 206.9l7-3 3.6 10.9-6.9 4.8z"/>
<path fill="#dae319" d="M353.7 116.5l6.8 3.8 4.1-.3-6.9-4.4z"/>
<path fill="#5cc863" d="M279.8 198.6l6.6-5.1 3.1-7.4-6.6 5z"/>
<path fill="#37b878" d="M626.1 217.7l2.3 2.9 3.5 5.5-2.2-3.4z"/>
<path fill="#d2e21b" d="M362.5 121.5l4.9 3.1 4.1.4-4.9-3.6z"/>
<path fill="#e5e419" d="M329.2 113.8l6.8.6 4-3.3-6.8-1.1z"/>
<path fill="#1f9e89" d="M278.5 264.8l7 11 3.9-11.7-7-8.5z"/>
<path fill="#54c568" d="M759.1 205.6l9.2-13.2 2.4-1-9.2 13.2z"/>
<path fill="#d5e21a" d="M360.5 120.3l2 1.2 4.1-.1-2-1.4z"/>
<path fill="#3dbc74" d="M741.9 222.6l6.2-11.1 3.7-2.2-6.2 10.7z"/>
<path fill="#26828e" d="M329.6 327.4l6.3-23 4.1-12.3-6.5 18.2z"/>
<path fill="#20a386" d="M264.9 259.8l6.7-.4 4-7.8-6.7 1z"/>
<path fill="#218f8d" d="M140.4 288.5l4.1-11.4 5.4 9.6-4 14.3z"/>
<path fill="#34618d" d="M393.9 372.2l7.1 12.7 3.7-38.6-7-6.8z"/>
<path fill="#218e8d" d="M273.3 287.5l2.1 5.3 4.1 1.2-2.2-5.5z"/>
<path fill="#44bf70" d="M561.6 209.4l7-5.3 3.7 7.8-7.1 7.5z"/>
<path fill="#67cc5c" d="M282.9 191.1l6.6-5 2.9-6.5-6.6 4.8z"/>
<path fill="#d2e21b" d="M314.5 126.3l6.7-1.8 4-5.8-6.7 1.2z"/>
<path fill="#23a983" d="M268.9 252.6l6.7-1 3.9-9.5-6.7 1.3z"/>
<path fill="#7ad151" d="M471.3 169.2l6.9 2.2 3.9 5.6-6.8-2.7z"/>
<path fill="#404688" d="M595 372.7l9.4 24.7 2.2 33.2-8.9-41.5z"/>
<path fill="#1f9f88" d="M675 256.9l4.7-4.1 3.1 16-4.7 6.2z"/>
<path fill="#1f948c" d="M270.2 274.4l7.1 14.1 4.1-3.9-7.1-13.2z"/>
<path fill="#1f9a8a" d="M323.3 284.3l4.4-.8 3.6-24.5-4.4.4z"/>
<path fill="#1fa287" d="M289.4 264.1l2 3.3 3.8-14.2-2-2.3z"/>
<path fill="#6ece58" d="M285.8 184.4l6.6-4.8 1-2.2-6.6 4.8z"/>
<path fill="#3aba76" d="M273.9 226.7l6.6-4.3 3.9-10.7-6.6 4z"/>
<path fill="#98d83e" d="M415.4 153.2l6.8 1.9 4 4.9-6.8-2.1z"/>
<path fill="#1f958b" d="M95.8 264.4l5 7.5 5.6 22-5.1-10.2z"/>
<path fill="#23898e" d="M272.5 289.2l5.2 13.7 2.9 5-5.2-15.1z"/>
<path fill="#5ac864" d="M505.7 187.4l6.8 4 3.8 11-6.8-5.2z"/>
<path fill="#89d548" d="M446 162.3l3.3.1 4 4.8-3.3 0z"/>
<path fill="#3bbb75" d="M621.6 212.9l4.5 4.8 3.6 5-4.5-5.7z"/>
<path fill="#1fa088" d="M260.7 264.5l6.7.3 4.2-5.4-6.7.4z"/>
<path fill="#77d153" d="M286.8 182.2l6.6-4.8 4-8.4-6.7 4.5z"/>
<path fill="#60ca60" d="M498.8 182.9l6.9 4.5 3.8 9.8-6.8-5.8z"/>
<path fill="#86d549" d="M794 170.9l7.6-10.1 3.9-.2-7.7 11z"/>
<path fill="#297a8e" d="M321.7 332.6l6.2-22.6 4 .5-6.3 24.8z"/>
<path fill="#c8e020" d="M310.5 133.4l6.7-2.4 4-6.5-6.7 1.8z"/>
<path fill="#54c568" d="M512.5 191.4l8.4 3.7 3.7 11.8-8.3-4.5z"/>
<path fill="#77d153" d="M478.2 171.4l6.9 3.1 3.9 6.3-6.9-3.8z"/>
<path fill="#1f9a8a" d="M181.9 268.3l6.6-3.6 4.8 12.5-6.6.8z"/>
<path fill="#86d549" d="M290.7 173.5l6.7-4.5 3.9-8.1-6.6 4.2z"/>
<path fill="#69cd5b" d="M492.1 178.6l6.7 4.3 3.9 8.5-6.7-5.5z"/>
<path fill="#bddf26" d="M307.3 139.5l6.7-2.8 3.2-5.7-6.7 2.4z"/>
<path fill="#48c16e" d="M607.8 205.7l6.9 2.2 3.7 3.2-6.9-2.6z"/>
<path fill="#93d741" d="M294.7 165.1l6.6-4.2 4-7.8-6.7 3.8z"/>
<path fill="#e5e419" d="M336 114.4l6.8 1.6 4-2.6-6.8-2.3z"/>
<path fill="#70cf57" d="M485.1 174.5l7 4.1 3.9 7.3-7-5.1z"/>
<path fill="#20a486" d="M300.2 259.7l6.9 9.9 3.7-19.8-6.9-6.7z"/>
<path fill="#1fa287" d="M274.9 261.3l3.6 3.5 3.9-9.2-3.6-2.7z"/>
<path fill="#29af7f" d="M272.8 243.4l6.7-1.3 3.8-10.6-6.6 1.6z"/>
<path fill="#20a486" d="M271.6 259.4l3.3 1.9 3.9-8.4-3.2-1.3z"/>
<path fill="#b0dd2f" d="M302.6 148.8l6.7-3.4 4.7-8.7-6.7 2.8z"/>
<path fill="#a2da37" d="M298.6 156.9l6.7-3.8 4-7.7-6.7 3.4z"/>
<path fill="#1f948c" d="M149.9 286.7l5.8-16.4 4.6 5-5.8 16.9z"/>
<path fill="#20928c" d="M330.7 303.4l6.5-13.3 3.8-20.6-6.6 8.6z"/>
<path fill="#1f9e89" d="M270.7 267.2l3.6 4.2 4.2-6.6-3.6-3.5z"/>
<path fill="#21a585" d="M282.4 255.6l7 8.5 3.8-13.2-6.9-6.2z"/>
<path fill="#42be71" d="M614.7 207.9l6.9 5 3.6 4.1-6.8-5.9z"/>
<path fill="#54c568" d="M757.3 206.4l9.2-13.3 1.8-.7-9.2 13.2z"/>
<path fill="#dfe318" d="M325.2 118.7l6.8 0 4-4.3-6.8-.6z"/>
<path fill="#38588c" d="M404 404.3l6.5-35.9 3.7-18-6.6 23.9z"/>
<path fill="#6ccd5a" d="M775.6 189.2l7.6-9.9 3.7-3-7.7 10.8z"/>
<path fill="#4ac16d" d="M590.1 206.1l7-3.2 3.7 3.5-7 3.9z"/>
<path fill="#28ae80" d="M719.2 248.8l7.9-18.5 3.6-.6-7.8 18.4z"/>
<path fill="#52c569" d="M520.9 195.1l4.9 1.3 3.7 11.9-4.9-1.4z"/>
<path fill="#1fa088" d="M267.4 264.8l3.3 2.4 4.2-5.9-3.3-1.9z"/>
<path fill="#89d548" d="M449.3 162.4l4.3.2 4 4.8-4.3-.2z"/>
<path fill="#375a8c" d="M605.6 374.3l9.2 29.6 4.8-40.8-9.5-17z"/>
<path fill="#24aa83" d="M275.6 251.6l3.2 1.3 3.9-10-3.2-.8z"/>
<path fill="#95d840" d="M422.2 155.1l6.9 1.3 4 4.9-6.9-1.3z"/>
<path fill="#34618d" d="M401 384.9l6.6-10.6 3.8-33.6-6.7 5.6z"/>
<path fill="#48c16e" d="M277.8 215.7l6.6-4 3.9-10.3-6.6 3.8z"/>
<path fill="#1f988b" d="M206.4 270.7l6.4-6.1 4.9 14.9-6.4 8.3z"/>
<path fill="#e2e418" d="M342.8 116l3.3 1.1 4-2.3-3.3-1.4z"/>
<path fill="#2eb37c" d="M631.5 223l6.8 9.5 3.4 10.1-6.6-12z"/>
<path fill="#23a983" d="M278.8 252.9l3.6 2.7 3.9-10.9-3.6-1.8z"/>
<path fill="#1e9b8a" d="M236.5 274.1l6.4-8.5 2.9 3.3-6.3 10.1z"/>
<path fill="#3dbc74" d="M738.2 225.4l6.1-11.6 3.8-2.3-6.2 11.1z"/>
<path fill="#dfe318" d="M346.1 117.1l3.5 1.4 4.1-2-3.6-1.7z"/>
<path fill="#34b679" d="M276.7 233.1l6.6-1.6 3.9-11-6.7 1.9z"/>
<path fill="#23a983" d="M295.2 253.2l5 6.5 3.7-16.6-4.9-4.4z"/>
<path fill="#d8e219" d="M321.2 124.5l6.7-.6 4.1-5.2-6.8 0z"/>
<path fill="#dde318" d="M349.6 118.5l6.9 3.1 4-1.3-6.8-3.8z"/>
<path fill="#1f9f88" d="M256.5 266l6.7.9 4.2-2.1-6.7-.3z"/>
<path fill="#54c568" d="M755.4 207.3l9.2-13.5 1.9-.7-9.2 13.3z"/>
<path fill="#21918c" d="M116.6 279.9l6.3-4.7 5.4 18-6.2 9z"/>
<path fill="#1e9c89" d="M266.6 269.7l3.6 4.7 4.1-3-3.6-4.2z"/>
<path fill="#2ab07f" d="M279.5 242.1l3.2.8 3.9-11.1-3.3-.3z"/>
<path fill="#58c765" d="M281.7 205.2l6.6-3.8 4.7-11.6-6.6 3.7z"/>
<path fill="#d8e219" d="M356.5 121.6l2 1 4-1.1-2-1.2z"/>
<path fill="#52c569" d="M525.8 196.4l7.4.7 3.8 11.4-7.5-.2z"/>
<path fill="#4cc26c" d="M579.3 205.8l7.1-4.4 3.7 4.7-7.1 5.7z"/>
<path fill="#dfe318" d="M332 118.7l6.8 1 4-3.7-6.8-1.6z"/>
<path fill="#d5e21a" d="M358.5 122.6l4.8 2.6 4.1-.6-4.9-3.1z"/>
<path fill="#1f9e89" d="M245.8 268.9l6.6-4.3 4.1 1.4-6.5 5.5z"/>
<path fill="#1e9d89" d="M327.7 283.5l6.7-5.4 3.6-22.5-6.7 3.4z"/>
<path fill="#8bd646" d="M453.6 162.6l6.9.7 4 4.6-6.9-.5z"/>
<path fill="#d0e11c" d="M363.3 125.2l6.9 3.9 4 .2-6.8-4.7z"/>
<path fill="#25ac82" d="M293.2 250.9l2 2.3 3.8-14.5-2-1.6z"/>
<path fill="#1f958b" d="M266.2 273.7l7.1 13.8 4 1-7.1-14.1z"/>
<path fill="#c8e020" d="M370.2 129.1l6.8 3.9 4.1 1-6.9-4.7z"/>
<path fill="#1e9b8a" d="M161.9 276.7l6.1-11.9 3 3.2-6.2 10.6z"/>
<path fill="#c0df25" d="M377 133l6.9 4 4.1 1.7-6.9-4.7z"/>
<path fill="#95d840" d="M429.1 156.4l6.8.8 4 4.8-6.8-.7z"/>
<path fill="#3b518b" d="M395.8 390.8l6.6-26.3 4.1 9.5-6.5 38.9z"/>
<path fill="#bade28" d="M383.9 137l2.4 1.3 4.1 2-2.4-1.6z"/>
<path fill="#d0e11c" d="M317.2 131l6.7-1.2 4-5.9-6.7.6z"/>
<path fill="#2ab07f" d="M282.7 242.9l3.6 1.8 3.8-11.7-3.5-1.2z"/>
<path fill="#b8de29" d="M386.3 138.3l4.5 2.4 4 2.5-4.4-2.9z"/>
<path fill="#1f9e89" d="M263.2 266.9l3.4 2.8 4.1-2.5-3.3-2.4z"/>
<path fill="#28ae80" d="M286.3 244.7l6.9 6.2 3.8-13.8-6.9-4.1z"/>
<path fill="#4cc26c" d="M550.9 203.9l7-3.5 3.7 9-7.1 5.4z"/>
<path fill="#1e9d89" d="M171 268l3.5-4.6 4.7 6.8-3.7 2.9z"/>
<path fill="#218f8d" d="M333.5 310.3l6.5-18.2 3.8-15.3-6.6 13.3z"/>
<path fill="#67cc5c" d="M286.4 193.5l6.6-3.7 3.2-7.3-6.7 3.6z"/>
<path fill="#b2dd2d" d="M390.8 140.7l6.8 3.3 4.1 3.1-6.9-3.9z"/>
<path fill="#89d548" d="M790.6 173l7.6-9.4 3.4-2.8-7.6 10.1z"/>
<path fill="#1e9d89" d="M188.5 264.7l5.2-2.8 4.8 13.7-5.2 1.6z"/>
<path fill="#21a585" d="M690.3 256.8l7.5-13.3 3.3 9.8-7.7 17.2z"/>
<path fill="#40bd72" d="M280.5 222.4l6.7-1.9 3.9-10.8-6.7 2z"/>
<path fill="#6ccd5a" d="M771.9 190.9l7.6-9.4 3.7-2.2-7.6 9.9z"/>
<path fill="#c5e021" d="M314 136.7l6.7-1.6 3.2-5.3-6.7 1.2z"/>
<path fill="#20938c" d="M134.3 281.1l1.7-3.7 4.4 11.1-1.7 5z"/>
<path fill="#228d8d" d="M271.1 286.7l5.1 12.8 1.5 3.4-5.2-13.7z"/>
<path fill="#21918c" d="M270.4 284.3l2.1 4.9 2.9 3.6-2.1-5.3z"/>
<path fill="#dfe318" d="M338.8 119.7l3.2.8 4.1-3.4-3.3-1.1z"/>
<path fill="#73d056" d="M289.5 186.1l6.7-3.6 2.9-6.4-6.7 3.5z"/>
<path fill="#addc30" d="M397.6 144l6.9 2.9 4 3.6-6.8-3.4z"/>
<path fill="#1e9c89" d="M224 270.1l6.4-8.1 4.6 9.3-6.3 11.4z"/>
<path fill="#7ad151" d="M292.4 179.6l6.7-3.5 1-2.2-6.7 3.5z"/>
<path fill="#b8de29" d="M309.3 145.4l6.7-2.2 4.7-8.1-6.7 1.6z"/>
<path fill="#23888e" d="M271.7 287.4l7.2 15.9 4.7 17.7-7.4-21.5z"/>
<path fill="#37b878" d="M283.3 231.5l3.3.3 3.9-11.3-3.3 0z"/>
<path fill="#3aba76" d="M624.8 214.8l6.7 8.2 3.6 7.6-6.7-10z"/>
<path fill="#50c46a" d="M597.1 202.9l7-.6 3.7 3.4-7 .7z"/>
<path fill="#25ab82" d="M650.2 239.4l4.2 2.9 3.2 14.9-4.1-3.8z"/>
<path fill="#81d34d" d="M293.4 177.4l6.7-3.5 4-8.2-6.7 3.3z"/>
<path fill="#375b8d" d="M594 352.3l6.4 42.3 1-1.4-6.4-41.8z"/>
<path fill="#dae319" d="M327.9 123.9l6.8.4 4.1-4.6-6.8-1z"/>
<path fill="#dde318" d="M342 120.5l3.6 1 4-3-3.5-1.4z"/>
<path fill="#aadc32" d="M305.3 153.1l6.7-2.7 4-7.2-6.7 2.2z"/>
<path fill="#3bbb75" d="M734.4 227.9l6.2-12.1 3.7-2-6.1 11.6z"/>
<path fill="#90d743" d="M297.4 169l6.7-3.3 3.9-7.8-6.7 3z"/>
<path fill="#9dd93b" d="M301.3 160.9l6.7-3 4-7.5-6.7 2.7z"/>
<path fill="#26ad81" d="M648.4 237.9l1.8 1.5 3.3 14-1.8-2.1z"/>
<path fill="#8bd646" d="M460.5 163.3l6.9 1.2 3.9 4.7-6.8-1.3z"/>
<path fill="#23a983" d="M654.4 242.3l7.3 2.5 3.2 15.6-7.3-3.2z"/>
<path fill="#54c568" d="M751.8 209.3l9.1-13.9 3.7-1.6-9.2 13.5z"/>
<path fill="#2e6d8e" d="M386.9 347.7l7 24.5 3.8-32.7-7-15.2z"/>
<path fill="#50c46a" d="M568.6 204.1l7-4.4 3.7 6.1-7 6.1z"/>
<path fill="#a8db34" d="M404.5 146.9l6.8 2.4 4.1 3.9-6.9-2.7z"/>
<path fill="#95d840" d="M435.9 157.2l6.1.5 4 4.6-6.1-.3z"/>
<path fill="#37b878" d="M286.6 231.8l3.5 1.2 3.9-11.9-3.5-.6z"/>
<path fill="#50c46a" d="M284.4 211.7l6.7-2 3.9-10.4-6.7 2.1z"/>
<path fill="#dae319" d="M345.6 121.5l6.8 2.4 4.1-2.3-6.9-3.1z"/>
<path fill="#54c568" d="M533.2 197.1l7-.7 3.7 10.5-6.9 1.6z"/>
<path fill="#277f8e" d="M318.8 325.9l6.3-19.5 2.8 3.6-6.2 22.6z"/>
<path fill="#27ad81" d="M310.8 249.8l6.9 5.8 3.7-19.9-6.9-3.8z"/>
<path fill="#1f9e89" d="M235 271.3l6.4-7.7 1.5 2-6.4 8.5z"/>
<path fill="#2ab07f" d="M715.3 246.8l7.8-17.7 4 1.2-7.9 18.5z"/>
<path fill="#39558c" d="M377.8 360.1l7 8.9 4.5 34.3-7.1-15.8z"/>
<path fill="#21a685" d="M679.7 252.8l7.3-8.6 3.3 12.6-7.5 12z"/>
<path fill="#2cb17e" d="M303.9 243.1l6.9 6.7 3.7-17.9-6.8-4.3z"/>
<path fill="#25ac82" d="M317.7 255.6l6.8 3.4 3.7-21.1-6.8-2.2z"/>
<path fill="#25ab82" d="M701.1 253.3l7.7-16.1 3.4 5.9-7.8 19z"/>
<path fill="#d2e21b" d="M323.9 129.8l6.8-.2 4-5.3-6.8-.4z"/>
<path fill="#d8e219" d="M352.4 123.9l2 .8 4.1-2.1-2-1z"/>
<path fill="#29af7f" d="M641.6 231.2l6.8 6.7 3.3 13.4-6.7-8.9z"/>
<path fill="#6ccd5a" d="M770.7 191.4l7.5-9.3 1.3-.6-7.6 9.4z"/>
<path fill="#42be71" d="M622.5 212.5l2.3 2.3 3.6 5.8-2.3-2.9z"/>
<path fill="#dae319" d="M334.7 124.3l3.3.4 4-4.2-3.2-.8z"/>
<path fill="#86d549" d="M786.9 176.3l7.5-8.7 3.8-4-7.6 9.4z"/>
<path fill="#34b679" d="M290.1 233l6.9 4.1 3.8-13.4-6.8-2.6z"/>
<path fill="#287d8e" d="M306.3 318.9l6.5-12.7 4.5 15.2-6.3 20z"/>
<path fill="#44bf70" d="M287.2 220.5l3.3 0 3.9-11.1-3.3.3z"/>
<path fill="#2fb47c" d="M299 238.7l4.9 4.4 3.8-15.5-4.9-2.9z"/>
<path fill="#1e9d89" d="M262.5 269l3.7 4.7 4 .7-3.6-4.7z"/>
<path fill="#d5e21a" d="M354.4 124.7l4.9 2.1 4-1.6-4.8-2.6z"/>
<path fill="#a5db36" d="M411.3 149.3l6.9 1.8 4 4-6.8-1.9z"/>
<path fill="#1fa188" d="M174.5 263.4l2.8-2.9 4.6 7.8-2.7 1.9z"/>
<path fill="#34618d" d="M595 351.4l6.4 41.8 4.2-18.9-6.6-33.7z"/>
<path fill="#32b67a" d="M297 237.1l2 1.6 3.8-14-2-1z"/>
<path fill="#1fa188" d="M252.4 264.6l6.8 1.5 4 .8-6.7-.9z"/>
<path fill="#89d548" d="M467.4 164.5l6.9 1.9 3.9 5-6.9-2.2z"/>
<path fill="#1f9e89" d="M160.3 275.3l6.1-12.4 1.6 1.9-6.1 11.9z"/>
<path fill="#52c569" d="M604.1 202.3l6.9 1.9 3.7 3.7-6.9-2.2z"/>
<path fill="#25ab82" d="M324.5 259l2.4.4 3.7-21.2-2.4-.3z"/>
<path fill="#98d83e" d="M442 157.7l3.3.3 4 4.4-3.3-.1z"/>
<path fill="#46c06f" d="M617.9 208.4l4.6 4.1 3.6 5.2-4.5-4.8z"/>
<path fill="#60ca60" d="M288.3 201.4l6.7-2.1 4.7-11.8-6.7 2.3z"/>
<path fill="#d2e21b" d="M359.3 126.8l6.8 3.1 4.1-.8-6.9-3.9z"/>
<path fill="#dae319" d="M338 124.7l3.5.7 4.1-3.9-3.6-1z"/>
<path fill="#cae11f" d="M320.7 135.1l6.8-.7 3.2-4.8-6.8.2z"/>
<path fill="#1f9f88" d="M259.2 266.1l3.3 2.9 4.1.7-3.4-2.8z"/>
<path fill="#4ec36b" d="M611 204.2l6.9 4.2 3.7 4.5-6.9-5z"/>
<path fill="#306a8e" d="M373.3 337.3l7.3 32.2 2.6-4.9-7.2-30.5z"/>
<path fill="#39558c" d="M384.8 369l6.7-5.5 4.3 27.3-6.5 12.5z"/>
<path fill="#cae11f" d="M366.1 129.9l6.9 3.2 4-.1-6.8-3.9z"/>
<path fill="#56c667" d="M586.4 201.4l7-2.4 3.7 3.9-7 3.2z"/>
<path fill="#44bf70" d="M290.5 220.5l3.5.6 3.9-11.6-3.5-.1z"/>
<path fill="#365d8d" d="M591.2 350.5l6.5 38.6 2.7 5.5-6.4-42.3z"/>
<path fill="#1f988b" d="M263.3 271.3l7.1 13 2.9 3.2-7.1-13.8z"/>
<path fill="#3d4e8a" d="M609 392.4l7.6-22.7 2.6 14.6-7.8 35.2z"/>
<path fill="#86d549" d="M474.3 166.4l6.9 2.6 3.9 5.5-6.9-3.1z"/>
<path fill="#c0df25" d="M316 143.2l6.7-1.3 4.8-7.5-6.8.7z"/>
<path fill="#d2e21b" d="M330.7 129.6l3.3.2 4-5.1-3.3-.4z"/>
<path fill="#6ece58" d="M293 189.8l6.7-2.3 3.2-7.3-6.7 2.3z"/>
<path fill="#6ccd5a" d="M768.3 192.4l7.5-9.4 2.4-.9-7.5 9.3z"/>
<path fill="#1f948c" d="M269 282.1l2.1 4.6 1.4 2.5-2.1-4.9z"/>
<path fill="#1fa188" d="M242.9 265.6l6.6-3.5 2.9 2.5-6.6 4.3z"/>
<path fill="#c5e021" d="M373 133.1l6.8 3.2 4.1.7-6.9-4z"/>
<path fill="#355f8d" d="M619.4 397.5l7.7-26.6 4.5-26-7.4 15.4z"/>
<path fill="#25ac82" d="M326.9 259.4l4.4-.4 3.7-21-4.4.2z"/>
<path fill="#54c568" d="M291.1 209.7l3.3-.3 3.8-10.6-3.2.5z"/>
<path fill="#98d83e" d="M445.3 158l4.4.3 3.9 4.3-4.3-.2z"/>
<path fill="#d8e219" d="M341.5 125.4l6.9 1.7 4-3.2-6.8-2.4z"/>
<path fill="#3bbb75" d="M730.7 229.7l6.2-12.4 3.7-1.5-6.2 12.1z"/>
<path fill="#a5db36" d="M418.2 151.1l6.9 1.3 4 4-6.9-1.3z"/>
<path fill="#24aa83" d="M661.7 244.8l10.1-2.1 3.2 14.2-10.1 3.5z"/>
<path fill="#32b67a" d="M634.8 223.6l6.8 7.6 3.4 11.2-6.7-9.9z"/>
<path fill="#1fa088" d="M212.8 264.6l6.5-6.6 4.7 12.1-6.3 9.4z"/>
<path fill="#c2df23" d="M379.8 136.3l2.5 1.1 4 .9-2.4-1.3z"/>
<path fill="#7ad151" d="M296.2 182.5l6.7-2.3 2.9-6.5-6.7 2.4z"/>
<path fill="#1fa188" d="M193.7 261.9l7.8-5.1 4.9 13.9-7.9 4.9z"/>
<path fill="#b2dd2d" d="M312 150.4l6.7-1.7 4-6.8-6.7 1.3z"/>
<path fill="#54c568" d="M748.1 211.5l9.1-14.4 3.7-1.7-9.1 13.9z"/>
<path fill="#81d34d" d="M481.2 169l7 3.2 3.9 6.4-7-4.1z"/>
<path fill="#56c667" d="M557.9 200.4l7-3.4 3.7 7.1-7 5.3z"/>
<path fill="#30698e" d="M371.9 337.4l7.3 31.8 1.4.3-7.3-32.2z"/>
<path fill="#81d34d" d="M299.1 176.1l6.7-2.4 1-2.1-6.7 2.3zM783.2 179.3l7.5-8.2 3.7-3.5-7.5 8.7z"/>
<path fill="#26828e" d="M288.2 301.9l2.4.9 4.8 26-2.4-1.1z"/>
<path fill="#c0df25" d="M382.3 137.4l4.4 1.9 4.1 1.4-4.5-2.4z"/>
<path fill="#a5db36" d="M308 157.9l6.7-2 4-7.2-6.7 1.7z"/>
<path fill="#8bd646" d="M300.1 173.9l6.7-2.3 4-8.1-6.7 2.2z"/>
<path fill="#1fa287" d="M334.4 278.1l6.6-8.6 3.7-19.4-6.7 5.5z"/>
<path fill="#7cd250" d="M488.2 172.2l6.7 3.5 3.9 7.2-6.7-4.3z"/>
<path fill="#98d83e" d="M304.1 165.7l6.7-2.2 3.9-7.6-6.7 2z"/>
<path fill="#d2e21b" d="M334 129.8l3.5.3 4-4.7-3.5-.7z"/>
<path fill="#44bf70" d="M294 221.1l6.8 2.6 3.9-12.8-6.8-1.4z"/>
<path fill="#2d718e" d="M376 334.1l7.2 30.5 3.7-16.9-7.2-24.4z"/>
<path fill="#d8e219" d="M348.4 127.1l2 .6 4-3-2-.8z"/>
<path fill="#cae11f" d="M327.5 134.4l3.2-.1 3.3-4.5-3.3-.2z"/>
<path fill="#58c765" d="M540.2 196.4l6.9-1.6 3.8 9.1-7 3z"/>
<path fill="#75d054" d="M494.9 175.7l6.9 3.7 3.9 8-6.9-4.5z"/>
<path fill="#1e9c89" d="M144.5 277.1l6-14 5.2 7.2-5.8 16.4z"/>
<path fill="#bade28" d="M386.7 139.3l6.9 2.8 4 1.9-6.8-3.3z"/>
<path fill="#70cf57" d="M501.8 179.4l6.9 3.2 3.8 8.8-6.8-4z"/>
<path fill="#1f9a8a" d="M136 277.4l4.3-8.8 4.2 8.5-4.1 11.4z"/>
<path fill="#25848e" d="M281.2 295.6l7 6.3 4.8 25.8-7-9.4z"/>
<path fill="#54c568" d="M294.4 209.4l3.5.1 3.9-10.9-3.6.2z"/>
<path fill="#d5e21a" d="M350.4 127.7l4.8 1.6 4.1-2.5-4.9-2.1z"/>
<path fill="#65cb5e" d="M295 199.3l3.2-.5 4.7-11.9-3.2.6z"/>
<path fill="#1e9c89" d="M337.2 290.1l6.6-13.3 3.8-16.6-6.6 9.3z"/>
<path fill="#42be71" d="M300.8 223.7l2 1 3.9-13.1-2-.7z"/>
<path fill="#1fa287" d="M168 264.8l3.6-5.3 2.9 3.9-3.5 4.6z"/>
<path fill="#98d83e" d="M449.7 158.3l6.8.8 4 4.2-6.9-.7z"/>
<path fill="#26828e" d="M290.6 302.8l4.3-.3 4.9 25.1-4.4 1.2z"/>
<path fill="#1f998a" d="M122.9 275.2l6.3-7.5 5.1 13.4-6 12.1z"/>
<path fill="#6ccd5a" d="M766.5 193.1l7.5-9.4 1.8-.7-7.5 9.4z"/>
<path fill="#c2df23" d="M322.7 141.9l3.3-.3 4.7-7.3-3.2.1z"/>
<path fill="#a2da37" d="M425.1 152.4l6.8.9 4 3.9-6.8-.8z"/>
<path fill="#40bd72" d="M302.8 224.7l4.9 2.9 3.8-14.2-4.8-1.8z"/>
<path fill="#b8de29" d="M393.6 142.1l6.8 2.4 4.1 2.4-6.9-2.9z"/>
<path fill="#cde11d" d="M330.7 134.3l3.5.1 3.3-4.3-3.5-.3z"/>
<path fill="#5ac864" d="M575.6 199.7l7.1-3.1 3.7 4.8-7.1 4.4z"/>
<path fill="#d2e21b" d="M337.5 130.1l6.8 1.1 4.1-4.1-6.9-1.7z"/>
<path fill="#6ccd5a" d="M508.7 182.6l8.4 3.2 3.8 9.3-8.4-3.7z"/>
<path fill="#26828e" d="M317.3 321.4l6.4-17.6 1.4 2.6-6.3 19.5z"/>
<path fill="#20a486" d="M177.3 260.5l6.4-5.6 4.8 9.8-6.6 3.6z"/>
<path fill="#d2e21b" d="M355.2 129.3l6.9 2.4 4-1.8-6.8-3.1z"/>
<path fill="#3dbc74" d="M307.7 227.6l6.8 4.3 3.8-15.8-6.8-2.7z"/>
<path fill="#73d056" d="M299.7 187.5l3.2-.6 3.2-7.4-3.2.7z"/>
<path fill="#3bbb75" d="M628 216.1l6.8 7.5 3.5 8.9-6.8-9.5z"/>
<path fill="#b5de2b" d="M318.7 148.7l3.3-.5 4-6.6-3.3.3z"/>
<path fill="#1f9f88" d="M259.7 266.8l3.6 4.5 2.9 2.4-3.7-4.7z"/>
<path fill="#1f948c" d="M266.6 277.2l5.1 10.2 4.5 12.1-5.1-12.8z"/>
<path fill="#5ac864" d="M593.4 199l7-.3 3.7 3.6-7 .6z"/>
<path fill="#27ad81" d="M331.3 259l6.7-3.4 3.8-19.6-6.8 2z"/>
<path fill="#65cb5e" d="M298.2 198.8l3.6-.2 4.6-12.1-3.5.4z"/>
<path fill="#7fd34e" d="M302.9 180.2l3.2-.7 2.9-6.5-3.2.7z"/>
<path fill="#54c568" d="M297.9 209.5l6.8 1.4 3.8-11.7-6.7-.6z"/>
<path fill="#1fa287" d="M249.5 262.1l6.8 1.9 2.9 2.1-6.8-1.5z"/>
<path fill="#3aba76" d="M314.5 231.9l6.9 3.8 3.8-17.1-6.9-2.5z"/>
<path fill="#1e9b8a" d="M261.8 269.6l7.2 12.5 1.4 2.2-7.1-13z"/>
<path fill="#aadc32" d="M314.7 155.9l3.3-.6 4-7.1-3.3.5z"/>
<path fill="#d2e21b" d="M344.3 131.2l2 .4 4.1-3.9-2-.6z"/>
<path fill="#c2df23" d="M326 141.6l3.5-.2 4.7-7-3.5-.1z"/>
<path fill="#cde11d" d="M362.1 131.7l6.8 2.5 4.1-1.1-6.9-3.2z"/>
<path fill="#b2dd2d" d="M400.4 144.5l6.9 2 4 2.8-6.8-2.4z"/>
<path fill="#69cd5b" d="M517.1 185.8l4.9 1.2 3.8 9.4-4.9-1.3z"/>
<path fill="#86d549" d="M305.8 173.7l3.2-.7 1-2.1-3.2.7z"/>
<path fill="#81d34d" d="M779.5 181.5l7.5-8 3.7-2.4-7.5 8.2z"/>
<path fill="#90d743" d="M306.8 171.6l3.2-.7 4-8.1-3.2.7z"/>
<path fill="#20a386" d="M241.4 263.6l6.7-3.1 1.4 1.6-6.6 3.5z"/>
<path fill="#2fb47c" d="M712.2 243.1l7.8-16.3 3.1 2.3-7.8 17.7z"/>
<path fill="#9dd93b" d="M310.8 163.5l3.2-.7 4-7.5-3.3.6z"/>
<path fill="#228d8d" d="M331.9 310.5l6.4-17.4 4.1-5.3-6.5 16.6z"/>
<path fill="#1fa187" d="M155.7 270.3l6.1-12.6 4.6 5.2-6.1 12.4z"/>
<path fill="#20a386" d="M230.4 262l6.5-5.5 4.5 7.1-6.4 7.7z"/>
<path fill="#54c568" d="M744.3 213.8l9.3-14.9 3.6-1.8-9.1 14.4z"/>
<path fill="#1fa187" d="M256.3 264l3.4 2.8 2.8 2.2-3.3-2.9z"/>
<path fill="#6ccd5a" d="M764.6 193.8l7.6-9.4 1.8-.7-7.5 9.4z"/>
<path fill="#20928c" d="M335.9 304.4l6.5-16.6 4.1-9.8-6.5 14.1z"/>
<path fill="#cde11d" d="M334.2 134.4l6.9.7 3.2-3.9-6.8-1.1z"/>
<path fill="#2e6f8e" d="M407.6 374.3l6.6-23.9 3.9-24.6-6.7 14.9z"/>
<path fill="#98d83e" d="M456.5 159.1l6.9 1.2 4 4.2-6.9-1.2z"/>
<path fill="#3dbc74" d="M727.1 230.3l6.2-12.5 3.6-.5-6.2 12.4z"/>
<path fill="#a5db36" d="M431.9 153.3l6.1.7 4 3.7-6.1-.5z"/>
<path fill="#d2e21b" d="M346.3 131.6l4.9 1.1 4-3.4-4.8-1.6z"/>
<path fill="#75d054" d="M302.9 186.9l3.5-.4 3.2-7.5-3.5.5z"/>
<path fill="#cae11f" d="M368.9 134.2l6.9 2.5 4-.4-6.8-3.2z"/>
<path fill="#b8de29" d="M322 148.2l3.5-.4 4-6.4-3.5.2z"/>
<path fill="#54c568" d="M304.7 210.9l2 .7 3.8-12.1-2-.3z"/>
<path fill="#38b977" d="M321.4 235.7l6.8 2.2 3.8-17.8-6.8-1.5z"/>
<path fill="#27ad81" d="M671.8 242.7l4.6-2.9 3.3 13-4.7 4.1z"/>
<path fill="#46c06f" d="M621.1 209.4l6.9 6.7 3.5 6.9-6.7-8.2z"/>
<path fill="#81d34d" d="M306.1 179.5l3.5-.5 2.9-6.6-3.5.6z"/>
<path fill="#228d8d" d="M274.2 285.4l7 10.2 4.8 22.7-7.1-15z"/>
<path fill="#b2dd2d" d="M407.3 146.5l6.8 1.7 4.1 2.9-6.9-1.8z"/>
<path fill="#addc30" d="M318 155.3l3.5-.5 4-7-3.5.4z"/>
<path fill="#c8e020" d="M375.8 136.7l2.4.9 4.1-.2-2.5-1.1z"/>
<path fill="#89d548" d="M309 173l3.5-.6 1.1-2.1-3.6.6z"/>
<path fill="#60ca60" d="M547.1 194.8l7-2 3.8 7.6-7 3.5z"/>
<path fill="#67cc5c" d="M301.8 198.6l6.7.6 4.7-12.8-6.8.1z"/>
<path fill="#69cd5b" d="M522 187l7.5 1 3.7 9.1-7.4-.7z"/>
<path fill="#2d708e" d="M599 340.6l6.6 33.7 4.5-28.2-6.9-23.9z"/>
<path fill="#cde11d" d="M341.1 135.1l1.9.3 3.3-3.8-2-.4z"/>
<path fill="#54c568" d="M306.7 211.6l4.8 1.8 3.9-12.9-4.9-1z"/>
<path fill="#a0da39" d="M314 162.8l3.5-.6 4-7.4-3.5.5z"/>
<path fill="#93d741" d="M310 170.9l3.6-.6 3.9-8.1-3.5.6z"/>
<path fill="#c5e021" d="M329.5 141.4l6.8.1 4.8-6.4-6.9-.7z"/>
<path fill="#5ac864" d="M600.4 198.7l6.9 1.7 3.7 3.8-6.9-1.9z"/>
<path fill="#d0e11c" d="M351.2 132.7l6.8 1.8 4.1-2.8-6.9-2.4z"/>
<path fill="#5ec962" d="M564.9 197l7-2.9 3.7 5.6-7 4.4z"/>
<path fill="#c5e021" d="M378.2 137.6l4.4 1.5 4.1.2-4.4-1.9z"/>
<path fill="#21a685" d="M171.6 259.5l2.7-3.4 3 4.4-2.8 2.9z"/>
<path fill="#a5db36" d="M438 154l3.3.3 4 3.7-3.3-.3z"/>
<path fill="#38b977" d="M328.2 237.9l2.4.3 3.8-17.9-2.4-.2z"/>
<path fill="#98d83e" d="M463.4 160.3l6.9 1.8 4 4.3-6.9-1.9z"/>
<path fill="#31668e" d="M370.7 341.8l7.1 18.3 4.4 27.4-7.2-28.3z"/>
<path fill="#7fd34e" d="M778.2 182.1l7.5-8 1.3-.6-7.5 8z"/>
<path fill="#1fa187" d="M97.4 254.3l7.2 5.5 5.5 20.3-7.1-5.5z"/>
<path fill="#4ec36b" d="M618.8 207.4l2.3 2 3.7 5.4-2.3-2.3z"/>
<path fill="#21a585" d="M166.4 262.9l3.5-5.5 1.7 2.1-3.6 5.3z"/>
<path fill="#1fa088" d="M104.6 259.8l2.7 1.1 5.5 19.8-2.7-.6z"/>
<path fill="#2e6e8e" d="M367.8 332.3l7.2 26.9 4.2 10-7.3-31.8z"/>
<path fill="#cde11d" d="M343 135.4l4.9.7 3.3-3.4-4.9-1.1z"/>
<path fill="#52c569" d="M614.3 204.1l4.5 3.3 3.7 5.1-4.6-4.1z"/>
<path fill="#58c765" d="M607.3 200.4l7 3.7 3.6 4.3-6.9-4.2z"/>
<path fill="#287c8e" d="M397.7 339.5l7 6.8 3.9-33.3-7-4z"/>
<path fill="#24868e" d="M294.9 302.5l6.7-4.6 4.7 21-6.5 8.7z"/>
<path fill="#20a486" d="M95.2 252l2.2 2.3 5.6 20.3-2.2-2.7z"/>
<path fill="#1f9a8a" d="M264.5 273.5l2.1 3.7 4.5 9.5-2.1-4.6z"/>
<path fill="#21a685" d="M201.5 256.8l6.5-4.8 4.8 12.6-6.4 6.1z"/>
<path fill="#52c569" d="M311.5 213.4l6.8 2.7 3.9-13.8-6.8-1.8z"/>
<path fill="#228c8d" d="M327.9 310l6.5-16 3.9-.9-6.4 17.4z"/>
<path fill="#1fa187" d="M258.2 265.3l3.6 4.3 1.5 1.7-3.6-4.5z"/>
<path fill="#c2df23" d="M382.6 139.1l6.9 2.3 4.1.7-6.9-2.8z"/>
<path fill="#bade28" d="M325.5 147.8l6.8-.2 4-6.1-6.8-.1z"/>
<path fill="#287d8e" d="M379.7 323.3l7.2 24.4 3.8-23.4-7.1-17.3z"/>
<path fill="#77d153" d="M306.4 186.5l6.8-.1 3.2-7.8-6.8.4z"/>
<path fill="#1e9b8a" d="M340 292.1l6.5-14.1 3.9-12.4-6.6 11.2z"/>
<path fill="#60ca60" d="M582.7 196.6l7-1.5 3.7 3.9-7 2.4z"/>
<path fill="#21a585" d="M248.1 260.5l6.8 2 1.4 1.5-6.8-1.9z"/>
<path fill="#b0dd2f" d="M414.1 148.2l6.9 1.2 4.1 3-6.9-1.3z"/>
<path fill="#6ece58" d="M760.9 195.4l7.6-9.7 3.7-1.3-7.6 9.4z"/>
<path fill="#69cd5b" d="M308.5 199.2l2 .3 4.7-13-2-.1z"/>
<path fill="#cde11d" d="M358 134.5l6.9 1.9 4-2.2-6.8-2.5z"/>
<path fill="#c5e021" d="M336.3 141.5l2 .1 4.7-6.2-1.9-.3z"/>
<path fill="#1fa088" d="M107.3 260.9l3.8.5 5.5 18.5-3.8.8z"/>
<path fill="#a5db36" d="M441.3 154.3l4.4.5 4 3.5-4.4-.3z"/>
<path fill="#2ab07f" d="M687 244.2l7.5-9.9 3.3 9.2-7.5 13.3z"/>
<path fill="#38b977" d="M330.6 238.2l4.4-.2 3.8-17.8-4.4.1z"/>
<path fill="#95d840" d="M470.3 162.1l6.9 2.2 4 4.7-6.9-2.6z"/>
<path fill="#2db27d" d="M697.8 243.5l7.6-12.9 3.4 6.6-7.7 16.1z"/>
<path fill="#22a884" d="M183.7 254.9l5.2-3.8 4.8 10.8-5.2 2.8z"/>
<path fill="#84d44b" d="M309.6 179l6.8-.4 2.9-6.7-6.8.5z"/>
<path fill="#b0dd2f" d="M321.5 154.8l6.8-.5 4-6.7-6.8.2z"/>
<path fill="#2c718e" d="M619.6 363.1l4.6-2.8 4.6-32.7-4.5 1.4z"/>
<path fill="#20a486" d="M254.9 262.5l3.3 2.8 1.5 1.5-3.4-2.8z"/>
<path fill="#54c568" d="M740.6 215.8l9.3-15.4 3.7-1.5-9.3 14.9z"/>
<path fill="#21a685" d="M219.3 258l6.5-5.7 4.6 9.7-6.4 8.1z"/>
<path fill="#1f9f88" d="M129.2 267.7l1.8-2.4 5 12.1-1.7 3.7z"/>
<path fill="#8bd646" d="M312.5 172.4l6.8-.5 1-2.2-6.7.6z"/>
<path fill="#7fd34e" d="M775.8 183l7.5-7.9 2.4-1-7.5 8z"/>
<path fill="#a2da37" d="M317.5 162.2l6.8-.6 4-7.3-6.8.5z"/>
<path fill="#95d840" d="M313.6 170.3l6.7-.6 4-8.1-6.8.6z"/>
<path fill="#cde11d" d="M347.9 136.1l6.8 1.4 3.3-3-6.8-1.8z"/>
<path fill="#c0df25" d="M389.5 141.4l6.9 2 4 1.1-6.8-2.4z"/>
<path fill="#22a884" d="M90.3 246.1l4.9 5.9 5.6 19.9-5-7.5z"/>
<path fill="#69cd5b" d="M529.5 188l6.9 0 3.8 8.4-7 .7zM310.5 199.5l4.9 1 4.6-13.6-4.8-.4z"/>
<path fill="#50c46a" d="M318.3 216.1l6.9 2.5 3.8-14.8-6.8-1.5z"/>
<path fill="#24aa83" d="M341 269.5l6.6-9.3 3.8-16.5-6.7 6.4z"/>
<path fill="#c5e021" d="M338.3 141.6l4.8.4 4.8-5.9-4.9-.7z"/>
<path fill="#2cb17e" d="M338 255.6l6.7-5.5 3.8-17.7-6.7 3.6z"/>
<path fill="#2b758e" d="M610.1 346.1l9.5 17 4.7-34.1-9.7-10.9z"/>
<path fill="#cae11f" d="M364.9 136.4l6.8 1.9 4.1-1.6-6.9-2.5z"/>
<path fill="#31668e" d="M588.3 342.1l6.7 30.6 2.7 16.4-6.5-38.6z"/>
<path fill="#93d741" d="M477.2 164.3l7.1 2.8 3.9 5.1-7-3.2z"/>
<path fill="#bddf26" d="M332.3 147.6l2 0 4-6-2-.1z"/>
<path fill="#7ad151" d="M313.2 186.4l2 .1 3.2-7.9-2 0z"/>
<path fill="#35b779" d="M644.9 227.5l1.9 1.3 3.4 10.6-1.8-1.5z"/>
<path fill="#34b679" d="M646.8 228.8l4.2 2.2 3.4 11.3-4.2-2.9z"/>
<path fill="#b0dd2f" d="M421 149.4l6.9 1.1 4 2.8-6.8-.9z"/>
<path fill="#a5db36" d="M445.7 154.8l6.9.9 3.9 3.4-6.8-.8z"/>
<path fill="#287d8e" d="M404.7 346.3l6.7-5.6 3.9-31.1-6.7 3.4z"/>
<path fill="#26828e" d="M390.7 324.3l7 15.2 3.9-30.5-7-9.4z"/>
<path fill="#8ed645" d="M484.3 167.1l6.7 2.9 3.9 5.7-6.7-3.5z"/>
<path fill="#40bd72" d="M723.1 229.1l6.2-12 4 .7-6.2 12.5z"/>
<path fill="#b2dd2d" d="M328.3 154.3l2-.1 4-6.6-2 0z"/>
<path fill="#c8e020" d="M371.7 138.3l2.4.7 4.1-1.4-2.4-.9z"/>
<path fill="#86d549" d="M316.4 178.6l2 0 2.9-6.8-2 .1z"/>
<path fill="#3aba76" d="M638.1 222.3l6.8 5.2 3.5 10.4-6.8-6.7z"/>
<path fill="#bddf26" d="M396.4 143.4l6.8 1.7 4.1 1.4-6.9-2z"/>
<path fill="#22a884" d="M236.9 256.5l6.7-1.9 4.5 5.9-6.7 3.1z"/>
<path fill="#1fa088" d="M257.4 263.1l7.1 10.4 4.5 8.6-7.2-12.5z"/>
<path fill="#8ed645" d="M319.3 171.9l2-.1 1-2.1-2 0z"/>
<path fill="#cae11f" d="M354.7 137.5l6.9 1.4 3.3-2.5-6.9-1.9z"/>
<path fill="#31b57b" d="M651 231l7.4 2.1 3.3 11.7-7.3-2.5z"/>
<path fill="#bddf26" d="M334.3 147.6l4.8.2 4-5.8-4.8-.4z"/>
<path fill="#69cd5b" d="M315.4 200.5l6.8 1.8 4.6-14.4-6.8-1z"/>
<path fill="#67cc5c" d="M554.1 192.8l7-2 3.8 6.2-7 3.4z"/>
<path fill="#a5db36" d="M324.3 161.6l2 0 4-7.4-2 .1z"/>
<path fill="#33628d" d="M621.9 388.8l8.1-36.9.9-.9-8 36.6z"/>
<path fill="#7ad151" d="M315.2 186.5l4.8.4 3.2-8.1-4.8-.2z"/>
<path fill="#98d83e" d="M320.3 169.7l2 0 4-8.1-2 0z"/>
<path fill="#50c46a" d="M325.2 218.6l6.8 1.5 3.8-15.3-6.8-1z"/>
<path fill="#89d548" d="M491 170l6.9 3 3.9 6.4-6.9-3.7z"/>
<path fill="#c5e021" d="M343.1 142l6.8.8 4.8-5.3-6.8-1.4z"/>
<path fill="#3bbb75" d="M335 238l6.8-2 3.8-17-6.8 1.2z"/>
<path fill="#c8e020" d="M374.1 139l4.5 1.2 4-1.1-4.4-1.5z"/>
<path fill="#81d34d" d="M774 183.7l7.5-8 1.8-.6-7.5 7.9z"/>
<path fill="#24aa83" d="M169.9 257.4l2.8-3.5 1.6 2.2-2.7 3.4z"/>
<path fill="#65cb5e" d="M589.7 195.1l7 .1 3.7 3.5-7 .3z"/>
<path fill="#67cc5c" d="M571.9 194.1l7-2 3.8 4.5-7.1 3.1z"/>
<path fill="#1fa287" d="M111.1 261.4l6.6-1.5 5.2 15.3-6.3 4.7z"/>
<path fill="#1f968b" d="M267 273.9l7.2 11.5 4.7 17.9-7.2-15.9z"/>
<path fill="#2db27d" d="M676.4 239.8l7.3-6.1 3.3 10.5-7.3 8.6z"/>
<path fill="#40bd72" d="M631.2 216.3l6.9 6 3.5 8.9-6.8-7.6z"/>
<path fill="#25ab82" d="M174.3 256.1l6.4-6.5 3 5.3-6.4 5.6z"/>
<path fill="#37b878" d="M708.8 237.2l7.6-14.2 3.6 3.8-7.8 16.3z"/>
<path fill="#b2dd2d" d="M330.3 154.2l4.8.1 4-6.5-4.8-.2z"/>
<path fill="#89d548" d="M318.4 178.6l4.8.2 2.9-6.9-4.8-.1z"/>
<path fill="#228b8d" d="M312.8 306.2l6.5-12.3 4.4 9.9-6.4 17.6z"/>
<path fill="#6ece58" d="M757.2 197.1l7.6-9.9 3.7-1.5-7.6 9.7z"/>
<path fill="#84d44b" d="M497.9 173l7 2.8 3.8 6.8-6.9-3.2z"/>
<path fill="#20a486" d="M140.3 268.6l6.1-11.4 4.1 5.9-6 14z"/>
<path fill="#2f6c8e" d="M407.9 374l6.6-32.6 2.6-4.2-6.6 31.2z"/>
<path fill="#21a685" d="M343.8 276.8l6.6-11.2 3.9-13.7-6.7 8.3z"/>
<path fill="#b0dd2f" d="M427.9 150.5l6.1.8 4 2.7-6.1-.7z"/>
<path fill="#90d743" d="M321.3 171.8l4.8.1 1-2.2-4.8 0z"/>
<path fill="#a5db36" d="M452.6 155.7l6.9 1.3 3.9 3.3-6.9-1.2z"/>
<path fill="#bade28" d="M403.2 145.1l6.9 1.5 4 1.6-6.8-1.7z"/>
<path fill="#a5db36" d="M326.3 161.6l4.8 0 4-7.3-4.8-.1z"/>
<path fill="#98d83e" d="M322.3 169.7l4.8 0 4-8.1-4.8 0z"/>
<path fill="#6ece58" d="M536.4 188l7-.6 3.7 7.4-6.9 1.6z"/>
<path fill="#c5e021" d="M378.6 140.2l6.8 1.8 4.1-.6-6.9-2.3z"/>
<path fill="#50c46a" d="M332 220.1l2.4.2 3.8-15.3-2.4-.2z"/>
<path fill="#31678e" d="M622.9 387.6l8-36.6 4.1-10.1-7.9 30z"/>
<path fill="#54c568" d="M736.9 217.3l9.3-15.7 3.7-1.2-9.3 15.4z"/>
<path fill="#218f8d" d="M325.1 306.4l6.5-14.2 2.8 1.8-6.5 16z"/>
<path fill="#cae11f" d="M361.6 138.9l6.8 1.6 3.3-2.2-6.8-1.9z"/>
<path fill="#32658e" d="M391.5 363.5l6.7-15.6 4.2 16.6-6.6 26.3z"/>
<path fill="#24aa83" d="M161.8 257.7l3.5-5.8 4.6 5.5-3.5 5.5z"/>
<path fill="#67cc5c" d="M322.2 202.3l6.8 1.5 4.7-15-6.9-.9z"/>
<path fill="#2f6b8e" d="M406.5 374l6.6-32 1.4-.6-6.6 32.6z"/>
<path fill="#bddf26" d="M339.1 147.8l6.8.5 4-5.5-6.8-.8z"/>
<path fill="#7cd250" d="M320 186.9l6.8 1 3.2-8.5-6.8-.6z"/>
<path fill="#4ac16d" d="M624.3 210.2l6.9 6.1 3.6 7.3-6.8-7.5z"/>
<path fill="#81d34d" d="M504.9 175.8l8.3 2.7 3.9 7.3-8.4-3.2z"/>
<path fill="#c5e021" d="M349.9 142.8l6.9 1 4.8-4.9-6.9-1.4z"/>
<path fill="#81d34d" d="M772.2 184.4l7.5-8.1 1.8-.6-7.5 8z"/>
<path fill="#21a685" d="M253.8 259.3l3.6 3.8 4.4 6.5-3.6-4.3z"/>
<path fill="#20a386" d="M131 265.3l4.4-6 4.9 9.3-4.3 8.8z"/>
<path fill="#23a983" d="M243.6 254.6l6.8 2.2 4.5 5.7-6.8-2z"/>
<path fill="#65cb5e" d="M596.7 195.2l6.9 1.7 3.7 3.5-6.9-1.7z"/>
<path fill="#22a884" d="M150.5 263.1l6.1-11.4 5.2 6-6.1 12.6z"/>
<path fill="#b0dd2f" d="M434 151.3l3.3.4 4 2.6-3.3-.3z"/>
<path fill="#c8e020" d="M368.4 140.5l2.4.5 3.3-2-2.4-.7z"/>
<path fill="#355f8d" d="M600.9 356.3l4.5-2.2 3.6 38.3-4.6 5z"/>
<path fill="#50c46a" d="M334.4 220.3l4.4-.1 3.8-15.2-4.4 0z"/>
<path fill="#26ad81" d="M188.9 251.1l7.9-5.3 4.7 11-7.8 5.1z"/>
<path fill="#89d548" d="M323.2 178.8l6.8.6 2.9-7.1-6.8-.4z"/>
<path fill="#c2df23" d="M385.4 142l6.9 1.6 4.1-.2-6.9-2z"/>
<path fill="#b5de2b" d="M335.1 154.3l6.8.3 4-6.3-6.8-.5z"/>
<path fill="#25ac82" d="M208 252l6.6-4.9 4.7 10.9-6.5 6.6z"/>
<path fill="#32648e" d="M619.2 384.3l8-34.2 2.8 1.8-8.1 36.9z"/>
<path fill="#a5db36" d="M459.5 157l6.9 1.7 3.9 3.4-6.9-1.8z"/>
<path fill="#32b67a" d="M658.4 233.1l10.1-1.1 3.3 10.7-10.1 2.1z"/>
<path fill="#22a884" d="M250.4 256.8l3.4 2.5 4.4 6-3.3-2.8z"/>
<path fill="#bade28" d="M410.1 146.6l6.9 1.2 4 1.6-6.9-1.2z"/>
<path fill="#54c568" d="M617.5 204.7l6.8 5.5 3.7 5.9-6.9-6.7z"/>
<path fill="#2c738e" d="M410.5 368.4l6.6-31.2 3.8-12.1-6.7 25.3z"/>
<path fill="#90d743" d="M326.1 171.9l6.8.4 1-2.2-6.8-.4z"/>
<path fill="#c8e020" d="M370.8 141l4.5 1 3.3-1.8-4.5-1.2z"/>
<path fill="#7fd34e" d="M513.2 178.5l4.9 1.2 3.9 7.3-4.9-1.2z"/>
<path fill="#a8db34" d="M331.1 161.6l6.8.2 4-7.2-6.8-.3z"/>
<path fill="#9bd93c" d="M327.1 169.7l6.8.4 4-8.3-6.8-.2z"/>
<path fill="#25848e" d="M368.8 310.8l7.2 23.3 3.7-10.8-7.1-19.9z"/>
<path fill="#63cb5f" d="M603.6 196.9l7 3.2 3.7 4-7-3.7z"/>
<path fill="#2b758e" d="M590.2 331.7l3.8 20.6 1-.9-3.8-20.5z"/>
<path fill="#26818e" d="M366.1 313l7.2 24.3 2.7-3.2-7.2-23.3z"/>
<path fill="#b0dd2f" d="M437.3 151.7l4.4.6 4 2.5-4.4-.5z"/>
<path fill="#5ac864" d="M615.1 203l2.4 1.7 3.6 4.7-2.3-2z"/>
<path fill="#67cc5c" d="M329 203.8l6.8 1 4.7-15.4-6.8-.6z"/>
<path fill="#29798e" d="M591.2 330.9l3.8 20.5 4-10.8-3.8-18.2z"/>
<path fill="#5ec962" d="M610.6 200.1l4.5 2.9 3.7 4.4-4.5-3.3z"/>
<path fill="#25ac82" d="M225.8 252.3l6.6-3.7 4.5 7.9-6.5 5.5z"/>
<path fill="#c5e021" d="M356.8 143.8l6.8 1.1 4.8-4.4-6.8-1.6z"/>
<path fill="#32b67a" d="M344.7 250.1l6.7-6.4 3.9-15.5-6.8 4.2z"/>
<path fill="#bddf26" d="M345.9 148.3l6.8.7 4.1-5.2-6.9-1z"/>
<path fill="#6ece58" d="M561.1 190.8l7-1.7 3.8 5-7 2.9z"/>
<path fill="#7cd250" d="M326.8 187.9l6.9.9 3.1-8.7-6.8-.7z"/>
<path fill="#6ccd5a" d="M578.9 192.1l7-.7 3.8 3.7-7 1.5z"/>
<path fill="#40bd72" d="M341.8 236l6.7-3.6 3.9-15.7-6.8 2.3z"/>
<path fill="#2a788e" d="M624.2 360.3l7.4-15.4 4.5-26.7-7.3 9.4z"/>
<path fill="#32658e" d="M591.1 343l9.8 13.3 3.5 41.1-9.4-24.7z"/>
<path fill="#a2da37" d="M466.4 158.7l6.9 2 3.9 3.6-6.9-2.2z"/>
<path fill="#c2df23" d="M392.3 143.6l6.9 1.4 4 .1-6.8-1.7z"/>
<path fill="#6ece58" d="M753.6 198.9l7.6-10.3 3.6-1.4-7.6 9.9z"/>
<path fill="#218e8d" d="M301.6 297.9l6.6-7.6 4.6 15.9-6.5 12.7z"/>
<path fill="#1f9e89" d="M342.4 287.8l6.6-10.5 4.2-8.7-6.7 9.4z"/>
<path fill="#228d8d" d="M383.6 307l7.1 17.3 3.9-24.7-6.9-11.6z"/>
<path fill="#73d056" d="M543.4 187.4l7-.9 3.7 6.3-7 2z"/>
<path fill="#c5e021" d="M375.3 142l6.8 1.4 3.3-1.4-6.8-1.8z"/>
<path fill="#46c06f" d="M720 226.8l6.1-11.2 3.2 1.5-6.2 12z"/>
<path fill="#bade28" d="M417 147.8l6.9 1.1 4 1.6-6.9-1.1z"/>
<path fill="#1f9a8a" d="M338.3 293.1l6.7-10.4 4-5.4-6.6 10.5z"/>
<path fill="#81d34d" d="M768.5 185.7l7.5-8.2 3.7-1.2-7.5 8.1z"/>
<path fill="#1fa088" d="M262 266.2l5 7.7 4.7 13.5-5.1-10.2z"/>
<path fill="#7cd250" d="M518.1 179.7l7.5 1.2 3.9 7.1-7.5-1z"/>
<path fill="#54c568" d="M338.8 220.2l6.8-1.2 3.9-14.7-6.9.7z"/>
<path fill="#8bd646" d="M330 179.4l6.8.7 3-7.3-6.9-.5z"/>
<path fill="#20928c" d="M323.7 303.8l6.5-13.1 1.4 1.5-6.5 14.2z"/>
<path fill="#28ae80" d="M172.7 253.9l6.4-6.9 1.6 2.6-6.4 6.5z"/>
<path fill="#26818e" d="M364.8 313.3l7.1 24.1 1.4-.1-7.2-24.3z"/>
<path fill="#b5de2b" d="M341.9 154.6l6.8.5 4-6.1-6.8-.7z"/>
<path fill="#c5e021" d="M363.6 144.9l2.4.4 4.8-4.3-2.4-.5z"/>
<path fill="#69cd5b" d="M335.8 204.8l2.4.2 4.7-15.4-2.4-.2z"/>
<path fill="#26828e" d="M603.2 322.2l6.9 23.9 4.5-28-7.1-16.6z"/>
<path fill="#b2dd2d" d="M441.7 152.3l6.9 1.1 4 2.3-6.9-.9z"/>
<path fill="#56c667" d="M733.3 217.8l9.2-15.6 3.7-.6-9.3 15.7z"/>
<path fill="#2ab07f" d="M347.6 260.2l6.7-8.3 3.9-14.1-6.8 5.9z"/>
<path fill="#93d741" d="M332.9 172.3l6.9.5 1-2.3-6.9-.4z"/>
<path fill="#21a685" d="M117.7 259.9l6.5-3.7 5 11.5-6.3 7.5z"/>
<path fill="#27ad81" d="M165.3 251.9l2.8-3.8 4.6 5.8-2.8 3.5z"/>
<path fill="#a0da39" d="M473.3 160.7l7 2.4 4 4-7.1-2.8z"/>
<path fill="#228d8d" d="M372.6 303.4l7.1 19.9 3.9-16.3-7-15.4z"/>
<path fill="#aadc32" d="M337.9 161.8l6.8.5 4-7.2-6.8-.5z"/>
<path fill="#9dd93b" d="M333.9 170.1l6.9.4 3.9-8.2-6.8-.5z"/>
<path fill="#21a585" d="M346.5 278l6.7-9.4 3.9-10.7-6.7 7.7z"/>
<path fill="#29af7f" d="M180.7 249.6l5.2-4.2 3 5.7-5.2 3.8z"/>
<path fill="#c0df25" d="M352.7 149l6.9.8 4-4.9-6.8-1.1z"/>
<path fill="#2a768e" d="M587.4 330.8l3.8 19.7 2.8 1.8-3.8-20.6z"/>
<path fill="#c5e021" d="M366 145.3l4.5.7 4.8-4-4.5-1z"/>
<path fill="#c0df25" d="M399.2 145l6.9 1.3 4 .3-6.9-1.5z"/>
<path fill="#7cd250" d="M333.7 188.8l6.8.6 3.1-8.8-6.8-.5z"/>
<path fill="#c5e021" d="M382.1 143.4l6.9 1.4 3.3-1.2-6.9-1.6z"/>
<path fill="#69cd5b" d="M338.2 205l4.4 0 4.7-15.4-4.4 0z"/>
<path fill="#9dd93b" d="M480.3 163.1l6.8 2.5 3.9 4.4-6.7-2.9z"/>
<path fill="#2e6f8e" d="M402.4 364.5l6.7-26.2 4 3.7-6.6 32z"/>
<path fill="#25858e" d="M411.4 340.7l6.7-14.9 4.1-25.6-6.9 9.4z"/>
<path fill="#37b878" d="M668.5 232l4.6-2 3.3 9.8-4.6 2.9z"/>
<path fill="#bade28" d="M423.9 148.9l6.1.8 4 1.6-6.1-.8z"/>
<path fill="#3aba76" d="M694.5 234.3l7.5-10.3 3.4 6.6-7.6 12.9z"/>
<path fill="#70cf57" d="M585.9 191.4l7 .5 3.8 3.3-7-.1z"/>
<path fill="#26828e" d="M595.2 322.4l3.8 18.2 4.2-18.4-3.9-14.3z"/>
<path fill="#2b748e" d="M627.1 370.9l7.9-30 4.3-17.4-7.7 21.4z"/>
<path fill="#20a486" d="M259.9 263.3l2.1 2.9 4.6 11-2.1-3.7z"/>
<path fill="#b0dd2f" d="M448.6 153.4l6.9 1.3 4 2.3-6.9-1.3z"/>
<path fill="#7fd34e" d="M525.6 180.9l7 .6 3.8 6.5-6.9 0z"/>
<path fill="#b5de2b" d="M348.7 155.1l6.9.6 4-5.9-6.9-.8z"/>
<path fill="#481b6d" d="M479 498.8l2.4-18 4.7-40.8-2.4 2z"/>
<path fill="#8bd646" d="M336.8 180.1l6.8.5 3-7.3-6.8-.5z"/>
<path fill="#c0df25" d="M359.6 149.8l2.4.2 4-4.7-2.4-.4z"/>
<path fill="#1f988b" d="M334.4 294l6.7-9.5 3.9-1.8-6.7 10.4z"/>
<path fill="#29798e" d="M363.5 321.5l7.2 20.3 4.3 17.4-7.2-26.9z"/>
<path fill="#c5e021" d="M370.5 146l6.8 1 4.8-3.6-6.8-1.4z"/>
<path fill="#75d054" d="M568.1 189.1l7.1-.9 3.7 3.9-7 2z"/>
<path fill="#98d83e" d="M487.1 165.6l6.9 2.5 3.9 4.9-6.9-3z"/>
<path fill="#481467" d="M475.7 456.9l2.4-2.8 3.3 26.7-2.4 18z"/>
<path fill="#7fd34e" d="M340.5 189.4l2.4.2 3.2-8.9-2.5-.1z"/>
<path fill="#93d741" d="M339.8 172.8l6.8.5 1-2.3-6.8-.5z"/>
<path fill="#3aba76" d="M683.7 233.7l7.4-7.5 3.4 8.1-7.5 9.9z"/>
<path fill="#c0df25" d="M406.1 146.3l6.8 1.2 4.1.3-6.9-1.2z"/>
<path fill="#aadc32" d="M344.7 162.3l6.9.4 4-7-6.9-.6z"/>
<path fill="#6ece58" d="M749.9 200.4l7.6-10.5 3.7-1.3-7.6 10.3z"/>
<path fill="#9dd93b" d="M340.8 170.5l6.8.5 4-8.3-6.9-.4z"/>
<path fill="#77d153" d="M550.4 186.5l7-.9 3.7 5.2-7 2z"/>
<path fill="#c5e021" d="M389 144.8l6.9 1.2 3.3-1-6.9-1.4z"/>
<path fill="#bade28" d="M430 149.7l3.3.5 4 1.5-3.3-.4z"/>
<path fill="#29af7f" d="M232.4 248.6l6.7-1 4.5 7-6.7 1.9z"/>
<path fill="#42be71" d="M705.4 230.6l7.6-12 3.4 4.4-7.6 14.2z"/>
<path fill="#c0df25" d="M362 150l4.4.6 4.1-4.6-4.5-.7z"/>
<path fill="#58c765" d="M345.6 219l6.8-2.3 3.9-13.8-6.8 1.4z"/>
<path fill="#2cb17e" d="M196.8 245.8l6.5-4.3 4.7 10.5-6.5 4.8z"/>
<path fill="#27ad81" d="M350.4 265.6l6.7-7.7 3.9-12.1-6.7 6.1z"/>
<path fill="#2ab07f" d="M214.6 247.1l6.6-4 4.6 9.2-6.5 5.7z"/>
<path fill="#48c16e" d="M348.5 232.4l6.8-4.2 3.9-14.3-6.8 2.8z"/>
<path fill="#84d44b" d="M764.8 187.2l7.6-8.5 3.6-1.2-7.5 8.2z"/>
<path fill="#95d840" d="M494 168.1l7 2.4 3.9 5.3-7-2.8z"/>
<path fill="#6ccd5a" d="M342.6 205l6.9-.7 4.7-14.9-6.9.2z"/>
<path fill="#b8de29" d="M355.6 155.7l2.4.2 4-5.9-2.4-.2z"/>
<path fill="#46c06f" d="M641.4 220.2l1.9 1 3.5 7.6-1.9-1.3z"/>
<path fill="#70cf57" d="M592.9 191.9l7 1.9 3.7 3.1-6.9-1.7z"/>
<path fill="#4ac16d" d="M634.5 215.8l6.9 4.4 3.5 7.3-6.8-5.2z"/>
<path fill="#8bd646" d="M343.6 180.6l2.5.1 2.9-7.3-2.4-.1z"/>
<path fill="#7fd34e" d="M342.9 189.6l4.4 0 3.2-8.7-4.4-.2z"/>
<path fill="#b0dd2f" d="M455.5 154.7l6.9 1.6 4 2.4-6.9-1.7z"/>
<path fill="#44bf70" d="M643.3 221.2l4.2 1.9 3.5 7.9-4.2-2.2z"/>
<path fill="#23a983" d="M252.9 255l7 8.3 4.6 10.2-7.1-10.4z"/>
<path fill="#20938c" d="M401.6 309l7 4 3.9-27-7.1-2.4z"/>
<path fill="#50c46a" d="M627.6 210.8l6.9 5 3.6 6.5-6.9-6z"/>
<path fill="#25838e" d="M360.6 310.3l7.2 22 4.1 5.1-7.1-24.1z"/>
<path fill="#bade28" d="M433.3 150.2l4.4.7 4 1.4-4.4-.6z"/>
<path fill="#26818e" d="M414.2 350.4l6.7-25.3 4-17.7-6.8 18.4z"/>
<path fill="#95d840" d="M346.6 173.3l2.4.1 1-2.3-2.4-.1z"/>
<path fill="#24aa83" d="M124.2 256.2l1.8-1.3 5 10.4-1.8 2.4z"/>
<path fill="#c5e021" d="M377.3 147l6.9 1 4.8-3.2-6.9-1.4z"/>
<path fill="#3bbb75" d="M351.4 243.7l6.8-5.9 3.9-13.7-6.8 4.1z"/>
<path fill="#addc30" d="M351.6 162.7l2.4.2 4-7-2.4-.2z"/>
<path fill="#25ac82" d="M135.4 259.3l6.3-8.2 4.7 6.1-6.1 11.4z"/>
<path fill="#2ab07f" d="M156.6 251.7l3.6-5.5 5.1 5.7-3.5 5.8z"/>
<path fill="#9dd93b" d="M347.6 171l2.4.1 4-8.2-2.4-.2z"/>
<path fill="#1f978b" d="M283.4 280.7l2.4.8 4.8 21.3-2.4-.9z"/>
<path fill="#2c718e" d="M373.3 336l7.1 6.1 4.4 26.9-7-8.9z"/>
<path fill="#482173" d="M474.6 463.1l4.4 35.7 4.7-56.8-4.6-9.1z"/>
<path fill="#1f998a" d="M276.4 276.1l7 4.6 4.8 21.2-7-6.3z"/>
<path fill="#1f978b" d="M394.6 299.6l7 9.4 3.8-25.4-6.9-6z"/>
<path fill="#81d34d" d="M532.6 181.5l7 .1 3.8 5.8-7 .6z"/>
<path fill="#b8de29" d="M358 155.9l4.4.4 4-5.7-4.4-.6z"/>
<path fill="#58c765" d="M620.7 205.6l6.9 5.2 3.6 5.5-6.9-6.1z"/>
<path fill="#c0df25" d="M412.9 147.5l6.9 1 4.1.4-6.9-1.1z"/>
<path fill="#c2df23" d="M395.9 146l6.9 1.1 3.3-.8-6.9-1.3z"/>
<path fill="#42be71" d="M647.5 223.1l7.4 1.9 3.5 8.1-7.4-2.1z"/>
<path fill="#5ac864" d="M729.3 217.1l9.2-15 4 .1-9.2 15.6z"/>
<path fill="#1f988b" d="M376.6 291.6l7 15.4 4.1-19-7-10.9z"/>
<path fill="#6ece58" d="M599.9 193.8l6.9 3 3.8 3.3-7-3.2z"/>
<path fill="#93d741" d="M501 170.5l8.3 2.5 3.9 5.5-8.3-2.7z"/>
<path fill="#c0df25" d="M366.4 150.6l6.9.7 4-4.3-6.8-1z"/>
<path fill="#8ed645" d="M346.1 180.7l4.4.2 2.9-7.3-4.4-.2z"/>
<path fill="#481c6e" d="M471.1 445.7l4.6 11.2 3.3 41.9-4.4-35.7z"/>
<path fill="#60ca60" d="M613.8 200.9l6.9 4.7 3.6 4.6-6.8-5.5z"/>
<path fill="#28ae80" d="M146.4 257.2l6.2-9.8 4 4.3-6.1 11.4z"/>
<path fill="#69cd5b" d="M606.8 196.8l4.6 2.6 3.7 3.6-4.5-2.9z"/>
<path fill="#addc30" d="M462.4 156.3l6.9 1.8 4 2.6-6.9-2z"/>
<path fill="#4ec36b" d="M716.4 223l6.1-10 3.6 2.6-6.1 11.2z"/>
<path fill="#65cb5e" d="M611.4 199.4l2.4 1.5 3.7 3.8-2.4-1.7z"/>
<path fill="#481b6d" d="M361.6 460.9l4.6-12.5 3.4 13.8-4.3 36.4z"/>
<path fill="#2fb47c" d="M179.1 247l5.1-4.5 1.7 2.9-5.2 4.2z"/>
<path fill="#95d840" d="M349 173.4l4.4.2 1-2.3-4.4-.2z"/>
<path fill="#2eb37c" d="M168.1 248.1l6.3-7.5 4.7 6.4-6.4 6.9z"/>
<path fill="#2ab07f" d="M239.1 247.6l6.9 2.1 4.4 7.1-6.8-2.2z"/>
<path fill="#addc30" d="M354 162.9l4.4.3 4-6.9-4.4-.4z"/>
<path fill="#25848e" d="M589.5 322.4l1.7 8.5 4-8.5-1.7-7.7z"/>
<path fill="#77d153" d="M575.2 188.2l7 0 3.7 3.2-7 .7z"/>
<path fill="#2f6c8e" d="M616.6 369.7l7.8-27.5 2.8 7.9-8 34.2z"/>
<path fill="#1f978b" d="M285.8 281.5l4.4.3 4.7 20.7-4.3.3z"/>
<path fill="#228c8d" d="M614.6 318.1l9.7 10.9 4.5-28.2-9.8-7.5z"/>
<path fill="#a0da39" d="M350 171.1l4.4.2 4-8.1-4.4-.3z"/>
<path fill="#bade28" d="M437.7 150.9l6.9 1.2 4 1.3-6.9-1.1z"/>
<path fill="#26ad81" d="M249.3 251.9l3.6 3.1 4.5 8.1-3.6-3.8z"/>
<path fill="#306a8e" d="M605.4 354.1l7.4-12.2 3.8 27.8-7.6 22.7z"/>
<path fill="#26828e" d="M588.5 323.2l1.7 8.5 1-.8-1.7-8.5z"/>
<path fill="#1f9a8a" d="M331.6 292.2l6.7-8.2 2.8.5-6.7 9.5z"/>
<path fill="#1f978b" d="M319.3 293.9l6.6-9.5 4.3 6.3-6.5 13.1z"/>
<path fill="#81d34d" d="M347.3 189.6l6.9-.2 3.1-8.6-6.8.1z"/>
<path fill="#3dbc74" d="M673.1 230l7.2-4.4 3.4 8.1-7.3 6.1z"/>
<path fill="#23898e" d="M624.3 329l4.5-1.4 4.6-27.6-4.6.8z"/>
<path fill="#1f9e89" d="M269.4 269l7 7.1 4.8 19.5-7-10.2z"/>
<path fill="#2d718e" d="M380.4 342.1l6.7-2.1 4.4 23.5-6.7 5.5z"/>
<path fill="#29af7f" d="M246 249.7l3.3 2.2 4.5 7.4-3.4-2.5z"/>
<path fill="#31b57b" d="M185.9 245.4l7.8-5.5 3.1 5.9-7.9 5.3z"/>
<path fill="#21a585" d="M349 277.3l6.8-4.5 4.1-8.7-6.7 4.5z"/>
<path fill="#c2df23" d="M384.2 148l6.9.9 4.8-2.9-6.9-1.2z"/>
<path fill="#7cd250" d="M557.4 185.6l7-.6 3.7 4.1-7 1.7z"/>
<path fill="#90d743" d="M509.3 173l5 1.2 3.8 5.5-4.9-1.2z"/>
<path fill="#20938c" d="M361.7 294.4l7.1 16.4 3.8-7.4-7-14.3z"/>
<path fill="#34b679" d="M354.3 251.9l6.7-6.1 3.9-12.6-6.7 4.6z"/>
<path fill="#b8de29" d="M362.4 156.3l6.9.5 4-5.5-6.9-.7z"/>
<path fill="#c0df25" d="M419.8 148.5l6.1 1 4.1.2-6.1-.8z"/>
<path fill="#70cf57" d="M746.2 201.6l7.6-10.6 3.7-1.1-7.6 10.5z"/>
<path fill="#1f948c" d="M408.6 313l6.7-3.4 3.9-25.8-6.7 2.2z"/>
<path fill="#70cf57" d="M349.5 204.3l6.8-1.4 4.7-14.2-6.8.7z"/>
<path fill="#1fa188" d="M345 282.7l6.7-4.1 4.1-5.8-6.8 4.5z"/>
<path fill="#c2df23" d="M402.8 147.1l6.8 1.1 3.3-.7-6.8-1.2z"/>
<path fill="#addc30" d="M469.3 158.1l7.1 2.2 3.9 2.8-7-2.4z"/>
<path fill="#1f988b" d="M365.6 289.1l7 14.3 4-11.8-7-11.3z"/>
<path fill="#482475" d="M365.3 498.6l4.3-36.4 4.6-31.6-4.8 7.5z"/>
<path fill="#2cb17e" d="M99.1 241.2l2.8 2.1 5.4 17.6-2.7-1.1z"/>
<path fill="#287c8e" d="M584.4 325.1l3.9 17 2.9 8.4-3.8-19.7z"/>
<path fill="#c0df25" d="M373.3 151.3l6.9.8 4-4.1-6.9-1z"/>
<path fill="#5cc863" d="M352.4 216.7l6.8-2.8 3.9-12.7-6.8 1.7z"/>
<path fill="#8ed645" d="M350.5 180.9l6.8-.1 3-7.1-6.9-.1z"/>
<path fill="#1e9d89" d="M387.7 288l6.9 11.6 3.9-22-7-7.8z"/>
<path fill="#25ab82" d="M353.2 268.6l6.7-4.5 4-10.3-6.8 4.1z"/>
<path fill="#84d44b" d="M761.2 188.6l7.5-8.6 3.7-1.3-7.6 8.5z"/>
<path fill="#2fb47c" d="M91.8 234.5l7.3 6.7 5.5 18.6-7.2-5.5z"/>
<path fill="#2ab07f" d="M101.9 243.3l3.9 2.2 5.3 15.9-3.8-.5z"/>
<path fill="#228c8d" d="M593.5 314.7l1.7 7.7 4.1-14.5-1.7-6.4z"/>
<path fill="#addc30" d="M358.4 163.2l6.9.3 4-6.7-6.9-.5z"/>
<path fill="#84d44b" d="M539.6 181.6l7-.1 3.8 5-7 .9z"/>
<path fill="#98d83e" d="M353.4 173.6l6.9.1 1-2.2-6.9-.2z"/>
<path fill="#27ad81" d="M126 254.9l4.6-3.5 4.8 7.9-4.4 6z"/>
<path fill="#21908d" d="M599.3 307.9l3.9 14.3 4.3-20.7-3.9-10.9z"/>
<path fill="#bade28" d="M444.6 152.1l6.9 1.3 4 1.3-6.9-1.3z"/>
<path fill="#a0da39" d="M354.4 171.3l6.9.2 4-8-6.9-.3z"/>
<path fill="#21918c" d="M359 296l7.1 17 2.7-2.2-7.1-16.4z"/>
<path fill="#42be71" d="M654.9 225l10.1-.4 3.5 7.4-10.1 1.1z"/>
<path fill="#1f978b" d="M308.2 290.3l6.7-7.9 4.4 11.5-6.5 12.3z"/>
<path fill="#34b679" d="M89.6 232.2l2.2 2.3 5.6 19.8-2.2-2.3z"/>
<path fill="#90d743" d="M514.3 174.2l7.5 1.4 3.8 5.3-7.5-1.2z"/>
<path fill="#c0df25" d="M425.9 149.5l3.4.5 4 .2-3.3-.5z"/>
<path fill="#50c46a" d="M355.3 228.2l6.8-4.1 3.9-12.9-6.8 2.7z"/>
<path fill="#7ad151" d="M582.2 188.2l7 1 3.7 2.7-7-.5z"/>
<path fill="#a8db34" d="M476.4 160.3l6.8 2.2 3.9 3.1-6.8-2.5z"/>
<path fill="#26828e" d="M585.7 322.6l1.7 8.2 2.8.9-1.7-8.5z"/>
<path fill="#c2df23" d="M391.1 148.9l6.9 1 4.8-2.8-6.9-1.1z"/>
<path fill="#31b57b" d="M221.2 243.1l6.6-2.5 4.6 8-6.6 3.7z"/>
<path fill="#32b67a" d="M203.3 241.5l6.6-3.8 4.7 9.4-6.6 4.9z"/>
<path fill="#2fb47c" d="M160.2 246.2l2.7-3.7 5.2 5.6-2.8 3.8z"/>
<path fill="#297a8e" d="M366.3 323.5l7 12.5 4.5 24.1-7.1-18.3z"/>
<path fill="#c2df23" d="M409.6 148.2l6.9 1 3.3-.7-6.9-1z"/>
<path fill="#b8de29" d="M369.3 156.8l6.8.5 4.1-5.2-6.9-.8z"/>
<path fill="#84d44b" d="M354.2 189.4l6.8-.7 3.2-8.2-6.9.3z"/>
<path fill="#1f998a" d="M290.2 281.8l6.8-2.2 4.6 18.3-6.7 4.6z"/>
<path fill="#1e9b8a" d="M330.2 290.7l6.7-7.5 1.4.8-6.7 8.2z"/>
<path fill="#1f9f88" d="M341.1 284.5l6.7-3.1 3.9-2.8-6.7 4.1z"/>
<path fill="#21a585" d="M262.4 260.7l7 8.3 4.8 16.4-7.2-11.5z"/>
<path fill="#38b977" d="M84.7 227l4.9 5.2 5.6 19.8-4.9-5.9z"/>
<path fill="#2ab07f" d="M105.8 245.5l6.8 1.7 5.1 12.7-6.6 1.5z"/>
<path fill="#2a778e" d="M584.1 323.3l7 19.7 3.9 29.7-6.7-30.6z"/>
<path fill="#1fa188" d="M369.6 280.3l7 11.3 4.1-14.5-7-8.3z"/>
<path fill="#c0df25" d="M429.3 150l4.3.7 4.1.2-4.4-.7z"/>
<path fill="#2eb37c" d="M357.1 257.9l6.8-4.1 3.9-11.4-6.8 3.4z"/>
<path fill="#c0df25" d="M380.2 152.1l6.8.7 4.1-3.9-6.9-.9z"/>
<path fill="#1f948c" d="M607.5 301.5l7.1 16.6 4.4-24.8-7.2-11.8z"/>
<path fill="#a5db36" d="M483.2 162.5l6.9 2.2 3.9 3.4-6.9-2.5z"/>
<path fill="#81d34d" d="M564.4 185l7 0 3.8 3.2-7.1.9z"/>
<path fill="#b8de29" d="M451.5 153.4l6.9 1.5 4 1.4-6.9-1.6z"/>
<path fill="#21918c" d="M357.7 296.2l7.1 17.1 1.3-.3-7.1-17z"/>
<path fill="#44bf70" d="M358.2 237.8l6.7-4.6 4-12.4-6.8 3.3z"/>
<path fill="#93d741" d="M357.3 180.8l6.9-.3 2.9-6.9-6.8.1z"/>
<path fill="#b0dd2f" d="M365.3 163.5l6.8.3 4-6.5-6.8-.5z"/>
<path fill="#482677" d="M352.7 428.2l8.9 32.7 3.7 37.7-9.2-62.4z"/>
<path fill="#5ec962" d="M726.1 215.6l9.2-14.1 3.2.6-9.2 15z"/>
<path fill="#7ad151" d="M589.2 189.2l6.9 2.1 3.8 2.5-7-1.9z"/>
<path fill="#22a785" d="M355.8 272.8l6.1.7 4.1-9.5-6.1.1z"/>
<path fill="#75d054" d="M356.3 202.9l6.8-1.7 4.7-13.4-6.8.9z"/>
<path fill="#20a486" d="M380.7 277.1l7 10.9 3.8-18.2-6.9-7.5z"/>
<path fill="#1fa088" d="M361.2 283.2l4.4 5.9 4-8.8-4.4-4.7z"/>
<path fill="#90d743" d="M521.8 175.6l7 .9 3.8 5-7-.6z"/>
<path fill="#1fa287" d="M351.7 278.6l6.1 1.7 4.1-6.8-6.1-.7z"/>
<path fill="#9bd93c" d="M360.3 173.7l6.8-.1 1-2.1-6.8 0z"/>
<path fill="#a2da37" d="M361.3 171.5l6.8 0 4-7.7-6.8-.3z"/>
<path fill="#c2df23" d="M398 149.9l6.9.8 4.7-2.5-6.8-1.1z"/>
<path fill="#86d549" d="M546.6 181.5l7 0 3.8 4.1-7 .9z"/>
<path fill="#48c16e" d="M691.1 226.2l7.4-8 3.5 5.8-7.5 10.3z"/>
<path fill="#a2da37" d="M490.1 164.7l6.9 2.1 4 3.7-7-2.4z"/>
<path fill="#472f7d" d="M356.1 436.2l9.2 62.4 4.1-60.5-8.6-23.4z"/>
<path fill="#c2df23" d="M416.5 149.2l6.2.9 3.2-.6-6.1-1z"/>
<path fill="#73d056" d="M742.5 202.2l7.6-10.5 3.7-.7-7.6 10.6z"/>
<path fill="#1e9b8a" d="M357.3 287.5l4.4 6.9 3.9-5.3-4.4-5.9z"/>
<path fill="#24868e" d="M631.6 344.9l7.7-21.4 4.3-20.1-7.5 14.8z"/>
<path fill="#c0df25" d="M433.6 150.7l7 1.2 4 .2-6.9-1.2z"/>
<path fill="#218e8d" d="M628.8 327.6l7.3-9.4 4.5-24.2-7.2 6z"/>
<path fill="#1fa187" d="M357.8 280.3l3.4 2.9 4-7.6-3.3-2.1z"/>
<path fill="#4ec36b" d="M702 224l7.4-9.8 3.6 4.4-7.6 12z"/>
<path fill="#21a585" d="M365.2 275.6l4.4 4.7 4.1-11.5-4.4-3.3z"/>
<path fill="#86d549" d="M757.5 189.9l7.5-8.7 3.7-1.2-7.5 8.6z"/>
<path fill="#63cb5f" d="M359.2 213.9l6.8-2.7 3.9-11.8-6.8 1.8z"/>
<path fill="#27ad81" d="M359.9 264.1l6.1-.1 3.9-10.7-6 .5z"/>
<path fill="#bade28" d="M376.1 157.3l6.9.5 4-5-6.8-.7z"/>
<path fill="#37b878" d="M184.2 242.5l7.9-5.6 1.6 3-7.8 5.5z"/>
<path fill="#b8de29" d="M458.4 154.9l6.9 1.8 4 1.4-6.9-1.8z"/>
<path fill="#77d153" d="M596.1 191.3l7 3 3.7 2.5-6.9-3z"/>
<path fill="#22a785" d="M361.9 273.5l3.3 2.1 4.1-10.1-3.3-1.5z"/>
<path fill="#46c06f" d="M665 224.6l4.6-1.3 3.5 6.7-4.6 2z"/>
<path fill="#c0df25" d="M387 152.8l6.9.7 4.1-3.6-6.9-1z"/>
<path fill="#37b878" d="M174.4 240.6l5.2-4.8 4.6 6.7-5.1 4.5z"/>
<path fill="#25ab82" d="M257.4 255l5 5.7 4.6 13.2-5-7.7z"/>
<path fill="#5cc863" d="M623.9 207.2l6.9 4.4 3.7 4.2-6.9-5z"/>
<path fill="#3bbb75" d="M361 245.8l6.8-3.4 4-11.9-6.9 2.7z"/>
<path fill="#56c667" d="M630.8 211.6l7 4 3.6 4.6-6.9-4.4z"/>
<path fill="#73d056" d="M603.1 194.3l4.6 2.5 3.7 2.6-4.6-2.6z"/>
<path fill="#65cb5e" d="M617 202.5l6.9 4.7 3.7 3.6-6.9-5.2z"/>
<path fill="#86d549" d="M361 188.7l6.8-.9 3.2-7.8-6.8.5z"/>
<path fill="#54c568" d="M637.8 215.6l1.9.9 3.6 4.7-1.9-1z"/>
<path fill="#1fa188" d="M347.8 281.4l6.1 2.6 3.9-3.7-6.1-1.7z"/>
<path fill="#1f978b" d="M597.6 301.5l1.7 6.4 4.3-17.3-1.8-4.9z"/>
<path fill="#70cf57" d="M607.7 196.8l2.3 1.4 3.8 2.7-2.4-1.5z"/>
<path fill="#6ccd5a" d="M610 198.2l7 4.3 3.7 3.1-6.9-4.7z"/>
<path fill="#38b977" d="M193.7 239.9l6.6-4.1 3 5.7-6.5 4.3z"/>
<path fill="#2a788e" d="M398.2 347.9l6.7-18.5 4.2 8.9-6.7 26.2z"/>
<path fill="#1fa088" d="M338.3 284l6.8-2.2 2.7-.4-6.7 3.1z"/>
<path fill="#32b67a" d="M152.6 247.4l3.6-4.9 4 3.7-3.6 5.5z"/>
<path fill="#c2df23" d="M422.7 150.1l3.3.5 3.3-.6-3.4-.5z"/>
<path fill="#56c667" d="M713 218.6l6-8.6 3.5 3-6.1 10z"/>
<path fill="#84d44b" d="M571.4 185l7 .7 3.8 2.5-7 0z"/>
<path fill="#1f9f88" d="M353.9 284l3.4 3.5 3.9-4.3-3.4-2.9z"/>
<path fill="#48c16e" d="M680.3 225.6l7.3-5.6 3.5 6.2-7.4 7.5z"/>
<path fill="#52c569" d="M639.7 216.5l4.2 1.7 3.6 4.9-4.2-1.9z"/>
<path fill="#a0da39" d="M497 166.8l8.4 2.3 3.9 3.9-8.3-2.5z"/>
<path fill="#35b779" d="M227.8 240.6l6.8-.5 4.5 7.5-6.7 1z"/>
<path fill="#24aa83" d="M373.7 268.8l7 8.3 3.9-14.8-7-5.8z"/>
<path fill="#2db27d" d="M112.6 247.2l6.6-.5 5 9.5-6.5 3.7z"/>
<path fill="#b0dd2f" d="M372.1 163.8l6.9.2 4-6.2-6.9-.5z"/>
<path fill="#c5e021" d="M404.9 150.7l6.9 1 4.7-2.5-6.9-1z"/>
<path fill="#90d743" d="M528.8 176.5l6.9.7 3.9 4.4-7-.1z"/>
<path fill="#1f998a" d="M415.3 309.6l6.9-9.4 3.9-22.6-6.9 6.2z"/>
<path fill="#20928c" d="M418.1 325.8l6.8-18.4 4.1-19.9-6.8 12.7z"/>
<path fill="#56c667" d="M362.1 224.1l6.8-3.3 3.9-11.8-6.8 2.2z"/>
<path fill="#95d840" d="M364.2 180.5l6.8-.5 3-6.6-6.9.2z"/>
<path fill="#2fb47c" d="M141.7 251.1l6.3-7.7 4.6 4-6.2 9.8z"/>
<path fill="#b5de2b" d="M465.3 156.7l7.1 1.9 4 1.7-7.1-2.2z"/>
<path fill="#28ae80" d="M366 264l3.3 1.5 4-11.3-3.4-.9z"/>
<path fill="#238a8d" d="M356.4 303.4l7.1 18.1 4.3 10.8-7.2-22z"/>
<path fill="#c0df25" d="M440.6 151.9l6.9 1.3 4 .2-6.9-1.3z"/>
<path fill="#1f9a8a" d="M354.6 288.8l4.4 7.2 2.7-1.6-4.4-6.9z"/>
<path fill="#a5db36" d="M368.1 171.5l6.9-.1 4-7.4-6.9-.2z"/>
<path fill="#9dd93b" d="M367.1 173.6l6.9-.2 1-2-6.9.1z"/>
<path fill="#26ad81" d="M369.3 265.5l4.4 3.3 3.9-12.3-4.3-2.3z"/>
<path fill="#31b57b" d="M363.9 253.8l6-.5 4-11.6-6.1.7z"/>
<path fill="#28ae80" d="M255.4 252.8l2 2.2 4.6 11.2-2.1-2.9z"/>
<path fill="#c2df23" d="M426 150.6l4.4.7 3.2-.6-4.3-.7z"/>
<path fill="#22a884" d="M398.5 277.6l6.9 6 3.9-21.9-6.9-3.9z"/>
<path fill="#50c46a" d="M643.9 218.2l7.4 2 3.6 4.8-7.4-1.9z"/>
<path fill="#20928c" d="M353.5 294.2l7.1 16.1 4.2 3-7.1-17.1z"/>
<path fill="#2eb37c" d="M130.6 251.4l6.4-5.3 4.7 5-6.3 8.2z"/>
<path fill="#8bd646" d="M553.6 181.5l6.9.2 3.9 3.3-7 .6z"/>
<path fill="#bade28" d="M383 157.8l6.9.5 4-4.8-6.9-.7z"/>
<path fill="#7ad151" d="M363.1 201.2l6.8-1.8 4.8-12.5-6.9.9z"/>
<path fill="#c2df23" d="M393.9 153.5l6.9.7 4.1-3.5-6.9-.8z"/>
<path fill="#38b977" d="M209.9 237.7l6.6-3.1 4.7 8.5-6.6 4z"/>
<path fill="#24868e" d="M582.7 317.8l1.7 7.3 3 5.7-1.7-8.2z"/>
<path fill="#2a788e" d="M387.1 340l6.8-8.9 4.3 16.8-6.7 15.6z"/>
<path fill="#a0da39" d="M505.4 169.1l5 1.2 3.9 3.9-5-1.2z"/>
<path fill="#38b977" d="M162.9 242.5l6.4-7.4 5.1 5.5-6.3 7.5z"/>
<path fill="#1f9f88" d="M325.9 284.4l6.8-5.2 4.2 4-6.7 7.5z"/>
<path fill="#21a685" d="M405.4 283.6l7.1 2.4 3.9-22.8-7.1-1.5z"/>
<path fill="#25ac82" d="M391.5 269.8l7 7.8 3.9-19.8-7-5.1z"/>
<path fill="#b2dd2d" d="M472.4 158.6l6.8 2 4 1.9-6.8-2.2z"/>
<path fill="#1f9e89" d="M603.6 290.6l3.9 10.9 4.3-20-4-8.1z"/>
<path fill="#4cc26c" d="M364.9 233.2l6.9-2.7 3.9-11.7-6.8 2z"/>
<path fill="#2db27d" d="M248.4 246.4l7 6.4 4.5 10.5-7-8.3z"/>
<path fill="#84d44b" d="M578.4 185.7l7 1.5 3.8 2-7-1z"/>
<path fill="#1f9f88" d="M297 279.6l6.7-4.2 4.5 14.9-6.6 7.6z"/>
<path fill="#c5e021" d="M411.8 151.7l6.1.8 4.8-2.4-6.2-.9z"/>
<path fill="#20928c" d="M583.1 294.5l6.4 27.9 4-7.7-6.5-25.9z"/>
<path fill="#1f9e89" d="M351.2 285l3.4 3.8 2.7-1.3-3.4-3.5z"/>
<path fill="#c0df25" d="M447.5 153.2l6.9 1.5 4 .2-6.9-1.5z"/>
<path fill="#35b779" d="M234.6 240.1l6.8 2 4.6 7.6-6.9-2.1z"/>
<path fill="#1fa188" d="M345.1 281.8l6.1 3.2 2.7-1-6.1-2.6zM336.9 283.2l6.8-1.7 1.4.3-6.8 2.2z"/>
<path fill="#1f9a8a" d="M353.2 288.8l4.5 7.4 1.3-.2-4.4-7.2z"/>
<path fill="#b2dd2d" d="M379 164l6.9.2 4-5.9-6.9-.5z"/>
<path fill="#c2df23" d="M430.4 151.3l6.9 1.2 3.3-.6-7-1.2z"/>
<path fill="#32b67a" d="M369.9 253.3l3.4.9 3.9-12-3.3-.5z"/>
<path fill="#2fb47c" d="M119.2 246.7l2-.4 4.8 8.6-1.8 1.3z"/>
<path fill="#8bd646" d="M367.8 187.8l6.9-.9 3.2-7.4-6.9.5z"/>
<path fill="#93d741" d="M535.7 177.2l7 .6 3.9 3.7-7 .1z"/>
<path fill="#69cd5b" d="M366 211.2l6.8-2.2 4-11-6.9 1.4z"/>
<path fill="#86d549" d="M753.8 191l7.6-8.7 3.6-1.1-7.5 8.7z"/>
<path fill="#1f988b" d="M587 288.8l6.5 25.9 4.1-13.2-6.5-22.1z"/>
<path fill="#29af7f" d="M384.6 262.3l6.9 7.5 3.9-17.1-6.9-5.1z"/>
<path fill="#21918c" d="M582.1 295.2l6.4 28 1-.8-6.4-27.9z"/>
<path fill="#4ec36b" d="M669.6 223.3l7.2-3.3 3.5 5.6-7.2 4.4z"/>
<path fill="#65cb5e" d="M722.5 213l9.1-12.8 3.7 1.3-9.2 14.1z"/>
<path fill="#31b57b" d="M244.8 243.8l3.6 2.6 4.5 8.6-3.6-3.1z"/>
<path fill="#3fbc73" d="M367.8 242.4l6.1-.7 3.9-11.9-6 .7z"/>
<path fill="#9dd93b" d="M510.4 170.3l7.5 1.5 3.9 3.8-7.5-1.4z"/>
<path fill="#34b679" d="M241.4 242.1l3.4 1.7 4.5 8.1-3.3-2.2z"/>
<path fill="#75d054" d="M738.5 202.1l7.6-10.1 4-.3-7.6 10.5z"/>
<path fill="#a8db34" d="M375 171.4l6.9-.1 4-7.1-6.9-.2z"/>
<path fill="#98d83e" d="M371 180l6.9-.5 3-6.3-6.9.2z"/>
<path fill="#b0dd2f" d="M479.2 160.6l6.9 2 4 2.1-6.9-2.2z"/>
<path fill="#32b67a" d="M373.3 254.2l4.3 2.3 4-12.8-4.4-1.5z"/>
<path fill="#a0da39" d="M374 173.4l6.9-.2 1-1.9-6.9.1z"/>
<path fill="#c2df23" d="M400.8 154.2l6.9.8 4.1-3.3-6.9-1z"/>
<path fill="#bddf26" d="M389.9 158.3l6.9.5 4-4.6-6.9-.7z"/>
<path fill="#2eb37c" d="M377.6 256.5l7 5.8 3.9-14.7-6.9-3.9z"/>
<path fill="#c5e021" d="M417.9 152.5l3.3.5 4.8-2.4-3.3-.5z"/>
<path fill="#81d34d" d="M585.4 187.2l6.9 2.4 3.8 1.7-6.9-2.1z"/>
<path fill="#24878e" d="M359.2 308.6l7.1 14.9 4.4 18.3-7.2-20.3z"/>
<path fill="#8bd646" d="M560.5 181.7l7 .8 3.9 2.5-7 0z"/>
<path fill="#1fa088" d="M314.9 282.4l6.7-6.1 4.3 8.1-6.6 9.5z"/>
<path fill="#38b977" d="M156.2 242.5l2.7-3.5 4 3.5-2.7 3.7z"/>
<path fill="#50c46a" d="M651.3 220.2l10.1.1 3.6 4.3-10.1.4z"/>
<path fill="#bddf26" d="M454.4 154.7l6.9 1.6 4 .4-6.9-1.8z"/>
<path fill="#1fa088" d="M619 293.3l9.8 7.5 5.3-26.9-10-5.1z"/>
<path fill="#1f9f88" d="M349.8 284.9l3.4 3.9 1.4 0-3.4-3.8z"/>
<path fill="#5cc863" d="M368.9 220.8l6.8-2 4-11.2-6.9 1.4z"/>
<path fill="#22a785" d="M412.5 286l6.7-2.2 3.9-22-6.7 1.4z"/>
<path fill="#1fa188" d="M343.7 281.5l6.1 3.4 1.4.1-6.1-3.2z"/>
<path fill="#c2df23" d="M437.3 152.5l6.9 1.3 3.3-.6-6.9-1.3z"/>
<path fill="#7fd34e" d="M369.9 199.4l6.9-1.4 4.7-11.8-6.8.7z"/>
<path fill="#c5e021" d="M421.2 153l4.4.7 4.8-2.4-4.4-.7z"/>
<path fill="#40bd72" d="M192.1 236.9l6.5-4 1.7 2.9-6.6 4.1z"/>
<path fill="#addc30" d="M486.1 162.6l7 1.9 3.9 2.3-6.9-2.1z"/>
<path fill="#7fd34e" d="M592.3 189.6l7 3.2 3.8 1.5-7-3z"/>
<path fill="#3fbc73" d="M200.3 235.8l6.6-3.4 3 5.3-6.6 3.8z"/>
<path fill="#20a386" d="M601.8 285.7l1.8 4.9 4.2-17.2-1.8-3.7z"/>
<path fill="#40bd72" d="M179.6 235.8l7.8-5.9 4.7 7-7.9 5.6z"/>
<path fill="#b5de2b" d="M385.9 164.2l6.9.3 4-5.7-6.9-.5z"/>
<path fill="#32b67a" d="M121.2 246.3l4.7-1.4 4.7 6.5-4.6 3.5z"/>
<path fill="#40bd72" d="M373.9 241.7l3.3.5 4-12.1-3.4-.3z"/>
<path fill="#21918c" d="M579.2 295.5l6.5 27.1 2.8.6-6.4-28z"/>
<path fill="#1f9f88" d="M628.8 300.8l4.6-.8 5.2-26.5-4.5.4z"/>
<path fill="#9dd93b" d="M517.9 171.8l7 1.2 3.9 3.5-7-.9z"/>
<path fill="#24878e" d="M414.5 341.4l8.1-30.6 2.7-3.6-8.2 30z"/>
<path fill="#93d741" d="M542.7 177.8l7 .6 3.9 3.1-7 0z"/>
<path fill="#26828e" d="M630.9 351l8-30.4 4-6.9-7.9 27.2z"/>
<path fill="#7ad151" d="M599.3 192.8l4.6 2.5 3.8 1.5-4.6-2.5z"/>
<path fill="#50c46a" d="M371.8 230.5l6-.7 4-11.6-6.1.6z"/>
<path fill="#27808e" d="M630 351.9l7.9-30.6 1-.7-8 30.4z"/>
<path fill="#c2df23" d="M407.7 155l6.1.8 4.1-3.3-6.1-.8z"/>
<path fill="#21a585" d="M611.8 281.5l7.2 11.8 5.1-24.5-7.2-8.1z"/>
<path fill="#77d153" d="M603.9 195.3l2.4 1.4 3.7 1.5-2.3-1.4z"/>
<path fill="#bade28" d="M461.3 156.3l7.1 1.8 4 .5-7.1-1.9z"/>
<path fill="#73d056" d="M606.3 196.7l6.9 4.3 3.8 1.5-7-4.3z"/>
<path fill="#1fa188" d="M591.1 279.4l6.5 22.1 4.2-15.8-6.7-17.9z"/>
<path fill="#228c8d" d="M417.1 337.2l8.2-30 3.9-8.6-8.3 26.5z"/>
<path fill="#6ccd5a" d="M613.2 201l6.9 4.5 3.8 1.7-6.9-4.7z"/>
<path fill="#65cb5e" d="M620.1 205.5l7 4.3 3.7 1.8-6.9-4.4z"/>
<path fill="#90d743" d="M374.7 186.9l6.8-.7 3.2-7.1-6.8.4z"/>
<path fill="#bddf26" d="M396.8 158.8l6.9.6 4-4.4-6.9-.8z"/>
<path fill="#3fbc73" d="M216.5 234.6l6.8-1.7 4.5 7.7-6.6 2.5z"/>
<path fill="#aadc32" d="M381.9 171.3l6.9 0 4-6.8-6.9-.3z"/>
<path fill="#453781" d="M481.4 480.8l7.2-47.3 4.6-18-7.1 24.5z"/>
<path fill="#60ca60" d="M627.1 209.8l6.9 3.8 3.8 2-7-4z"/>
<path fill="#8ed645" d="M567.5 182.5l7 1.4 3.9 1.8-7-.7z"/>
<path fill="#40bd72" d="M377.2 242.2l4.4 1.5 3.9-12.7-4.3-.9z"/>
<path fill="#1e9c89" d="M349 287l4.5 7.2 4.2 2-4.5-7.4z"/>
<path fill="#9bd93c" d="M377.9 179.5l6.8-.4 3-5.9-6.8 0z"/>
<path fill="#24868e" d="M413.1 342l8.2-30.2 1.3-1-8.1 30.6z"/>
<path fill="#a2da37" d="M380.9 173.2l6.8 0 1.1-1.9-6.9 0z"/>
<path fill="#5cc863" d="M634 213.6l1.9.9 3.8 2-1.9-.9z"/>
<path fill="#6ece58" d="M372.8 209l6.9-1.4 3.9-10.5-6.8.9z"/>
<path fill="#c5e021" d="M425.6 153.7l6.9 1.1 4.8-2.3-6.9-1.2z"/>
<path fill="#c2df23" d="M444.2 153.8l6.9 1.5 3.3-.6-6.9-1.5z"/>
<path fill="#addc30" d="M493.1 164.5l8.4 2.1 3.9 2.5-8.4-2.3z"/>
<path fill="#5ac864" d="M698.5 218.2l7.4-8 3.5 4-7.4 9.8z"/>
<path fill="#3aba76" d="M148 243.4l3.6-4.2 4.6 3.3-3.6 4.9z"/>
<path fill="#24878e" d="M580.1 310.9l4 12.4 4.2 18.8-3.9-17z"/>
<path fill="#5cc863" d="M635.9 214.5l4.2 1.8 3.8 1.9-4.2-1.7z"/>
<path fill="#20a386" d="M332.7 279.2l6.8-.3 4.2 2.6-6.8 1.7z"/>
<path fill="#56c667" d="M687.6 220l7.3-6.3 3.6 4.5-7.4 8z"/>
<path fill="#60ca60" d="M709.4 214.2l6-7.3 3.6 3.1-6 8.6z"/>
<path fill="#89d548" d="M750.1 191.7l7.6-8.6 3.7-.8-7.6 8.7z"/>
<path fill="#3fbc73" d="M381.6 243.7l6.9 3.9 3.9-14-6.9-2.6z"/>
<path fill="#c2df23" d="M413.8 155.8l3.4.4 4-3.2-3.3-.5z"/>
<path fill="#54c568" d="M661.4 220.3l4.6-.8 3.6 3.8-4.6 1.3z"/>
<path fill="#46327e" d="M478.1 454.1l7-29.4 3.5 8.8-7.2 47.3z"/>
<path fill="#bade28" d="M468.4 158.1l6.8 1.7 4 .8-6.8-2z"/>
<path fill="#9dd93b" d="M524.9 173l7 1.1 3.8 3.1-6.9-.7z"/>
<path fill="#3aba76" d="M388.5 247.6l6.9 5.1 4-15.7-7-3.4z"/>
<path fill="#b5de2b" d="M392.8 164.5l6.9.4 4-5.5-6.9-.6z"/>
<path fill="#52c569" d="M377.8 229.8l3.4.3 3.9-11.8-3.3-.1z"/>
<path fill="#1f978b" d="M636.1 318.2l7.5-14.8 4.4-19.6-7.4 10.2z"/>
<path fill="#35b779" d="M395.4 252.7l7 5.1 3.9-17.4-6.9-3.4z"/>
<path fill="#60ca60" d="M375.7 218.8l6.1-.6 4-11.1-6.1.5z"/>
<path fill="#228b8d" d="M635 340.9l7.9-27.2 4.1-12.1-7.7 21.9z"/>
<path fill="#95d840" d="M549.7 178.4l7 1 3.8 2.3-6.9-.2z"/>
<path fill="#5ac864" d="M640.1 216.3l7.5 2.2 3.7 1.7-7.4-2z"/>
<path fill="#42be71" d="M169.3 235.1l5.2-5 5.1 5.7-5.2 4.8z"/>
<path fill="#8bd646" d="M574.5 183.9l7 2.1 3.9 1.2-7-1.5z"/>
<path fill="#38b977" d="M137 246.1l6.5-5.7 4.5 3-6.3 7.7z"/>
<path fill="#81d34d" d="M376.8 198l6.8-.9 4.8-11.3-6.9.4z"/>
<path fill="#bddf26" d="M403.7 159.4l6.1.7 4-4.3-6.1-.8z"/>
<path fill="#7ad151" d="M735.3 201.5l7.5-9.6 3.3.1-7.6 10.1z"/>
<path fill="#1fa188" d="M345.7 282.9l3.3 4.1 4.2 1.8-3.4-3.9z"/>
<path fill="#26818e" d="M627.2 350.1l7.9-29.4 2.8.6-7.9 30.6z"/>
<path fill="#aadc32" d="M501.5 166.6l5 1.2 3.9 2.5-5-1.2z"/>
<path fill="#32b67a" d="M402.4 257.8l6.9 3.9 3.9-18.7-6.9-2.6z"/>
<path fill="#c2df23" d="M417.2 156.2l4.4.6 4-3.1-4.4-.7z"/>
<path fill="#c0df25" d="M451.1 155.3l7 1.5 3.2-.5-6.9-1.6z"/>
<path fill="#24aa83" d="M271.7 259.8l7 3.6 4.7 17.3-7-4.6z"/>
<path fill="#56c667" d="M676.8 220l7.2-4.3 3.6 4.3-7.3 5.6z"/>
<path fill="#c2df23" d="M432.5 154.8l6.9 1.2 4.8-2.2-6.9-1.3z"/>
<path fill="#25ac82" d="M607.8 273.4l4 8.1 5.1-20.8-4.1-5.7z"/>
<path fill="#1f988b" d="M349.3 289.2l7.1 14.2 4.2 6.9-7.1-16.1z"/>
<path fill="#1fa287" d="M339.5 278.9l6.2 4 4.1 2-6.1-3.4z"/>
<path fill="#aadc32" d="M388.8 171.3l6.8.2 4.1-6.6-6.9-.4z"/>
<path fill="#424186" d="M467.8 417.9l6.8 45.2 4.5-30.2-6.8-29.9z"/>
<path fill="#20a486" d="M303.7 275.4l6.7-4.6 4.5 11.6-6.7 7.9z"/>
<path fill="#287c8e" d="M612.8 341.9l7.5-18 4.1 18.3-7.8 27.5z"/>
<path fill="#27ad81" d="M264.8 254.6l6.9 5.2 4.7 16.3-7-7.1z"/>
<path fill="#23a983" d="M278.7 263.4l2.4.7 4.7 17.4-2.4-.8z"/>
<path fill="#1fa287" d="M422.2 300.2l6.8-12.7 4-18.8-6.9 8.9z"/>
<path fill="#52c569" d="M381.2 230.1l4.3.9 4-12.1-4.4-.6z"/>
<path fill="#93d741" d="M381.5 186.2l6.9-.4 3.2-6.8-6.9.1z"/>
<path fill="#1f958b" d="M420.9 325.1l8.3-26.5 4-12.5-8.3 21.3z"/>
<path fill="#b8de29" d="M475.2 159.8l7 1.8 3.9 1-6.9-2z"/>
<path fill="#a5db36" d="M387.7 173.2l6.9.1 1-1.8-6.8-.2z"/>
<path fill="#9dd93b" d="M384.7 179.1l6.9-.1 3-5.7-6.9-.1z"/>
<path fill="#6ece58" d="M719 210l9-11.4 3.6 1.6-9.1 12.8z"/>
<path fill="#1fa187" d="M633.4 300l7.2-6 5.2-24.2-7.2 3.7z"/>
<path fill="#42be71" d="M158.9 239l6.4-7.1 4 3.2-6.4 7.4z"/>
<path fill="#89d548" d="M581.5 186l7 2.8 3.8.8-6.9-2.4z"/>
<path fill="#25ab82" d="M419.2 283.8l6.9-6.2 3.9-20-6.9 4.2z"/>
<path fill="#42be71" d="M223.3 232.9l6.7-.2 4.6 7.4-6.8.5z"/>
<path fill="#38b977" d="M125.9 244.9l6.5-2.7 4.6 3.9-6.4 5.3z"/>
<path fill="#73d056" d="M379.7 207.6l6.1-.5 4-10.2-6.2.2z"/>
<path fill="#25ab82" d="M595.1 267.8l6.7 17.9 4.2-16-6.7-14.2z"/>
<path fill="#bddf26" d="M409.8 160.1l3.4.4 4-4.3-3.4-.4z"/>
<path fill="#31b57b" d="M409.3 261.7l7.1 1.5 3.9-19.3-7.1-.9z"/>
<path fill="#9dd93b" d="M531.9 174.1l6.9 1 3.9 2.7-7-.6z"/>
<path fill="#46c06f" d="M206.9 232.4l6.7-2.7 2.9 4.9-6.6 3.1z"/>
<path fill="#42be71" d="M96.5 226.3l4 4.5 5.3 14.7-3.9-2.2z"/>
<path fill="#63cb5f" d="M381.8 218.2l3.3.1 4-11.1-3.3-.1z"/>
<path fill="#3fbc73" d="M100.5 230.8l7 5.5 5.1 10.9-6.8-1.7z"/>
<path fill="#23a983" d="M281.1 264.1l4.4.6 4.7 17.1-4.4-.3z"/>
<path fill="#b5de2b" d="M399.7 164.9l6.1.5 4-5.3-6.1-.7z"/>
<path fill="#aadc32" d="M506.5 167.8l7.5 1.5 3.9 2.5-7.5-1.5z"/>
<path fill="#48c16e" d="M198.6 232.9l6.7-3.3 1.6 2.8-6.6 3.4z"/>
<path fill="#23888e" d="M409.1 338.3l8.1-26.4 4.1-.1-8.2 30.2z"/>
<path fill="#c2df23" d="M421.6 156.8l6.9 1.1 4-3.1-6.9-1.1z"/>
<path fill="#95d840" d="M556.7 179.4l7 1.5 3.8 1.6-7-.8z"/>
<path fill="#2db27d" d="M257.8 248.6l7 6 4.6 14.4-7-8.3z"/>
<path fill="#c0df25" d="M458.1 156.8l7.1 1.6 3.2-.3-7.1-1.8z"/>
<path fill="#20938c" d="M576.1 293l6.6 24.8 3 4.8-6.5-27.1z"/>
<path fill="#433e85" d="M464.2 412.2l6.9 33.5 3.5 17.4-6.8-45.2z"/>
<path fill="#50c46a" d="M385.5 231l6.9 2.6 4-13-6.9-1.7z"/>
<path fill="#46c06f" d="M93.6 222.5l2.9 3.8 5.4 17-2.8-2.1z"/>
<path fill="#21a685" d="M321.6 276.3l6.8-3 4.3 5.9-6.8 5.2z"/>
<path fill="#86d549" d="M588.5 188.8l7 3.6 3.8.4-7-3.2z"/>
<path fill="#c2df23" d="M439.4 156l7 1.3 4.7-2-6.9-1.5z"/>
<path fill="#29af7f" d="M606 269.7l1.8 3.7 5-18.4-1.9-2.8z"/>
<path fill="#40bd72" d="M151.6 239.2l2.8-3 4.5 2.8-2.7 3.5z"/>
<path fill="#5ac864" d="M647.6 218.5l10.1.6 3.7 1.2-10.1-.1z"/>
<path fill="#b5de2b" d="M482.2 161.6l6.9 1.7 4 1.2-7-1.9z"/>
<path fill="#26818e" d="M587.8 320.3l9.9 8.5 3.2 27.5-9.8-13.3z"/>
<path fill="#58c765" d="M666 219.5l7.1-2.4 3.7 2.9-7.2 3.3z"/>
<path fill="#277e8e" d="M597.7 328.8l4.5-1.3 3.2 26.6-4.5 2.2z"/>
<path fill="#81d34d" d="M595.5 192.4l4.6 2.7 3.8.2-4.6-2.5z"/>
<path fill="#bddf26" d="M413.2 160.5l4.3.5 4.1-4.2-4.4-.6z"/>
<path fill="#86d549" d="M383.6 197.1l6.2-.2 4.7-11.1-6.1 0z"/>
<path fill="#7fd34e" d="M600.1 195.1l2.3 1.4 3.9.2-2.4-1.4z"/>
<path fill="#24868e" d="M369 316.7l7.1 5.2 4.3 20.2-7.1-6.1z"/>
<path fill="#addc30" d="M395.6 171.5l6.2.3 4-6.4-6.1-.5z"/>
<path fill="#7ad151" d="M602.4 196.5l7 4.5 3.8 0-6.9-4.3z"/>
<path fill="#73d056" d="M609.4 201l6.9 4.7 3.8-.2-6.9-4.5z"/>
<path fill="#6ccd5a" d="M616.3 205.7l7 4.5 3.8-.4-7-4.3z"/>
<path fill="#4ac16d" d="M187.4 229.9l6.6-3.9 4.6 6.9-6.5 4z"/>
<path fill="#3dbc74" d="M107.5 236.3l6.9 2.7 4.8 7.7-6.6.5z"/>
<path fill="#63cb5f" d="M385.1 218.3l4.4.6 4-11.3-4.4-.4z"/>
<path fill="#65cb5e" d="M623.3 210.2l6.9 4.1 3.8-.7-6.9-3.8z"/>
<path fill="#32b67a" d="M252.8 244.4l5 4.2 4.6 12.1-5-5.7z"/>
<path fill="#b8de29" d="M405.8 165.4l3.3.3 4.1-5.2-3.4-.4z"/>
<path fill="#4ec36b" d="M392.4 233.6l7 3.4 3.9-14.1-6.9-2.3z"/>
<path fill="#a5db36" d="M394.6 173.3l6.1.3 1.1-1.8-6.2-.3z"/>
<path fill="#1f948c" d="M352.1 294.3l7.1 14.3 4.3 12.9-7.1-18.1z"/>
<path fill="#75d054" d="M385.8 207.1l3.3.1 4-10.2-3.3-.1z"/>
<path fill="#95d840" d="M388.4 185.8l6.1 0 3.3-6.6-6.2-.2z"/>
<path fill="#60ca60" d="M630.2 214.3l1.9 1 3.8-.8-1.9-.9z"/>
<path fill="#a0da39" d="M391.6 179l6.2.2 2.9-5.6-6.1-.3z"/>
<path fill="#28ae80" d="M624.1 268.8l10 5.1 3.5-14.9-10-4z"/>
<path fill="#8bd646" d="M746.1 192l7.5-8.3 4.1-.6-7.6 8.6z"/>
<path fill="#42be71" d="M230 232.7l6.9 1.7 4.5 7.7-6.8-2z"/>
<path fill="#2db27d" d="M616.9 260.7l7.2 8.1 3.5-13.8-7.3-6.3z"/>
<path fill="#50c46a" d="M86.1 212.4l7.5 10.1 5.5 18.7-7.3-6.7z"/>
<path fill="#bddf26" d="M465.2 158.4l6.8 1.6 3.2-.2-6.8-1.7z"/>
<path fill="#a8db34" d="M514 169.3l7 1.4 3.9 2.3-7-1.2z"/>
<path fill="#a0da39" d="M538.8 175.1l7 1.3 3.9 2-7-.6z"/>
<path fill="#60ca60" d="M632.1 215.3l4.2 1.9 3.8-.9-4.2-1.8z"/>
<path fill="#95d840" d="M563.7 180.9l7 2 3.8 1-7-1.4z"/>
<path fill="#c2df23" d="M428.5 157.9l6.9 1.1 4-3-6.9-1.2z"/>
<path fill="#21908d" d="M578.3 305.3l1.8 5.6 4.3 14.2-1.7-7.3z"/>
<path fill="#37b878" d="M250.8 242.7l2 1.7 4.6 10.6-2-2.2z"/>
<path fill="#c2df23" d="M446.4 157.3l6.9 1.4 4.8-1.9-7-1.5z"/>
<path fill="#24aa83" d="M285.5 264.7l6.8-.6 4.7 15.5-6.8 2.2z"/>
<path fill="#25858e" d="M376.1 321.9l6.7-.1 4.3 18.2-6.7 2.1z"/>
<path fill="#32b67a" d="M416.4 263.2l6.7-1.4 4-18.8-6.8.9z"/>
<path fill="#b5de2b" d="M489.1 163.3l8.5 2 3.9 1.3-8.4-2.1z"/>
<path fill="#4cc26c" d="M399.4 237l6.9 3.4 4-15.2-7-2.3z"/>
<path fill="#3dbc74" d="M114.4 239l2 .3 4.8 7-2 .4z"/>
<path fill="#bddf26" d="M417.5 161l6.9 1 4.1-4.1-6.9-1.1z"/>
<path fill="#3bbb75" d="M243.8 237.8l7 4.9 4.6 10.1-7-6.4z"/>
<path fill="#addc30" d="M401.8 171.8l3.3.2 4-6.3-3.3-.3z"/>
<path fill="#b8de29" d="M409.1 165.7l4.4.5 4-5.2-4.3-.5z"/>
<path fill="#86d549" d="M389.8 196.9l3.3.1 4.8-11.1-3.4-.1z"/>
<path fill="#42be71" d="M236.9 234.4l3.3 1.4 4.6 8-3.4-1.7z"/>
<path fill="#63cb5f" d="M389.5 218.9l6.9 1.7 4-11.8-6.9-1.2z"/>
<path fill="#3e4a89" d="M483.7 442l2.4-2 4.1-40.7-2.3.7z"/>
<path fill="#25858e" d="M393.9 331.1l6.8-12.1 4.2 10.4-6.7 18.5z"/>
<path fill="#1f968b" d="M639.3 323.5l7.7-21.9 4.2-14.8-7.6 16.6z"/>
<path fill="#75d054" d="M389.1 207.2l4.4.4 3.9-10.3-4.3-.3z"/>
<path fill="#5ec962" d="M636.3 217.2l7.5 2.5 3.8-1.2-7.5-2.2z"/>
<path fill="#3fbc73" d="M240.2 235.8l3.6 2 4.6 8.6-3.6-2.6z"/>
<path fill="#7fd34e" d="M731.6 200.2l7.6-8.9 3.6.6-7.5 9.6z"/>
<path fill="#3d4d8a" d="M479.1 432.9l4.6 9.1 4.2-42-4.6-4.5z"/>
<path fill="#1fa188" d="M344.8 282.5l4.5 6.7 4.2 5-4.5-7.2z"/>
<path fill="#28ae80" d="M634.1 273.9l4.5-.4 3.5-14.7-4.5.2z"/>
<path fill="#a8db34" d="M400.7 173.6l3.4.2 1-1.8-3.3-.2z"/>
<path fill="#34b679" d="M612.8 255l4.1 5.7 3.4-12-4.2-4.6z"/>
<path fill="#228c8d" d="M361.9 307.5l7.1 9.2 4.3 19.3-7-12.5z"/>
<path fill="#58c765" d="M83.8 209.6l2.3 2.8 5.7 22.1-2.2-2.3z"/>
<path fill="#95d840" d="M394.5 185.8l3.4.1 3.2-6.6-3.3-.1z"/>
<path fill="#a0da39" d="M397.8 179.2l3.3.1 3-5.5-3.4-.2z"/>
<path fill="#40bd72" d="M143.5 240.4l3.6-3.3 4.5 2.1-3.6 4.2z"/>
<path fill="#93d741" d="M570.7 182.9l7 2.7 3.8.4-7-2.1z"/>
<path fill="#31b57b" d="M599.3 255.5l6.7 14.2 4.9-17.5-6.8-10.5z"/>
<path fill="#bddf26" d="M472 160l6.9 1.6 3.3 0-7-1.8z"/>
<path fill="#5cc863" d="M657.7 219.1l4.5-.5 3.8.9-4.6.8z"/>
<path fill="#48c16e" d="M406.3 240.4l6.9 2.6 4-16.1-6.9-1.7z"/>
<path fill="#4cc26c" d="M213.6 229.7l6.7-1.4 3 4.6-6.8 1.7z"/>
<path fill="#a8db34" d="M521 170.7l7 1.4 3.9 2-7-1.1z"/>
<path fill="#6ccd5a" d="M705.9 210.2l5.9-6.1 3.6 2.8-6 7.3z"/>
<path fill="#24aa83" d="M580.4 267l6.6 21.8 4.1-9.4-6.7-19.4z"/>
<path fill="#9dd93b" d="M545.8 176.4l7 1.6 3.9 1.4-7-1z"/>
<path fill="#addc30" d="M405.1 172l4.4.4 4-6.2-4.4-.5z"/>
<path fill="#1fa188" d="M424.9 307.4l8.3-21.3 4.1-14.7-8.3 16.1z"/>
<path fill="#67cc5c" d="M694.9 213.7l7.4-6.5 3.6 3-7.4 8z"/>
<path fill="#4ec36b" d="M174.5 230.1l7.8-6.1 5.1 5.9-7.8 5.9z"/>
<path fill="#c2df23" d="M435.4 159l7 1.2 4-2.9-7-1.3z"/>
<path fill="#3fbc73" d="M116.4 239.3l4.7.4 4.8 5.2-4.7 1.4z"/>
<path fill="#b2dd2d" d="M497.6 165.3l4.9 1.1 4 1.4-5-1.2z"/>
<path fill="#89d548" d="M393.1 197l4.3.3 4.8-11.1-4.3-.3z"/>
<path fill="#c2df23" d="M453.3 158.7l7.1 1.5 4.8-1.8-7.1-1.6z"/>
<path fill="#25858e" d="M624.4 342.2l7.8-26 2.9 4.5-7.9 29.4z"/>
<path fill="#5ec962" d="M78.9 204.3l4.9 5.3 5.8 22.6-4.9-5.2z"/>
<path fill="#22a884" d="M328.4 273.3l6.8.9 4.3 4.7-6.8.3z"/>
<path fill="#38b977" d="M610.9 252.2l1.9 2.8 3.3-10.9-1.8-2.2z"/>
<path fill="#63cb5f" d="M684 215.7l7.3-5 3.6 3-7.3 6.3z"/>
<path fill="#4ec36b" d="M205.3 229.6l6.6-2.4 1.7 2.5-6.7 2.7z"/>
<path fill="#b8de29" d="M413.5 166.2l6.9.9 4-5.1-6.9-1z"/>
<path fill="#63cb5f" d="M396.4 220.6l6.9 2.3 4-12.5-6.9-1.6z"/>
<path fill="#a8db34" d="M404.1 173.8l4.4.4 1-1.8-4.4-.4z"/>
<path fill="#90d743" d="M577.7 185.6l7 3.3 3.8-.1-7-2.8z"/>
<path fill="#21a685" d="M576.5 271.4l6.6 23.1 3.9-5.7-6.6-21.8z"/>
<path fill="#bddf26" d="M424.4 162l7 1 4-4-6.9-1.1z"/>
<path fill="#a2da37" d="M401.1 179.3l4.4.4 3-5.5-4.4-.4z"/>
<path fill="#75d054" d="M393.5 207.6l6.9 1.2 4-10.6-7-.9z"/>
<path fill="#29af7f" d="M584.4 260l6.7 19.4 4-11.6-6.7-16.5z"/>
<path fill="#98d83e" d="M397.9 185.9l4.3.3 3.3-6.5-4.4-.4z"/>
<path fill="#24aa83" d="M310.4 270.8l6.8-3.3 4.4 8.8-6.7 6.1z"/>
<path fill="#20a486" d="M341.4 278.6l3.4 3.9 4.2 4.5-3.3-4.1z"/>
<path fill="#3fbc73" d="M132.4 242.2l6.6-3.7 4.5 1.9-6.5 5.7z"/>
<path fill="#65cb5e" d="M619.4 212.8l6.9 4.7 3.9-3.2-6.9-4.1z"/>
<path fill="#6ccd5a" d="M612.5 207.8l6.9 5 3.9-2.6-7-4.5z"/>
<path fill="#60ca60" d="M626.3 217.5l1.9 1.1 3.9-3.3-1.9-1z"/>
<path fill="#89d548" d="M584.7 188.9l6.9 4.1 3.9-.6-7-3.6z"/>
<path fill="#bade28" d="M478.9 161.6l7 1.6 3.2.1-6.9-1.7z"/>
<path fill="#75d054" d="M605.5 202.6l7 5.2 3.8-2.1-6.9-4.7z"/>
<path fill="#3c4f8a" d="M369.4 438.1l4.8-7.5 3.7-34.8-4.9 3z"/>
<path fill="#3bbb75" d="M620.3 248.7l7.3 6.3 4.2-13.6-7.4-4.9z"/>
<path fill="#75d054" d="M715.4 206.9l9-9.9 3.6 1.6-9 11.4z"/>
<path fill="#5ec962" d="M628.2 218.6l4.2 2.3 3.9-3.7-4.2-1.9z"/>
<path fill="#5cc863" d="M643.8 219.7l10 1.1 3.9-1.7-10.1-.6z"/>
<path fill="#7cd250" d="M598.6 197.6l6.9 5 3.9-1.6-7-4.5z"/>
<path fill="#4ec36b" d="M165.3 231.9l5.2-5 4 3.2-5.2 5z"/>
<path fill="#84d44b" d="M591.6 193l4.6 3 3.9-.9-4.6-2.7z"/>
<path fill="#60ca60" d="M673.1 217.1l7.3-3.5 3.6 2.1-7.2 4.3z"/>
<path fill="#81d34d" d="M596.2 196l2.4 1.6 3.8-1.1-2.3-1.4z"/>
<path fill="#4ac16d" d="M154.4 236.2l6.4-6.7 4.5 2.4-6.4 7.1z"/>
<path fill="#22a785" d="M335.2 274.2l6.2 4.4 4.3 4.3-6.2-4z"/>
<path fill="#48c16e" d="M413.2 243l7.1.9 4-16.3-7.1-.7z"/>
<path fill="#228c8d" d="M580.6 306.6l7.2 13.7 3.3 22.7-7-19.7z"/>
<path fill="#404688" d="M369.6 462.2l6.9-45.7 4.8-14.2-7.1 28.3z"/>
<path fill="#b2dd2d" d="M502.5 166.4l7.6 1.6 3.9 1.3-7.5-1.5z"/>
<path fill="#9dd93b" d="M552.8 178l7 2 3.9.9-7-1.5z"/>
<path fill="#a8db34" d="M528 172.1l7 1.4 3.8 1.6-6.9-1z"/>
<path fill="#b0dd2f" d="M409.5 172.4l6.9.8 4-6.1-6.9-.9z"/>
<path fill="#20a486" d="M575.5 272.1l6.6 23.1 1-.7-6.6-23.1z"/>
<path fill="#37b878" d="M627.6 255l10 4 4.2-14.6-10-3z"/>
<path fill="#42be71" d="M616.1 244.1l4.2 4.6 4.1-12.2-4.2-3.5z"/>
<path fill="#c0df25" d="M460.4 160.2l6.8 1.3 4.8-1.5-6.8-1.6z"/>
<path fill="#c2df23" d="M442.4 160.2l6.9 1.2 4-2.7-6.9-1.4z"/>
<path fill="#89d548" d="M397.4 197.3l7 .9 4.8-11.2-7-.8z"/>
<path fill="#52c569" d="M194 226l6.7-3 4.6 6.6-6.7 3.3z"/>
<path fill="#22a884" d="M640.6 294l7.4-10.2 5.1-20.7-7.3 6.7z"/>
<path fill="#60ca60" d="M403.3 222.9l7 2.3 3.9-13.2-6.9-1.6z"/>
<path fill="#2ab07f" d="M426.1 277.6l6.9-8.9 3.9-17.3-6.9 6.2z"/>
<path fill="#5cc863" d="M632.4 220.9l7.5 3 3.9-4.2-7.5-2.5z"/>
<path fill="#40bd72" d="M604.1 241.7l6.8 10.5 3.4-10.3-6.9-8.7z"/>
<path fill="#90d743" d="M742.8 191.9l7.6-8 3.2-.2-7.5 8.3z"/>
<path fill="#34b679" d="M588.4 251.3l6.7 16.5 4.2-12.3-6.8-13.6z"/>
<path fill="#a8db34" d="M408.5 174.2l6.9.7 1-1.7-6.9-.8z"/>
<path fill="#424186" d="M366.2 448.4l7-36.8 3.3 4.9-6.9 45.7z"/>
<path fill="#2ab07f" d="M638.6 273.5l7.2-3.7 3.5-13.7-7.2 2.7z"/>
<path fill="#26ad81" d="M292.3 264.1l6.8-2 4.6 13.3-6.7 4.2z"/>
<path fill="#46c06f" d="M614.3 241.9l1.8 2.2 4.1-11.1-1.8-1.7z"/>
<path fill="#a2da37" d="M405.5 179.7l6.9.7 3-5.5-6.9-.7z"/>
<path fill="#37b878" d="M423.1 261.8l6.9-4.2 4-17.4-6.9 2.8z"/>
<path fill="#3a548c" d="M360.8 414.7l8.6 23.4 3.6-39.3-8.5-13z"/>
<path fill="#25848e" d="M602.2 327.5l7.3-7.7 3.3 22.1-7.4 12.2z"/>
<path fill="#98d83e" d="M402.2 186.2l7 .8 3.2-6.6-6.9-.7z"/>
<path fill="#b8de29" d="M420.4 167.1l7 .9 4-5-7-1z"/>
<path fill="#60ca60" d="M662.2 218.6l7.2-1.9 3.7.4-7.1 2.4z"/>
<path fill="#75d054" d="M400.4 208.8l6.9 1.6 4-11.1-6.9-1.1z"/>
<path fill="#bddf26" d="M431.4 163l6.9 1.1 4.1-3.9-7-1.2z"/>
<path fill="#46c06f" d="M147.1 237.1l2.8-2.5 4.5 1.6-2.8 3z"/>
<path fill="#50c46a" d="M220.3 228.3l6.8-.1 2.9 4.5-6.7.2z"/>
<path fill="#40bd72" d="M121.1 239.7l6.7-.6 4.6 3.1-6.5 2.7z"/>
<path fill="#5cc863" d="M622.4 223.1l1.9 1.4 3.9-5.9-1.9-1.1z"/>
<path fill="#bade28" d="M485.9 163.2l8.4 1.9 3.3.2-8.5-2z"/>
<path fill="#228d8d" d="M404.9 329.4l8.2-20.7 4.1 3.2-8.1 26.4z"/>
<path fill="#5ac864" d="M624.3 224.5l4.2 2.8 3.9-6.4-4.2-2.3z"/>
<path fill="#9bd93c" d="M559.8 180l7 2.6 3.9.3-7-2z"/>
<path fill="#60ca60" d="M615.5 217.6l6.9 5.5 3.9-5.6-6.9-4.7z"/>
<path fill="#50c46a" d="M620.2 233l4.2 3.5 4.1-9.2-4.2-2.8z"/>
<path fill="#4ac16d" d="M624.4 236.5l7.4 4.9 4.1-10.3-7.4-3.8z"/>
<path fill="#23898e" d="M382.8 321.8l6.9-4.5 4.2 13.8-6.8 8.9z"/>
<path fill="#54c568" d="M618.4 231.3l1.8 1.7 4.1-8.5-1.9-1.4z"/>
<path fill="#b2dd2d" d="M510.1 168l6.9 1.5 4 1.2-7-1.4z"/>
<path fill="#56c667" d="M628.5 227.3l7.4 3.8 4-7.2-7.5-3z"/>
<path fill="#a8db34" d="M535 173.5l6.9 1.7 3.9 1.2-7-1.3z"/>
<path fill="#1fa088" d="M345 282.3l7.1 12 4.3 9.1-7.1-14.2z"/>
<path fill="#424086" d="M471.8 417.2l2.4-1.1 3.9 38-2.4 2.8z"/>
<path fill="#c0df25" d="M467.2 161.5l7 1.4 4.7-1.3-6.9-1.6z"/>
<path fill="#4cc26c" d="M607.4 233.2l6.9 8.7 4.1-10.6-6.9-6.9z"/>
<path fill="#69cd5b" d="M608.5 211.6l7 6 3.9-4.8-6.9-5z"/>
<path fill="#5ec962" d="M410.3 225.2l6.9 1.7 4-13.7-7-1.2z"/>
<path fill="#37b878" d="M637.6 259l4.5-.2 4.2-14.5-4.5.1z"/>
<path fill="#1f958b" d="M354.8 296.2l7.1 11.3 4.4 16-7.1-14.9z"/>
<path fill="#21a585" d="M572.6 272.9l6.6 22.6 2.9-.3-6.6-23.1z"/>
<path fill="#c0df25" d="M449.3 161.4l7.1 1.3 4-2.5-7.1-1.5z"/>
<path fill="#b0dd2f" d="M416.4 173.2l6.9.9 4.1-6.1-7-.9z"/>
<path fill="#5ec962" d="M653.8 220.8l4.6-.3 3.8-1.9-4.5.5z"/>
<path fill="#40bd72" d="M592.5 241.9l6.8 13.6 4.8-13.8-6.8-10.6z"/>
<path fill="#89d548" d="M404.4 198.2l6.9 1.1 4.8-11.4-6.9-.9z"/>
<path fill="#414287" d="M467.2 412.5l4.6 4.7 3.9 39.7-4.6-11.2z"/>
<path fill="#58c765" d="M611.5 224.4l6.9 6.9 4-8.2-6.9-5.5z"/>
<path fill="#5ac864" d="M639.9 223.9l10 1.6 3.9-4.7-10-1.1z"/>
<path fill="#4ac16d" d="M420.3 243.9l6.8-.9 4-16-6.8.6z"/>
<path fill="#86d549" d="M728 198.6l7.5-8 3.7.7-7.6 8.9z"/>
<path fill="#54c568" d="M211.9 227.2l6.8-1.3 1.6 2.4-6.7 1.4z"/>
<path fill="#98d83e" d="M566.8 182.6l7 3.3 3.9-.3-7-2.7z"/>
<path fill="#73d056" d="M601.6 205.6l6.9 6 4-3.8-7-5.2z"/>
<path fill="#75d054" d="M407.3 210.4l6.9 1.6 4-11.5-6.9-1.2z"/>
<path fill="#a8db34" d="M415.4 174.9l6.9.9 1-1.7-6.9-.9z"/>
<path fill="#48c16e" d="M631.8 241.4l10 3 4.1-11.1-10-2.2z"/>
<path fill="#bddf26" d="M438.3 164.1l7 1.1 4-3.8-6.9-1.2z"/>
<path fill="#b8de29" d="M427.4 168l6.9 1 4-4.9-6.9-1.1z"/>
<path fill="#20a386" d="M643.6 303.4l7.6-16.6 4.3-15.4-7.5 12.4z"/>
<path fill="#a2da37" d="M412.4 180.4l6.9.9 3-5.5-6.9-.9z"/>
<path fill="#98d83e" d="M409.2 187l6.9.9 3.2-6.6-6.9-.9z"/>
<path fill="#b8de29" d="M494.3 165.1l5 1 3.2.3-4.9-1.1z"/>
<path fill="#7cd250" d="M594.7 199.9l6.9 5.7 3.9-3-6.9-5z"/>
<path fill="#93d741" d="M573.8 185.9l7 4 3.9-1-7-3.3z"/>
<path fill="#1e9b8a" d="M571.6 285.6l6.7 19.7 4.4 12.5-6.6-24.8z"/>
<path fill="#81d34d" d="M592.3 198l2.4 1.9 3.9-2.3-2.4-1.6z"/>
<path fill="#63cb5f" d="M604.6 217.2l6.9 7.2 4-6.8-7-6z"/>
<path fill="#50c46a" d="M227.1 228.2l6.9 1.5 2.9 4.7-6.9-1.7z"/>
<path fill="#48c16e" d="M139 238.5l3.7-2.5 4.4 1.1-3.6 3.3z"/>
<path fill="#86d549" d="M587.7 194.6l4.6 3.4 3.9-2-4.6-3z"/>
<path fill="#8bd646" d="M580.8 189.9l6.9 4.7 3.9-1.6-6.9-4.1z"/>
<path fill="#4ec36b" d="M597.3 231.1l6.8 10.6 3.3-8.5-6.8-8.9z"/>
<path fill="#a5db36" d="M541.9 175.2l7 2.1 3.9.7-7-1.6z"/>
<path fill="#27ad81" d="M429 287.5l8.3-16.1 4-14.5-8.3 11.8z"/>
<path fill="#54c568" d="M635.9 231.1l10 2.2 4-7.8-10-1.6z"/>
<path fill="#b0dd2f" d="M517 169.5l7 1.6 4 1-7-1.4z"/>
<path fill="#bddf26" d="M474.2 162.9l7 1.4 4.7-1.1-7-1.6z"/>
<path fill="#27ad81" d="M317.2 267.5l6.8-1.2 4.4 7-6.8 3z"/>
<path fill="#58c765" d="M600.6 224.3l6.8 8.9 4.1-8.8-6.9-7.2z"/>
<path fill="#c0df25" d="M456.4 162.7l6.8 1.2 4-2.4-6.8-1.3z"/>
<path fill="#5ec962" d="M417.2 226.9l7.1.7 4-13.8-7.1-.6z"/>
<path fill="#37b878" d="M261.8 246.5l6.9 4.4 3 8.9-6.9-5.2z"/>
<path fill="#58c765" d="M182.3 224l6.6-3.9 5.1 5.9-6.6 3.9z"/>
<path fill="#b0dd2f" d="M423.3 174.1l7 .9 4-6-6.9-1z"/>
<path fill="#32b67a" d="M268.7 250.9l7 3.1 3 9.4-7-3.6z"/>
<path fill="#89d548" d="M411.3 199.3l6.9 1.2 4.8-11.6-6.9-1z"/>
<path fill="#375b8d" d="M472.3 403l6.8 29.9 4.2-37.4-7-17.7z"/>
<path fill="#3bbb75" d="M254.8 241.6l7 4.9 3 8.1-7-6z"/>
<path fill="#38588c" d="M348.5 394.2l7.6 42 4.7-21.5-7.4-31.8z"/>
<path fill="#75d054" d="M702.3 207.2l5.9-5.2 3.6 2.1-5.9 6.1z"/>
<path fill="#58c765" d="M200.7 223l6.7-2.1 4.5 6.3-6.6 2.4z"/>
<path fill="#b8de29" d="M499.3 166.1l7.5 1.7 3.3.2-7.6-1.6z"/>
<path fill="#4ec36b" d="M234 229.7l3.3 1.2 2.9 4.9-3.3-1.4z"/>
<path fill="#6ece58" d="M597.7 210.1l6.9 7.1 3.9-5.6-6.9-6z"/>
<path fill="#75d054" d="M414.2 212l7 1.2 4-11.7-7-1z"/>
<path fill="#70cf57" d="M691.3 210.7l7.4-5.4 3.6 1.9-7.4 6.5z"/>
<path fill="#6ccd5a" d="M680.4 213.6l7.3-4.2 3.6 1.3-7.3 5z"/>
<path fill="#bddf26" d="M445.3 165.2l7.1 1.1 4-3.6-7.1-1.3z"/>
<path fill="#aadc32" d="M422.3 175.8l7 .9 1-1.7-7-.9z"/>
<path fill="#42be71" d="M249.9 238.1l4.9 3.5 3 7-5-4.2z"/>
<path fill="#48c16e" d="M641.8 244.4l4.5-.1 4.2-11.1-4.6.1z"/>
<path fill="#5cc863" d="M649.9 225.5l4.6-.2 3.9-4.8-4.6.3z"/>
<path fill="#3aba76" d="M642.1 258.8l7.2-2.7 4.2-13.9-7.2 2.1z"/>
<path fill="#93d741" d="M739.2 191.3l7.5-7.4 3.7 0-7.6 8z"/>
<path fill="#b8de29" d="M434.3 169l7 1 4-4.8-7-1.1z"/>
<path fill="#31b57b" d="M275.7 254l2.4.7 3 9.4-2.4-.7z"/>
<path fill="#a2da37" d="M548.9 177.3l7 2.6 3.9.1-7-2z"/>
<path fill="#4ec36b" d="M237.3 230.9l3.6 1.7 2.9 5.2-3.6-2z"/>
<path fill="#63cb5f" d="M658.4 220.5l7.2-1.6 3.8-2.2-7.2 1.9z"/>
<path fill="#a2da37" d="M419.3 181.3l7 .9 3-5.5-7-.9z"/>
<path fill="#67cc5c" d="M669.4 216.7l7.2-2.9 3.8-.2-7.3 3.5z"/>
<path fill="#98d83e" d="M416.1 187.9l6.9 1 3.3-6.7-7-.9z"/>
<path fill="#39558c" d="M486.1 440l7.1-24.5 4.1-29.1-7.1 12.9z"/>
<path fill="#44bf70" d="M247.8 236.7l2.1 1.4 2.9 6.3-2-1.7z"/>
<path fill="#4ec36b" d="M102.6 226.9l7 5.8 4.8 6.3-6.9-2.7z"/>
<path fill="#4ac16d" d="M240.9 232.6l6.9 4.1 3 6-7-4.9z"/>
<path fill="#46c06f" d="M127.8 239.1l6.7-2 4.5 1.4-6.6 3.7z"/>
<path fill="#2ab07f" d="M299.1 262.1l6.8-2.1 4.5 10.8-6.7 4.6z"/>
<path fill="#b0dd2f" d="M524 171.1l7 1.8 4 .6-7-1.4z"/>
<path fill="#1f9f88" d="M425.3 307.2l4.9-14 3.8-7.5-4.8 12.9z"/>
<path fill="#4ac16d" d="M109.6 232.7l2 1.1 4.8 5.5-2-.3z"/>
<path fill="#22a785" d="M340.5 276.3l4.5 6 4.3 6.9-4.5-6.7z"/>
<path fill="#7fd34e" d="M711.8 204.1l9-8.4 3.6 1.3-9 9.9z"/>
<path fill="#50c46a" d="M149.9 234.6l6.5-6.1 4.4 1-6.4 6.7z"/>
<path fill="#58c765" d="M218.7 225.9l6.8-.1 1.6 2.4-6.8.1z"/>
<path fill="#5ac864" d="M170.5 226.9l7.8-6.2 4 3.3-7.8 6.1z"/>
<path fill="#56c667" d="M160.8 229.5l5.2-4.8 4.5 2.2-5.2 5z"/>
<path fill="#bddf26" d="M481.2 164.3l8.4 1.6 4.7-.8-8.4-1.9z"/>
<path fill="#1e9b8a" d="M422.6 310.8l4.9-14.1 2.7-3.5-4.9 14z"/>
<path fill="#77d153" d="M590.8 203.3l6.9 6.8 3.9-4.5-6.9-5.7z"/>
<path fill="#54c568" d="M645.9 233.3l4.6-.1 4-7.9-4.6.2z"/>
<path fill="#1f968b" d="M576.5 297.5l4.1 9.1 3.5 16.7-4-12.4z"/>
<path fill="#c0df25" d="M463.2 163.9l7 1.2 4-2.2-7-1.4z"/>
<path fill="#31b57b" d="M278.1 254.7l4.4.8 3 9.2-4.4-.6z"/>
<path fill="#65cb5e" d="M593.7 215.7l6.9 8.6 4-7.1-6.9-7.1z"/>
<path fill="#3a548c" d="M345.2 390.7l7.5 37.5 3.4 8-7.6-42z"/>
<path fill="#56c667" d="M95.3 217l7.3 9.9 4.9 9.4-7-5.5z"/>
<path fill="#3fbc73" d="M430 257.6l6.9-6.2 4-15.5-6.9 4.3z"/>
<path fill="#4ec36b" d="M427.1 243l6.9-2.8 4-15-6.9 1.8z"/>
<path fill="#21a685" d="M569.5 271.9l6.6 21.1 3.1 2.5-6.6-22.6z"/>
<path fill="#a0da39" d="M555.9 179.9l7 3.2 3.9-.5-7-2.6z"/>
<path fill="#31b57b" d="M645.8 269.8l7.3-6.7 3.5-12.2-7.3 5.2z"/>
<path fill="#4ac16d" d="M111.6 233.8l4.9 1.8 4.6 4.1-4.7-.4z"/>
<path fill="#3dbc74" d="M577.7 243.2l6.7 16.8 4-8.7-6.7-14.7z"/>
<path fill="#46c06f" d="M581.7 236.6l6.7 14.7 4.1-9.4-6.8-12.5z"/>
<path fill="#b0dd2f" d="M430.3 175l6.9.9 4.1-5.9-7-1z"/>
<path fill="#4cc26c" d="M142.7 236l2.8-2.1 4.4.7-2.8 2.5z"/>
<path fill="#7fd34e" d="M588.4 201.1l2.4 2.2 3.9-3.4-2.4-1.9z"/>
<path fill="#b8de29" d="M506.8 167.8l7 1.5 3.2.2-6.9-1.5z"/>
<path fill="#89d548" d="M418.2 200.5l7 1 4.8-11.8-7-.8z"/>
<path fill="#5ec962" d="M590.5 221l6.8 10.1 3.3-6.8-6.9-8.6z"/>
<path fill="#52c569" d="M585.7 229.4l6.8 12.5 4.8-10.8-6.8-10.1z"/>
<path fill="#60ca60" d="M424.3 227.6l6.8-.6 4-13.5-6.8.3z"/>
<path fill="#21a585" d="M429.2 298.6l4.8-12.9 4.1-10.5-4.9 10.9z"/>
<path fill="#28ae80" d="M324 266.3l7 1.9 4.2 6-6.8-.9z"/>
<path fill="#1f9a8a" d="M421.3 311.8l4.8-13.9 1.4-1.2-4.9 14.1z"/>
<path fill="#84d44b" d="M583.8 197.1l4.6 4 3.9-3.1-4.6-3.4z"/>
<path fill="#37b878" d="M573.7 248.7l6.7 18.3 4-7-6.7-16.8z"/>
<path fill="#bddf26" d="M452.4 166.3l6.8 1 4-3.4-6.8-1.2z"/>
<path fill="#9bd93c" d="M562.9 183.1l7 3.9 3.9-1.1-7-3.3z"/>
<path fill="#75d054" d="M421.2 213.2l7.1.6 4-11.7-7.1-.6z"/>
<path fill="#25ab82" d="M337.1 272.7l3.4 3.6 4.3 6.2-3.4-3.9z"/>
<path fill="#aadc32" d="M429.3 176.7l6.9.9 1-1.7-6.9-.9z"/>
<path fill="#b8de29" d="M441.3 170l7.1 1 4-4.7-7.1-1.1z"/>
<path fill="#addc30" d="M531 172.9l7 2 3.9.3-6.9-1.7z"/>
<path fill="#1f9f88" d="M347.8 284.8l7 11.4 4.4 12.4-7.1-14.3z"/>
<path fill="#8ed645" d="M576.9 191.7l6.9 5.4 3.9-2.5-6.9-4.7z"/>
<path fill="#a2da37" d="M426.3 182.2l6.9.9 3-5.5-6.9-.9z"/>
<path fill="#98d83e" d="M423 188.9l7 .8 3.2-6.6-6.9-.9z"/>
<path fill="#95d840" d="M569.9 187l7 4.7 3.9-1.8-7-4z"/>
<path fill="#bddf26" d="M489.6 165.9l5 1 4.7-.8-5-1z"/>
<path fill="#26ad81" d="M331 268.2l6.1 4.5 4.3 5.9-6.2-4.4z"/>
<path fill="#60ca60" d="M654.5 225.3l7.1-1.5 4-4.9-7.2 1.6z"/>
<path fill="#4ac16d" d="M646.3 244.3l7.2-2.1 4.1-10.6-7.1 1.6z"/>
<path fill="#c0df25" d="M470.2 165.1l7 1.2 4-2-7-1.4z"/>
<path fill="#73d056" d="M586.8 207.7l6.9 8 4-5.6-6.9-6.8z"/>
<path fill="#8bd646" d="M724.4 197l7.5-7.1 3.6.7-7.5 8z"/>
<path fill="#58c765" d="M225.5 225.8l6.8 1.4 1.7 2.5-6.9-1.5z"/>
<path fill="#63cb5f" d="M91 209.3l4.3 7.7 5.2 13.8-4-4.5z"/>
<path fill="#32b67a" d="M282.5 255.5l6.9 0 2.9 8.6-6.8.6z"/>
<path fill="#20938c" d="M366.2 307l7.1 5 2.8 9.9-7.1-5.2z"/>
<path fill="#4ac16d" d="M116.5 235.6l6.8 1 4.5 2.5-6.7.6z"/>
<path fill="#b5de2b" d="M513.8 169.3l7 1.7 3.2.1-7-1.6z"/>
<path fill="#5ec962" d="M207.4 220.9l6.7-1.2 4.6 6.2-6.8 1.3z"/>
<path fill="#32b67a" d="M569.8 252.4l6.7 19 3.9-4.4-6.7-18.3z"/>
<path fill="#aadc32" d="M538 174.9l7 2.5 3.9-.1-7-2.1z"/>
<path fill="#b0dd2f" d="M437.2 175.9l7.1.8 4.1-5.7-7.1-1z"/>
<path fill="#37b878" d="M433 268.7l8.3-11.8 4-14.1-8.4 8.6z"/>
<path fill="#58c765" d="M650.5 233.2l7.1-1.6 4-7.8-7.1 1.5z"/>
<path fill="#2ab07f" d="M648 283.8l7.5-12.4 5-17-7.4 8.7z"/>
<path fill="#1f9a8a" d="M638.9 320.6l7.8-25.3 4-5.1-7.8 23.5z"/>
<path fill="#89d548" d="M425.2 201.5l7.1.6 4.8-11.8-7.1-.6z"/>
<path fill="#bddf26" d="M459.2 167.3l7 1 4-3.2-7-1.2z"/>
<path fill="#1fa088" d="M642.9 313.7l7.8-23.5 4-8.7-7.7 20.1z"/>
<path fill="#7cd250" d="M584.5 205.1l2.3 2.6 4-4.4-2.4-2.2z"/>
<path fill="#60ca60" d="M188.9 220.1l6.7-3 5.1 5.9-6.7 3z"/>
<path fill="#4cc26c" d="M134.5 237.1l3.7-1.8 4.5.7-3.7 2.5z"/>
<path fill="#bade28" d="M494.6 166.9l7.5 1.6 4.7-.7-7.5-1.7z"/>
<path fill="#69cd5b" d="M665.6 218.9l7.2-2.7 3.8-2.4-7.2 2.9z"/>
<path fill="#b8de29" d="M448.4 171l6.8.8 4-4.5-6.8-1z"/>
<path fill="#58c765" d="M232.3 227.2l3.3 1.1 1.7 2.6-3.3-1.2z"/>
<path fill="#20928c" d="M373.3 312l6.8 1 2.7 8.8-6.7.1z"/>
<path fill="#6ccd5a" d="M583.6 211.8l6.9 9.2 3.2-5.3-6.9-8z"/>
<path fill="#aadc32" d="M436.2 177.6l7.1.8 1-1.7-7.1-.8z"/>
<path fill="#1f9a8a" d="M417.2 311.9l4.9-12.6 4-1.4-4.8 13.9z"/>
<path fill="#27ad81" d="M433.2 286.1l4.9-10.9 4.1-12.5-4.9 8.7z"/>
<path fill="#1e9c89" d="M574.7 293.3l1.8 4.2 3.6 13.4-1.8-5.6z"/>
<path fill="#20928c" d="M389.7 317.3l6.8-7.3 4.2 9-6.8 12.1z"/>
<path fill="#1f998a" d="M359.1 298.9l7.1 8.1 2.8 9.7-7.1-9.2z"/>
<path fill="#a5db36" d="M433.2 183.1l7.1.6 3-5.3-7.1-.8z"/>
<path fill="#77d153" d="M428.3 213.8l6.8-.3 4-11.5-6.8.1z"/>
<path fill="#9bd93c" d="M430 189.7l7.1.6 3.2-6.6-7.1-.6z"/>
<path fill="#81d34d" d="M579.9 200.5l4.6 4.6 3.9-4-4.6-4z"/>
<path fill="#21908d" d="M620.3 323.9l7.6-19.5 4.3 11.8-7.8 26z"/>
<path fill="#1f988b" d="M637.9 321.3l7.9-25.4.9-.6-7.8 25.3z"/>
<path fill="#a8db34" d="M545 177.4l7 3.1 3.9-.6-7-2.6z"/>
<path fill="#56c667" d="M235.6 228.3l3.6 1.5 1.7 2.8-3.6-1.7z"/>
<path fill="#40bd72" d="M649.3 256.1l7.3-5.2 4.2-12.6-7.3 3.9z"/>
<path fill="#2eb37c" d="M305.9 260l6.9-1.3 4.4 8.8-6.8 3.3z"/>
<path fill="#98d83e" d="M735.5 190.6l7.5-6.7 3.7 0-7.5 7.4z"/>
<path fill="#b5de2b" d="M520.8 171l7 1.9 3.2 0-7-1.8z"/>
<path fill="#70cf57" d="M676.6 213.8l7.3-3.7 3.8-.7-7.3 4.2z"/>
<path fill="#65cb5e" d="M431.1 227l6.9-1.8 4-12.8-6.9 1.1z"/>
<path fill="#c0df25" d="M477.2 166.3l8.4 1.4 4-1.8-8.4-1.6z"/>
<path fill="#31b57b" d="M568.8 253l6.7 19.1 1-.7-6.7-19z"/>
<path fill="#6ccd5a" d="M88 203.3l3 6 5.5 17-2.9-3.8z"/>
<path fill="#52c569" d="M239.2 229.8l7 3.8 1.6 3.1-6.9-4.1z"/>
<path fill="#1f948c" d="M400.7 319l8.3-14.8 4.1 4.5-8.2 20.7z"/>
<path fill="#46c06f" d="M253.1 237.9l7 4.5 1.7 4.1-7-4.9z"/>
<path fill="#32648e" d="M483.3 395.5l4.6 4.5 1.5-13.3-4.7-3.7z"/>
<path fill="#65cb5e" d="M578.9 218.3l6.8 11.1 4.8-8.4-6.9-9.2z"/>
<path fill="#40bd72" d="M260.1 242.4l7 4 1.6 4.5-6.9-4.4z"/>
<path fill="#4cc26c" d="M248.2 234.8l4.9 3.1 1.7 3.7-4.9-3.5z"/>
<path fill="#4ec36b" d="M246.2 233.6l2 1.2 1.7 3.3-2.1-1.4z"/>
<path fill="#365d8d" d="M374.2 430.6l7.1-28.3 3.9-22.1-7.3 15.6z"/>
<path fill="#8bd646" d="M573 194.2l6.9 6.3 3.9-3.4-6.9-5.4z"/>
<path fill="#7fd34e" d="M698.7 205.3l5.9-4.4 3.6 1.1-5.9 5.2z"/>
<path fill="#77d153" d="M687.7 209.4l7.3-4.6 3.7.5-7.4 5.4z"/>
<path fill="#a2da37" d="M552 180.5l7 3.7 3.9-1.1-7-3.2z"/>
<path fill="#56c667" d="M434 240.2l6.9-4.3 4.1-13.6-7 2.9z"/>
<path fill="#3a538b" d="M460.2 393.4l7 19.1 3.9 33.2-6.9-33.5z"/>
<path fill="#33638d" d="M487.9 400l2.3-.7 1.5-13.2-2.3.6z"/>
<path fill="#77d153" d="M581.3 208.9l2.3 2.9 3.2-4.1-2.3-2.6z"/>
<path fill="#56c667" d="M145.5 233.9l6.4-5.5 4.5.1-6.5 6.1z"/>
<path fill="#b0dd2f" d="M444.3 176.7l6.9.7 4-5.6-6.8-.8z"/>
<path fill="#3dbc74" d="M267.1 246.4l6.9 2.9 1.7 4.7-7-3.1z"/>
<path fill="#95d840" d="M566 188.8l7 5.4 3.9-2.5-7-4.7z"/>
<path fill="#bddf26" d="M466.2 168.3l7 1 4-3-7-1.2z"/>
<path fill="#9dd93b" d="M559 184.2l7 4.6 3.9-1.8-7-3.9z"/>
<path fill="#bade28" d="M502.1 168.5l7 1.5 4.7-.7-7-1.5z"/>
<path fill="#22a785" d="M647 301.6l7.7-20.1 4.2-11-7.7 16.3z"/>
<path fill="#21908d" d="M609.5 319.8l7.4-12.6 3.4 16.7-7.5 18z"/>
<path fill="#86d549" d="M708.2 202l8.9-7.2 3.7.9-9 8.4z"/>
<path fill="#5cc863" d="M574.9 223.9l6.8 12.7 4-7.2-6.8-11.1z"/>
<path fill="#8bd646" d="M432.3 202.1l6.8-.1 4.8-11.4-6.8-.3z"/>
<path fill="#4ec36b" d="M123.3 236.6l6.7-.7 4.5 1.2-6.7 2z"/>
<path fill="#b8de29" d="M455.2 171.8l7 .8 4-4.3-7-1z"/>
<path fill="#3d4e8a" d="M474.2 416.1l7-15.4 3.9 24-7 29.4z"/>
<path fill="#34b679" d="M289.4 255.5l6.8-.9 2.9 7.5-6.8 2z"/>
<path fill="#5cc863" d="M156.4 228.5l5.1-4.8 4.5 1-5.2 4.8z"/>
<path fill="#b2dd2d" d="M527.8 172.9l7 2.3 3.2-.3-7-2z"/>
<path fill="#60ca60" d="M214.1 219.7l6.8 0 4.6 6.1-6.8.1z"/>
<path fill="#31688e" d="M353.4 382.9l7.4 31.8 3.7-28.9-7.3-21.3z"/>
<path fill="#aadc32" d="M443.3 178.4l6.8.6 1.1-1.6-6.9-.7z"/>
<path fill="#52c569" d="M138.2 235.3l2.8-1.7 4.5.3-2.8 2.1z"/>
<path fill="#22a884" d="M340.7 274.7l7.1 10.1 4.3 9.5-7.1-12z"/>
<path fill="#3bbb75" d="M274 249.3l2.4.7 1.7 4.7-2.4-.7z"/>
<path fill="#65cb5e" d="M178.3 220.7l6.6-4.1 4 3.5-6.6 3.9zM661.6 223.8l7.3-2.7 3.9-4.9-7.2 2.7z"/>
<path fill="#7fd34e" d="M576.7 203.6l4.6 5.3 3.2-3.8-4.6-4.6z"/>
<path fill="#63cb5f" d="M166 224.7l7.8-6.4 4.5 2.4-7.8 6.2z"/>
<path fill="#bddf26" d="M485.6 167.7l5 .9 4-1.7-5-1z"/>
<path fill="#a5db36" d="M440.3 183.7l6.8.5 3-5.2-6.8-.6z"/>
<path fill="#31b57b" d="M565.8 254.2l6.8 18.7 2.9-.8-6.7-19.1z"/>
<path fill="#1f998a" d="M635.1 320.7l7.8-24.7 2.9-.1-7.9 25.4z"/>
<path fill="#9bd93c" d="M437.1 190.3l6.8.3 3.2-6.4-6.8-.5z"/>
<path fill="#33638d" d="M460.8 381.9l7 36 4.5-14.9-7-30.7z"/>
<path fill="#52c569" d="M653.5 242.2l7.3-3.9 4-9.9-7.2 3.2z"/>
<path fill="#54c568" d="M570.9 229.1l6.8 14.1 4-6.6-6.8-12.7z"/>
<path fill="#70cf57" d="M576.5 214.9l2.4 3.4 4.7-6.5-2.3-2.9z"/>
<path fill="#3bbb75" d="M276.4 250l4.5.8 1.6 4.7-4.4-.8z"/>
<path fill="#7ad151" d="M435.1 213.5l6.9-1.1 4-11-6.9.6z"/>
<path fill="#1fa088" d="M352.1 289.1l7 9.8 2.8 8.6-7.1-11.3z"/>
<path fill="#b0dd2f" d="M534.8 175.2l7 2.8 3.2-.6-7-2.5z"/>
<path fill="#5ec962" d="M657.6 231.6l7.2-3.2 4.1-7.3-7.3 2.7z"/>
<path fill="#bade28" d="M509.1 170l7 1.8 4.7-.8-7-1.7z"/>
<path fill="#34b679" d="M437.3 271.4l4.9-8.7 4.1-12.6-5 6.8z"/>
<path fill="#4cc26c" d="M436.9 251.4l8.4-8.6 4.1-12.9-8.5 6z"/>
<path fill="#1f948c" d="M380.1 313l6.9-2.4 2.7 6.7-6.9 4.5z"/>
<path fill="#89d548" d="M569.7 196.6l7 7 3.2-3.1-6.9-6.3z"/>
<path fill="#3bbb75" d="M653.1 263.1l7.4-8.7 3.4-10.4-7.3 6.9z"/>
<path fill="#b2dd2d" d="M451.2 177.4l6.9.5 4.1-5.3-7-.8z"/>
<path fill="#25ab82" d="M564.9 267.9l6.7 17.7 4.5 7.4-6.6-21.1z"/>
<path fill="#93d741" d="M720.8 195.7l7.4-6.3 3.7.5-7.5 7.1z"/>
<path fill="#69cd5b" d="M195.6 217.1l6.7-2 5.1 5.8-6.7 2.1z"/>
<path fill="#bddf26" d="M473.2 169.3l8.4 1.2 4-2.8-8.4-1.4z"/>
<path fill="#7cd250" d="M80.1 188l7.9 15.3 5.6 19.2-7.5-10.1z"/>
<path fill="#32b67a" d="M312.8 258.7l6.9.4 4.3 7.2-6.8 1.2z"/>
<path fill="#bade28" d="M462.2 172.6l6.9.7 4.1-4-7-1z"/>
<path fill="#bddf26" d="M490.6 168.6l7.5 1.4 4-1.5-7.5-1.6z"/>
<path fill="#1f968b" d="M584.3 301l10 5.6 3.4 22.2-9.9-8.5z"/>
<path fill="#aadc32" d="M541.8 178l7 3.4 3.2-.9-7-3.1z"/>
<path fill="#77d153" d="M572 208.7l4.5 6.2 4.8-6-4.6-5.3z"/>
<path fill="#73d056" d="M672.8 216.2l7.2-3.5 3.9-2.6-7.3 3.7z"/>
<path fill="#4ec36b" d="M566.9 233.5l6.8 15.2 4-5.5-6.8-14.1z"/>
<path fill="#63cb5f" d="M220.9 219.7l6.9 1 4.5 6.5-6.8-1.4z"/>
<path fill="#6ccd5a" d="M438 225.2l7-2.9 4-11.8-7 1.9z"/>
<path fill="#93d741" d="M562.8 190.6l6.9 6 3.3-2.4-7-5.4z"/>
<path fill="#addc30" d="M450.1 179l7 .4 1-1.5-6.9-.5z"/>
<path fill="#58c765" d="M103.9 227.3l2 1.7 5.7 4.8-2-1.1z"/>
<path fill="#8ed645" d="M439.1 202l6.9-.6 4.9-10.9-7 .1z"/>
<path fill="#69cd5b" d="M572.6 220.1l2.3 3.8 4-5.6-2.4-3.4z"/>
<path fill="#2e6d8e" d="M476.3 377.8l7 17.7 1.4-12.5-6.9-14.8z"/>
<path fill="#a5db36" d="M548.8 181.4l7 4.1 3.2-1.3-7-3.7z"/>
<path fill="#56c667" d="M105.9 229l4.9 3 5.7 3.6-4.9-1.8z"/>
<path fill="#34618d" d="M457.3 380.3l6.9 31.9 3.6 5.7-7-36z"/>
<path fill="#a8db34" d="M447.1 184.2l7 .2 3-5-7-.4z"/>
<path fill="#52c569" d="M130 235.9l3.7-1.2 4.5.6-3.7 1.8z"/>
<path fill="#9dd93b" d="M555.8 185.5l7 5.1 3.2-1.8-7-4.6z"/>
<path fill="#b8de29" d="M516.1 171.8l7 2.1 4.7-1-7-1.9z"/>
<path fill="#27ad81" d="M336.2 269.5l4.5 5.2 4.3 7.6-4.5-6z"/>
<path fill="#2ab07f" d="M651.2 286.8l7.7-16.3 4.1-11.9-7.5 12.8z"/>
<path fill="#3bbb75" d="M280.9 250.8l6.9.4 1.6 4.3-6.9 0z"/>
<path fill="#21a585" d="M567.9 277.8l6.8 15.5 3.6 12-6.7-19.7z"/>
<path fill="#9dd93b" d="M443.9 190.6l7-.1 3.2-6.1-7-.2z"/>
<path fill="#1e9c89" d="M413.1 308.7l4.9-10.3 4.1.9-4.9 12.6z"/>
<path fill="#1f948c" d="M594.3 306.6l4.6-.9 3.3 21.8-4.5 1.3z"/>
<path fill="#9dd93b" d="M731.9 189.9l7.5-6.1 3.6.1-7.5 6.7z"/>
<path fill="#5ec962" d="M96.6 218.6l7.3 8.7 5.7 5.4-7-5.8z"/>
<path fill="#1e9b8a" d="M364.6 302.5l7.1 5 1.6 4.5-7.1-5z"/>
<path fill="#38b977" d="M296.2 254.6l6.9-1 2.8 6.4-6.8 2.1z"/>
<path fill="#63cb5f" d="M227.8 220.7l3.3.8 4.5 6.8-3.3-1.1z"/>
<path fill="#7cd250" d="M683.9 210.1l7.3-4.2 3.8-1.1-7.3 4.6z"/>
<path fill="#bddf26" d="M481.6 170.5l5 .7 4-2.6-5-.9z"/>
<path fill="#365c8d" d="M488.6 433.5l7.2-39.3 4.6-10.3-7.2 31.6z"/>
<path fill="#2e6f8e" d="M364.5 385.8l8.5 13 3.7-31.4-8.5-8.2z"/>
<path fill="#54c568" d="M110.8 232l6.9 2.3 5.6 2.3-6.8-1z"/>
<path fill="#2f6c8e" d="M373 398.8l4.9-3 3.7-29.5-4.9 1.1z"/>
<path fill="#b2dd2d" d="M458.1 177.9l7 .4 4-5-6.9-.7z"/>
<path fill="#32b67a" d="M562.7 254.2l6.8 17.7 3.1 1-6.8-18.7z"/>
<path fill="#84d44b" d="M565.1 200.6l6.9 8.1 4.7-5.1-7-7z"/>
<path fill="#bddf26" d="M498.1 170l7.1 1.5 3.9-1.5-7-1.5z"/>
<path fill="#32b67a" d="M319.7 259.1l6.9 2.6 4.4 6.5-7-1.9z"/>
<path fill="#2cb17e" d="M332.8 266.2l3.4 3.3 4.3 6.8-3.4-3.6z"/>
<path fill="#84d44b" d="M695 204.8l5.8-3.8 3.8-.1-5.9 4.4z"/>
<path fill="#58c765" d="M141 233.6l6.5-4.9 4.4-.3-6.4 5.5z"/>
<path fill="#4cc26c" d="M656.6 250.9l7.3-6.9 4.2-11-7.3 5.3z"/>
<path fill="#63cb5f" d="M568.6 224.9l2.3 4.2 4-5.2-2.3-3.8z"/>
<path fill="#1f998a" d="M371.7 307.5l6.8 1.6 1.6 3.9-6.8-1z"/>
<path fill="#b5de2b" d="M523.1 173.9l7.1 2.5 4.6-1.2-7-2.3z"/>
<path fill="#73d056" d="M568 213.1l4.6 7 3.9-5.2-4.5-6.2z"/>
<path fill="#60ca60" d="M231.1 221.5l3.6 1.2 4.5 7.1-3.6-1.5z"/>
<path fill="#1e9d89" d="M577 291.5l7.3 9.5 3.5 19.3-7.2-13.7z"/>
<path fill="#7fd34e" d="M442 212.4l7-1.9 4-10.1-7 1z"/>
<path fill="#bade28" d="M469.1 173.3l8.5.8 4-3.6-8.4-1.2z"/>
<path fill="#4ac16d" d="M563 236.8l6.8 15.6 3.9-3.7-6.8-15.2z"/>
<path fill="#1f9f88" d="M357.6 294.8l7 7.7 1.6 4.5-7.1-8.1z"/>
<path fill="#44bf70" d="M441.3 256.9l5-6.8 4-12.3-5 5z"/>
<path fill="#2fb47c" d="M326.6 261.7l6.2 4.5 4.3 6.5-6.1-4.5z"/>
<path fill="#60ca60" d="M440.9 235.9l8.5-6 4-11.7-8.4 4.1z"/>
<path fill="#306a8e" d="M490.2 399.3l7.1-12.9 1.5-10.7-7.1 10.4z"/>
<path fill="#8bd646" d="M77.8 184.2l2.3 3.8 6 24.4-2.3-2.8z"/>
<path fill="#22a785" d="M345 279l7.1 10.1 2.7 7.1-7-11.4z"/>
<path fill="#6ece58" d="M668.9 221.1l7.2-3.8 3.9-4.6-7.2 3.5z"/>
<path fill="#addc30" d="M457.1 179.4l7 .3 1-1.4-7-.4z"/>
<path fill="#60ca60" d="M151.9 228.4l5.2-4.7 4.4 0-5.1 4.8z"/>
<path fill="#6ece58" d="M184.9 216.6l6.7-3 4 3.5-6.7 3z"/>
<path fill="#5ec962" d="M234.7 222.7l6.9 2.8 4.6 8.1-7-3.8z"/>
<path fill="#8ed645" d="M704.6 200.9l8.8-6.3 3.7.2-8.9 7.2z"/>
<path fill="#56c667" d="M133.7 234.7l2.9-1.4 4.4.3-2.8 1.7z"/>
<path fill="#1e9c89" d="M632.2 316.2l7.7-22.7 3 2.5-7.8 24.7z"/>
<path fill="#b0dd2f" d="M530.2 176.4l7 3.1 4.6-1.5-7-2.8z"/>
<path fill="#a8db34" d="M454.1 184.4l7 0 3-4.7-7-.3z"/>
<path fill="#6ece58" d="M202.3 215.1l6.7-1.1 5.1 5.7-6.7 1.2z"/>
<path fill="#25ac82" d="M430.2 293.2l7.5-16.8 3.8-6.6-7.5 15.9z"/>
<path fill="#93d741" d="M558.1 193.7l7 6.9 4.6-4-6.9-6z"/>
<path fill="#5cc863" d="M241.6 225.5l2 1 4.6 8.3-2-1.2z"/>
<path fill="#bddf26" d="M486.6 171.2l7.5 1.2 4-2.4-7.5-1.4z"/>
<path fill="#90d743" d="M446 201.4l7-1 4.9-10.2-7 .3z"/>
<path fill="#2d708e" d="M465.3 372.3l7 30.7 4-25.2-6.9-22.2z"/>
<path fill="#58c765" d="M243.6 226.5l5 2.3 4.5 9.1-4.9-3.1z"/>
<path fill="#bade28" d="M505.2 171.5l7 1.7 3.9-1.4-7-1.8z"/>
<path fill="#2ab07f" d="M434 285.7l7.5-15.9 4.1-8.6-7.5 14z"/>
<path fill="#a0da39" d="M450.9 190.5l7-.3 3.2-5.8-7 0z"/>
<path fill="#5ac864" d="M660.8 238.3l7.3-5.3 4-8.9-7.3 4.3z"/>
<path fill="#3fbc73" d="M287.8 251.2l6.8-.4 1.6 3.8-6.8.9z"/>
<path fill="#69cd5b" d="M161.5 223.7l7.9-6.6 4.4 1.2-7.8 6.4z"/>
<path fill="#54c568" d="M248.6 228.8l6.9 3.4 4.6 10.2-7-4.5z"/>
<path fill="#67cc5c" d="M664.8 228.4l7.3-4.3 4-6.8-7.2 3.8z"/>
<path fill="#95d840" d="M72.8 178.3l5 5.9 6 25.4-4.9-5.3z"/>
<path fill="#22a884" d="M427.5 296.7l7.5-16.8 2.7-3.5-7.5 16.8z"/>
<path fill="#addc30" d="M537.2 179.5l7 3.8 4.6-1.9-7-3.4z"/>
<path fill="#54c568" d="M117.7 234.3l6.8.4 5.5 1.2-6.7.7z"/>
<path fill="#5cc863" d="M564.6 229l2.3 4.5 4-4.4-2.3-4.2z"/>
<path fill="#375a8c" d="M485.1 424.7l7.2-34.2 3.5 3.7-7.2 39.3z"/>
<path fill="#48c16e" d="M562 237.4l6.8 15.6 1-.6-6.8-15.6z"/>
<path fill="#9dd93b" d="M551.1 188l7 5.7 4.7-3.1-7-5.1z"/>
<path fill="#6ccd5a" d="M564 217.3l4.6 7.6 4-4.8-4.6-7z"/>
<path fill="#6ece58" d="M173.8 218.3l6.6-4.3 4.5 2.6-6.6 4.1z"/>
<path fill="#a5db36" d="M544.2 183.3l6.9 4.7 4.7-2.5-7-4.1z"/>
<path fill="#70cf57" d="M89 203.9l7.6 14.7 6 8.3-7.3-9.9z"/>
<path fill="#3aba76" d="M655.5 271.4l7.5-12.8 5-13.8-7.5 9.6z"/>
<path fill="#50c46a" d="M255.5 232.2l7 3.1 4.6 11.1-7-4z"/>
<path fill="#7fd34e" d="M561.1 204.1l6.9 9 4-4.4-6.9-8.1z"/>
<path fill="#bade28" d="M477.6 174.1l5 .5 4-3.4-5-.7z"/>
<path fill="#b5de2b" d="M465.1 178.3l8.5.4 4-4.6-8.5-.8z"/>
<path fill="#2c728e" d="M484.7 383l4.7 3.7 2.6-21.7-4.6-2.7z"/>
<path fill="#98d83e" d="M717.1 194.8l7.4-5.5 3.7.1-7.4 6.3z"/>
<path fill="#3bbb75" d="M303.1 253.6l6.9-.3 2.8 5.4-6.9 1.3z"/>
<path fill="#22a785" d="M426.1 297.9l7.5-16.5 1.4-1.5-7.5 16.8z"/>
<path fill="#1f9a8a" d="M387 310.6l6.9-4.9 2.6 4.3-6.8 7.3z"/>
<path fill="#21a585" d="M350.5 285.5l7.1 9.3 1.5 4.1-7-9.8z"/>
<path fill="#73d056" d="M445 222.3l8.4-4.1 4-10.4-8.4 2.7z"/>
<path fill="#1f9a8a" d="M378.5 309.1l7-1.5 1.5 3-6.9 2.4z"/>
<path fill="#35b779" d="M438.1 275.2l7.5-14 4.2-10-7.6 11.5z"/>
<path fill="#bade28" d="M512.2 173.2l7 2.2 3.9-1.5-7-2.1z"/>
<path fill="#7cd250" d="M680 212.7l7.3-4.1 3.9-2.7-7.3 4.2z"/>
<path fill="#2c718e" d="M489.4 386.7l2.3-.6 2.7-21.4-2.4.3z"/>
<path fill="#4cc26c" d="M262.5 235.3l6.9 2.5 4.6 11.5-6.9-2.9z"/>
<path fill="#58c765" d="M445.3 242.8l5-5 4-11.6-4.9 3.7z"/>
<path fill="#bddf26" d="M494.1 172.4l7.1 1.3 4-2.2-7.1-1.5z"/>
<path fill="#b0dd2f" d="M464.1 179.7l8.5.3 1-1.3-8.5-.4z"/>
<path fill="#1e9c89" d="M396.5 310l8.4-9.8 4.1 4-8.3 14.8z"/>
<path fill="#1f988b" d="M598.9 305.7l7.2-5.2 3.4 19.3-7.3 7.7z"/>
<path fill="#20a386" d="M572.9 284.9l4.1 6.6 3.6 15.1-4.1-9.1z"/>
<path fill="#48c16e" d="M559 238.8l6.8 15.4 3-1.2-6.8-15.6z"/>
<path fill="#a2da37" d="M728.2 189.4l7.5-5.5 3.7-.1-7.5 6.1z"/>
<path fill="#28ae80" d="M337.9 270l7.1 9 2.8 5.8-7.1-10.1z"/>
<path fill="#4ac16d" d="M269.4 237.8l2.4.7 4.6 11.5-2.4-.7z"/>
<path fill="#aadc32" d="M461.1 184.4l8.4-.1 3.1-4.3-8.5-.3z"/>
<path fill="#67cc5c" d="M560.1 221l4.5 8 4-4.1-4.6-7.6z"/>
<path fill="#bade28" d="M482.6 174.6l7.5 1 4-3.2-7.5-1.2z"/>
<path fill="#70cf57" d="M209 214l6.9-.2 5 5.9-6.8 0z"/>
<path fill="#86d549" d="M449 210.5l8.4-2.7 4.1-9-8.5 1.6zM691.2 205.9l5.8-3.6 3.8-1.3-5.8 3.8z"/>
<path fill="#8ed645" d="M554.2 196.6l6.9 7.5 4-3.5-7-6.9z"/>
<path fill="#b5de2b" d="M519.2 175.4l7 2.6 4-1.6-7.1-2.5z"/>
<path fill="#58c765" d="M124.5 234.7l3.8-.7 5.4.7-3.7 1.2z"/>
<path fill="#5ac864" d="M560.7 232.2l2.3 4.6 3.9-3.3-2.3-4.5z"/>
<path fill="#5cc863" d="M136.6 233.3l6.5-4.2 4.4-.4-6.5 4.9z"/>
<path fill="#b5de2b" d="M473.6 178.7l4.9.3 4.1-4.4-5-.5z"/>
<path fill="#a2da37" d="M457.9 190.2l8.4-.7 3.2-5.2-8.4.1z"/>
<path fill="#7cd250" d="M557.1 207.5l6.9 9.8 4-4.2-6.9-9z"/>
<path fill="#40bd72" d="M294.6 250.8l6.9-.5 1.6 3.3-6.9 1z"/>
<path fill="#4ac16d" d="M271.8 238.5l4.5 1 4.6 11.3-4.5-.8z"/>
<path fill="#95d840" d="M453 200.4l8.5-1.6 4.8-9.3-8.4.7z"/>
<path fill="#5ec962" d="M102.3 227.4l5 3.5 3.5 1.1-4.9-3z"/>
<path fill="#22a785" d="M422.1 299.3l7.4-14.9 4.1-3-7.5 16.5z"/>
<path fill="#42be71" d="M442.2 262.7l7.6-11.5 4-10.3-7.5 9.2z"/>
<path fill="#75d054" d="M191.6 213.6l6.7-2.1 4 3.6-6.7 2z"/>
<path fill="#4ac16d" d="M660.5 254.4l7.5-9.6 3.3-8.6-7.4 7.8z"/>
<path fill="#63cb5f" d="M100.3 225.5l2 1.9 3.6 1.6-2-1.7z"/>
<path fill="#bade28" d="M501.2 173.7l7 1.7 4-2.2-7-1.7z"/>
<path fill="#297a8e" d="M357.2 364.5l7.3 21.3 3.7-26.6-7.1-14.1z"/>
<path fill="#2a788e" d="M477.8 368.2l6.9 14.8 2.7-20.7-7-11z"/>
<path fill="#1fa088" d="M409 304.2l4.9-7.7 4.1 1.9-4.9 10.3z"/>
<path fill="#65cb5e" d="M147.5 228.7l5.2-4.5 4.4-.5-5.2 4.7z"/>
<path fill="#b2dd2d" d="M526.2 178l7 3.3 4-1.8-7-3.1z"/>
<path fill="#3dbc74" d="M310 253.3l6.9 1.2 2.8 4.6-6.9-.4z"/>
<path fill="#37b878" d="M558.1 252.5l6.8 15.4 4.6 4-6.8-17.7z"/>
<path fill="#5ac864" d="M107.3 230.9l6.9 2.8 3.5.6-6.9-2.3z"/>
<path fill="#9bd93c" d="M547.2 190.4l7 6.2 3.9-2.9-7-5.7z"/>
<path fill="#69cd5b" d="M449.4 229.9l4.9-3.7 4.1-10.6-5 2.6z"/>
<path fill="#90d743" d="M700.8 201l8.9-5.8 3.7-.6-8.8 6.3z"/>
<path fill="#7ad151" d="M676.1 217.3l7.3-4.4 3.9-4.3-7.3 4.1z"/>
<path fill="#b2dd2d" d="M472.6 180l4.9.2 1-1.2-4.9-.3z"/>
<path fill="#26ad81" d="M343.4 276.1l7.1 9.4 1.6 3.6-7.1-10.1z"/>
<path fill="#addc30" d="M533.2 181.3l7 4.1 4-2.1-7-3.8z"/>
<path fill="#22a884" d="M571 281.8l1.9 3.1 3.6 12.6-1.8-4.2z"/>
<path fill="#a5db36" d="M540.2 185.4l7 5 3.9-2.4-6.9-4.7z"/>
<path fill="#2f6b8e" d="M493.2 415.5l7.2-31.6 4.1-18.8-7.2 21.3z"/>
<path fill="#2fb47c" d="M333.5 265.1l4.4 4.9 2.8 4.7-4.5-5.2z"/>
<path fill="#2db27d" d="M561.1 263.2l6.8 14.6 3.7 7.8-6.7-17.7z"/>
<path fill="#58c765" d="M559.7 232.8l2.3 4.6 1-.6-2.3-4.6z"/>
<path fill="#5ac864" d="M128.3 234l2.8-.9 5.5.2-2.9 1.4z"/>
<path fill="#bade28" d="M490.1 175.6l7.1 1.1 4-3-7.1-1.3z"/>
<path fill="#2c738e" d="M377.9 395.8l7.3-15.6 3.8-22.6-7.4 8.7z"/>
<path fill="#6ccd5a" d="M93 216l7.3 9.5 3.6 1.8-7.3-8.7z"/>
<path fill="#86d549" d="M84.6 192.8l4.4 11.1 6.3 13.1-4.3-7.7z"/>
<path fill="#addc30" d="M469.5 184.3l5-.1 3-4-4.9-.2z"/>
<path fill="#4ac16d" d="M276.3 239.5l6.9 1.1 4.6 10.6-6.9-.4z"/>
<path fill="#58c765" d="M663.9 244l7.4-7.8 4.1-9.4-7.3 6.2z"/>
<path fill="#1fa187" d="M360.3 292.7l7.2 5.6 4.2 9.2-7.1-5z"/>
<path fill="#bade28" d="M508.2 175.4l7 2.1 4-2.1-7-2.2z"/>
<path fill="#b5de2b" d="M478.5 179l7.6.5 4-3.9-7.5-1z"/>
<path fill="#73d056" d="M215.9 213.8l6.8.7 5.1 6.2-6.9-1z"/>
<path fill="#29af7f" d="M650.7 290.2l6.2-16.1 4-6.9-6.2 14.3z"/>
<path fill="#6ece58" d="M157.1 223.7l7.9-6.8 4.4.2-7.9 6.6z"/>
<path fill="#65cb5e" d="M556.1 224l4.6 8.2 3.9-3.2-4.5-8z"/>
<path fill="#4ac16d" d="M555.9 239.5l6.8 14.7 3.1 0-6.8-15.4z"/>
<path fill="#52c569" d="M446.3 250.1l7.5-9.2 4-10.1-7.5 7z"/>
<path fill="#297b8e" d="M469.4 355.6l6.9 22.2 1.5-9.6-6.9-19.6z"/>
<path fill="#34b679" d="M330.1 262l3.4 3.1 2.7 4.4-3.4-3.3z"/>
<path fill="#1fa088" d="M367.5 298.3l6.8 3.2 4.2 7.6-6.8-1.6z"/>
<path fill="#77d153" d="M180.4 214l6.7-3.3 4.5 2.9-6.7 3z"/>
<path fill="#7cd250" d="M453.4 218.2l5-2.6 4-9.5-5 1.7z"/>
<path fill="#3bbb75" d="M316.9 254.5l6.9 3 2.8 4.2-6.9-2.6z"/>
<path fill="#8bd646" d="M550.2 199.5l6.9 8 4-3.4-6.9-7.5z"/>
<path fill="#70cf57" d="M672.1 224.1l7.4-5.1 3.9-6.1-7.3 4.4z"/>
<path fill="#77d153" d="M553.2 210.7l6.9 10.3 3.9-3.7-6.9-9.8z"/>
<path fill="#2b758e" d="M340.9 359.4l7.6 34.8 4.9-11.3-7.5-30z"/>
<path fill="#5ac864" d="M114.2 233.7l6.8.8 3.5.2-6.8-.4z"/>
<path fill="#31b57b" d="M654.7 281.5l6.2-14.3 4.1-8.8-6.1 12.1z"/>
<path fill="#9dd93b" d="M713.4 194.6l7.4-5 3.7-.3-7.4 5.5z"/>
<path fill="#67cc5c" d="M668.1 233l7.3-6.2 4.1-7.8-7.4 5.1z"/>
<path fill="#a5db36" d="M466.3 189.5l5-.3 3.2-5-5 .1z"/>
<path fill="#38b977" d="M323.8 257.5l6.3 4.5 2.7 4.2-6.2-4.5z"/>
<path fill="#1f9e89" d="M385.5 307.6l6.9-3.6 1.5 1.7-6.9 4.9z"/>
<path fill="#21a685" d="M353.3 285.5l7 7.2 4.3 9.8-7-7.7z"/>
<path fill="#31678e" d="M376.5 416.5l6.5-33.3 4.9-7.6-6.6 26.7z"/>
<path fill="#42be71" d="M301.5 250.3l6.9.2 1.6 2.8-6.9.3z"/>
<path fill="#25ac82" d="M646.7 295.3l6.3-17 3.9-4.2-6.2 16.1z"/>
<path fill="#2a768e" d="M491.7 386.1l7.1-10.4 2.7-18.4-7.1 7.4z"/>
<path fill="#86d549" d="M687.3 208.6l5.9-3.6 3.8-2.7-5.8 3.6z"/>
<path fill="#b8de29" d="M515.2 177.5l7 2.6 4-2.1-7-2.6z"/>
<path fill="#8bd646" d="M457.4 207.8l5-1.7 4-8.3-4.9 1z"/>
<path fill="#58c765" d="M556.7 234.3l2.3 4.5 3-1.4-2.3-4.6z"/>
<path fill="#9bd93c" d="M461.5 198.8l4.9-1 4.9-8.6-5 .3z"/>
<path fill="#77d153" d="M169.4 217.1l6.6-4.6 4.4 1.5-6.6 4.3z"/>
<path fill="#b2dd2d" d="M477.5 180.2l7.6.5 1-1.2-7.6-.5z"/>
<path fill="#1f9e89" d="M616.9 307.2l7.5-14.7 3.5 11.9-7.6 19.5z"/>
<path fill="#bade28" d="M497.2 176.7l7 1.4 4-2.7-7-1.7z"/>
<path fill="#73d056" d="M222.7 214.5l3.3.6 5.1 6.4-3.3-.8z"/>
<path fill="#a8db34" d="M724.5 189.3l7.4-5 3.8-.4-7.5 5.5z"/>
<path fill="#98d83e" d="M543.2 193l7 6.5 4-2.9-7-6.2z"/>
<path fill="#2f6b8e" d="M453.2 370.5l7 22.9 4 18.8-6.9-31.9z"/>
<path fill="#7cd250" d="M198.3 211.5l6.8-1.2 3.9 3.7-6.7 1.1z"/>
<path fill="#63cb5f" d="M555.1 224.6l4.6 8.2 1-.6-4.6-8.2z"/>
<path fill="#2eb37c" d="M336.4 267.4l7 8.7 1.6 2.9-7.1-9z"/>
<path fill="#63cb5f" d="M450.3 237.8l7.5-7 4.1-9.8-7.6 5.2z"/>
<path fill="#b2dd2d" d="M522.2 180.1l7 3.4 4-2.2-7-3.3z"/>
<path fill="#3bbb75" d="M658.9 270.5l6.1-12.1 4.1-9.7-6.1 9.9z"/>
<path fill="#22a785" d="M418 298.4l7.5-12.4 4-1.6-7.4 14.9z"/>
<path fill="#b0dd2f" d="M474.5 184.2l7.6.1 3-3.6-7.6-.5z"/>
<path fill="#b8de29" d="M486.1 179.5l7 .8 4.1-3.6-7.1-1.1z"/>
<path fill="#4cc26c" d="M283.2 240.6l6.9.6 4.5 9.6-6.8.4z"/>
<path fill="#73d056" d="M226 215.1l3.6.8 5.1 6.8-3.6-1.2z"/>
<path fill="#1fa088" d="M374.3 301.5l7 1 4.2 5.1-7 1.5z"/>
<path fill="#287d8e" d="M345.9 352.9l7.5 30 3.8-18.4-7.3-23.1z"/>
<path fill="#25ab82" d="M645.8 295.9l6.2-17 1-.6-6.3 17z"/>
<path fill="#a2da37" d="M536.2 187.7l7 5.3 4-2.6-7-5z"/>
<path fill="#addc30" d="M529.2 183.5l7 4.2 4-2.3-7-4.1z"/>
<path fill="#5cc863" d="M121 234.5l3.8-.4 3.5-.1-3.8.7z"/>
<path fill="#28ae80" d="M564.1 269.9l6.9 11.9 3.7 11.5-6.8-15.5z"/>
<path fill="#67cc5c" d="M143.1 229.1l5.2-4.1 4.4-.8-5.2 4.5z"/>
<path fill="#60ca60" d="M131.1 233.1l6.6-3.4 5.4-.6-6.5 4.2z"/>
<path fill="#93d741" d="M697 202.3l8.9-5.4 3.8-1.7-8.9 5.8z"/>
<path fill="#1fa287" d="M627.9 304.4l7.7-18.4 4.3 7.5-7.7 22.7z"/>
<path fill="#25ac82" d="M346.2 277.2l7.1 8.3 4.3 9.3-7.1-9.3z"/>
<path fill="#b8de29" d="M504.2 178.1l7 2 4-2.6-7-2.1z"/>
<path fill="#89d548" d="M546.2 202.4l7 8.3 3.9-3.2-6.9-8z"/>
<path fill="#a8db34" d="M471.3 189.2l7.6-.5 3.2-4.4-7.6-.1z"/>
<path fill="#75d054" d="M549.2 213.6l6.9 10.4 4-3-6.9-10.3z"/>
<path fill="#44bf70" d="M308.4 250.5l6.9 1.5 1.6 2.5-6.9-1.2z"/>
<path fill="#2b748e" d="M337.6 357.5l7.6 33.2 3.3 3.5-7.6-34.8z"/>
<path fill="#70cf57" d="M229.6 215.9l6.9 2.1 5.1 7.5-6.9-2.8z"/>
<path fill="#73d056" d="M454.3 226.2l7.6-5.2 4-9-7.5 3.6z"/>
<path fill="#1fa188" d="M393.9 305.7l8.3-7.1 2.7 1.6-8.4 9.8z"/>
<path fill="#95d840" d="M81.3 184.1l3.3 8.7 6.4 16.5-3-6z"/>
<path fill="#63cb5f" d="M552.2 226.2l4.5 8.1 3-1.5-4.6-8.2z"/>
<path fill="#31668e" d="M373.2 411.6l6.5-31.1 3.3 2.7-6.5 33.3z"/>
<path fill="#84d44b" d="M683.4 212.9l5.9-3.8 3.9-4.1-5.9 3.6z"/>
<path fill="#b5de2b" d="M485.1 180.7l7 .7 1-1.1-7-.8z"/>
<path fill="#35b779" d="M331.9 262.8l4.5 4.6 1.5 2.6-4.4-4.9z"/>
<path fill="#25838e" d="M368.2 359.2l8.5 8.2 3.9-24.4-8.5-5.5z"/>
<path fill="#4cc26c" d="M663 258.6l6.1-9.9 4.8-11.5-5.9 7.6z"/>
<path fill="#9dd93b" d="M466.4 197.8l7.6-1.4 4.9-7.7-7.6.5z"/>
<path fill="#5ac864" d="M553.6 235.2l2.3 4.3 3.1-.7-2.3-4.5z"/>
<path fill="#6ece58" d="M236.5 218l2 .7 5.1 7.8-2-1z"/>
<path fill="#84d44b" d="M458.4 215.6l7.5-3.6 4.1-8.2-7.6 2.3z"/>
<path fill="#b8de29" d="M493.1 180.3l7.1 1.2 4-3.4-7-1.4z"/>
<path fill="#84d44b" d="M85.3 199.9l7.7 16.1 3.6 2.6-7.6-14.7z"/>
<path fill="#5ec962" d="M124.8 234.1l2.9-.7 3.4-.3-2.8.9z"/>
<path fill="#2c718e" d="M381.3 402.3l6.6-26.7 4-13.6-6.7 18.2z"/>
<path fill="#b5de2b" d="M511.2 180.1l7 2.6 4-2.6-7-2.6z"/>
<path fill="#90d743" d="M462.4 206.1l7.6-2.3 4-7.4-7.6 1.4z"/>
<path fill="#25ab82" d="M642.9 296l6.2-16.7 2.9-.4-6.2 17z"/>
<path fill="#81d34d" d="M187.1 210.7l6.7-2.3 4.5 3.1-6.7 2.1z"/>
<path fill="#3aba76" d="M328.5 259.7l3.4 3.1 1.6 2.3-3.4-3.1z"/>
<path fill="#70cf57" d="M152.7 224.2l7.9-6.8 4.4-.5-7.9 6.8z"/>
<path fill="#6ccd5a" d="M238.5 218.7l5 1.7 5.1 8.4-5-2.3z"/>
<path fill="#1fa188" d="M606.1 300.5l7.4-9 3.4 15.7-7.4 12.6z"/>
<path fill="#26828e" d="M376.7 367.4l4.9-1.1 3.9-23.7-4.9.4z"/>
<path fill="#b0dd2f" d="M482.1 184.3l7 .4 3-3.3-7-.7z"/>
<path fill="#42be71" d="M315.3 252l7 3.2 1.5 2.3-6.9-3z"/>
<path fill="#98d83e" d="M539.2 195.7l7 6.7 4-2.9-7-6.5z"/>
<path fill="#25838e" d="M470.9 348.6l6.9 19.6 2.6-16.9-6.9-15.5z"/>
<path fill="#4ec36b" d="M290.1 241.2l6.9.7 4.5 8.4-6.9.5z"/>
<path fill="#7fd34e" d="M205.1 210.3l6.8-.3 4 3.8-6.9.2z"/>
<path fill="#3fbc73" d="M322.3 255.2l6.2 4.5 1.6 2.3-6.3-4.5z"/>
<path fill="#20a486" d="M404.9 300.2l4.9-5.4 4.1 1.7-4.9 7.7z"/>
<path fill="#a0da39" d="M709.7 195.2l7.4-4.5 3.7-1.1-7.4 5z"/>
<path fill="#4ec36b" d="M551.2 239.4l6.9 13.1 4.6 1.7-6.8-14.7z"/>
<path fill="#75d054" d="M548.2 214.2l6.9 10.4 1-.6-6.9-10.4z"/>
<path fill="#287c8e" d="M453.8 353.9l7 28 4.5-9.6-6.9-25.8z"/>
<path fill="#3bbb75" d="M441.5 269.8l7-10.9 4.1-7.6-7 9.9z"/>
<path fill="#5ac864" d="M668 244.8l5.9-7.6 3.4-7.4-6 6.4z"/>
<path fill="#b0dd2f" d="M518.2 182.7l7 3.3 4-2.5-7-3.4z"/>
<path fill="#7cd250" d="M679.5 219l5.8-4.3 4-5.6-5.9 3.8z"/>
<path fill="#69cd5b" d="M243.5 220.4l6.9 2.6 5.1 9.2-6.9-3.4z"/>
<path fill="#35b779" d="M437.7 276.4l6.9-11.3 3.9-6.2-7 10.9z"/>
<path fill="#31668e" d="M463.2 382.4l4.7 2.2 3.9 32.6-4.6-4.7z"/>
<path fill="#46c06f" d="M445.6 261.2l7-9.9 4.2-8.6-7 8.5z"/>
<path fill="#2db27d" d="M339.1 268.8l7.1 8.4 4.3 8.3-7.1-9.4z"/>
<path fill="#a2da37" d="M532.2 190.3l7 5.4 4-2.7-7-5.3z"/>
<path fill="#3fbc73" d="M554.2 250.1l6.9 13.1 3.8 4.7-6.8-15.4z"/>
<path fill="#aadc32" d="M525.2 186l7 4.3 4-2.6-7-4.2z"/>
<path fill="#b5de2b" d="M492.1 181.4l7 1.1 1.1-1-7.1-1.2z"/>
<path fill="#1fa187" d="M381.3 302.5l6.9-.9 4.2 2.4-6.9 3.6z"/>
<path fill="#b5de2b" d="M500.2 181.5l7 1.7 4-3.1-7-2z"/>
<path fill="#aadc32" d="M478.9 188.7l7 0 3.2-4-7-.4z"/>
<path fill="#67cc5c" d="M671.3 236.2l6-6.4 4-8.2-5.9 5.2z"/>
<path fill="#86d549" d="M542.2 205.1l7 8.5 4-2.9-7-8.3z"/>
<path fill="#2a788e" d="M497.3 386.4l7.2-21.3 1.5-7.7-7.2 18.3z"/>
<path fill="#73d056" d="M675.4 226.8l5.9-5.2 4-6.9-5.8 4.3z"/>
<path fill="#32658e" d="M467.9 384.6l2.3-.7 4 32.2-2.4 1.1z"/>
<path fill="#aadc32" d="M720.8 189.6l7.4-4.5 3.7-.8-7.4 5z"/>
<path fill="#81d34d" d="M176 212.5l6.6-3.6 4.5 1.8-6.7 3.3z"/>
<path fill="#31b57b" d="M435 279.9l6.9-11.1 2.7-3.7-6.9 11.3z"/>
<path fill="#54c568" d="M449.8 251.2l7-8.5 4-8.7-7 6.9z"/>
<path fill="#7cd250" d="M165 216.9l6.5-4.9 4.5.5-6.6 4.6z"/>
<path fill="#93d741" d="M693.2 205l8.8-5.5 3.9-2.6-8.9 5.4z"/>
<path fill="#63cb5f" d="M549 227.4l4.6 7.8 3.1-.9-4.5-8.1z"/>
<path fill="#238a8d" d="M361.1 345.1l7.1 14.1 3.9-21.7-7.1-9.5z"/>
<path fill="#67cc5c" d="M250.4 223l6.9 2.5 5.2 9.8-7-3.1z"/>
<path fill="#73d056" d="M545.2 215.9l7 10.3 2.9-1.6-6.9-10.4z"/>
<path fill="#23a983" d="M413.9 296.5l7.5-9.6 4.1-.9-7.5 12.4z"/>
<path fill="#b2dd2d" d="M489.1 184.7l7 .8 3-3-7-1.1z"/>
<path fill="#25838e" d="M458.4 346.5l6.9 25.8 4.1-16.7-7-21z"/>
<path fill="#25858e" d="M487.4 362.3l4.6 2.7 4.2-29-4.6-1.9z"/>
<path fill="#20a386" d="M392.4 304l8.3-5.9 1.5.5-8.3 7.1z"/>
<path fill="#23888e" d="M349.9 341.4l7.3 23.1 3.9-19.4-7.2-17z"/>
<path fill="#22a785" d="M580.7 285.4l10.1 3.6 3.5 17.6-10-5.6z"/>
<path fill="#2eb37c" d="M433.6 281.4l7-11 1.3-1.6-6.9 11.1z"/>
<path fill="#60ca60" d="M453.8 240.9l7-6.9 4.1-8.6-7.1 5.4z"/>
<path fill="#a2da37" d="M474 196.4l7-.9 4.9-6.8-7 0z"/>
<path fill="#4ec36b" d="M297 241.9l7 1.3 4.4 7.3-6.9-.2z"/>
<path fill="#b2dd2d" d="M507.2 183.2l7 2.4 4-2.9-7-2.6z"/>
<path fill="#31678e" d="M481.2 400.7l7.2-24.2 3.9 14-7.2 34.2z"/>
<path fill="#63cb5f" d="M127.7 233.4l6.6-2.9 3.4-.8-6.6 3.4z"/>
<path fill="#25ab82" d="M573.3 278.8l7.4 6.6 3.6 15.6-7.3-9.5z"/>
<path fill="#297b8e" d="M450.2 354.4l7.1 25.9 3.5 1.6-7-28z"/>
<path fill="#81d34d" d="M211.9 210l6.8.4 4 4.1-6.8-.7z"/>
<path fill="#63cb5f" d="M257.3 225.5l7 2.2 5.1 10.1-6.9-2.5z"/>
<path fill="#b2dd2d" d="M499.1 182.5l7.1 1.6 1-.9-7-1.7z"/>
<path fill="#69cd5b" d="M137.7 229.7l5.3-3.6 5.3-1.1-5.2 4.1z"/>
<path fill="#25858e" d="M492 365l2.4-.3 4.2-28.8-2.4.1z"/>
<path fill="#95d840" d="M535.3 198.4l6.9 6.7 4-2.7-7-6.7z"/>
<path fill="#37b878" d="M557.2 258.3l6.9 11.6 3.8 7.9-6.8-14.6z"/>
<path fill="#35b779" d="M332 261l7.1 7.8 4.3 7.3-7-8.7z"/>
<path fill="#86d549" d="M541.2 205.8l7 8.4 1-.6-7-8.5z"/>
<path fill="#70cf57" d="M457.8 230.8l7.1-5.4 4-8.4-7 4z"/>
<path fill="#238a8d" d="M480.4 351.3l7 11 4.2-28.2-7-7.2z"/>
<path fill="#98d83e" d="M470 203.8l7-1.8 4-6.5-7 .9z"/>
<path fill="#86d549" d="M193.8 208.4l6.8-1.3 4.5 3.2-6.8 1.2z"/>
<path fill="#b0dd2f" d="M514.2 185.6l7 3.2 4-2.8-7-3.3z"/>
<path fill="#addc30" d="M485.9 188.7l7 .4 3.2-3.6-7-.8z"/>
<path fill="#7fd34e" d="M461.9 221l7-4 4.1-7.8-7.1 2.8z"/>
<path fill="#5cc863" d="M548.9 235.5l2.3 3.9 4.7.1-2.3-4.3z"/>
<path fill="#63cb5f" d="M264.3 227.7l2.4.7 5.1 10.1-2.4-.7z"/>
<path fill="#8bd646" d="M465.9 212l7.1-2.8 4-7.2-7 1.8z"/>
<path fill="#26ad81" d="M639.9 293.5l6.2-15.6 3 1.4-6.2 16.7z"/>
<path fill="#a0da39" d="M528.3 193l7 5.4 3.9-2.7-7-5.4z"/>
<path fill="#2db27d" d="M429.5 284.4l7-9.8 4.1-4.2-7 11z"/>
<path fill="#21a685" d="M590.8 289l4.6-.7 3.5 17.4-4.6.9z"/>
<path fill="#2e6d8e" d="M456.2 371.5l7 10.9 4 30.1-7-19.1z"/>
<path fill="#a8db34" d="M521.2 188.8l7.1 4.2 3.9-2.7-7-4.3z"/>
<path fill="#b2dd2d" d="M496.1 185.5l7.1 1.3 3-2.7-7.1-1.6z"/>
<path fill="#75d054" d="M148.3 225l7.9-6.7 4.4-.9-7.9 6.8z"/>
<path fill="#a2da37" d="M705.9 196.9l7.4-4.4 3.8-1.8-7.4 4.5z"/>
<path fill="#21a685" d="M362.7 293.6l6.9 5.1 4.7 2.8-6.8-3.2z"/>
<path fill="#b2dd2d" d="M73.1 162.8l8.2 21.3 6.7 19.2-7.9-15.3z"/>
<path fill="#90d743" d="M689.3 209.1l8.9-5.8 3.8-3.8-8.8 5.5z"/>
<path fill="#b2dd2d" d="M506.2 184.1l7 2.3 1-.8-7-2.4z"/>
<path fill="#81d34d" d="M218.7 210.4l3.3.5 4 4.2-3.3-.6z"/>
<path fill="#23a983" d="M355.5 286.7l7.2 6.9 4.8 4.7-7.2-5.6z"/>
<path fill="#4ec36b" d="M304 243.2l6.9 2.3 4.4 6.5-6.9-1.5z"/>
<path fill="#29af7f" d="M569.1 274.1l4.2 4.7 3.7 12.7-4.1-6.6z"/>
<path fill="#25858e" d="M381.6 366.3l7.4-8.7 4-19.7-7.5 4.7z"/>
<path fill="#60ca60" d="M266.7 228.4l4.5 1.1 5.1 10-4.5-1z"/>
<path fill="#73d056" d="M542.1 217.5l6.9 9.9 3.2-1.2-7-10.3z"/>
<path fill="#3dbc74" d="M327.6 256.7l4.4 4.3 4.4 6.4-4.5-4.6z"/>
<path fill="#86d549" d="M538.3 207.7l6.9 8.2 3-1.7-7-8.4z"/>
<path fill="#20a486" d="M369.6 298.7l7 3.5 4.7.3-7-1z"/>
<path fill="#93d741" d="M534.3 199l6.9 6.8 1-.7-6.9-6.7z"/>
<path fill="#228b8d" d="M462.4 334.6l7 21 1.5-7-7-19z"/>
<path fill="#22a785" d="M402.2 298.6l4.9-4.1 2.7.3-4.9 5.4z"/>
<path fill="#a5db36" d="M481 195.5l7.1-.3 4.8-6.1-7-.4z"/>
<path fill="#a0da39" d="M80.8 188l4.5 11.9 3.7 4-4.4-11.1z"/>
<path fill="#addc30" d="M513.2 186.4l7 3.2 1-.8-7-3.2z"/>
<path fill="#81d34d" d="M222 210.9l3.6.6 4 4.4-3.6-.8z"/>
<path fill="#42be71" d="M324.2 253.7l3.4 3 4.3 6.1-3.4-3.1z"/>
<path fill="#addc30" d="M717.1 190.7l7.3-4.3 3.8-1.3-7.4 4.5z"/>
<path fill="#4cc26c" d="M310.9 245.5l7 3.7 4.4 6-7-3.2z"/>
<path fill="#b0dd2f" d="M503.2 186.8l7 2.1 3-2.5-7-2.3z"/>
<path fill="#65cb5e" d="M544.3 228.5l4.6 7 4.7-.3-4.6-7.8z"/>
<path fill="#2eb37c" d="M567.3 271.9l1.8 2.2 3.8 10.8-1.9-3.1z"/>
<path fill="#27ad81" d="M348.5 279l7 7.7 4.8 6-7-7.2z"/>
<path fill="#addc30" d="M492.9 189.1l7.1 1 3.2-3.3-7.1-1.3z"/>
<path fill="#46c06f" d="M317.9 249.2l6.3 4.5 4.3 6-6.2-4.5z"/>
<path fill="#a0da39" d="M527.3 193.7l7 5.3 1-.6-7-5.4z"/>
<path fill="#89d548" d="M182.6 208.9l6.7-2.5 4.5 2-6.7 2.3z"/>
<path fill="#27808e" d="M385.2 380.2l6.7-18.2 4-15.7-6.9 11.3z"/>
<path fill="#a8db34" d="M520.2 189.6l7.1 4.1 1-.7-7.1-4.2z"/>
<path fill="#21a585" d="M388.2 301.6l8.4-2.7 4.1-.8-8.3 5.9z"/>
<path fill="#52c569" d="M547.3 238.8l6.9 11.3 3.9 2.4-6.9-13.1z"/>
<path fill="#60ca60" d="M271.2 229.5l7 1.5 5 9.6-6.9-1.1z"/>
<path fill="#81d34d" d="M160.6 217.4l6.5-5.1 4.4-.3-6.5 4.9z"/>
<path fill="#8bd646" d="M685.3 214.7l8.9-6.7 4-4.7-8.9 5.8z"/>
<path fill="#20928c" d="M372.1 337.5l8.5 5.5 3.9-18.4-8.5-3.5z"/>
<path fill="#93d741" d="M531.3 201.1l7 6.6 2.9-1.9-6.9-6.8z"/>
<path fill="#26828e" d="M498.8 375.7l7.2-18.3 2.7-14-7.2 13.9z"/>
<path fill="#23888e" d="M494.4 364.7l7.1-7.4 4.2-25.8-7.1 4.4z"/>
<path fill="#8bd646" d="M200.6 207.1l6.8-.5 4.5 3.4-6.8.3z"/>
<path fill="#9dd93b" d="M477 202l7-1.1 4.1-5.7-7.1.3z"/>
<path fill="#81d34d" d="M225.6 211.5l6.9 1.6 4 4.9-6.9-2.1z"/>
<path fill="#89d548" d="M171.5 212l6.7-3.9 4.4.8-6.6 3.6z"/>
<path fill="#addc30" d="M510.2 188.9l7 3 3-2.3-7-3.2z"/>
<path fill="#20938c" d="M353.9 328.1l7.2 17 3.9-17.1-7.1-12.1z"/>
<path fill="#20a486" d="M376.6 302.2l7 1.8 4.6-2.4-6.9.9z"/>
<path fill="#2cb17e" d="M425.5 286l6.9-8.1 4.1-3.3-7 9.8z"/>
<path fill="#6ccd5a" d="M134.3 230.5l5.3-3.2 3.4-1.2-5.3 3.6z"/>
<path fill="#25ab82" d="M409.8 294.8l7.5-6.7 4.1-1.2-7.5 9.6z"/>
<path fill="#1f968b" d="M365 328l7.1 9.5 3.9-16.4-7-6.3z"/>
<path fill="#20928c" d="M473.5 335.8l6.9 15.5 4.2-24.4-7-10.7z"/>
<path fill="#2f6c8e" d="M470.2 383.9l7.1-9.3 3.9 26.1-7 15.4z"/>
<path fill="#9dd93b" d="M524.3 195.9l7 5.2 3-2.1-7-5.3z"/>
<path fill="#84d44b" d="M535.1 209.6l7 7.9 3.1-1.6-6.9-8.2z"/>
<path fill="#a5db36" d="M517.2 191.9l7.1 4 3-2.2-7.1-4.1z"/>
<path fill="#a0da39" d="M702 199.5l7.4-4.4 3.9-2.6-7.4 4.4z"/>
<path fill="#48c16e" d="M660.9 267.2l9.2-18.4 4-6.5-9.1 16.1z"/>
<path fill="#81d34d" d="M681.3 221.6l8.9-7.8 4-5.8-8.9 6.7z"/>
<path fill="#addc30" d="M500 190.1l7 1.8 3.2-3-7-2.1z"/>
<path fill="#93d741" d="M473 209.2l7-2 4-6.3-7 1.1z"/>
<path fill="#52c569" d="M665 258.4l9.1-16.1 4.1-7.2-9.1 13.6z"/>
<path fill="#7fd34e" d="M232.5 213.1l2 .6 4 5-2-.7z"/>
<path fill="#a8db34" d="M488.1 195.2l7 .3 4.9-5.4-7.1-1z"/>
<path fill="#2eb37c" d="M341.4 270.9l7.1 8.1 4.8 6.5-7.1-8.3z"/>
<path fill="#48c16e" d="M550.3 247.6l6.9 10.7 3.9 4.9-6.9-13.1z"/>
<path fill="#20928c" d="M463.9 329.6l7 19 2.6-12.8-7-15.8z"/>
<path fill="#23a983" d="M595.4 288.3l7.2-3.8 3.5 16-7.2 5.2z"/>
<path fill="#20928c" d="M380.6 343l4.9-.4 3.9-18.1-4.9.1z"/>
<path fill="#22a884" d="M400.7 298.1l5-3.4 1.4-.2-4.9 4.1z"/>
<path fill="#35b779" d="M560.3 263l7 8.9 3.7 9.9-6.9-11.9z"/>
<path fill="#60ca60" d="M669.1 248.7l9.1-13.6 4.8-8.9-9.1 11z"/>
<path fill="#86d549" d="M468.9 217l7-3 4.1-6.8-7 2z"/>
<path fill="#60ca60" d="M278.2 231l6.9 1.5 5 8.7-6.9-.6z"/>
<path fill="#77d153" d="M677.3 229.8l8.9-9.4 4-6.6-8.9 7.8z"/>
<path fill="#40bd72" d="M656.9 274.1l9.3-20.2 3.9-5.1-9.2 18.4z"/>
<path fill="#56c667" d="M452.6 251.3l7-7.3 4.2-7.7-7 6.4z"/>
<path fill="#63cb5f" d="M456.8 242.7l7-6.4 4-7.6-7 5.3z"/>
<path fill="#6ccd5a" d="M673.9 237.2l9.1-11 3.2-5.8-8.9 9.4z"/>
<path fill="#7ad151" d="M464.9 225.4l7-4.1 4-7.3-7 3z"/>
<path fill="#6ece58" d="M460.8 234l7-5.3 4.1-7.4-7 4.1z"/>
<path fill="#4cc26c" d="M448.5 258.9l7-7.8 4.1-7.1-7 7.3z"/>
<path fill="#7fd34e" d="M234.5 213.7l5 1.4 4 5.3-5-1.7z"/>
<path fill="#75d054" d="M537.3 219.6l7 8.9 4.7-1.1-6.9-9.9zM143 226.1l7.8-6.1 5.4-1.7-7.9 6.7z"/>
<path fill="#aadc32" d="M507 191.9l7 2.7 3.2-2.7-7-3z"/>
<path fill="#93d741" d="M528.1 203.2l7 6.4 3.2-1.9-7-6.6z"/>
<path fill="#60ca60" d="M544.9 235.3l2.4 3.5 3.9.6-2.3-3.9z"/>
<path fill="#44bf70" d="M444.6 265.1l7-7.8 3.9-6.2-7 7.8z"/>
<path fill="#cae11f" d="M70.7 157.8l2.4 5 7 25.2-2.3-3.8z"/>
<path fill="#21a585" d="M366 300.5l7 5.6 3.6-3.9-7-3.5z"/>
<path fill="#26ad81" d="M624.4 292.5l7.6-14.8 3.6 8.3-7.7 18.4z"/>
<path fill="#addc30" d="M713.3 192.5l7.3-4.2 3.8-1.9-7.3 4.3z"/>
<path fill="#8ed645" d="M207.4 206.6l6.8.1 4.5 3.7-6.8-.4z"/>
<path fill="#27808e" d="M446.2 349.9l7 20.6 4.1 9.8-7.1-25.9z"/>
<path fill="#7cd250" d="M239.5 215.1l6.9 2.1 4 5.8-6.9-2.6z"/>
<path fill="#a5db36" d="M514 194.6l7.1 3.7 3.2-2.4-7.1-4z"/>
<path fill="#a0da39" d="M484 200.9l7.1-.3 4-5.1-7-.3z"/>
<path fill="#25ab82" d="M613.5 291.5l7.4-11 3.5 12-7.5 14.7z"/>
<path fill="#90d743" d="M189.3 206.4l6.8-1.5 4.5 2.2-6.8 1.3z"/>
<path fill="#9dd93b" d="M521.1 198.3l7 4.9 3.2-2.1-7-5.2z"/>
<path fill="#23a983" d="M359.1 293.5l6.9 7 3.6-1.8-6.9-5.1z"/>
<path fill="#20a386" d="M373 306.1l7 3.7 3.6-5.8-7-1.8z"/>
<path fill="#a8db34" d="M495.1 195.5l7.1 1.2 4.8-4.8-7-1.8z"/>
<path fill="#1f9f88" d="M369 314.8l7 6.3 4-11.3-7-3.7z"/>
<path fill="#1e9d89" d="M357.9 315.9l7.1 12.1 4-13.2-7.1-8.4z"/>
<path fill="#3fbc73" d="M441.9 268.8l7-7.6 2.7-3.9-7 7.8z"/>
<path fill="#38b977" d="M334.3 262.8l7.1 8.1 4.8 6.3-7.1-8.4z"/>
<path fill="#20928c" d="M338.7 327.2l7.2 25.7 4-11.5-7.2-21.4z"/>
<path fill="#3bbb75" d="M653 278.3l9.3-21 3.9-3.4-9.3 20.2z"/>
<path fill="#b5de2b" d="M77.5 178.5l3.3 9.5 3.8 4.8-3.3-8.7z"/>
<path fill="#21a585" d="M383.6 304l8.4-.1 4.6-5-8.4 2.7z"/>
<path fill="#60ca60" d="M285.1 232.5l7 1.6 4.9 7.8-6.9-.7z"/>
<path fill="#2cb17e" d="M421.4 286.9l6.9-6.1 4.1-2.9-6.9 8.1z"/>
<path fill="#9dd93b" d="M698.2 203.3l7.3-4.8 3.9-3.4-7.4 4.4z"/>
<path fill="#84d44b" d="M156.2 218.3l6.5-5.1 4.4-.9-6.5 5.1z"/>
<path fill="#3bbb75" d="M440.6 270.4l7-7.3 1.3-1.9-7 7.6z"/>
<path fill="#1e9d89" d="M376 321.1l8.5 3.5 4-13.1-8.5-1.7z"/>
<path fill="#69cd5b" d="M540.3 229.1l4.6 6.2 4 .2-4.6-7z"/>
<path fill="#20a386" d="M361.9 306.4l7.1 8.4 4-8.7-7-5.6z"/>
<path fill="#23a983" d="M396.6 298.9l5-2 4.1-2.2-5 3.4z"/>
<path fill="#84d44b" d="M530.3 212.3l7 7.3 4.8-2.1-7-7.9z"/>
<path fill="#26ad81" d="M407.1 294.5l7.6-5.2 2.6-1.2-7.5 6.7z"/>
<path fill="#228d8d" d="M333.6 331.2l7.3 28.2 5-6.5-7.2-25.7z"/>
<path fill="#297a8e" d="M495.8 394.2l7.3-32.5 4.6-6.7-7.3 28.9z"/>
<path fill="#d5e21a" d="M65.6 150.9l5.1 6.9 7.1 26.4-5-5.9z"/>
<path fill="#7ad151" d="M246.4 217.2l7 2.1 3.9 6.2-6.9-2.5z"/>
<path fill="#98d83e" d="M480 207.2l7-1 4.1-5.6-7.1.3z"/>
<path fill="#27ad81" d="M351.8 285.2l7.3 8.3 3.6.1-7.2-6.9z"/>
<path fill="#2db27d" d="M635.6 286l6.1-13.3 4.4 5.2-6.2 15.6z"/>
<path fill="#8ed645" d="M214.2 206.7l3.3.3 4.5 3.9-3.3-.5z"/>
<path fill="#1f988b" d="M342.7 320l7.2 21.4 4-13.3-7.1-16.8z"/>
<path fill="#42be71" d="M553.3 254.1l7 8.9 3.8 6.9-6.9-11.6z"/>
<path fill="#a5db36" d="M502.2 196.7l7 2.2 4.8-4.3-7-2.7z"/>
<path fill="#90d743" d="M178.2 208.1l6.7-2.8 4.4 1.1-6.7 2.5z"/>
<path fill="#20938c" d="M385.5 342.6l7.5-4.7 3.9-16-7.5 2.6z"/>
<path fill="#297a8e" d="M449.1 356.6l7.1 14.9 4 21.9-7-22.9z"/>
<path fill="#8ed645" d="M167.1 212.3l6.7-4.2 4.4 0-6.7 3.9z"/>
<path fill="#3aba76" d="M652 278.9l9.3-21.1 1-.5-9.3 21z"/>
<path fill="#5ac864" d="M543.3 238l7 9.6 3.9 2.5-6.9-11.3z"/>
<path fill="#20a386" d="M380 309.8l8.5 1.7 3.5-7.6-8.4.1z"/>
<path fill="#3aba76" d="M436.5 274.6l7-6.3 4.1-5.2-7 7.3z"/>
<path fill="#218f8d" d="M446.8 332.9l7 21 4.6-7.4-7.1-20.1z"/>
<path fill="#42be71" d="M327.2 255.3l7.1 7.5 4.8 6-7.1-7.8z"/>
<path fill="#8ed645" d="M475.9 214l7.1-1.9 4-5.9-7 1z"/>
<path fill="#a0da39" d="M491.1 200.6l7 .6 4.1-4.5-7.1-1.2z"/>
<path fill="#60ca60" d="M292.1 234.1l6.9 2.2 5 6.9-7-1.3z"/>
<path fill="#1f948c" d="M451.3 326.4l7.1 20.1 4-11.9-7-17.3z"/>
<path fill="#228d8d" d="M389 357.6l6.9-11.3 4-15-6.9 6.6z"/>
<path fill="#90d743" d="M523.3 206.5l7 5.8 4.8-2.7-7-6.4z"/>
<path fill="#8ed645" d="M217.5 207l3.6.5 4.5 4-3.6-.6z"/>
<path fill="#77d153" d="M253.4 219.3l6.9 2.1 4 6.3-7-2.2z"/>
<path fill="#a0da39" d="M509.2 198.9l7.1 3.2 4.8-3.8-7.1-3.7z"/>
<path fill="#77d153" d="M139.6 227.3l7.9-5.6 3.3-1.7-7.8 6.1z"/>
<path fill="#1e9d89" d="M384.5 324.6l4.9-.1 4-13.3-4.9.3z"/>
<path fill="#1e9c89" d="M466.5 320l7 15.8 4.1-19.6-7.1-11.5z"/>
<path fill="#22a884" d="M354.9 296.8l7 9.6 4.1-5.9-6.9-7z"/>
<path fill="#98d83e" d="M694.2 208l7.4-5.3 3.9-4.2-7.3 4.8z"/>
<path fill="#9bd93c" d="M516.3 202.1l7 4.4 4.8-3.3-7-4.9z"/>
<path fill="#addc30" d="M709.4 195.1l7.4-4.3 3.8-2.5-7.3 4.2z"/>
<path fill="#84d44b" d="M471.9 221.3l7-2.8 4.1-6.4-7.1 1.9z"/>
<path fill="#75d054" d="M533.3 221.1l7 8 4-.6-7-8.9z"/>
<path fill="#1f9f88" d="M346.8 311.3l7.1 16.8 4-12.2-7.1-12.8z"/>
<path fill="#26ad81" d="M405.7 294.7l7.5-4.5 1.5-.9-7.6 5.2z"/>
<path fill="#95d840" d="M196.1 204.9l6.8-.8 4.5 2.5-6.8.5z"/>
<path fill="#2eb37c" d="M344.7 276.6l7.1 8.6 3.7 1.5-7-7.7z"/>
<path fill="#26828e" d="M500.4 383.9l7.3-28.9 4.1-12.6-7.3 22.7z"/>
<path fill="#1f9a8a" d="M491.6 334.1l4.6 1.9 4.2-23.9-4.7-1.4z"/>
<path fill="#1e9c89" d="M484.6 326.9l7 7.2 4.1-23.4-7-5.1z"/>
<path fill="#4ac16d" d="M322.7 251.1l4.5 4.2 4.8 5.7-4.4-4.3z"/>
<path fill="#75d054" d="M260.3 221.4l2.5.6 3.9 6.4-2.4-.7z"/>
<path fill="#1f998a" d="M455.4 317.3l7 17.3 1.5-5-7.1-16.2z"/>
<path fill="#77d153" d="M467.8 228.7l7.1-3.6 4-6.6-7 2.8z"/>
<path fill="#5ec962" d="M299 236.3l7 3 4.9 6.2-6.9-2.3z"/>
<path fill="#20a486" d="M350.8 303.1l7.1 12.8 4-9.5-7-9.6z"/>
<path fill="#22a884" d="M392 303.9l5-.8 4.6-6.2-5 2z"/>
<path fill="#3bbb75" d="M649.1 279.3l9.3-20.8 2.9-.7-9.3 21.1z"/>
<path fill="#8ed645" d="M221.1 207.5l6.9 1.2 4.5 4.4-6.9-1.6z"/>
<path fill="#9bd93c" d="M487 206.2l7.1-.1 4-4.9-7-.6z"/>
<path fill="#2cb17e" d="M417.3 288.1l7-4.2 4-3.1-6.9 6.1z"/>
<path fill="#6ece58" d="M463.8 236.3l7-4.3 4.1-6.9-7.1 3.6z"/>
<path fill="#50c46a" d="M319.3 248.1l3.4 3 4.9 5.6-3.4-3z"/>
<path fill="#a0da39" d="M498.1 201.2l7.1 1.6 4-3.9-7-2.2z"/>
<path fill="#29798e" d="M492.3 390.5l7.3-30.5 3.5 1.7-7.3 32.5z"/>
<path fill="#37b878" d="M432.4 277.9l7-4.8 4.1-4.8-7 6.3z"/>
<path fill="#65cb5e" d="M541 235.1l2.3 2.9 4 .8-2.4-3.5z"/>
<path fill="#1f998a" d="M496.2 336l2.4-.1 4.2-23.8-2.4 0z"/>
<path fill="#75d054" d="M262.8 222l4.5 1.2 3.9 6.3-4.5-1.1z"/>
<path fill="#228d8d" d="M443.2 334.8l7 19.6 3.6-.5-7-21z"/>
<path fill="#5ac864" d="M306 239.3l7.1 4.2 4.8 5.7-7-3.7z"/>
<path fill="#29af7f" d="M602.6 284.5l7.3-6.6 3.6 13.6-7.4 9z"/>
<path fill="#54c568" d="M313.1 243.5l6.2 4.6 4.9 5.6-6.3-4.5z"/>
<path fill="#63cb5f" d="M459.6 244l7-4.8 4.2-7.2-7 4.3z"/>
<path fill="#20a486" d="M388.5 311.5l4.9-.3 3.6-8.1-5 .8z"/>
<path fill="#93d741" d="M690.2 213.8l7.5-6.1 3.9-5-7.4 5.3z"/>
<path fill="#228d8d" d="M330.3 330l7.3 27.5 3.3 1.9-7.3-28.2z"/>
<path fill="#50c46a" d="M546.4 245.5l6.9 8.6 3.9 4.2-6.9-10.7z"/>
<path fill="#21918c" d="M501.5 357.3l7.2-13.9 4.1-21-7.1 9.1z"/>
<path fill="#84d44b" d="M526.3 214.6l7 6.5 4-1.5-7-7.3z"/>
<path fill="#1f9e89" d="M456.8 313.4l7.1 16.2 2.6-9.6-7.1-13.9z"/>
<path fill="#5ac864" d="M455.5 251.1l7-5 4.1-6.9-7 4.8z"/>
<path fill="#25848e" d="M387.9 375.6l6.8-22 4-8-6.8 16.4z"/>
<path fill="#34b679" d="M569.6 268.9l7.5 4.4 3.6 12.1-7.4-6.6z"/>
<path fill="#8ed645" d="M228 208.7l2 .4 4.5 4.6-2-.6z"/>
<path fill="#84d44b" d="M150.8 220l6.6-4.9 5.3-1.9-6.5 5.1z"/>
<path fill="#1fa187" d="M477.6 316.2l7 10.7 4.1-21.3-7-7.4z"/>
<path fill="#26ad81" d="M401.6 296.9l7.5-2.7 4.1-4-7.5 4.5z"/>
<path fill="#28ae80" d="M347.6 286.4l7.3 10.4 4.2-3.3-7.3-8.3z"/>
<path fill="#9dd93b" d="M505.2 202.8l7 2.8 4.1-3.5-7.1-3.2z"/>
<path fill="#37b878" d="M337.6 267.9l7.1 8.7 3.8 2.4-7.1-8.1z"/>
<path fill="#6ccd5a" d="M536.3 229.8l4.7 5.3 3.9.2-4.6-6.2z"/>
<path fill="#93d741" d="M483 212.1l7.1-.7 4-5.3-7.1.1z"/>
<path fill="#277f8e" d="M383 383.2l6.7-25.9 5-3.7-6.8 22z"/>
<path fill="#98d83e" d="M184.9 205.3l6.7-1.8 4.5 1.4-6.8 1.5z"/>
<path fill="#38b977" d="M565.4 265.7l4.2 3.2 3.7 9.9-4.2-4.7z"/>
<path fill="#75d054" d="M267.3 223.2l6.9 1.8 4 6-7-1.5z"/>
<path fill="#52c569" d="M451.6 257.3l7-4.9 3.9-6.3-7 5z"/>
<path fill="#aadc32" d="M705.5 198.5l7.4-4.5 3.9-3.2-7.4 4.3z"/>
<path fill="#90d743" d="M519.3 209.4l7 5.2 4-2.3-7-5.8z"/>
<path fill="#8bd646" d="M686.2 220.4l7.5-7.2 4-5.5-7.5 6.1z"/>
<path fill="#1f9f88" d="M389.4 324.5l7.5-2.6 4.1-12.4-7.6 1.7z"/>
<path fill="#8ed645" d="M230 209.1l5 1.1 4.5 4.9-5-1.4z"/>
<path fill="#98d83e" d="M512.2 205.6l7.1 3.8 4-2.9-7-4.4z"/>
<path fill="#31b57b" d="M577.1 273.3l10.1 2 3.6 13.7-10.1-3.6z"/>
<path fill="#98d83e" d="M202.9 204.1l6.9-.1 4.4 2.7-6.8-.1z"/>
<path fill="#9bd93c" d="M494.1 206.1l7.1 1.1 4-4.4-7.1-1.6z"/>
<path fill="#90d743" d="M162.7 213.2l6.7-4.3 4.4-.8-6.7 4.2z"/>
<path fill="#3bbb75" d="M563.5 264.1l1.9 1.6 3.7 8.4-1.8-2.2z"/>
<path fill="#4ac16d" d="M448.9 261.2l7-4.4 2.7-4.4-7 4.9z"/>
<path fill="#95d840" d="M173.8 208.1l6.7-3 4.4.2-6.7 2.8z"/>
<path fill="#34b679" d="M428.3 280.8l7.1-3.2 4-4.5-7 4.8z"/>
<path fill="#89d548" d="M478.9 218.5l7.1-1.4 4.1-5.7-7.1.7z"/>
<path fill="#238a8d" d="M504.5 365.1l7.3-22.7 1.4-5.4-7.2 20.4z"/>
<path fill="#2cb17e" d="M414.7 289.3l6.9-3.1 2.7-2.3-7 4.2z"/>
<path fill="#81d34d" d="M683 226.2l7.5-8.2 3.2-4.8-7.5 7.2z"/>
<path fill="#48c16e" d="M447.6 263.1l7-4.2 1.3-2.1-7 4.4z"/>
<path fill="#1e9c89" d="M498.6 335.9l7.1-4.4 4.2-21.9-7.1 2.5z"/>
<path fill="#77d153" d="M529.3 222.8l7 7 4-.7-7-8z"/>
<path fill="#1f988b" d="M393 337.9l6.9-6.6 4-13.1-7 3.7z"/>
<path fill="#42be71" d="M556.5 257.7l7 6.4 3.8 7.8-7-8.9z"/>
<path fill="#8bd646" d="M235 210.2l6.9 1.7 4.5 5.3-6.9-2.1z"/>
<path fill="#24aa83" d="M397 303.1l7.5-1.8 4.6-7.1-7.5 2.7z"/>
<path fill="#d8e219" d="M69.1 155.7l8.4 22.8 3.8 5.6-8.2-21.3z"/>
<path fill="#5ec962" d="M539.4 237.7l7 7.8 3.9 2.1-7-9.6z"/>
<path fill="#228c8d" d="M391.9 362l6.8-16.4 4.1-10.2-6.9 10.9z"/>
<path fill="#73d056" d="M274.2 225l7 1.9 3.9 5.6-6.9-1.5z"/>
<path fill="#77d153" d="M678.2 235.1l7.5-9.9 4.8-7.2-7.5 8.2z"/>
<path fill="#40bd72" d="M330.5 259.6l7.1 8.3 3.8 3-7.1-8.1z"/>
<path fill="#21a585" d="M393.4 311.2l7.6-1.7 3.5-8.2-7.5 1.8z"/>
<path fill="#3dbc74" d="M646.1 277.9l9.3-19.9 3 .5-9.3 20.8z"/>
<path fill="#21a585" d="M459.4 306.1l7.1 13.9 4-15.3-7-10.5z"/>
<path fill="#81d34d" d="M474.9 225.1l7-2 4.1-6-7.1 1.4z"/>
<path fill="#98d83e" d="M501.2 207.2l7 2.1 4-3.7-7-2.8z"/>
<path fill="#42be71" d="M443.5 268.3l7-3.1 4.1-6.3-7 4.2z"/>
<path fill="#27ad81" d="M343.5 289.9l7.3 13.2 4.1-6.3-7.3-10.4z"/>
<path fill="#9bd93c" d="M209.8 204l3.3.2 4.4 2.8-3.3-.3z"/>
<path fill="#93d741" d="M490.1 211.4l7 .4 4.1-4.6-7.1-1.1z"/>
<path fill="#22a884" d="M470.5 304.7l7.1 11.5 4.1-18-7.1-8.2z"/>
<path fill="#31b57b" d="M340.5 276.1l7.1 10.3 4.2-1.2-7.1-8.6zM587.2 275.3l4.6-.7 3.6 13.7-4.6.7z"/>
<path fill="#2ab07f" d="M413.2 290.2l7-2.6 1.4-1.4-6.9 3.1z"/>
<path fill="#a8db34" d="M701.6 202.7l7.4-5 3.9-3.7-7.4 4.5z"/>
<path fill="#6ece58" d="M674.1 242.3l7.6-11.3 4-5.8-7.5 9.9z"/>
<path fill="#84d44b" d="M522.3 217.1l7 5.7 4-1.7-7-6.5z"/>
<path fill="#77d153" d="M470.8 232l7.1-2.5 4-6.4-7 2z"/>
<path fill="#95d840" d="M508.2 209.3l7.1 3.3 4-3.2-7.1-3.8z"/>
<path fill="#86d549" d="M147.5 221.7l6.5-4.6 3.4-2-6.6 4.9z"/>
<path fill="#89d548" d="M241.9 211.9l6.9 1.9 4.6 5.5-7-2.1z"/>
<path fill="#8ed645" d="M515.3 212.6l7 4.5 4-2.5-7-5.2z"/>
<path fill="#9dd93b" d="M191.6 203.5l6.9-1 4.4 1.6-6.8.8z"/>
<path fill="#69cd5b" d="M537 235.3l2.4 2.4 3.9.3-2.3-2.9z"/>
<path fill="#31b57b" d="M424.3 283.9l7-1.7 4.1-4.6-7.1 3.2z"/>
<path fill="#73d056" d="M281.2 226.9l7 2.1 3.9 5.1-7-1.6z"/>
<path fill="#4ec36b" d="M549.4 251l7.1 6.7 3.8 5.3-7-8.9z"/>
<path fill="#9bd93c" d="M213.1 204.2l3.5.2 4.5 3.1-3.6-.5z"/>
<path fill="#24aa83" d="M339.4 294.9l7.4 16.4 4-8.2-7.3-13.2z"/>
<path fill="#3dbc74" d="M439.4 273.1l7-1.8 4.1-6.1-7 3.1z"/>
<path fill="#27808e" d="M379.7 380.5l6.7-25.3 3.3 2.1-6.7 25.9z"/>
<path fill="#6ccd5a" d="M466.6 239.2l7.1-2.8 4.2-6.9-7.1 2.5z"/>
<path fill="#21908d" d="M439.1 333.9l7.1 16 4 4.5-7-19.6z"/>
<path fill="#1fa188" d="M444.3 311.6l7 14.8 4.1-9.1-7.1-13.3z"/>
<path fill="#65cb5e" d="M670.1 248.8l7.7-12.7 3.9-5.1-7.6 11.3z"/>
<path fill="#4cc26c" d="M323.4 252l7.1 7.6 3.8 3.2-7.1-7.5z"/>
<path fill="#8ed645" d="M486 217.1l7.1-.1 4-5.2-7-.4z"/>
<path fill="#20a486" d="M448.3 304l7.1 13.3 1.4-3.9-7-12.4z"/>
<path fill="#29af7f" d="M409.1 294.2l7-1.6 4.1-5-7 2.6z"/>
<path fill="#70cf57" d="M532.4 230.8l4.6 4.5 4-.2-4.7-5.3z"/>
<path fill="#21a685" d="M335.3 300.2l7.4 19.8 4.1-8.7-7.4-16.4z"/>
<path fill="#23888e" d="M442.1 342.2l7 14.4 4.1 13.9-7-20.6z"/>
<path fill="#93d741" d="M497.1 211.8l7.1 1.6 4-4.1-7-2.1z"/>
<path fill="#21918c" d="M506 357.4l7.2-20.4 2.7-10.3-7.2 16.7z"/>
<path fill="#1e9d89" d="M439.7 317.8l7.1 15.1 4.5-6.5-7-14.8z"/>
<path fill="#63cb5f" d="M462.5 246.1l7.1-2.7 4.1-7-7.1 2.8z"/>
<path fill="#297b8e" d="M477.3 374.6l7.2-16.4 3.9 18.3-7.2 24.2z"/>
<path fill="#1fa187" d="M396.9 321.9l7-3.7 4-10.7-6.9 2z"/>
<path fill="#22a884" d="M449.8 301l7 12.4 2.6-7.3-7-10.9z"/>
<path fill="#34b679" d="M620.9 280.5l7.5-11.5 3.6 8.7-7.6 14.8z"/>
<path fill="#1f958b" d="M395.9 346.3l6.9-10.9 4-10.4-6.9 6.3z"/>
<path fill="#89d548" d="M248.8 213.8l7 1.9 4.5 5.7-6.9-2.1z"/>
<path fill="#a2da37" d="M697.7 207.7l7.4-5.7 3.9-4.3-7.4 5z"/>
<path fill="#38b977" d="M632 277.7l6-11.1 3.7 6.1-6.1 13.3z"/>
<path fill="#90d743" d="M157.4 215.1l6.7-4.1 5.3-2.1-6.7 4.3z"/>
<path fill="#70cf57" d="M288.2 229l7 2.7 3.8 4.6-6.9-2.2z"/>
<path fill="#5ac864" d="M458.6 252.4l7.1-2.3 3.9-6.7-7.1 2.7z"/>
<path fill="#9dd93b" d="M180.5 205.1l6.7-2 4.4.4-6.7 1.8z"/>
<path fill="#38b977" d="M435.4 277.6l7-.3 4-6-7 1.8z"/>
<path fill="#9bd93c" d="M216.6 204.4l6.9.9 4.5 3.4-6.9-1.2z"/>
<path fill="#1fa287" d="M331.1 304.5l7.6 22.7 4-7.2-7.4-19.8z"/>
<path fill="#56c667" d="M318.9 247.6l4.5 4.4 3.8 3.3-4.5-4.2z"/>
<path fill="#25ac82" d="M488.7 305.6l7 5.1 4.1-19.3-7-3.8z"/>
<path fill="#3bbb75" d="M333.4 266.4l7.1 9.7 4.2.5-7.1-8.7z"/>
<path fill="#2fb47c" d="M421.6 286.2l7.1-.9 2.6-3.1-7 1.7z"/>
<path fill="#7ad151" d="M525.3 224.9l7.1 5.9 3.9-1-7-7z"/>
<path fill="#58c765" d="M542.4 244.4l7 6.6 3.9 3.1-6.9-8.6z"/>
<path fill="#29af7f" d="M463.5 294.2l7 10.5 4.1-14.7-7-7.7z"/>
<path fill="#5ec962" d="M666.2 253.9l7.6-13.6 4-4.2-7.7 12.7z"/>
<path fill="#9bd93c" d="M169.4 208.9l6.7-3.1 4.4-.7-6.7 3z"/>
<path fill="#84d44b" d="M481.9 223.1l7.1-.5 4.1-5.6-7.1.1z"/>
<path fill="#52c569" d="M455.9 256.8l7.1-1.8 2.7-4.9-7.1 2.3z"/>
<path fill="#90d743" d="M504.2 213.4l7 2.8 4.1-3.6-7.1-3.3z"/>
<path fill="#26ad81" d="M404.5 301.3l7-1.3 4.6-7.4-7 1.6z"/>
<path fill="#28ae80" d="M481.7 298.2l7 7.4 4.1-18-7-5.3z"/>
<path fill="#24aa83" d="M495.7 310.7l4.7 1.4 4.1-19.5-4.7-1.2z"/>
<path fill="#4ec36b" d="M454.6 258.9l7-1.5 1.4-2.4-7.1 1.8z"/>
<path fill="#86d549" d="M255.8 215.7l2.5.6 4.5 5.7-2.5-.6z"/>
<path fill="#5ac864" d="M315.5 244.6l3.4 3 3.8 3.5-3.4-3z"/>
<path fill="#27ad81" d="M452.4 295.2l7 10.9 4.1-11.9-7-8.4z"/>
<path fill="#22a884" d="M401 309.5l6.9-2 3.6-7.5-7 1.3z"/>
<path fill="#6ccd5a" d="M295.2 231.7l7 3.6 3.8 4-7-3z"/>
<path fill="#34b679" d="M591.8 274.6l7.2-3 3.6 12.9-7.2 3.8z"/>
<path fill="#84d44b" d="M518.3 220l7 4.9 4-2.1-7-5.7z"/>
<path fill="#8bd646" d="M511.2 216.2l7.1 3.8 4-2.9-7-4.5z"/>
<path fill="#48c16e" d="M450.5 265.2l7.1-.3 4-7.5-7 1.5z"/>
<path fill="#8ed645" d="M493.1 217l7 1.1 4.1-4.7-7.1-1.6z"/>
<path fill="#60ca60" d="M309.2 239.7l6.3 4.9 3.8 3.5-6.2-4.6z"/>
<path fill="#a2da37" d="M198.5 202.5l6.8-.3 4.5 1.8-6.9.1z"/>
<path fill="#32b67a" d="M336.3 277.7l7.2 12.2 4.1-3.5-7.1-10.3z"/>
<path fill="#2eb37c" d="M420.2 287.6l7-.4 1.5-1.9-7.1.9z"/>
<path fill="#67cc5c" d="M302.2 235.3l7 4.4 3.9 3.8-7.1-4.2z"/>
<path fill="#1e9b8a" d="M436.1 321l7.1 13.8 3.6-1.9-7.1-15.1z"/>
<path fill="#9bd93c" d="M223.5 205.3l2.1.3 4.4 3.5-2-.4z"/>
<path fill="#7cd250" d="M477.9 229.5l7.1-.9 4-6-7.1.5z"/>
<path fill="#86d549" d="M258.3 216.3l4.5 1.3 4.5 5.6-4.5-1.2z"/>
<path fill="#9bd93c" d="M693.7 213.2l7.5-6.5 3.9-4.7-7.4 5.7z"/>
<path fill="#34b679" d="M609.9 277.9l7.4-8.3 3.6 10.9-7.4 11zM431.3 282.2l7 1.2 4.1-6.1-7 .3z"/>
<path fill="#24aa83" d="M500.4 312.1l2.4 0 4.1-19.4-2.4-.1z"/>
<path fill="#40bd72" d="M446.4 271.3l7.1 1.2 4.1-7.6-7.1.3z"/>
<path fill="#65cb5e" d="M535.4 238.2l7 6.2 4 1.1-7-7.8z"/>
<path fill="#2eb37c" d="M474.6 290l7.1 8.2 4.1-15.9-7.1-5.8z"/>
<path fill="#26818e" d="M488.4 376.5l7.2-24.8 4 8.3-7.3 30.5z"/>
<path fill="#1f9e89" d="M399.9 331.3l6.9-6.3 4.1-9.8-7 3z"/>
<path fill="#73d056" d="M473.7 236.4l7-.9 4.3-6.9-7.1.9z"/>
<path fill="#9bd93c" d="M225.6 205.6l4.9.9 4.5 3.7-5-1.1z"/>
<path fill="#27808e" d="M459.2 357.1l4.6.9 4.1 26.6-4.7-2.2z"/>
<path fill="#31b57b" d="M456.5 285.8l7 8.4 4.1-11.9-7.1-6z"/>
<path fill="#1fa187" d="M505.7 331.5l7.1-9.1 4.2-18.7-7.1 5.9z"/>
<path fill="#2cb17e" d="M416.1 292.6l7 .1 4.1-5.5-7 .4z"/>
<path fill="#3aba76" d="M442.4 277.3l7 2.8 4.1-7.6-7.1-1.2z"/>
<path fill="#26ad81" d="M441.3 294.8l7 9.2 1.5-3-7.1-8.7z"/>
<path fill="#29af7f" d="M442.7 292.3l7.1 8.7 2.6-5.8-7-7.6z"/>
<path fill="#5ac864" d="M662.3 257.3l7.6-14.2 3.9-2.8-7.6 13.6z"/>
<path fill="#1fa188" d="M326 306.8l7.6 24.4 5.1-4-7.6-22.7z"/>
<path fill="#8bd646" d="M500.1 218.1l7.1 2.2 4-4.1-7-2.8z"/>
<path fill="#6ccd5a" d="M533 236.2l2.4 2 4-.5-2.4-2.4z"/>
<path fill="#48c16e" d="M326.2 257.4l7.2 9 4.2 1.5-7.1-8.3z"/>
<path fill="#86d549" d="M489 222.6l7.1.7 4-5.2-7-1.1z"/>
<path fill="#84d44b" d="M262.8 217.6l7 2 4.4 5.4-6.9-1.8z"/>
<path fill="#f4e61e" d="M66.7 150.4l2.4 5.3 4 7.1-2.4-5z"/>
<path fill="#2eb37c" d="M445.4 287.6l7 7.6 4.1-9.4-7.1-5.7z"/>
<path fill="#31b57b" d="M428.7 285.3l7 1.9 2.6-3.8-7-1.2z"/>
<path fill="#24aa83" d="M437.2 301.5l7.1 10.1 4-7.6-7-9.2z"/>
<path fill="#93d741" d="M690.5 218l7.5-7.3 3.2-4-7.5 6.5z"/>
<path fill="#69cd5b" d="M469.6 243.4l7-.8 4.1-7.1-7 .9z"/>
<path fill="#25838e" d="M452.1 351.1l7.1 6 4 25.3-7-10.9z"/>
<path fill="#44bf70" d="M641.7 272.7l9.2-17.4 4.5 2.7-9.3 19.9z"/>
<path fill="#34b679" d="M438.3 283.4l7.1 4.2 4-7.5-7-2.8z"/>
<path fill="#35b779" d="M467.6 282.3l7 7.7 4.1-13.5-7-5.4z"/>
<path fill="#37b878" d="M449.4 280.1l7.1 5.7 4-9.5-7-3.8z"/>
<path fill="#70cf57" d="M528.4 232.6l4.6 3.6 4-.9-4.6-4.5z"/>
<path fill="#a2da37" d="M205.3 202.2l3.3 0 4.5 2-3.3-.2z"/>
<path fill="#90d743" d="M154 217.1l6.7-4.2 3.4-1.9-6.7 4.1z"/>
<path fill="#5ec962" d="M465.7 250.1l7.1-.1 3.8-7.4-7 .8z"/>
<path fill="#a5db36" d="M187.2 203.1l6.8-1.2 4.5.6-6.9 1z"/>
<path fill="#27808e" d="M463.8 358l2.4-.7 4 26.6-2.3.7z"/>
<path fill="#40bd72" d="M453.5 272.5l7 3.8 4.1-9.3-7-2.1z"/>
<path fill="#2eb37c" d="M427.2 287.2l7 2.2 1.5-2.2-7-1.9z"/>
<path fill="#20a486" d="M403.9 318.2l7-3 4.1-8.6-7.1.9z"/>
<path fill="#89d548" d="M507.2 220.3l7.1 3.2 4-3.5-7.1-3.8z"/>
<path fill="#56c667" d="M463 255l7 .4 2.8-5.4-7.1.1z"/>
<path fill="#4ac16d" d="M457.6 264.9l7 2.1 4.1-8.8-7.1-.8z"/>
<path fill="#28ae80" d="M411.5 300l7-.1 4.6-7.2-7-.1z"/>
<path fill="#52c569" d="M461.6 257.4l7.1.8 1.3-2.8-7-.4z"/>
<path fill="#2eb37c" d="M435.7 287.2l7 5.1 2.7-4.7-7.1-4.2z"/>
<path fill="#7ad151" d="M521.3 227.6l7.1 5 4-1.8-7.1-5.9z"/>
<path fill="#3bbb75" d="M460.5 276.3l7.1 6 4.1-11.2-7.1-4.1z"/>
<path fill="#9bd93c" d="M230.5 206.5l6.9 1.4 4.5 4-6.9-1.7z"/>
<path fill="#21a685" d="M432.6 307.9l7.1 9.9 4.6-6.2-7.1-10.1z"/>
<path fill="#25ab82" d="M502.8 312.1l7.1-2.5 4.1-18.1-7.1 1.2z"/>
<path fill="#81d34d" d="M514.3 223.5l7 4.1 4-2.7-7-4.9z"/>
<path fill="#31b57b" d="M332.1 280.4l7.3 14.5 4.1-5-7.2-12.2z"/>
<path fill="#2cb17e" d="M434.2 289.4l7.1 5.4 1.4-2.5-7-5.1z"/>
<path fill="#7fd34e" d="M485 228.6l7 .5 4.1-5.8-7.1-.7z"/>
<path fill="#24aa83" d="M407.9 307.5l7.1-.9 3.5-6.7-7 .1z"/>
<path fill="#4ac16d" d="M559.6 258.7l1.9 1 3.9 6-1.9-1.6z"/>
<path fill="#48c16e" d="M561.5 259.7l4.3 2.1 3.8 7.1-4.2-3.2z"/>
<path fill="#84d44b" d="M269.8 219.6l6.9 2.2 4.5 5.1-7-1.9z"/>
<path fill="#8bd646" d="M685.7 225.2l7.6-8.6 4.7-5.9-7.5 7.3z"/>
<path fill="#2cb17e" d="M423.1 292.7l7.1 2.7 4-6-7-2.2z"/>
<path fill="#4ec36b" d="M552.6 254.4l7 4.3 3.9 5.4-7-6.4z"/>
<path fill="#a2da37" d="M176.1 205.8l6.7-2.3 4.4-.4-6.7 2z"/>
<path fill="#1e9c89" d="M508.7 343.4l7.2-16.7 4.2-16.1-7.3 11.8z"/>
<path fill="#a5db36" d="M208.6 202.2l3.6.1 4.4 2.1-3.5-.2z"/>
<path fill="#5ac864" d="M661.3 257.8l7.6-14.2 1-.5-7.6 14.2z"/>
<path fill="#86d549" d="M496.1 223.3l7.1 1.8 4-4.8-7.1-2.2z"/>
<path fill="#9dd93b" d="M164.1 211l6.6-3.4 5.4-1.8-6.7 3.1z"/>
<path fill="#44bf70" d="M565.8 261.8l7.5 2.6 3.8 8.9-7.5-4.4z"/>
<path fill="#29af7f" d="M430.2 295.4l7 6.1 4.1-6.7-7.1-5.4z"/>
<path fill="#1e9b8a" d="M432 322.8l7.1 11.1 4.1.9-7.1-13.8z"/>
<path fill="#54c568" d="M319.1 249.3l7.1 8.1 4.3 2.2-7.1-7.6z"/>
<path fill="#3fbc73" d="M329.1 266.5l7.2 11.2 4.2-1.6-7.1-9.7z"/>
<path fill="#48c16e" d="M464.6 267l7.1 4.1 4-10.3-7-2.6z"/>
<path fill="#fde725" d="M61.6 143.2l5.1 7.2 4 7.4-5.1-6.9z"/>
<path fill="#56c667" d="M545.5 249.6l7.1 4.8 3.9 3.3-7.1-6.7z"/>
<path fill="#38b977" d="M485.8 282.3l7 5.3 4.1-14.9-7.1-4z"/>
<path fill="#75d054" d="M480.7 235.5l7.1.4 4.2-6.8-7-.5z"/>
<path fill="#3dbc74" d="M478.7 276.5l7.1 5.8 4-13.6-7-4.2z"/>
<path fill="#44bf70" d="M471.7 271.1l7 5.4 4.1-12-7.1-3.7z"/>
<path fill="#35b779" d="M492.8 287.6l7 3.8 4.2-15.8-7.1-2.9z"/>
<path fill="#50c46a" d="M468.7 258.2l7 2.6 1.4-3.3-7.1-2.1z"/>
<path fill="#98d83e" d="M237.4 207.9l7 1.6 4.4 4.3-6.9-1.9z"/>
<path fill="#20a386" d="M429 312.3l7.1 8.7 3.6-3.2-7.1-9.9z"/>
<path fill="#27ad81" d="M418.5 299.9l7.1 2.4 4.6-6.9-7.1-2.7z"/>
<path fill="#5ec962" d="M538.5 244.7l7 4.9 3.9 1.4-7-6.6z"/>
<path fill="#81d34d" d="M276.7 221.8l7 2.6 4.5 4.6-7-2.1z"/>
<path fill="#6ccd5a" d="M476.6 242.6l7.1.9 4.1-7.6-7.1-.4z"/>
<path fill="#1f948c" d="M435 330.7l7.1 11.5 4.1 7.7-7.1-16z"/>
<path fill="#56c667" d="M470 255.4l7.1 2.1 2.7-6.1-7-1.4z"/>
<path fill="#84d44b" d="M503.2 225.1l7 2.7 4.1-4.3-7.1-3.2z"/>
<path fill="#25ac82" d="M425.6 302.3l7 5.6 4.6-6.4-7-6.1z"/>
<path fill="#60ca60" d="M472.8 250l7 1.4 3.9-7.9-7.1-.9z"/>
<path fill="#84d44b" d="M681.7 231l7.6-9.7 4-4.7-7.6 8.6z"/>
<path fill="#7fd34e" d="M492 229.1l7.1 1.6 4.1-5.6-7.1-1.8z"/>
<path fill="#a5db36" d="M212.2 202.3l6.9.6 4.4 2.4-6.9-.9z"/>
<path fill="#5ec962" d="M314.6 244.8l4.5 4.5 4.3 2.7-4.5-4.4z"/>
<path fill="#67cc5c" d="M531.4 239.9l7.1 4.8 3.9-.3-7-6.2z"/>
<path fill="#3bbb75" d="M599 271.6l7.3-5 3.6 11.3-7.3 6.6z"/>
<path fill="#228b8d" d="M445 342.1l7.1 9 4.1 20.4-7.1-14.9z"/>
<path fill="#34b679" d="M499.8 291.4l4.7 1.2 4.2-15.8-4.7-1.2z"/>
<path fill="#2eb37c" d="M328 283.4l7.3 16.8 4.1-5.3-7.3-14.5z"/>
<path fill="#24aa83" d="M415 306.6l7 1.2 3.6-5.5-7.1-2.4z"/>
<path fill="#5ac864" d="M658.4 258.5l7.7-14 2.8-.9-7.6 14.2z"/>
<path fill="#4ec36b" d="M475.7 260.8l7.1 3.7 1.4-3.7-7.1-3.3z"/>
<path fill="#7fd34e" d="M510.2 227.8l7.1 3.5 4-3.7-7-4.1z"/>
<path fill="#a8db34" d="M194 201.9l6.9-.7 4.4 1-6.8.3z"/>
<path fill="#1f978b" d="M398.7 345.6l6.9-12.6 4.1-5.7-6.9 8.1z"/>
<path fill="#42be71" d="M573.3 264.4l10.2.7 3.7 10.2-10.1-2z"/>
<path fill="#6ece58" d="M529 238.3l2.4 1.6 4-1.7-2.4-2z"/>
<path fill="#1e9c89" d="M402.8 335.4l6.9-8.1 4.1-6.5-7 4.2z"/>
<path fill="#70cf57" d="M524.3 235.4l4.7 2.9 4-2.1-4.6-3.6z"/>
<path fill="#1fa187" d="M322.7 305.9l7.6 24.1 3.3 1.2-7.6-24.4z"/>
<path fill="#77d153" d="M517.3 231.3l7 4.1 4.1-2.8-7.1-5z"/>
<path fill="#7cd250" d="M283.7 224.4l7.1 3.2 4.4 4.1-7-2.7z"/>
<path fill="#21a685" d="M410.9 315.2l7-1 4.1-6.4-7-1.2z"/>
<path fill="#1fa187" d="M406.8 325l7-4.2 4.1-6.6-7 1z"/>
<path fill="#65cb5e" d="M311.2 241.6l3.4 3.2 4.3 2.8-3.4-3z"/>
<path fill="#48c16e" d="M482.8 264.5l7 4.2 1.4-4.1-7-3.8z"/>
<path fill="#54c568" d="M477.1 257.5l7.1 3.3 2.7-6.8-7.1-2.6z"/>
<path fill="#22a884" d="M422 307.8l7 4.5 3.6-4.4-7-5.6z"/>
<path fill="#98d83e" d="M244.4 209.5l6.9 1.8 4.5 4.4-7-1.9z"/>
<path fill="#20938c" d="M394.7 353.6l6.8-16.6 4.1-4-6.9 12.6z"/>
<path fill="#75d054" d="M487.8 235.9l7.1 1.6 4.2-6.8-7.1-1.6z"/>
<path fill="#32b67a" d="M504.5 292.6l2.4.1 4.2-15.6-2.4-.3z"/>
<path fill="#44bf70" d="M489.8 268.7l7.1 4 1.4-4.5-7.1-3.6z"/>
<path fill="#69cd5b" d="M304.9 236.4l6.3 5.2 4.3 3-6.3-4.9z"/>
<path fill="#7cd250" d="M499.1 230.7l7.1 2.4 4-5.3-7-2.7z"/>
<path fill="#77d153" d="M290.8 227.6l7 3.9 4.4 3.8-7-3.6z"/>
<path fill="#5ec962" d="M479.8 251.4l7.1 2.6 3.9-8.6-7.1-1.9z"/>
<path fill="#a5db36" d="M219.1 202.9l2 .2 4.5 2.5-2.1-.3z"/>
<path fill="#6ccd5a" d="M483.7 243.5l7.1 1.9 4.1-7.9-7.1-1.6z"/>
<path fill="#7cd250" d="M677.8 236.1l7.6-10.5 3.9-4.3-7.6 9.7z"/>
<path fill="#73d056" d="M297.8 231.5l7.1 4.9 4.3 3.3-7-4.4z"/>
<path fill="#25848e" d="M466.2 357.3l7.1-6.3 4 23.6-7.1 9.3z"/>
<path fill="#50c46a" d="M484.2 260.8l7 3.8 2.7-7.4-7-3.2z"/>
<path fill="#1fa287" d="M425 316.5l7 6.3 4.1-1.8-7.1-8.7z"/>
<path fill="#4ec36b" d="M322 256.5l7.1 10 4.3-.1-7.2-9z"/>
<path fill="#9dd93b" d="M160.7 212.9l6.7-3.4 3.3-1.9-6.6 3.4z"/>
<path fill="#40bd72" d="M496.9 272.7l7.1 2.9 1.4-4.5-7.1-2.9z"/>
<path fill="#aadc32" d="M182.8 203.5l6.8-1.5 4.4-.1-6.8 1.2z"/>
<path fill="#95d840" d="M251.3 211.3l2.5.6 4.5 4.4-2.5-.6z"/>
<path fill="#77d153" d="M506.2 233.1l7 3 4.1-4.8-7.1-3.5z"/>
<path fill="#21a685" d="M417.9 314.2l7.1 2.3 4-4.2-7-4.5z"/>
<path fill="#4cc26c" d="M491.2 264.6l7.1 3.6 2.7-7.9-7.1-3.1z"/>
<path fill="#28ae80" d="M509.9 309.6l7.1-5.9 4.2-15.8-7.2 3.6z"/>
<path fill="#aadc32" d="M200.9 201.2l3.3-.1 4.4 1.1-3.3 0z"/>
<path fill="#73d056" d="M494.9 237.5l7.1 2.4 4.2-6.8-7.1-2.4z"/>
<path fill="#a5db36" d="M221.1 203.1l4.9.7 4.5 2.7-4.9-.9z"/>
<path fill="#40bd72" d="M324.9 267.6l7.2 12.8 4.2-2.7-7.2-11.2z"/>
<path fill="#5cc863" d="M486.9 254l7 3.2 3.9-9.2-7-2.6z"/>
<path fill="#46c06f" d="M628.4 269l6-9.1 3.6 6.7-6 11.1z"/>
<path fill="#2cb17e" d="M323.8 285.9l7.3 18.6 4.2-4.3-7.3-16.8z"/>
<path fill="#a5db36" d="M170.7 207.6l6.8-2.5 5.3-1.6-6.7 2.3z"/>
<path fill="#95d840" d="M253.8 211.9l4.5 1.3 4.5 4.4-4.5-1.3z"/>
<path fill="#69cd5b" d="M490.8 245.4l7 2.6 4.2-8.1-7.1-2.4z"/>
<path fill="#3fbc73" d="M504 275.6l4.7 1.2 1.4-4.5-4.7-1.2z"/>
<path fill="#73d056" d="M513.2 236.1l7.1 3.4 4-4.1-7-4.1z"/>
<path fill="#44bf70" d="M583.5 265.1l4.6-.8 3.7 10.3-4.6.7z"/>
<path fill="#34b679" d="M506.9 292.7l7.1-1.2 4.2-14.6-7.1.2z"/>
<path fill="#4ac16d" d="M498.3 268.2l7.1 2.9 2.7-8.1-7.1-2.7z"/>
<path fill="#6ece58" d="M520.3 239.5l4.7 2.4 4-3.6-4.7-2.9z"/>
<path fill="#6ccd5a" d="M525 241.9l2.4 1.2 4-3.2-2.4-1.6z"/>
<path fill="#58c765" d="M493.9 257.2l7.1 3.1 3.9-9.5-7.1-2.8z"/>
<path fill="#1f978b" d="M507.7 355l7.3-24.9 4.1-8.7-7.3 21z"/>
<path fill="#1e9d89" d="M427.9 323.2l7.1 7.5 4.1 3.2-7.1-11.1z"/>
<path fill="#70cf57" d="M502 239.9l7 2.7 4.2-6.5-7-3z"/>
<path fill="#5cc863" d="M655.4 258l7.6-13.4 3.1-.1-7.7 14z"/>
<path fill="#67cc5c" d="M527.4 243.1l7.1 3.5 4-1.9-7.1-4.8z"/>
<path fill="#77d153" d="M673.8 240.3l7.6-11.2 4-3.5-7.6 10.5z"/>
<path fill="#20928c" d="M389.7 357.3l6.8-19.4 5-.9-6.8 16.6zM503.1 361.7l7.3-26.8 4.6-4.8-7.3 24.9z"/>
<path fill="#addc30" d="M204.2 201.1l3.5 0 4.5 1.2-3.6-.1z"/>
<path fill="#3fbc73" d="M508.7 276.8l2.4.3 1.3-4.5-2.3-.3z"/>
<path fill="#44bf70" d="M617.3 269.6l7.4-9 3.7 8.4-7.5 11.5z"/>
<path fill="#63cb5f" d="M534.5 246.6l7 3.5 4-.5-7-4.9z"/>
<path fill="#20a386" d="M413.8 320.8l7-.8 4.2-3.5-7.1-2.3z"/>
<path fill="#23a983" d="M512.8 322.4l7.3-11.8 4.1-15-7.2 8.1z"/>
<path fill="#93d741" d="M258.3 213.2l7 2.2 4.5 4.2-7-2z"/>
<path fill="#65cb5e" d="M497.8 248l7.1 2.8 4.1-8.2-7-2.7z"/>
<path fill="#a5db36" d="M226 203.8l7 1.1 4.4 3-6.9-1.4z"/>
<path fill="#5cc863" d="M541.5 250.1l7.1 3.1 4 1.2-7.1-4.8z"/>
<path fill="#48c16e" d="M505.4 271.1l4.7 1.2 2.7-8-4.7-1.3z"/>
<path fill="#5cc863" d="M314.8 247.8l7.2 8.7 4.2.9-7.1-8.1z"/>
<path fill="#20938c" d="M437.9 333.1l7.1 9 4.1 14.5-7-14.4z"/>
<path fill="#50c46a" d="M638 266.6l9.1-15 3.8 3.7-9.2 17.4z"/>
<path fill="#6ccd5a" d="M509 242.6l7.1 2.9 4.2-6-7.1-3.4z"/>
<path fill="#56c667" d="M501 260.3l7.1 2.7 3.9-9.6-7.1-2.6z"/>
<path fill="#58c765" d="M548.6 253.2l7.1 2.5 3.9 3-7-4.3z"/>
<path fill="#1e9d89" d="M511.8 342.4l7.3-21 1.4-3.8-7.3 19.4z"/>
<path fill="#1fa187" d="M420.8 320l7.1 3.2 4.1-.4-7-6.3z"/>
<path fill="#63cb5f" d="M504.9 250.8l7.1 2.6 4.1-7.9-7.1-2.9z"/>
<path fill="#48c16e" d="M510.1 272.3l2.3.3 2.8-7.9-2.4-.4z"/>
<path fill="#addc30" d="M189.6 202l6.9-.9 4.4.1-6.9.7z"/>
<path fill="#56c667" d="M555.7 255.7l2 .6 3.8 3.4-1.9-1z"/>
<path fill="#69cd5b" d="M516.1 245.5l4.7 1.9 4.2-5.5-4.7-2.4z"/>
<path fill="#90d743" d="M265.3 215.4l7 2.4 4.4 4-6.9-2.2z"/>
<path fill="#40bd72" d="M511.1 277.1l7.1-.2 1.4-4.2-7.2-.1z"/>
<path fill="#54c568" d="M508.1 263l4.7 1.3 3.9-9.4-4.7-1.5z"/>
<path fill="#67cc5c" d="M520.8 247.4l2.4.9 4.2-5.2-2.4-1.2z"/>
<path fill="#addc30" d="M207.7 201.1l6.9.3 4.5 1.5-6.9-.6z"/>
<path fill="#54c568" d="M557.7 256.3l4.2 1.1 3.9 4.4-4.3-2.1z"/>
<path fill="#1fa188" d="M409.7 327.3l7-4.5 4.1-2.8-7 .8z"/>
<path fill="#65cb5e" d="M310.3 242.9l4.5 4.9 4.3 1.5-4.5-4.5z"/>
<path fill="#40bd72" d="M320.7 269.1l7.3 14.3 4.1-3-7.2-12.8z"/>
<path fill="#a5db36" d="M233 204.9l6.9 1.5 4.5 3.1-7-1.6z"/>
<path fill="#60ca60" d="M512 253.4l4.7 1.5 4.1-7.5-4.7-1.9z"/>
<path fill="#48c16e" d="M588.1 264.3l7.3-2.7 3.6 10-7.2 3z"/>
<path fill="#2cb17e" d="M318.6 287.1l7.4 19.7 5.1-2.3-7.3-18.6z"/>
<path fill="#65cb5e" d="M523.2 248.3l7.1 2.5 4.2-4.2-7.1-3.5z"/>
<path fill="#a5db36" d="M167.4 209.5l6.7-2.7 3.4-1.7-6.8 2.5z"/>
<path fill="#54c568" d="M512.8 264.3l2.4.4 3.9-9.1-2.4-.7z"/>
<path fill="#50c46a" d="M317.7 256.5l7.2 11.1 4.2-1.1-7.1-10z"/>
<path fill="#75d054" d="M669.9 243.1l7.7-11.5 3.8-2.5-7.6 11.2z"/>
<path fill="#1fa187" d="M513.2 337l7.3-19.4 2.7-7.4-7.3 16.5z"/>
<path fill="#addc30" d="M177.5 205.1l6.8-1.8 5.3-1.3-6.8 1.5z"/>
<path fill="#8ed645" d="M272.3 217.8l7 2.9 4.4 3.7-7-2.6z"/>
<path fill="#48c16e" d="M606.3 266.6l7.4-6.4 3.6 9.4-7.4 8.3z"/>
<path fill="#5ec962" d="M516.7 254.9l2.4.7 4.1-7.3-2.4-.9z"/>
<path fill="#38b977" d="M514 291.5l7.2-3.6 4.1-12.9-7.1 1.9z"/>
<path fill="#48c16e" d="M512.4 272.6l7.2.1 2.7-7.3-7.1-.7z"/>
<path fill="#6ccd5a" d="M306.8 239.5l3.5 3.4 4.3 1.9-3.4-3.2z"/>
<path fill="#52c569" d="M561.9 257.4l7.6 1.1 3.8 5.9-7.5-2.6z"/>
<path fill="#20928c" d="M499.6 360l7.3-25.8 3.5.7-7.3 26.8z"/>
<path fill="#b0dd2f" d="M214.6 201.4l2.1.1 4.4 1.6-2-.2z"/>
<path fill="#60ca60" d="M530.3 250.8l7.1 2 4.1-2.7-7-3.5z"/>
<path fill="#b0dd2f" d="M196.5 201.1l3.3-.3 4.4.3-3.3.1z"/>
<path fill="#73d056" d="M300.5 233.9l6.3 5.6 4.4 2.1-6.3-5.2z"/>
<path fill="#89d548" d="M279.3 220.7l7.1 3.6 4.4 3.3-7.1-3.2z"/>
<path fill="#5ec962" d="M519.1 255.6l7.1 1.5 4.1-6.3-7.1-2.5z"/>
<path fill="#54c568" d="M515.2 264.7l7.1.7 3.9-8.3-7.1-1.5z"/>
<path fill="#a5db36" d="M239.9 206.4l7 1.6 4.4 3.3-6.9-1.8z"/>
<path fill="#1e9b8a" d="M430.9 326.1l7 7 4.2 9.1-7.1-11.5z"/>
<path fill="#1f9f88" d="M405.6 333l7-8.2 4.1-2-7 4.5z"/>
<path fill="#7cd250" d="M293.4 228.6l7.1 5.3 4.4 2.5-7.1-4.9z"/>
<path fill="#84d44b" d="M286.4 224.3l7 4.3 4.4 2.9-7-3.9z"/>
<path fill="#b0dd2f" d="M216.7 201.5l4.9.5 4.4 1.8-4.9-.7z"/>
<path fill="#228d8d" d="M484.5 358.2l7.2-18.9 3.9 12.4-7.2 24.8z"/>
<path fill="#20938c" d="M386.4 355.2l6.8-19.5 3.3 2.2-6.8 19.4z"/>
<path fill="#75d054" d="M668.9 243.6l7.7-11.5 1-.5-7.7 11.5z"/>
<path fill="#2fb47c" d="M517 303.7l7.2-8.1 4.2-13.1-7.2 5.4z"/>
<path fill="#5ec962" d="M537.4 252.8l7.1 1.5 4.1-1.1-7.1-3.1z"/>
<path fill="#42be71" d="M518.2 276.9l7.1-1.9 1.4-3.7-7.1 1.4z"/>
<path fill="#b2dd2d" d="M199.8 200.8l3.5-.1 4.4.4-3.5 0z"/>
<path fill="#a2da37" d="M246.9 208l2.4.7 4.5 3.2-2.5-.6z"/>
<path fill="#1fa287" d="M416.7 322.8l7.1-.3 4.1.7-7.1-3.2z"/>
<path fill="#63cb5f" d="M650.9 255.3l7.6-12.1 4.5 1.4-7.6 13.4z"/>
<path fill="#5cc863" d="M526.2 257.1l7.1.7 4.1-5-7.1-2z"/>
<path fill="#23a983" d="M515.9 326.7l7.3-16.5 4.1-12.1-7.2 12.5z"/>
<path fill="#3fbc73" d="M316.5 270.3l7.3 15.6 4.2-2.5-7.3-14.3z"/>
<path fill="#60ca60" d="M310.5 247l7.2 9.5 4.3 0-7.2-8.7z"/>
<path fill="#1fa188" d="M423.8 322.5l7.1 3.6 4.1 4.6-7.1-7.5z"/>
<path fill="#4ac16d" d="M519.6 272.7l7.1-1.4 2.7-6.4-7.1.5z"/>
<path fill="#a2da37" d="M249.3 208.7l4.6 1.3 4.4 3.2-4.5-1.3z"/>
<path fill="#54c568" d="M569.5 258.5l10.2-.6 3.8 7.2-10.2-.7z"/>
<path fill="#b2dd2d" d="M184.3 203.3l6.8-1.3 5.4-.9-6.9.9z"/>
<path fill="#5cc863" d="M544.5 254.3l7.1.9 4.1.5-7.1-2.5z"/>
<path fill="#54c568" d="M522.3 265.4l7.1-.5 3.9-7.1-7.1-.7z"/>
<path fill="#b0dd2f" d="M221.6 202l6.9.9 4.5 2-7-1.1z"/>
<path fill="#addc30" d="M174.1 206.8l6.8-2.1 3.4-1.4-6.8 1.8z"/>
<path fill="#75d054" d="M666.1 244.5l7.6-11.4 2.9-1-7.7 11.5z"/>
<path fill="#54c568" d="M313.4 256.9l7.3 12.2 4.2-1.5-7.2-11.1z"/>
<path fill="#2db27d" d="M315.3 286.4l7.4 19.5 3.3.9-7.4-19.7z"/>
<path fill="#218f8d" d="M473.3 351l7.2-11.4 4 18.6-7.2 16.4z"/>
<path fill="#a0da39" d="M253.9 210l7 2.2 4.4 3.2-7-2.2z"/>
<path fill="#b5de2b" d="M203.3 200.7l6.9 0 4.4.7-6.9-.3z"/>
<path fill="#1f9e89" d="M401.5 337l7-11.5 4.1-.7-7 8.2z"/>
<path fill="#50c46a" d="M595.4 261.6l7.2-4.1 3.7 9.1-7.3 5z"/>
<path fill="#5cc863" d="M551.6 255.2l2 .2 4.1.9-2-.6z"/>
<path fill="#6ccd5a" d="M306 241.7l4.5 5.3 4.3.8-4.5-4.9z"/>
<path fill="#5cc863" d="M533.3 257.8l7.1 0 4.1-3.5-7.1-1.5z"/>
<path fill="#3fbc73" d="M521.2 287.9l7.2-5.4 4.1-10.7-7.2 3.2z"/>
<path fill="#56c667" d="M624.7 260.6l6-7.3 3.7 6.6-6 9.1z"/>
<path fill="#5cc863" d="M553.6 255.4l4.3.1 4 1.9-4.2-1.1z"/>
<path fill="#b0dd2f" d="M228.5 202.9l7 1.3 4.4 2.2-6.9-1.5z"/>
<path fill="#9dd93b" d="M260.9 212.2l7 2.6 4.4 3-7-2.4z"/>
<path fill="#5cc863" d="M634.4 259.9l9-12.5 3.7 4.2-9.1 15z"/>
<path fill="#b5de2b" d="M191.1 202l3.3-.5 5.4-.7-3.3.3z"/>
<path fill="#75d054" d="M302.5 238l3.5 3.7 4.3 1.2-3.5-3.4z"/>
<path fill="#b5de2b" d="M210.2 200.7l2 0 4.5.8-2.1-.1z"/>
<path fill="#56c667" d="M579.7 257.9l4.7-1.1 3.7 7.5-4.6.8z"/>
<path fill="#2db27d" d="M520.1 310.6l7.2-12.5 4.1-11.6-7.2 9.1z"/>
<path fill="#48c16e" d="M525.3 275l7.2-3.2 1.3-3.1-7.1 2.6z"/>
<path fill="#56c667" d="M529.4 264.9l7.2-1.4 3.8-5.7-7.1 0z"/>
<path fill="#4ec36b" d="M526.7 271.3l7.1-2.6 2.8-5.2-7.2 1.4z"/>
<path fill="#9bd93c" d="M267.9 214.8l7 3.2 4.4 2.7-7-2.9z"/>
<path fill="#20a386" d="M412.6 324.8l7-3.9 4.2 1.6-7.1.3z"/>
<path fill="#7cd250" d="M296.2 232.1l6.3 5.9 4.3 1.5-6.3-5.6z"/>
<path fill="#77d153" d="M663 244.6l7.6-11.1 3.1-.4-7.6 11.4z"/>
<path fill="#b8de29" d="M212.2 200.7l4.9.3 4.5 1-4.9-.5z"/>
<path fill="#20a386" d="M515 330.1l2-6 4-8-1.9 5.3z"/>
<path fill="#58c765" d="M613.7 260.2l7.4-7.2 3.6 7.6-7.4 9z"/>
<path fill="#40bd72" d="M311.2 270.7l7.4 16.4 5.2-1.2-7.3-15.6z"/>
<path fill="#5ec962" d="M540.4 257.8l7.2-.6 4-2-7.1-.9z"/>
<path fill="#1f978b" d="M495.6 351.7l7.3-22.5 4 5-7.3 25.8z"/>
<path fill="#b8de29" d="M194.4 201.5l3.6-.3 5.3-.5-3.5.1z"/>
<path fill="#95d840" d="M274.9 218l7.1 3.8 4.4 2.5-7.1-3.6z"/>
<path fill="#b2dd2d" d="M180.9 204.7l6.8-1.6 3.4-1.1-6.8 1.3z"/>
<path fill="#b0dd2f" d="M235.5 204.2l6.9 1.5 4.5 2.3-7-1.6z"/>
<path fill="#5ec962" d="M557.9 255.5l7.6-.4 4 3.4-7.6-1.1z"/>
<path fill="#1f968b" d="M448 333.4l7.1 2.9 4.1 20.8-7.1-6z"/>
<path fill="#86d549" d="M289.1 226.5l7.1 5.6 4.3 1.8-7.1-5.3z"/>
<path fill="#22a785" d="M519.1 321.4l1.9-5.3 1.5-3.4-2 4.9z"/>
<path fill="#8ed645" d="M282 221.8l7.1 4.7 4.3 2.1-7-4.3z"/>
<path fill="#65cb5e" d="M306.2 246.6l7.2 10.3 4.3-.4-7.2-9.5z"/>
<path fill="#1f9a8a" d="M440.9 328.7l7.1 4.7 4.1 17.7-7.1-9z"/>
<path fill="#54c568" d="M309.2 257.3l7.3 13 4.2-1.2-7.3-12.2z"/>
<path fill="#1f958b" d="M455.1 336.3l4.7 0 4 21.7-4.6-.9z"/>
<path fill="#25ab82" d="M520.5 317.6l2-4.9 2.7-6.8-2 4.3z"/>
<path fill="#1fa088" d="M510.4 334.9l2-6.5 4.6-4.3-2 6z"/>
<path fill="#addc30" d="M242.4 205.7l2.5.6 4.4 2.4-2.4-.7z"/>
<path fill="#3aba76" d="M524.2 295.6l7.2-9.1 4.2-10.3-7.2 6.3z"/>
<path fill="#1fa088" d="M396.5 337.9l6.9-14 5.1 1.6-7 11.5z"/>
<path fill="#6ccd5a" d="M647.1 251.6l7.6-10.6 3.8 2.2-7.6 12.1z"/>
<path fill="#5ec962" d="M547.6 257.2l1.9-.3 4.1-1.5-2-.2z"/>
<path fill="#b8de29" d="M217.1 201l7 .7 4.4 1.2-6.9-.9z"/>
<path fill="#addc30" d="M244.9 206.3l4.5 1.3 4.5 2.4-4.6-1.3z"/>
<path fill="#1f9f88" d="M433.8 323.9l7.1 4.8 4.1 13.4-7.1-9z"/>
<path fill="#20a486" d="M419.6 320.9l7.1 0 4.2 5.2-7.1-3.6z"/>
<path fill="#5cc863" d="M584.4 256.8l7.2-2.5 3.8 7.3-7.3 2.7z"/>
<path fill="#bade28" d="M198 201.2l6.8-.4 5.4-.1-6.9 0z"/>
<path fill="#5ac864" d="M536.6 263.5l7.1-2.3 3.9-4-7.2.6z"/>
<path fill="#1f968b" d="M459.8 336.3l2.4-.7 4 21.7-2.4.7z"/>
<path fill="#b8de29" d="M187.7 203.1l3.3-.6 3.4-1-3.3.5z"/>
<path fill="#73d056" d="M301.7 241l4.5 5.6 4.3.4-4.5-5.3z"/>
<path fill="#2cb17e" d="M523.2 310.2l2-4.3 4.1-11.1-2 3.3z"/>
<path fill="#1fa287" d="M426.7 320.9l7.1 3 4.1 9.2-7-7z"/>
<path fill="#5cc863" d="M602.6 257.5l7.4-5.1 3.7 7.8-7.4 6.4z"/>
<path fill="#60ca60" d="M549.5 256.9l4.4-.8 4-.6-4.3-.1z"/>
<path fill="#48c16e" d="M528.4 282.5l7.2-6.3 4.1-8.5-7.2 4.1z"/>
<path fill="#aadc32" d="M249.4 207.6l7.1 2.3 4.4 2.3-7-2.2z"/>
<path fill="#56c667" d="M533.8 268.7l7.2-3.4 2.7-4.1-7.1 2.3z"/>
<path fill="#50c46a" d="M532.5 271.8l7.2-4.1 1.3-2.4-7.2 3.4z"/>
<path fill="#60ca60" d="M565.5 255.1l10.2-1.9 4 4.7-10.2.6z"/>
<path fill="#7ad151" d="M298.2 237.1l3.5 3.9 4.3.7-3.5-3.7z"/>
<path fill="#b8de29" d="M224.1 201.7l6.9 1.1 4.5 1.4-7-1.3z"/>
<path fill="#bade28" d="M204.8 200.8l2.1-.1 5.3 0-2 0zM191 202.5l3.5-.5 3.5-.8-3.6.3z"/>
<path fill="#21a585" d="M408.5 325.5l7-6.9 4.1 2.3-7 3.9z"/>
<path fill="#a8db34" d="M256.5 209.9l7 2.7 4.4 2.2-7-2.6z"/>
<path fill="#7cd250" d="M658.5 243.2l7.5-10.2 4.6.5-7.6 11.1z"/>
<path fill="#44bf70" d="M307.9 270.1l7.4 16.3 3.3.7-7.4-16.4z"/>
<path fill="#37b878" d="M527.3 298.1l2-3.3 4.1-10.8-2 2.5z"/>
<path fill="#1fa188" d="M506.9 334.2l2-6.2 3.5.4-2 6.5z"/>
<path fill="#5ec962" d="M543.7 261.2l2-.7 3.8-3.6-1.9.3z"/>
<path fill="#84d44b" d="M291.9 230.8l6.3 6.3 4.3.9-6.3-5.9z"/>
<path fill="#67cc5c" d="M301.9 246.4l7.3 10.9 4.2-.4-7.2-10.3z"/>
<path fill="#bddf26" d="M206.9 200.7l4.9.1 5.3.2-4.9-.3z"/>
<path fill="#a2da37" d="M263.5 212.6l7.1 3.3 4.3 2.1-7-3.2z"/>
<path fill="#63cb5f" d="M553.9 256.1l7.6-1.8 4 .8-7.6.4z"/>
<path fill="#b8de29" d="M231 202.8l7 1.4 4.4 1.5-6.9-1.5z"/>
<path fill="#8ed645" d="M284.7 224.9l7.2 5.9 4.3 1.3-7.1-5.6z"/>
<path fill="#58c765" d="M303.9 257.2l7.3 13.5 5.3-.4-7.3-13z"/>
<path fill="#9dd93b" d="M270.6 215.9l7 4.1 4.4 1.8-7.1-3.8z"/>
<path fill="#28ae80" d="M521 316.1l4.5-10.9 1.4-2.9-4.4 10.4z"/>
<path fill="#1f998a" d="M462.2 335.6l7.1-4.8 4 20.2-7.1 6.3z"/>
<path fill="#42be71" d="M531.4 286.5l2-2.5 4.1-9.6-1.9 1.8z"/>
<path fill="#98d83e" d="M277.6 220l7.1 4.9 4.4 1.6-7.1-4.7z"/>
<path fill="#25ab82" d="M517 324.1l4.4-12.4 4.1-6.5-4.5 10.9z"/>
<path fill="#5ac864" d="M541 265.3l2-1.1 2.7-3.7-2 .7z"/>
<path fill="#6ccd5a" d="M630.7 253.3l9-10.4 3.7 4.5-9 12.5z"/>
<path fill="#60ca60" d="M545.7 260.5l4.3-1.7 3.9-2.7-4.4.8z"/>
<path fill="#2cb17e" d="M522.5 312.7l4.4-10.4 2.7-5.5-4.4 9.1z"/>
<path fill="#bddf26" d="M194.5 202l6.9-.6 3.4-.6-6.8.4z"/>
<path fill="#67cc5c" d="M621.1 253l5.9-5.8 3.7 6.1-6 7.3z"/>
<path fill="#63cb5f" d="M591.6 254.3l7.3-3.6 3.7 6.8-7.2 4.1z"/>
<path fill="#56c667" d="M539.7 267.7l1.9-1.2 1.4-2.3-2 1.1z"/>
<path fill="#50c46a" d="M535.6 276.2l1.9-1.8 4.1-7.9-1.9 1.2z"/>
<path fill="#b8de29" d="M238 204.2l2.5.6 4.4 1.5-2.5-.6z"/>
<path fill="#65cb5e" d="M575.7 253.2l4.7-1.4 4 5-4.7 1.1z"/>
<path fill="#1fa287" d="M393.2 335.7l6.9-14.5 3.3 2.7-6.9 14z"/>
<path fill="#bddf26" d="M211.8 200.8l6.9.4 5.4.5-7-.7z"/>
<path fill="#32b67a" d="M525.2 305.9l4.4-9.1 4.1-9.3-4.4 7.3z"/>
<path fill="#77d153" d="M297.4 240.5l4.5 5.9 4.3.2-4.5-5.6z"/>
<path fill="#b5de2b" d="M240.5 204.8l4.5 1.2 4.4 1.6-4.5-1.3z"/>
<path fill="#22a884" d="M512.4 328.4l4.5-13.1 4.5-3.6-4.4 12.4z"/>
<path fill="#75d054" d="M643.4 247.4l7.5-9.2 3.8 2.8-7.6 10.6z"/>
<path fill="#5cc863" d="M543 264.2l4.3-2.4 2.7-3-4.3 1.7z"/>
<path fill="#c0df25" d="M201.4 201.4l2-.2 3.5-.5-2.1.1z"/>
<path fill="#3dbc74" d="M529.3 294.8l4.4-7.3 4.1-9-4.4 5.5z"/>
<path fill="#1e9c89" d="M480.5 339.6l7.2-14 4 13.7-7.2 18.9z"/>
<path fill="#7fd34e" d="M293.9 236.5l3.5 4 4.3.5-3.5-3.9z"/>
<path fill="#b5de2b" d="M245 206l7.1 2.3 4.4 1.6-7.1-2.3z"/>
<path fill="#5ac864" d="M541.6 266.5l4.4-2.8 1.3-1.9-4.3 2.4z"/>
<path fill="#23a983" d="M415.5 318.6l7-3.1 4.2 5.4-7.1 0z"/>
<path fill="#69cd5b" d="M610 252.4l7.3-5.7 3.8 6.3-7.4 7.2z"/>
<path fill="#4ac16d" d="M533.4 284l4.4-5.5 4.1-8.2-4.4 4.1z"/>
<path fill="#54c568" d="M537.5 274.4l4.4-4.1 4.1-6.6-4.4 2.8z"/>
<path fill="#c0df25" d="M218.7 201.2l7 .8 5.3.8-6.9-1.1z"/>
<path fill="#65cb5e" d="M550 258.8l7.7-3.3 3.8-1.2-7.6 1.8z"/>
<path fill="#1fa088" d="M491.7 339.3l7.2-18.4 4 8.3-7.3 22.5z"/>
<path fill="#c0df25" d="M203.4 201.2l4.9-.1 3.5-.3-4.9-.1z"/>
<path fill="#89d548" d="M287.5 229.9l6.4 6.6 4.3.6-6.3-6.3z"/>
<path fill="#69cd5b" d="M561.5 254.3l10.3-3.4 3.9 2.3-10.2 1.9z"/>
<path fill="#b0dd2f" d="M252.1 208.3l7 2.8 4.4 1.5-7-2.7z"/>
<path fill="#6ccd5a" d="M296.7 246l7.2 11.2 5.3.1-7.3-10.9z"/>
<path fill="#84d44b" d="M654.7 241l7.5-9.2 3.8 1.2-7.5 10.2z"/>
<path fill="#23a983" d="M403.4 323.9l7-9.4 5.1 4.1-7 6.9z"/>
<path fill="#6ccd5a" d="M580.4 251.8l7.2-2.8 4 5.3-7.2 2.5z"/>
<path fill="#5cc863" d="M300.6 256.6l7.3 13.5 3.3.6-7.3-13.5z"/>
<path fill="#20a486" d="M502.9 329.2l2-5.6 4 4.4-2 6.2z"/>
<path fill="#addc30" d="M259.1 211.1l7.1 3.4 4.4 1.4-7.1-3.3z"/>
<path fill="#95d840" d="M280.4 223.7l7.1 6.2 4.4.9-7.2-5.9z"/>
<path fill="#22a884" d="M508.9 328l4.4-12.8 3.6.1-4.5 13.1z"/>
<path fill="#c0df25" d="M225.7 202l6.9 1.2 5.4 1-7-1.4z"/>
<path fill="#a5db36" d="M266.2 214.5l7.1 4.2 4.3 1.3-7-4.1z"/>
<path fill="#9dd93b" d="M273.3 218.7l7.1 5 4.3 1.2-7.1-4.9z"/>
<path fill="#24aa83" d="M422.5 315.5l7.1-.2 4.2 8.6-7.1-3z"/>
<path fill="#6ece58" d="M598.9 250.7l7.3-4.4 3.8 6.1-7.4 5.1z"/>
<path fill="#c2df23" d="M208.3 201.1l7 .2 3.4-.1-6.9-.4z"/>
<path fill="#65cb5e" d="M547.3 261.8l7.7-4.4 2.7-1.9-7.7 3.3z"/>
<path fill="#bddf26" d="M232.6 203.2l2.5.6 5.4 1-2.5-.6z"/>
<path fill="#7cd250" d="M292.1 239.9l4.6 6.1 5.2.4-4.5-5.9z"/>
<path fill="#23a983" d="M429.6 315.3l7.1 1.4 4.2 12-7.1-4.8z"/>
<path fill="#1fa188" d="M469.3 330.8l7.2-8.3 4 17.1-7.2 11.4z"/>
<path fill="#63cb5f" d="M546 263.7l7.6-5.1 1.4-1.2-7.7 4.4z"/>
<path fill="#bddf26" d="M235.1 203.8l4.6 1.1 5.3 1.1-4.5-1.2z"/>
<path fill="#7ad151" d="M627 247.2l8.9-8.5 3.8 4.2-9 10.4z"/>
<path fill="#22a884" d="M436.7 316.7l7.1 1.8 4.2 14.9-7.1-4.7z"/>
<path fill="#70cf57" d="M571.8 250.9l4.6-1.8 4 2.7-4.7 1.4z"/>
<path fill="#c5e021" d="M215.3 201.3l6.9.7 3.5 0-7-.8z"/>
<path fill="#5ec962" d="M541.9 270.3l7.7-7 4-4.7-7.6 5.1z"/>
<path fill="#86d549" d="M288.6 235.8l3.5 4.1 5.3.6-3.5-4z"/>
<path fill="#bade28" d="M239.7 204.9l7 2.2 5.4 1.2-7.1-2.3z"/>
<path fill="#81d34d" d="M639.7 242.9l7.5-7.8 3.7 3.1-7.5 9.2z"/>
<path fill="#77d153" d="M617.3 246.7l5.9-4.8 3.8 5.3-5.9 5.8z"/>
<path fill="#6ece58" d="M557.7 255.5l10.3-4.9 3.8.3-10.3 3.4z"/>
<path fill="#73d056" d="M587.6 249l7.3-3.4 4 5.1-7.3 3.6zM293.3 245.4l7.3 11.2 3.3.6-7.2-11.2z"/>
<path fill="#21a685" d="M443.8 318.5l7.2.8 4.1 17-7.1-2.9z"/>
<path fill="#56c667" d="M537.8 278.5l7.7-9.3 4.1-5.9-7.7 7z"/>
<path fill="#90d743" d="M282.2 229.1l6.4 6.7 5.3.7-6.4-6.6z"/>
<path fill="#4ec36b" d="M533.7 287.5l7.7-11.7 4.1-6.6-7.7 9.3z"/>
<path fill="#42be71" d="M529.6 296.8l7.7-14.4 4.1-6.6-7.7 11.7z"/>
<path fill="#3bbb75" d="M526.9 302.3l7.8-15.9 2.6-4-7.7 14.4z"/>
<path fill="#b8de29" d="M246.7 207.1l7 2.8 5.4 1.2-7-2.8z"/>
<path fill="#38b977" d="M525.5 305.2l7.7-16.8 1.5-2-7.8 15.9z"/>
<path fill="#8bd646" d="M650.9 238.2l7.6-8 3.7 1.6-7.5 9.2z"/>
<path fill="#c5e021" d="M222.2 202l7 1 3.4.2-6.9-1.2z"/>
<path fill="#9bd93c" d="M275.1 222.7l7.1 6.4 5.3.8-7.1-6.2z"/>
<path fill="#28ae80" d="M410.4 314.5l7-5.8 5.1 6.8-7 3.1z"/>
<path fill="#b5de2b" d="M253.7 209.9l7.1 3.4 5.4 1.2-7.1-3.4z"/>
<path fill="#26ad81" d="M400.1 321.2l7-10.3 3.3 3.6-7 9.4z"/>
<path fill="#35b779" d="M521.4 311.7l7.8-18.7 4-4.6-7.7 16.8z"/>
<path fill="#22a785" d="M451 319.3l4.7-.7 4.1 17.7-4.7 0z"/>
<path fill="#25ac82" d="M504.9 323.6l4.4-11.7 4 3.3-4.4 12.8z"/>
<path fill="#a5db36" d="M267.9 217.6l7.2 5.1 5.3 1-7.1-5z"/>
<path fill="#addc30" d="M260.8 213.3l7.1 4.3 5.4 1.1-7.1-4.2z"/>
<path fill="#7ad151" d="M606.2 246.3l7.4-4.7 3.7 5.1-7.3 5.7z"/>
<path fill="#77d153" d="M576.4 249.1l7.3-3.2 3.9 3.1-7.2 2.8z"/>
<path fill="#c5e021" d="M229.2 203l2.5.5 3.4.3-2.5-.6z"/>
<path fill="#81d34d" d="M288.7 239.4l4.6 6 3.4.6-4.6-6.1z"/>
<path fill="#70cf57" d="M555 257.4l10.4-6.1 2.6-.7-10.3 4.9z"/>
<path fill="#c2df23" d="M231.7 203.5l4.5 1.1 3.5.3-4.6-1.1z"/>
<path fill="#22a884" d="M455.7 318.6l2.4-.7 4.1 17.7-2.4.7z"/>
<path fill="#25ab82" d="M498.9 320.9l2-4.7 4 7.4-2 5.6z"/>
<path fill="#8bd646" d="M285.2 235.2l3.5 4.2 3.4.5-3.5-4.1z"/>
<path fill="#32b67a" d="M516.9 315.3l7.7-19.5 4.6-2.8-7.8 18.7z"/>
<path fill="#77d153" d="M568 250.6l4.7-2.4 3.7.9-4.6 1.8z"/>
<path fill="#7fd34e" d="M594.9 245.6l7.3-3.9 4 4.6-7.3 4.4z"/>
<path fill="#c2df23" d="M236.2 204.6l7.1 2.1 3.4.4-7-2.2z"/>
<path fill="#70cf57" d="M553.6 258.6l10.4-6.7 1.4-.6-10.4 6.1z"/>
<path fill="#95d840" d="M278.8 228.5l6.4 6.7 3.4.6-6.4-6.7z"/>
<path fill="#24aa83" d="M487.7 325.6l7.2-14.6 4 9.9-7.2 18.4z"/>
<path fill="#c0df25" d="M243.3 206.7l7 2.7 3.4.5-7-2.8z"/>
<path fill="#89d548" d="M623.2 241.9l8.9-7 3.8 3.8-8.9 8.5z"/>
<path fill="#2db27d" d="M417.4 308.7l7.1-3.1 5.1 9.7-7.1.2z"/>
<path fill="#8ed645" d="M635.9 238.7l7.5-6.5 3.8 2.9-7.5 7.8z"/>
<path fill="#6ece58" d="M549.6 263.3l10.4-8.9 4-2.5-10.4 6.7z"/>
<path fill="#a2da37" d="M271.7 222.2l7.1 6.3 3.4.6-7.1-6.4z"/>
<path fill="#24aa83" d="M458.1 317.9l7.1-3.9 4.1 16.8-7.1 4.8z"/>
<path fill="#bade28" d="M250.3 209.4l7.1 3.4 3.4.5-7.1-3.4z"/>
<path fill="#81d34d" d="M583.7 245.9l7.3-3.5 3.9 3.2-7.3 3.4z"/>
<path fill="#95d840" d="M647.2 235.1l7.5-6.8 3.8 1.9-7.6 8z"/>
<path fill="#addc30" d="M264.5 217.1l7.2 5.1 3.4.5-7.2-5.1z"/>
<path fill="#24aa83" d="M476.5 322.5l7.1-10.4 4.1 13.5-7.2 14z"/>
<path fill="#b5de2b" d="M257.4 212.8l7.1 4.3 3.4.5-7.1-4.3z"/>
<path fill="#86d549" d="M613.6 241.6l5.8-4 3.8 4.3-5.9 4.8z"/>
<path fill="#32b67a" d="M513.3 315.2l7.8-19.2 3.5-.2-7.7 19.5z"/>
<path fill="#7cd250" d="M565.4 251.3l4.6-2.8 2.7-.3-4.7 2.4z"/>
<path fill="#7fd34e" d="M572.7 248.2l7.3-3.7 3.7 1.4-7.3 3.2z"/>
<path fill="#69cd5b" d="M545.5 269.2l10.5-11.2 4-3.6-10.4 8.9z"/>
<path fill="#2fb47c" d="M407.1 310.9l7-6.8 3.3 4.6-7 5.8zM424.5 305.6l7.1-1.3 5.1 12.4-7.1-1.4z"/>
<path fill="#2cb17e" d="M500.9 316.2l4.4-10 4 5.7-4.4 11.7z"/>
<path fill="#89d548" d="M602.2 241.7l7.4-4.2 4 4.1-7.4 4.7z"/>
<path fill="#7cd250" d="M564 251.9l4.7-3 1.3-.4-4.6 2.8z"/>
<path fill="#65cb5e" d="M541.4 275.8l10.5-13.7 4.1-4.1-10.5 11.2z"/>
<path fill="#8bd646" d="M591 242.4l7.3-3.7 3.9 3-7.3 3.9z"/>
<path fill="#2fb47c" d="M431.6 304.3l7.2-.7 5 14.9-7.1-1.8z"/>
<path fill="#5ec962" d="M537.3 282.4l10.5-16.1 4.1-4.2-10.5 13.7z"/>
<path fill="#84d44b" d="M570 248.5l7.3-4.2 2.7.2-7.3 3.7z"/>
<path fill="#7cd250" d="M560 254.4l4.7-3.6 4-1.9-4.7 3z"/>
<path fill="#89d548" d="M580 244.5l7.3-3.8 3.7 1.7-7.3 3.5z"/>
<path fill="#2ab07f" d="M465.2 314l7.2-6.3 4.1 14.8-7.2 8.3z"/>
<path fill="#a0da39" d="M643.4 232.2l7.4-5.9 3.9 2-7.5 6.8z"/>
<path fill="#9bd93c" d="M632.1 234.9l7.5-5.4 3.8 2.7-7.5 6.5z"/>
<path fill="#37b878" d="M509.3 311.9l7.8-17.7 4 1.8-7.8 19.2z"/>
<path fill="#95d840" d="M619.4 237.6l8.9-5.8 3.8 3.1-8.9 7z"/>
<path fill="#58c765" d="M534.7 286.4l10.5-17.5 2.6-2.6-10.5 16.1z"/>
<path fill="#2eb37c" d="M494.9 311l2-3.8 4 9-2 4.7z"/>
<path fill="#56c667" d="M533.2 288.4l10.6-18.2 1.4-1.3-10.5 17.5z"/>
<path fill="#86d549" d="M568.7 248.9l7.3-4.5 1.3-.1-7.3 4.2z"/>
<path fill="#31b57b" d="M438.8 303.6l7.1-.9 5.1 16.6-7.2-.8z"/>
<path fill="#95d840" d="M609.6 237.5l5.9-3.3 3.9 3.4-5.8 4z"/>
<path fill="#37b878" d="M414.1 304.1l7.1-4.2 3.3 5.7-7.1 3.1z"/>
<path fill="#7ad151" d="M556 258l4.7-4.5 4-2.7-4.7 3.6z"/>
<path fill="#54c568" d="M529.2 293l10.5-19.7 4.1-3.1-10.6 18.2z"/>
<path fill="#95d840" d="M598.3 238.7l7.4-3.9 3.9 2.7-7.4 4.2z"/>
<path fill="#32b67a" d="M445.9 302.7l4.7-1.2 5.1 17.1-4.7.7z"/>
<path fill="#86d549" d="M564.7 250.8l7.3-5.4 4-1-7.3 4.5z"/>
<path fill="#90d743" d="M577.3 244.3l7.4-4.1 2.6.5-7.3 3.8z"/>
<path fill="#31b57b" d="M483.6 312.1l7.3-11.3 4 10.2-7.2 14.6z"/>
<path fill="#95d840" d="M587.3 240.7l7.3-3.8 3.7 1.8-7.3 3.7z"/>
<path fill="#77d153" d="M551.9 262.1l4.7-5.3 4.1-3.3-4.7 4.5z"/>
<path fill="#37b878" d="M496.9 307.2l4.4-8.3 4 7.3-4.4 10z"/>
<path fill="#35b779" d="M450.6 301.5l2.4-.8 5.1 17.2-2.4.7z"/>
<path fill="#52c569" d="M524.6 295.8l10.6-20.5 4.5-2-10.5 19.7z"/>
<path fill="#aadc32" d="M639.6 229.5l7.4-5 3.8 1.8-7.4 5.9z"/>
<path fill="#3dbc74" d="M421.2 299.9l7.1-2.6 3.3 7-7.1 1.3z"/>
<path fill="#a5db36" d="M628.3 231.8l7.4-4.6 3.9 2.3-7.5 5.4z"/>
<path fill="#93d741" d="M576 244.4l7.3-4.2 1.4 0-7.4 4.1z"/>
<path fill="#a2da37" d="M615.5 234.2l8.8-5 4 2.6-8.9 5.8z"/>
<path fill="#3fbc73" d="M505.3 306.2l7.7-15.7 4.1 3.7-7.8 17.7z"/>
<path fill="#35b779" d="M472.4 307.7l7.2-7.9 4 12.3-7.1 10.4z"/>
<path fill="#86d549" d="M560.7 253.5l7.3-6.2 4-1.9-7.3 5.4z"/>
<path fill="#75d054" d="M547.8 266.3l4.7-6 4.1-3.5-4.7 5.3z"/>
<path fill="#a0da39" d="M605.7 234.8l5.9-3 3.9 2.4-5.9 3.3z"/>
<path fill="#38b977" d="M453 300.7l7.2-3.3 5 16.6-7.1 3.9z"/>
<path fill="#9bd93c" d="M584.7 240.2l7.3-3.9 2.6.6-7.3 3.8z"/>
<path fill="#93d741" d="M572 245.4l7.4-4.8 3.9-.4-7.3 4.2z"/>
<path fill="#a0da39" d="M594.6 236.9l7.4-3.7 3.7 1.6-7.4 3.9z"/>
<path fill="#40bd72" d="M428.3 297.3l7.2-1.7 3.3 8-7.2.7z"/>
<path fill="#70cf57" d="M545.2 268.9l4.7-6.5 2.6-2.1-4.7 6z"/>
<path fill="#54c568" d="M521.1 296l10.5-20.2 3.6-.5-10.6 20.5z"/>
<path fill="#3dbc74" d="M490.9 300.8l1.9-3 4.1 9.4-2 3.8z"/>
<path fill="#86d549" d="M556.6 256.8l7.4-7.2 4-2.3-7.3 6.2z"/>
<path fill="#70cf57" d="M543.8 270.2l4.7-6.7 1.4-1.1-4.7 6.5z"/>
<path fill="#9dd93b" d="M583.3 240.2l7.4-4 1.3.1-7.3 3.9z"/>
<path fill="#b2dd2d" d="M635.7 227.2l7.5-4.2 3.8 1.5-7.4 5z"/>
<path fill="#b0dd2f" d="M624.3 229.2l7.4-3.9 4 1.9-7.4 4.6z"/>
<path fill="#aadc32" d="M611.6 231.8l8.8-4.4 3.9 1.8-8.8 5z"/>
<path fill="#6ece58" d="M539.7 273.3l4.7-7.3 4.1-2.5-4.7 6.7z"/>
<path fill="#44bf70" d="M435.5 295.6l7.1-1.6 3.3 8.7-7.1.9z"/>
<path fill="#95d840" d="M568 247.3l7.3-5.5 4.1-1.2-7.4 4.8z"/>
<path fill="#84d44b" d="M552.5 260.3l7.4-8.2 4.1-2.5-7.4 7.2z"/>
<path fill="#a8db34" d="M602 233.2l5.8-2.8 3.8 1.4-5.9 3z"/>
<path fill="#a5db36" d="M592 236.3l7.4-3.7 2.6.6-7.4 3.7z"/>
<path fill="#40bd72" d="M460.2 297.4l7.2-4.7 5 15-7.2 6.3z"/>
<path fill="#58c765" d="M517.1 294.2l10.5-19.2 4 .8-10.5 20.2z"/>
<path fill="#a0da39" d="M579.4 240.6l7.3-4.4 4 0-7.4 4z"/>
<path fill="#4ac16d" d="M501.3 298.9l7.7-13.3 4 4.9-7.7 15.7z"/>
<path fill="#46c06f" d="M492.8 297.8l4.4-6.7 4.1 7.8-4.4 8.3z"/>
<path fill="#44bf70" d="M479.6 299.8l7.2-8.7 4.1 9.7-7.3 11.3z"/>
<path fill="#48c16e" d="M442.6 294l4.8-1.4 3.2 8.9-4.7 1.2z"/>
<path fill="#81d34d" d="M549.9 262.4l7.4-8.7 2.6-1.6-7.4 8.2z"/>
<path fill="#a8db34" d="M590.7 236.2l7.3-3.8 1.4.2-7.4 3.7z"/>
<path fill="#6ece58" d="M535.2 275.3l4.7-7.4 4.5-1.9-4.7 7.3z"/>
<path fill="#95d840" d="M564 249.6l7.3-6.2 4-1.6-7.3 5.5z"/>
<path fill="#bade28" d="M631.7 225.3l7.5-3.6 4 1.3-7.5 4.2z"/>
<path fill="#81d34d" d="M548.5 263.5l7.4-9 1.4-.8-7.4 8.7z"/>
<path fill="#4cc26c" d="M447.4 292.6l2.4-.8 3.2 8.9-2.4.8z"/>
<path fill="#b0dd2f" d="M599.4 232.6l5.8-2.8 2.6.6-5.8 2.8z"/>
<path fill="#b8de29" d="M620.4 227.4l7.4-3.4 3.9 1.3-7.4 3.9z"/>
<path fill="#b2dd2d" d="M607.8 230.4l8.9-4.1 3.7 1.1-8.8 4.4z"/>
<path fill="#a2da37" d="M575.3 241.8l7.4-4.8 4-.8-7.3 4.4z"/>
<path fill="#aadc32" d="M586.7 236.2l7.4-3.9 3.9.1-7.3 3.8z"/>
<path fill="#81d34d" d="M544.4 266l7.4-9.5 4.1-2-7.4 9z"/>
<path fill="#5ec962" d="M513 290.5l10.5-17.4 4.1 1.9-10.5 19.2z"/>
<path fill="#95d840" d="M559.9 252.1l7.4-6.9 4-1.8-7.3 6.2z"/>
<path fill="#4ec36b" d="M467.4 292.7l7.2-5.8 5 12.9-7.2 7.9z"/>
<path fill="#70cf57" d="M531.6 275.8l4.7-7.4 3.6-.5-4.7 7.4z"/>
<path fill="#b2dd2d" d="M598 232.4l5.9-2.8 1.3.2-5.8 2.8z"/>
<path fill="#50c46a" d="M486.8 291.1l2-2.4 4 9.1-1.9 3zM449.8 291.8l7.2-3.1 3.2 8.7-7.2 3.3z"/>
<path fill="#bade28" d="M605.2 229.8l8.9-3.9 2.6.4-8.9 4.1z"/>
<path fill="#a5db36" d="M571.3 243.4l7.4-5.3 4-1.1-7.4 4.8z"/>
<path fill="#c2df23" d="M627.8 224l7.4-3.1 4 .8-7.5 3.6z"/>
<path fill="#5ac864" d="M497.2 291.1l7.8-11 4 5.5-7.7 13.3z"/>
<path fill="#95d840" d="M557.3 253.7l7.4-7.3 2.6-1.2-7.4 6.9z"/>
<path fill="#c0df25" d="M616.7 226.3l7.4-3 3.7.7-7.4 3.4z"/>
<path fill="#81d34d" d="M539.9 267.9l7.4-9.8 4.5-1.6-7.4 9.5z"/>
<path fill="#b5de2b" d="M594.1 232.3l5.8-2.8 4 .1-5.9 2.8z"/>
<path fill="#b0dd2f" d="M582.7 237l7.4-4.2 4-.5-7.4 3.9z"/>
<path fill="#58c765" d="M488.8 288.7l4.4-5.4 4 7.8-4.4 6.7z"/>
<path fill="#73d056" d="M527.6 275l4.7-7 4 .4-4.7 7.4z"/>
<path fill="#95d840" d="M555.9 254.5l7.3-7.4 1.5-.7-7.4 7.3z"/>
<path fill="#bddf26" d="M603.9 229.6l8.9-3.8 1.3.1-8.9 3.9z"/>
<path fill="#58c765" d="M457 288.7l7.2-4.1 3.2 8.1-7.2 4.7z"/>
<path fill="#a5db36" d="M567.3 245.2l7.4-5.7 4-1.4-7.4 5.3z"/>
<path fill="#69cd5b" d="M509 285.6l10.5-15.2 4 2.7-10.5 17.4z"/>
<path fill="#5cc863" d="M474.6 286.9l7.3-6.4 4.9 10.6-7.2 8.7z"/>
<path fill="#95d840" d="M551.8 256.5l7.4-7.8 4-1.6-7.3 7.4z"/>
<path fill="#c5e021" d="M614.1 225.9l7.4-2.9 2.6.3-7.4 3z"/>
<path fill="#84d44b" d="M536.3 268.4l7.4-9.7 3.6-.6-7.4 9.8z"/>
<path fill="#c8e020" d="M624.1 223.3l7.4-2.8 3.7.4-7.4 3.1z"/>
<path fill="#b2dd2d" d="M578.7 238.1l7.4-4.4 4-.9-7.4 4.2z"/>
<path fill="#bade28" d="M590.1 232.8l5.9-2.9 3.9-.4-5.8 2.8z"/>
<path fill="#c0df25" d="M599.9 229.5l8.9-3.8 4 .1-8.9 3.8z"/>
<path fill="#a8db34" d="M564.7 246.4l7.4-5.9 2.6-1-7.4 5.7z"/>
<path fill="#c8e020" d="M612.8 225.8l7.4-2.9 1.3.1-7.4 2.9z"/>
<path fill="#7ad151" d="M523.5 273.1l4.7-6.4 4.1 1.3-4.7 7z"/>
<path fill="#63cb5f" d="M464.2 284.6l7.2-4.8 3.2 7.1-7.2 5.8z"/>
<path fill="#95d840" d="M547.3 258.1l7.4-8 4.5-1.4-7.4 7.8z"/>
<path fill="#a8db34" d="M563.2 247.1l7.4-6.1 1.5-.5-7.4 5.9z"/>
<path fill="#69cd5b" d="M493.2 283.3l7.7-8.9 4.1 5.7-7.8 11z"/>
<path fill="#67cc5c" d="M481.9 280.5l1.9-1.8 5 10-2 2.4z"/>
<path fill="#cde11d" d="M621.5 223l7.4-2.6 2.6.1-7.4 2.8z"/>
<path fill="#86d549" d="M532.3 268l7.4-9.3 4 0-7.4 9.7z"/>
<path fill="#b5de2b" d="M574.7 239.5l7.4-4.7 4-1.1-7.4 4.4z"/>
<path fill="#bddf26" d="M586.1 233.7l5.9-3.1 4-.7-5.9 2.9z"/>
<path fill="#c2df23" d="M596 229.9l8.8-3.8 4-.4-8.9 3.8z"/>
<path fill="#cae11f" d="M608.8 225.7l7.4-2.7 4-.1-7.4 2.9z"/>
<path fill="#75d054" d="M505 280.1l10.4-13 4.1 3.3-10.5 15.2z"/>
<path fill="#a8db34" d="M559.2 248.7l7.4-6.3 4-1.4-7.4 6.1z"/>
<path fill="#d0e11c" d="M620.2 222.9l7.4-2.5 1.3 0-7.4 2.6z"/>
<path fill="#6ece58" d="M483.8 278.7l4.4-4 5 8.6-4.4 5.4z"/>
<path fill="#b5de2b" d="M572.1 240.5l7.4-4.9 2.6-.8-7.4 4.7z"/>
<path fill="#98d83e" d="M543.7 258.7l7.4-7.9 3.6-.7-7.4 8z"/>
<path fill="#81d34d" d="M519.5 270.4l4.7-5.8 4 2.1-4.7 6.4z"/>
<path fill="#c0df25" d="M582.1 234.8l5.9-3.2 4-1-5.9 3.1z"/>
<path fill="#8bd646" d="M528.2 266.7l7.4-8.7 4.1.7-7.4 9.3z"/>
<path fill="#70cf57" d="M471.4 279.8l7.3-5.3 3.2 6-7.3 6.4z"/>
<path fill="#c8e020" d="M592 230.6l8.9-3.9 3.9-.6-8.8 3.8z"/>
<path fill="#b5de2b" d="M570.6 241l7.4-5 1.5-.4-7.4 4.9z"/>
<path fill="#d2e21b" d="M616.2 223l7.4-2.4 4-.2-7.4 2.5z"/>
<path fill="#cde11d" d="M604.8 226.1l7.4-2.7 4-.4-7.4 2.7z"/>
<path fill="#aadc32" d="M554.7 250.1l7.4-6.4 4.5-1.3-7.4 6.3z"/>
<path fill="#9dd93b" d="M539.7 258.7l7.3-7.6 4.1-.3-7.4 7.9z"/>
<path fill="#b8de29" d="M566.6 242.4l7.4-5.2 4-1.2-7.4 5z"/>
<path fill="#c0df25" d="M579.5 235.6l5.9-3.3 2.6-.7-5.9 3.2z"/>
<path fill="#7cd250" d="M488.2 274.7l7.7-6.9 5 6.6-7.7 8.9z"/>
<path fill="#7ad151" d="M478.7 274.5l1.9-1.5 3.2 5.7-1.9 1.8z"/>
<path fill="#84d44b" d="M500.9 274.4l10.4-10.8 4.1 3.5-10.4 13z"/>
<path fill="#cae11f" d="M588 231.6l8.8-4 4.1-.9-8.9 3.9z"/>
<path fill="#d5e21a" d="M612.2 223.4l7.4-2.2 4-.6-7.4 2.4z"/>
<path fill="#c2df23" d="M578 236l5.9-3.3 1.5-.4-5.9 3.3z"/>
<path fill="#d0e11c" d="M600.9 226.7l7.3-2.6 4-.7-7.4 2.7z"/>
<path fill="#aadc32" d="M551.1 250.8l7.4-6.4 3.6-.7-7.4 6.4z"/>
<path fill="#8bd646" d="M515.4 267.1l4.7-5 4.1 2.5-4.7 5.8z"/>
<path fill="#93d741" d="M524.2 264.6l7.3-7.8 4.1 1.2-7.4 8.7z"/>
<path fill="#81d34d" d="M480.6 273l4.4-3.3 3.2 5-4.4 4z"/>
<path fill="#b8de29" d="M562.1 243.7l7.4-5.2 4.5-1.3-7.4 5.2z"/>
<path fill="#a0da39" d="M535.6 258l7.4-7.1 4 .2-7.3 7.6z"/>
<path fill="#c2df23" d="M574 237.2l5.9-3.3 4-1.2-5.9 3.3z"/>
<path fill="#cae11f" d="M585.4 232.3l8.9-4 2.5-.7-8.8 4z"/>
<path fill="#d8e219" d="M608.2 224.1l7.5-2.2 3.9-.7-7.4 2.2z"/>
<path fill="#d2e21b" d="M596.8 227.6l7.4-2.6 4-.9-7.3 2.6z"/>
<path fill="#addc30" d="M547 251.1l7.4-6.2 4.1-.5-7.4 6.4z"/>
<path fill="#cde11d" d="M583.9 232.7l8.9-4 1.5-.4-8.9 4z"/>
<path fill="#9dd93b" d="M520.1 262.1l7.4-6.9 4 1.6-7.3 7.8z"/>
<path fill="#bade28" d="M558.5 244.4l7.4-5.1 3.6-.8-7.4 5.2z"/>
<path fill="#98d83e" d="M511.3 263.6l4.8-4.3 4 2.8-4.7 5z"/>
<path fill="#8ed645" d="M485 269.7l7.7-5.7 3.2 3.8-7.7 6.9z"/>
<path fill="#c5e021" d="M569.5 238.5l5.9-3.4 4.5-1.2-5.9 3.3z"/>
<path fill="#93d741" d="M495.9 267.8l10.5-8.4 4.9 4.2-10.4 10.8z"/>
<path fill="#a8db34" d="M531.5 256.8l7.4-6.5 4.1.6-7.4 7.1z"/>
<path fill="#cde11d" d="M579.9 233.9l8.9-4.1 4-1.1-8.9 4z"/>
<path fill="#d5e21a" d="M594.3 228.3l7.4-2.7 2.5-.6-7.4 2.6z"/>
<path fill="#dae319" d="M604.2 225l7.5-2.2 4-.9-7.5 2.2z"/>
<path fill="#b2dd2d" d="M543 250.9l7.4-5.8 4-.2-7.4 6.2z"/>
<path fill="#d8e219" d="M592.8 228.7l7.4-2.7 1.5-.4-7.4 2.7z"/>
<path fill="#bddf26" d="M554.4 244.9l7.4-4.9 4.1-.7-7.4 5.1z"/>
<path fill="#c8e020" d="M565.9 239.3l5.9-3.4 3.6-.8-5.9 3.4z"/>
<path fill="#dde318" d="M601.7 225.6l7.4-2.1 2.6-.7-7.5 2.2z"/>
<path fill="#d0e11c" d="M575.4 235.1l8.9-4.1 4.5-1.2-8.9 4.1z"/>
<path fill="#a5db36" d="M516.1 259.3l7.3-5.8 4.1 1.7-7.4 6.9z"/>
<path fill="#d8e219" d="M588.8 229.8l7.4-2.7 4-1.1-7.4 2.7z"/>
<path fill="#addc30" d="M527.5 255.2l7.4-5.7 4 .8-7.4 6.5z"/>
<path fill="#b8de29" d="M538.9 250.3l7.4-5.3 4.1.1-7.4 5.8z"/>
<path fill="#dfe318" d="M600.2 226l7.4-2.1 1.5-.4-7.4 2.1z"/>
<path fill="#a2da37" d="M506.4 259.4l4.7-3.4 5 3.3-4.8 4.3z"/>
<path fill="#a0da39" d="M492.7 264l10.5-7.2 3.2 2.6-10.5 8.4z"/>
<path fill="#c2df23" d="M550.4 245.1l7.4-4.7 4-.4-7.4 4.9z"/>
<path fill="#cae11f" d="M561.8 240l6-3.3 4-.8-5.9 3.4z"/>
<path fill="#d2e21b" d="M571.8 235.9l8.9-4 3.6-.9-8.9 4.1z"/>
<path fill="#dfe318" d="M596.2 227.1l7.4-2.1 4-1.1-7.4 2.1z"/>
<path fill="#dae319" d="M584.3 231l7.4-2.6 4.5-1.3-7.4 2.7z"/>
<path fill="#b5de2b" d="M523.4 253.5l7.4-5 4.1 1-7.4 5.7z"/>
<path fill="#bddf26" d="M534.9 249.5l7.3-4.8 4.1.3-7.4 5.3z"/>
<path fill="#b0dd2f" d="M511.1 256l7.3-4.8 5 2.3-7.3 5.8z"/>
<path fill="#c5e021" d="M546.3 245l7.4-4.3 4.1-.3-7.4 4.7z"/>
<path fill="#cde11d" d="M557.8 240.4l5.9-3 4.1-.7-6 3.3z"/>
<path fill="#d5e21a" d="M567.8 236.7l8.9-3.8 4-1-8.9 4z"/>
<path fill="#b0dd2f" d="M503.2 256.8l4.7-2.9 3.2 2.1-4.7 3.4z"/>
<path fill="#e2e418" d="M591.7 228.4l7.4-2.1 4.5-1.3-7.4 2.1z"/>
<path fill="#dde318" d="M580.7 231.9l7.4-2.5 3.6-1-7.4 2.6z"/>
<path fill="#c2df23" d="M530.8 248.5l7.4-4.2 4 .4-7.3 4.8z"/>
<path fill="#d0e11c" d="M553.7 240.7l5.9-2.8 4.1-.5-5.9 3z"/>
<path fill="#cae11f" d="M542.2 244.7l7.4-3.8 4.1-.2-7.4 4.3z"/>
<path fill="#d8e219" d="M563.7 237.4l8.9-3.6 4.1-.9-8.9 3.8z"/>
<path fill="#bddf26" d="M518.4 251.2l7.4-4.1 5 1.4-7.4 5z"/>
<path fill="#dde318" d="M576.7 232.9l7.4-2.5 4-1-7.4 2.5z"/>
<path fill="#bade28" d="M507.9 253.9l7.3-4.1 3.2 1.4-7.3 4.8z"/>
<path fill="#e5e419" d="M588.1 229.4l7.4-2 3.6-1.1-7.4 2.1z"/>
<path fill="#d2e21b" d="M549.6 240.9l5.9-2.6 4.1-.4-5.9 2.8z"/>
<path fill="#dae319" d="M559.6 237.9l8.9-3.3 4.1-.8-8.9 3.6z"/>
<path fill="#e5e419" d="M584.1 230.4l7.4-1.8 4-1.2-7.4 2z"/>
<path fill="#d0e11c" d="M538.2 244.3l7.4-3.4 4 0-7.4 3.8z"/>
<path fill="#dfe318" d="M572.6 233.8l7.4-2.3 4.1-1.1-7.4 2.5z"/>
<path fill="#cae11f" d="M525.8 247.1l7.4-3.4 5 .6-7.4 4.2z"/>
<path fill="#c5e021" d="M515.2 249.8l7.4-3.5 3.2.8-7.4 4.1z"/>
<path fill="#e7e419" d="M580 231.5l7.4-1.8 4.1-1.1-7.4 1.8z"/>
<path fill="#dde318" d="M555.5 238.3l9-3 4-.7-8.9 3.3z"/>
<path fill="#d8e219" d="M545.6 240.9l5.9-2.3 4-.3-5.9 2.6z"/>
<path fill="#e2e418" d="M568.5 234.6l7.4-2.1 4.1-1-7.4 2.3z"/>
<path fill="#d5e21a" d="M533.2 243.7l7.4-2.9 5 .1-7.4 3.4z"/>
<path fill="#d0e11c" d="M522.6 246.3l7.4-3 3.2.4-7.4 3.4z"/>
<path fill="#eae51a" d="M575.9 232.5l7.5-1.6 4-1.2-7.4 1.8z"/>
<path fill="#dfe318" d="M551.5 238.6l8.9-2.6 4.1-.7-9 3z"/>
<path fill="#e5e419" d="M564.5 235.3l7.4-1.9 4-.9-7.4 2.1z"/>
<path fill="#dde318" d="M540.6 240.8l5.9-1.8 5-.4-5.9 2.3z"/>
<path fill="#dae319" d="M530 243.3l7.4-2.5 3.2 0-7.4 2.9z"/>
<path fill="#ece51b" d="M571.9 233.4l7.4-1.4 4.1-1.1-7.5 1.6z"/>
<path fill="#e7e419" d="M560.4 236l7.4-1.7 4.1-.9-7.4 1.9z"/>
<path fill="#e5e419" d="M546.5 239l8.9-2.3 5-.7-8.9 2.6z"/>
<path fill="#dfe318" d="M537.4 240.8l5.9-1.6 3.2-.2-5.9 1.8z"/>
<path fill="#ece51b" d="M567.8 234.3l7.4-1.2 4.1-1.1-7.4 1.4z"/>
<path fill="#eae51a" d="M555.4 236.7l7.4-1.3 5-1.1-7.4 1.7z"/>
<path fill="#e7e419" d="M543.3 239.2l8.9-2 3.2-.5-8.9 2.3z"/>
<path fill="#efe51c" d="M562.8 235.4l7.4-1 5-1.3-7.4 1.2z"/>
<path fill="#ece51b" d="M552.2 237.2l7.4-1.2 3.2-.6-7.4 1.3z"/>
<path fill="#f1e51d" d="M559.6 236l7.4-.8 3.2-.8-7.4 1z"/>
</g>
<circle cx="326.5" cy="96.2" r="17.3" fill="#000080"/>
</svg></body></html>
